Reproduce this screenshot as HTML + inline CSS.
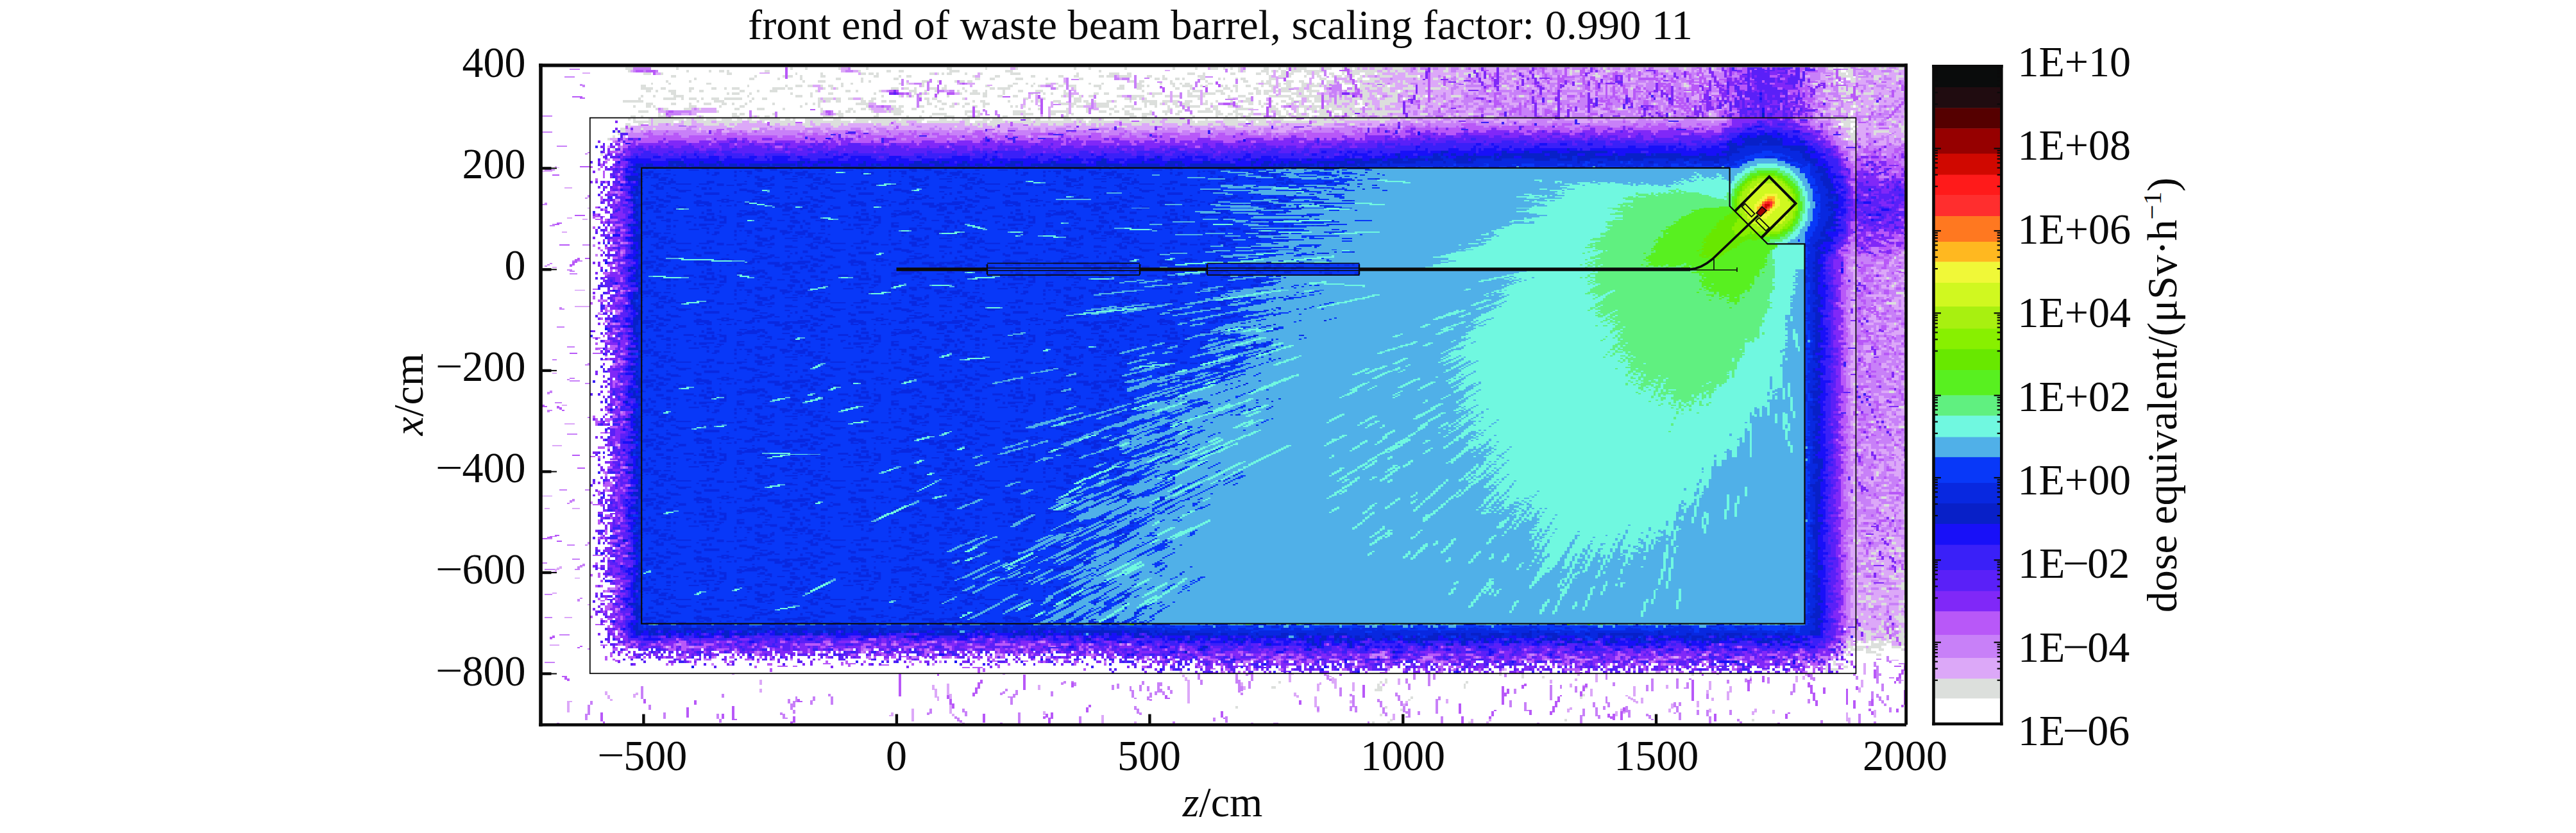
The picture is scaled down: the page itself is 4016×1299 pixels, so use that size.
<!DOCTYPE html><html><head><meta charset="utf-8"><style>html,body{margin:0;padding:0;background:#fff;width:4016px;height:1299px;overflow:hidden}svg{display:block}text{font-family:"Liberation Serif",serif;fill:#0a0a0a}</style></head><body>
<svg width="4016" height="1299" viewBox="0 0 4016 1299">
<rect width="4016" height="1299" fill="#fff"/>
<g transform="translate(840.86,104.93) scale(3.947,1.96925)" shape-rendering="crispEdges"><defs><pattern id="bgtex" patternUnits="userSpaceOnUse" width="61" height="47"><rect width="61" height="47" fill="#0838f8"/><path fill="#0828e0" d="M1 0h1v1h-1zM25 0h3v1h-3zM36 0h3v1h-3zM45 0h2v1h-2zM48 0h1v1h-1zM3 1h2v1h-2zM6 1h1v1h-1zM29 1h2v1h-2zM36 1h5v1h-5zM46 1h3v1h-3zM52 1h2v1h-2zM3 2h2v1h-2zM6 2h1v1h-1zM18 2h3v1h-3zM46 2h3v1h-3zM54 2h1v1h-1zM18 3h6v1h-6zM54 3h6v1h-6zM16 4h1v1h-1zM21 4h5v1h-5zM36 4h2v1h-2zM43 4h2v1h-2zM55 4h3v1h-3zM4 5h6v1h-6zM16 5h1v1h-1zM23 5h2v1h-2zM40 5h1v1h-1zM43 5h2v1h-2zM50 5h1v1h-1zM0 6h1v1h-1zM4 6h6v1h-6zM26 6h3v1h-3zM38 6h1v1h-1zM40 6h1v1h-1zM0 7h3v1h-3zM13 7h1v1h-1zM30 7h2v1h-2zM50 7h2v1h-2zM1 8h2v1h-2zM24 8h3v1h-3zM29 8h3v1h-3zM37 8h1v1h-1zM44 8h3v1h-3zM50 8h5v1h-5zM26 9h5v1h-5zM32 9h2v1h-2zM37 9h1v1h-1zM42 9h1v1h-1zM46 9h1v1h-1zM52 9h4v1h-4zM11 10h3v1h-3zM23 10h6v1h-6zM42 10h1v1h-1zM46 10h3v1h-3zM1 11h2v1h-2zM9 11h3v1h-3zM13 11h3v1h-3zM23 11h1v1h-1zM47 11h5v1h-5zM0 12h6v1h-6zM11 12h3v1h-3zM17 12h2v1h-2zM22 12h2v1h-2zM25 12h1v1h-1zM41 12h5v1h-5zM49 12h3v1h-3zM0 13h7v1h-7zM20 13h4v1h-4zM25 13h1v1h-1zM29 13h5v1h-5zM36 13h10v1h-10zM1 14h1v1h-1zM4 14h3v1h-3zM16 14h1v1h-1zM20 14h3v1h-3zM29 14h5v1h-5zM35 14h3v1h-3zM39 14h5v1h-5zM47 14h2v1h-2zM1 15h3v1h-3zM5 15h2v1h-2zM10 15h1v1h-1zM13 15h2v1h-2zM16 15h1v1h-1zM32 15h5v1h-5zM44 15h1v1h-1zM46 15h3v1h-3zM50 15h1v1h-1zM54 15h1v1h-1zM32 16h3v1h-3zM36 16h3v1h-3zM42 16h3v1h-3zM47 16h3v1h-3zM55 16h3v1h-3zM23 17h1v1h-1zM36 17h3v1h-3zM42 17h3v1h-3zM46 17h1v1h-1zM53 17h1v1h-1zM55 17h3v1h-3zM5 18h2v1h-2zM35 18h4v1h-4zM42 18h1v1h-1zM46 18h1v1h-1zM53 18h2v1h-2zM5 19h2v1h-2zM10 19h1v1h-1zM18 19h3v1h-3zM23 19h1v1h-1zM25 19h3v1h-3zM35 19h3v1h-3zM45 19h3v1h-3zM3 20h1v1h-1zM10 20h1v1h-1zM21 20h7v1h-7zM39 20h2v1h-2zM45 20h3v1h-3zM50 20h3v1h-3zM3 21h1v1h-1zM5 21h3v1h-3zM17 21h2v1h-2zM20 21h6v1h-6zM27 21h2v1h-2zM39 21h3v1h-3zM50 21h3v1h-3zM5 22h3v1h-3zM17 22h8v1h-8zM28 22h1v1h-1zM35 22h3v1h-3zM9 23h2v1h-2zM18 23h2v1h-2zM57 23h4v1h-4zM2 24h3v1h-3zM7 24h1v1h-1zM10 24h3v1h-3zM17 24h2v1h-2zM26 24h2v1h-2zM38 24h2v1h-2zM46 24h3v1h-3zM57 24h4v1h-4zM0 25h1v1h-1zM2 25h3v1h-3zM7 25h1v1h-1zM10 25h3v1h-3zM25 25h3v1h-3zM29 25h2v1h-2zM38 25h2v1h-2zM46 25h3v1h-3zM4 26h5v1h-5zM12 26h1v1h-1zM28 26h3v1h-3zM50 26h2v1h-2zM4 27h5v1h-5zM12 27h1v1h-1zM25 27h1v1h-1zM30 27h1v1h-1zM33 27h3v1h-3zM38 27h3v1h-3zM43 27h1v1h-1zM48 27h4v1h-4zM53 27h2v1h-2zM10 28h3v1h-3zM38 28h4v1h-4zM43 28h1v1h-1zM50 28h2v1h-2zM58 28h2v1h-2zM10 29h3v1h-3zM17 29h3v1h-3zM28 29h2v1h-2zM39 29h3v1h-3zM44 29h2v1h-2zM58 29h1v1h-1zM0 30h1v1h-1zM2 30h6v1h-6zM17 30h1v1h-1zM44 30h2v1h-2zM0 31h1v1h-1zM2 31h3v1h-3zM9 31h3v1h-3zM17 31h3v1h-3zM27 31h2v1h-2zM37 31h3v1h-3zM42 31h1v1h-1zM50 31h2v1h-2zM53 31h1v1h-1zM10 32h1v1h-1zM17 32h3v1h-3zM37 32h3v1h-3zM42 32h1v1h-1zM50 32h2v1h-2zM53 32h1v1h-1zM3 33h3v1h-3zM8 33h2v1h-2zM24 33h3v1h-3zM28 33h5v1h-5zM38 33h1v1h-1zM42 33h1v1h-1zM45 33h1v1h-1zM0 34h2v1h-2zM5 34h1v1h-1zM24 34h3v1h-3zM30 34h3v1h-3zM38 34h1v1h-1zM50 34h2v1h-2zM59 34h2v1h-2zM16 35h1v1h-1zM18 35h1v1h-1zM20 35h3v1h-3zM25 35h2v1h-2zM34 35h3v1h-3zM43 35h2v1h-2zM5 36h1v1h-1zM8 36h2v1h-2zM16 36h1v1h-1zM21 36h2v1h-2zM34 36h5v1h-5zM40 36h5v1h-5zM5 37h1v1h-1zM8 37h2v1h-2zM21 37h2v1h-2zM35 37h3v1h-3zM40 37h4v1h-4zM45 37h3v1h-3zM49 37h3v1h-3zM7 38h2v1h-2zM16 38h1v1h-1zM35 38h1v1h-1zM41 38h3v1h-3zM45 38h2v1h-2zM53 38h1v1h-1zM16 39h1v1h-1zM21 39h1v1h-1zM24 39h2v1h-2zM31 39h1v1h-1zM39 39h2v1h-2zM45 39h2v1h-2zM24 40h2v1h-2zM30 40h2v1h-2zM42 40h1v1h-1zM44 40h3v1h-3zM48 40h3v1h-3zM25 41h4v1h-4zM30 41h2v1h-2zM36 41h5v1h-5zM47 41h3v1h-3zM52 41h1v1h-1zM16 42h1v1h-1zM25 42h4v1h-4zM30 42h1v1h-1zM47 42h3v1h-3zM52 42h1v1h-1zM5 43h3v1h-3zM20 43h1v1h-1zM27 43h3v1h-3zM39 43h2v1h-2zM51 43h3v1h-3zM5 44h3v1h-3zM24 44h3v1h-3zM47 44h3v1h-3zM51 44h3v1h-3zM2 45h4v1h-4zM9 45h3v1h-3zM17 45h4v1h-4zM24 45h3v1h-3zM30 45h2v1h-2zM46 45h1v1h-1zM49 45h3v1h-3zM54 45h6v1h-6zM9 46h3v1h-3zM13 46h3v1h-3zM17 46h2v1h-2zM25 46h2v1h-2zM28 46h4v1h-4zM44 46h3v1h-3z"/></pattern></defs><path fill="#dcdfdc" d="M276 0h1v4h-1zm17 2h2v4h-2zm114 0h1v4h-1zm-45 2h1v4h-1zm-259 2h1v4h-1zm24 2h1v4h-1zm391 0h2v4h-2zm18 0h1v3h-1zm-225 2h3v3h-3zm200 0h1v4h-1zm-392 2h1v4h-1zm32 0h1v4h-1zm141 0h1v4h-1zm9 1h2v3h-2zm20 1h1v4h-1zm-46 2h1v4h-1zm58 0h3v4h-3zm184 0h2v3h-2zm-334 2h1v4h-1zm100 0h2v4h-2zm-176 2h1v4h-1zm68 0h2v4h-2zm150 1h3v3h-3zm-15 1h2v4h-2zm5 0h1v4h-1zm2 0h1v4h-1zm-200 2h2v4h-2zm94 0h3v4h-3zm95 0h3v4h-3zm7 0h1v4h-1zm-116 1h1v3h-1zm87 1h1v4h-1zm-34 1h2v3h-2zm50 0h1v3h-1zm219 0h1v3h-1zm-409 1h1v4h-1zm110 0h5v4h-5zm19 0h1v4h-1zm27 2h2v4h-2zm-155 2h1v4h-1zm105 0h1v4h-1zm83 0h1v4h-1zm3 0h1v4h-1zm219 0h1v3h-1zm-230 2h2v4h-2zm4 0h1v4h-1zm222 2h1v4h-1zm-460 6h3v4h-3zm111 0h2v4h-2zm371 0h1v4h-1zm-319 2h1v4h-1zm-188 4h2v4h-2zm496 272h1v4h-1zm-9 20h1v4h-1zm20 10h1v4h-1zm0 44h1v3h-1zm-15 24h2v4h-2zm15 0h1v4h-1zm-9 20h1v4h-1zm3 6h1v5h-1zm-9 6h2v4h-2zm13 2h3v3h-3zm-26 18h1v4h-1zm-3 4h1v6h-1zm-120 6h1v4h-1zm-54 4h1v4h-1zm31 4h1v4h-1z"/><path fill="none" stroke="#dcdfdc" stroke-width="1" d="M319 0.5h2m191 0h1m2 0h3m3 0h1m7 0h1m1 0h1m-212 1h1m196 0h2m10 0h3m2 0h1m-233 1h7m125 0h1m-133 1h3m1 0h4m7 0h2m1 1h4m41 0h4m-48 1h3m41 0h2m1 0h2m46 1h3m94 0h6m2 0h2m-106 1h2m38 0h1m50 0h2m4 0h5m-244 1h1m80 0h1m155 1h1m-362 1h3m161 0h1m-165 1h2m148 1h3m12 0h1m13 0h4m-21 1h1m16 0h1m2 0h1m-158 1h1m111 0h3m65 0h1m162 0h1m-344 1h2m110 0h2m21 0h2m43 0h2m103 0h1m51 0h3m-223 1h5m25 0h3m-33 1h3m28 0h2m206 0h1m-20 1h3m-63 1h2m58 0h6m19 0h1m-215 1h4m7 0h5m176 0h3m-362 1h1m36 0h1m1 0h1m138 0h4m177 0h2m-230 1h3m1 0h5m-9 1h9m-106 1h2m79 0h2m68 0h2m-152 1h1m149 0h1m171 0h5m-269 1h3m25 0h3m16 0h4m214 0h2m1 0h1m-241 1h4m15 0h1m217 0h1m-311 1h4m-3 1h3m-38 1h2m82 0h6m-89 1h1m82 0h1m1 0h4m-13 1h2m25 0h7m26 0h1m1 0h2m-94 1h1m29 0h1m5 0h1m20 0h5m28 0h4m7 3h3m-65 1h1m61 0h4m-16 1h5m1 0h1m196 0h1m-204 1h7m196 0h2m-321 1h3m54 0h5m2 0h3m275 0h1m-342 1h2m54 0h8m1 0h1m41 0h2m231 0h2m-403 1h9m45 0h10m35 0h4m3 0h5m-111 1h8m46 0h1m1 0h8m35 0h12m-203 1h2m136 0h5m9 0h3m111 0h5m-271 1h1m99 0h1m37 0h4m12 0h1m86 0h1m23 0h6m223 7h1m3 108h2m-1 1h1m0 8h1m-1 38h1m-19 236h1m0 3h4m-3 1h3m11 1h3m-8 1h1m3 0h4m-4 1h3m-5 1h1m2 0h2m-1 4h2m-62 27h1m-66 9h1"/><path fill="none" stroke="#dcdfdc" stroke-width="2" d="M34 1h3m17 0h1m44 0h1m5 0h1m12 0h1m10 0h1m31 0h2m13 0h1m11 0h1m22 0h1m5 0h1m13 0h1m18 0h1m8 0h1m5 0h3m2 0h1m2 0h1m12 0h2m4 0h1m2 0h1m1 0h1m1 0h4m5 0h1m1 0h3m4 0h1m4 0h1m1 0h1m2 0h1m2 0h3m4 0h4m6 0h1m10 0h1m5 0h1m55 0h1m31 0h1m10 0h1m45 0h2m26 0h2m-504 2h1m22 0h1m8 0h1m3 0h2m1 0h1m14 0h2m35 0h1m10 0h2m3 0h2m18 0h4m18 0h3m34 0h1m56 0h1m6 0h3m1 0h1m1 0h1m5 0h4m20 0h10m2 0h2m1 0h2m1 0h3m5 0h3m2 0h1m4 0h2m11 0h1m38 0h2m10 0h2m4 0h1m17 0h1m65 0h1m1 0h1m2 0h3m6 0h1m9 0h2m-496 2h3m4 0h1m25 0h2m25 0h1m9 0h1m15 0h2m1 0h2m1 0h1m20 0h2m1 0h1m1 0h1m1 0h2m5 0h1m5 0h1m11 0h4m22 0h1m12 0h4m3 0h2m22 0h3m3 0h1m10 0h2m8 0h2m2 0h1m8 0h2m5 0h2m1 0h2m4 0h2m3 0h1m8 0h4m1 0h2m5 0h1m3 0h1m41 0h1m32 0h1m95 0h3m1 0h2m12 0h2m-481 2h2m31 0h1m10 0h1m1 0h2m11 0h2m19 0h2m8 0h1m2 0h2m24 0h1m8 0h2m12 0h2m9 0h2m4 0h2m8 0h2m1 0h3m2 0h5m6 0h2m4 0h1m13 0h3m25 0h1m3 0h3m1 0h1m5 0h1m4 0h2m4 0h1m1 0h2m1 0h1m2 0h1m2 0h1m1 0h1m5 0h5m5 0h5m11 0h2m8 0h1m5 0h1m18 0h2m116 0h1m15 0h3m6 0h3m-478 2h1m21 0h2m9 0h1m22 0h2m21 0h2m30 0h2m4 0h2m8 0h3m9 0h1m12 0h2m28 0h2m1 0h2m3 0h2m1 0h1m6 0h2m5 0h1m1 0h1m6 0h2m9 0h3m17 0h3m8 0h1m3 0h2m3 0h4m15 0h1m5 0h2m8 0h2m19 0h2m45 0h1m89 0h1m5 0h2m-479 2h1m8 0h1m44 0h1m5 0h3m17 0h1m26 0h1m6 0h1m1 0h2m1 0h2m62 0h2m2 0h2m10 0h1m13 0h1m14 0h2m5 0h1m1 0h2m6 0h3m2 0h2m15 0h1m5 0h1m1 0h5m2 0h1m6 0h1m1 0h1m20 0h1m166 0h1m-486 2h1m6 0h1m14 0h2m55 0h1m18 0h1m2 0h1m41 0h2m3 0h1m2 0h1m4 0h2m2 0h1m2 0h1m9 0h1m4 0h1m13 0h2m7 0h1m3 0h2m2 0h1m1 0h2m7 0h2m17 0h1m2 0h3m5 0h3m8 0h1m1 0h2m9 0h3m3 0h1m12 0h1m3 0h2m12 0h1m4 0h1m4 0h1m43 0h3m40 0h1m50 0h2m4 0h1m3 0h1m20 0h1m-224 1h1m-272 1h2m40 0h1m14 0h1m3 0h3m2 0h2m3 0h1m2 0h2m44 0h1m24 0h2m7 0h1m2 0h1m7 0h2m2 0h3m7 0h3m7 0h2m5 0h3m1 0h1m9 0h1m3 0h4m3 0h1m1 0h1m5 0h1m1 0h1m2 0h2m3 0h2m4 0h1m9 0h2m7 0h4m1 0h1m14 0h5m2 0h2m1 0h1m1 0h2m5 0h2m35 0h2m8 0h1m61 0h2m71 0h2m10 0h1m-498 2h5m3 0h2m9 0h2m7 0h2m3 0h1m2 0h3m13 0h5m1 0h2m12 0h1m2 0h1m1 0h1m21 0h3m2 0h2m2 0h1m5 0h3m2 0h2m6 0h1m10 0h2m1 0h5m18 0h1m6 0h1m9 0h1m6 0h3m5 0h2m13 0h2m4 0h1m12 0h3m9 0h2m5 0h1m10 0h2m2 0h1m23 0h3m10 0h5m4 0h1m1 0h4m2 0h1m6 0h1m16 0h1m27 0h1m20 0h1m81 0h1m1 0h1m-474 2h2m2 0h1m4 0h3m5 0h1m3 0h2m14 0h2m5 0h1m4 0h3m15 0h1m11 0h2m2 0h1m8 0h1m11 0h3m3 0h1m3 0h1m8 0h1m2 0h1m2 0h2m3 0h1m12 0h2m5 0h3m8 0h1m30 0h1m17 0h1m1 0h3m6 0h3m3 0h1m12 0h4m1 0h1m1 0h4m2 0h3m1 0h5m2 0h1m8 0h3m3 0h2m11 0h1m1 0h1m33 0h2m131 0h3m10 0h1m5 0h1m-475 2h2m20 0h1m1 0h3m4 0h1m15 0h1m14 0h2m16 0h1m15 0h1m2 0h1m1 0h1m12 0h1m3 0h4m25 0h1m2 0h1m4 0h2m10 0h2m2 0h2m15 0h1m1 0h4m10 0h2m4 0h5m2 0h2m9 0h2m4 0h2m9 0h3m1 0h1m2 0h1m24 0h2m12 0h2m175 0h2m1 0h4m-487 2h1m4 0h1m7 0h4m25 0h1m18 0h3m31 0h1m6 0h1m2 0h1m1 0h1m2 0h1m10 0h1m19 0h2m4 0h2m17 0h1m1 0h1m1 0h1m2 0h1m3 0h2m9 0h2m4 0h5m3 0h1m4 0h2m1 0h3m3 0h5m1 0h1m9 0h1m3 0h3m20 0h10m10 0h2m9 0h1m1 0h1m4 0h2m7 0h2m1 0h1m2 0h1m7 0h4m23 0h2m125 0h2m15 0h2m-494 2h1m9 0h5m2 0h1m2 0h3m2 0h1m3 0h3m2 0h7m4 0h1m3 0h2m20 0h1m1 0h4m6 0h2m3 0h1m3 0h2m19 0h2m1 0h2m10 0h1m31 0h1m31 0h2m1 0h2m1 0h1m1 0h1m20 0h1m18 0h2m15 0h2m5 0h1m17 0h3m1 0h2m4 0h1m2 0h5m7 0h1m1 0h1m54 0h1m107 0h1m9 0h1m3 0h2m-494 2h8m21 0h1m6 0h4m10 0h1m26 0h2m1 0h2m12 0h2m1 0h2m3 0h2m1 0h3m12 0h1m3 0h2m12 0h1m2 0h2m9 0h1m8 0h1m8 0h3m9 0h2m2 0h1m4 0h2m1 0h1m5 0h1m4 0h6m2 0h3m6 0h3m5 0h1m3 0h1m5 0h1m2 0h1m12 0h1m3 0h2m8 0h2m10 0h5m1 0h1m3 0h4m3 0h7m14 0h1m3 0h1m40 0h2m107 0h1m-466 2h3m7 0h2m5 0h1m5 0h3m4 0h2m2 0h1m4 0h1m10 0h1m12 0h1m2 0h1m16 0h5m23 0h2m4 0h2m2 0h1m1 0h1m2 0h2m5 0h3m32 0h2m4 0h2m23 0h3m1 0h1m1 0h1m6 0h3m5 0h2m1 0h1m9 0h1m4 0h2m4 0h1m4 0h1m3 0h2m1 0h1m6 0h1m6 0h2m1 0h2m3 0h2m1 0h1m1 0h1m2 0h1m3 0h4m19 0h1m84 0h1m70 0h2m9 0h1m4 0h2m-492 2h1m4 0h2m1 0h1m13 0h3m9 0h1m7 0h2m22 0h1m25 0h1m9 0h2m1 0h2m6 0h2m4 0h1m5 0h2m3 0h1m7 0h1m10 0h1m1 0h1m2 0h1m18 0h1m1 0h3m12 0h1m3 0h4m8 0h1m4 0h1m2 0h2m19 0h2m3 0h1m7 0h1m3 0h2m9 0h4m1 0h4m1 0h5m2 0h1m1 0h3m5 0h3m2 0h2m2 0h2m10 0h2m168 0h1m1 0h1m3 0h1m-479 2h1m2 0h2m6 0h3m3 0h1m13 0h2m7 0h3m7 0h1m25 0h2m3 0h2m1 0h1m5 0h1m3 0h3m4 0h2m9 0h2m33 0h1m3 0h1m10 0h1m16 0h2m3 0h1m3 0h4m25 0h2m23 0h4m2 0h1m9 0h3m6 0h7m1 0h3m5 0h1m3 0h1m6 0h1m7 0h1m7 0h1m21 0h2m21 0h1m24 0h2m27 0h1m54 0h2m2 0h1m12 0h1m4 0h1m1 0h1m-496 2h4m27 0h1m47 0h1m2 0h2m1 0h1m6 0h1m5 0h1m1 0h5m7 0h1m16 0h3m1 0h2m13 0h5m10 0h7m12 0h3m3 0h2m2 0h2m8 0h1m4 0h3m3 0h2m6 0h6m1 0h2m5 0h2m5 0h1m6 0h1m16 0h1m1 0h4m2 0h1m3 0h4m1 0h3m1 0h15m166 0h1m6 0h2m3 0h1m-473 2h1m1 0h1m26 0h2m1 0h2m11 0h1m24 0h3m13 0h1m6 0h3m12 0h6m7 0h1m4 0h1m13 0h3m1 0h4m7 0h2m4 0h1m1 0h1m14 0h1m5 0h4m3 0h4m5 0h1m3 0h2m14 0h3m2 0h2m1 0h3m2 0h2m3 0h2m10 0h1m1 0h2m2 0h1m4 0h4m2 0h2m1 0h1m9 0h2m1 0h5m13 0h3m11 0h1m4 0h2m77 0h1m15 0h1m61 0h1m14 0h1m-504 2h2m2 0h1m6 0h3m2 0h1m9 0h1m1 0h1m11 0h3m5 0h1m1 0h1m2 0h2m21 0h4m2 0h2m12 0h2m11 0h1m4 0h1m3 0h1m5 0h4m5 0h2m1 0h2m9 0h2m6 0h1m15 0h2m24 0h3m2 0h2m18 0h1m8 0h1m3 0h1m3 0h1m1 0h1m1 0h2m11 0h3m1 0h1m2 0h5m1 0h1m14 0h1m1 0h1m9 0h1m4 0h2m20 0h1m14 0h3m-342 2h1m1 0h1m5 0h1m1 0h12m1 0h2m1 0h4m1 0h4m2 0h4m2 0h2m2 0h2m3 0h8m2 0h2m1 0h1m4 0h7m4 0h3m6 0h17m1 0h9m6 0h3m2 0h1m3 0h3m5 0h3m1 0h4m13 0h2m3 0h1m5 0h3m2 0h3m3 0h3m1 0h1m6 0h4m5 0h8m17 0h1m6 0h6m3 0h8m2 0h5m10 0h6m1 0h2m1 0h2m2 0h9m1 0h8m3 0h1m2 0h2m11 0h1m156 0h3m1 0h2m5 0h2m-488 2h7m1 0h8m2 0h1m6 0h6m2 0h10m3 0h3m2 0h1m2 0h10m4 0h2m1 0h15m1 0h6m11 0h4m4 0h2m2 0h13m6 0h5m1 0h6m12 0h15m1 0h1m1 0h2m1 0h10m16 0h2m2 0h9m1 0h2m1 0h7m3 0h9m1 0h1m1 0h1m1 0h3m2 0h1m3 0h11m3 0h7m1 0h3m14 0h2m12 0h1m167 0h6m7 0h1m6 0h2m-502 2h2m7 0h1m1 0h2m5 0h1m12 0h6m2 0h2m2 0h1m13 0h2m2 0h3m1 0h2m3 0h3m2 0h2m4 0h4m1 0h2m10 0h1m2 0h3m5 0h3m25 0h2m1 0h1m20 0h3m3 0h2m1 0h3m5 0h2m2 0h2m4 0h1m11 0h4m3 0h5m6 0h2m3 0h7m2 0h3m2 0h5m6 0h6m3 0h2m27 0h2m193 0h3m19 0h1m-503 2h1m38 0h3m28 0h3m8 0h2m46 0h1m8 0h2m4 0h1m48 0h1m1 0h2m33 0h1m9 0h3m233 0h2m1 0h4m1 0h2m6 0h1m5 0h1m3 0h3m-500 2h1m4 0h1m17 0h1m20 0h3m431 0h1m19 0h2m-510 2h1m485 0h2m1 0h1m7 0h6m5 0h1m-508 2h1m485 0h3m7 0h1m11 0h1m-511 2h1m488 0h2m15 0h1m-509 2h1m487 0h1m1 0h3m18 0h2m-21 2h1m-491 6h1m-6 4h1m514 78h1m-5 4h1m-17 8h1m12 8h1m2 4h1m-2 2h1m-16 4h1m16 2h3m-7 8h4m-17 2h1m9 2h1m5 12h1m-17 16h1m6 8h1m-8 14h1m16 0h1m-18 10h1m19 0h1m-7 6h2m-16 8h1m17 4h2m-19 4h1m5 8h1m-8 2h1m12 2h1m4 0h3m-13 2h1m11 12h1m-5 2h1m-17 2h1m1 0h1m-3 26h1m11 2h1m-2 10h2m-1 6h2m6 0h1m-10 4h1m3 6h1m4 0h1m-1 6h1m-16 8h2m6 2h3m-16 2h1m1 0h1m-2 2h1m13 0h2m0 4h2m-10 2h1m4 0h2m1 0h4m-14 2h2m6 2h1m2 0h1m-13 2h3m0 2h1m-7 2h2m2 0h1m3 0h1m-7 4h1m5 0h1m6 0h1m-13 2h1m10 0h3m-20 2h1m1 0h1m8 0h1m4 0h1m3 0h1m-7 2h2m-1 2h3m1 0h1m-14 4h1m12 0h2m-20 2h1m2 0h2m9 0h1m1 0h4m-10 2h2m6 0h2m-15 2h1m6 0h1m-12 4h1m7 2h2m-10 2h3m2 0h2m9 0h2m-14 2h1m4 0h2m-7 2h2m10 0h2m-2 2h1m1 0h1m-6 2h1m-13 2h1m6 0h1m7 0h1m-18 2h1m4 0h1m9 0h4m-3 2h4m-17 2h1m13 0h3m-8 2h1m-4 2h1m7 0h1m-17 2h2m6 0h2m4 0h1m1 0h2m-11 2h1m1 0h2m6 0h1m-15 2h4m3 2h2m-5 2h2m2 0h1m1 0h2m-20 2h2m2 0h1m1 0h1m1 0h1m1 0h1m2 0h2m1 0h2m-17 2h1m8 0h6m6 0h1m-22 2h2m1 0h4m1 0h5m4 0h4m-23 2h2m1 0h5m1 0h2m3 0h2m7 0h1m-15 2h4m-12 2h2m10 0h2m-13 6h1m-3 4h2m-7 2h3m-134 4h1m75 0h1m-60 2h1m-105 4h1m39 0h1m33 0h1m-36 2h1m-43 2h2m40 0h2m-3 2h3m79 4h1m-69 2h1m66 0h1m-69 2h1m-69 6h1m58 0h1m5 2h1m-9 4h1m3 4h1m68 0h1m73 0h1m-151 2h1m5 0h1m31 0h1"/><path fill="#dca8f8" d="M277 0h1v4h-1zm82 0h1v4h-1zm-69 2h1v4h-1zm103 0h1v4h-1zm11 0h1v4h-1zm2 0h1v4h-1zm27 0h1v4h-1zm-128 1h1v5h-1zm67 1h1v5h-1zm4 0h1v3h-1zm19 0h1v4h-1zm125 0h1v6h-1zm-67 2h1v4h-1zm77 0h1v4h-1zm-323 2h1v4h-1zm221 0h2v3h-2zm-137 1h1v6h-1zm13 0h1v4h-1zm85 0h1v3h-1zm-2 1h1v4h-1zm60 2h1v3h-1zm4 0h1v4h-1zm-141 2h1v4h-1zm37 2h3v4h-3zm53 0h1v4h-1zm20 0h1v4h-1zm2 0h1v4h-1zm5 0h1v4h-1zm-137 1h1v4h-1zm2 0h1v4h-1zm-31 1h1v12h-1zm100 0h3v4h-3zm69 0h2v6h-2zm-181 1h1v9h-1zm66 0h1v3h-1zm127 0h1v3h-1zm-84 1h2v4h-2zm57 0h2v3h-2zm120 0h4v4h-4zm-342 1h1v4h-1zm3 1h1v8h-1zm208 0h2v4h-2zm55 0h1v3h-1zm-4 1h3v3h-3zm-168 1h1v3h-1zm14 0h2v4h-2zm39 0h1v3h-1zm14 0h3v4h-3zm-163 1h1v4h-1zm131 1h1v4h-1zm7 0h3v4h-3zm59 0h1v4h-1zm132 0h2v4h-2zm-318 1h1v4h-1zm7 1h1v9h-1zm10 0h1v4h-1zm140 0h1v4h-1zm73 0h1v4h-1zm-242 2h1v3h-1zm253 0h1v5h-1zm-242 2h1v8h-1zm327 0h1v3h-1zm5 0h1v5h-1zm-284 1h1v4h-1zm158 2h1v5h-1zm40 0h1v3h-1zm-70 1h2v3h-2zm-333 4h1v6h-1zm237 2h1v4h-1zm257 0h1v4h-1zm-6 1h2v3h-2zm-350 1h4v3h-4zm-145 4h3v4h-3zm161 0h2v4h-2zm-164 1h2v3h-2zm499 5h2v6h-2zm-15 12h2v4h-2zm1 96h1v4h-1zm0 10h1v4h-1zm-1 13h2v3h-2zm1 5h1v5h-1zm-1 5h2v5h-2zm0 6h2v3h-2zm10 3h1v4h-1zm-10 2h2v6h-2zm1 6h1v6h-1zm7 1h1v3h-1zm-3 7h3v4h-3zm12 2h1v3h-1zm-7 2h2v4h-2zm-10 4h2v4h-2zm0 16h2v6h-2zm1 10h1v6h-1zm20 4h1v4h-1zm0 9h1v3h-1zm-21 1h2v4h-2zm0 4h1v4h-1zm14 0h2v4h-2zm4 0h4v4h-4zm-17 4h1v4h-1zm6 28h1v4h-1zm4 10h2v4h-2zm-10 4h1v4h-1zm8 2h1v6h-1zm-9 4h2v4h-2zm1 6h1v4h-1zm-2 7h3v3h-3zm1 3h1v4h-1zm20 0h2v4h-2zm-19 18h1v4h-1zm20 0h1v4h-1zm-4 2h1v4h-1zm2 6h3v4h-3zm-2 14h1v4h-1zm-10 4h1v4h-1zm-1 40h1v6h-1zm9 2h4v4h-4zm-14 12h1v5h-1zm20 6h1v4h-1zm-21 2h4v4h-4zm5 2h1v3h-1zm0 4h1v4h-1zm11 3h3v3h-3zm-20 3h1v4h-1zm9 14h1v9h-1zm-106 8h1v7h-1zm-121 1h1v6h-1zm200 1h1v5h-1zm3 0h1v3h-1zm-186 2h2v4h-2zm26 0h1v5h-1zm-252 1h1v4h-1zm312 0h1v3h-1zm123 0h1v6h-1zm-266 1h1v18h-1zm206 0h1v7h-1zm-185 1h1v3h-1zm44 0h1v7h-1zm-160 1h1v8h-1zm153 0h1v4h-1zm93 0h1v3h-1zm-252 1h1v3h-1zm42 0h1v4h-1zm110 0h1v5h-1zm138 0h1v3h-1zm-167 1h1v3h-1zm154 0h1v8h-1zm38 0h1v4h-1zm51 1h1v4h-1zm-434 1h1v3h-1zm328 0h1v6h-1zm-259 1h1v5h-1zm305 0h1v3h-1zm-435 1h1v3h-1zm443 1h1v6h-1zm-442 2h1v3h-1zm135 0h1v3h-1zm144 1h1v8h-1zm-149 1h1v3h-1zm278 0h1v5h-1zm28 0h1v3h-1zm-105 1h1v4h-1zm-38 1h1v3h-1zm137 1h1v5h-1zm-446 1h1v8h-1zm436 1h1v4h-1zm-285 1h1v7h-1zm-15 3h1v10h-1zm299 0h1v3h-1zm16 0h1v3h-1zm25 1h1v3h-1zm40 0h1v6h-1zm-328 1h1v3h-1zm226 0h1v4h-1zm91 1h1v4h-1zm-179 1h1v5h-1zm-115 1h1v7h-1zm294 2h2v3h-2zm-148 1h1v4h-1z"/><path fill="none" stroke="#dca8f8" stroke-width="1" d="M407 0.5h1m6 0h1m87 0h1m17 0h1m1 0h5m3 0h1m1 0h1m3 0h1m-131 1h2m5 0h2m42 0h1m65 0h4m5 0h2m1 0h2m-290 1h2m122 0h1m3 0h3m45 0h4m24 0h4m8 0h4m57 0h1m-154 1h2m1 0h4m45 0h2m1 0h1m24 0h1m2 0h1m11 0h1m-450 1h3m67 0h4m324 0h2m12 0h2m29 0h2m44 0h1m-95 1h1m1 0h3m12 0h1m30 0h3m43 0h4m-221 1h2m23 0h1m41 0h2m2 0h2m17 0h3m4 0h1m19 0h2m6 0h2m26 0h2m79 0h1m-235 1h3m64 0h1m3 0h1m19 0h2m4 0h2m23 0h1m2 0h1m26 0h3m-153 1h3m10 0h2m42 0h2m8 0h2m14 0h1m2 0h1m10 0h2m27 0h3m-72 1h1m1 0h1m8 0h1m12 0h3m21 0h1m1 0h1m18 0h2m-59 1h1m2 0h2m7 0h4m18 0h2m12 0h2m5 0h1m6 0h2m7 0h2m7 0h1m2 0h1m12 0h2m46 0h2m10 0h2m12 0h6m3 0h1m-177 1h4m6 0h3m19 0h1m13 0h1m5 0h2m5 0h1m5 0h5m7 0h2m1 0h4m58 0h1m26 0h4m-172 1h1m38 0h1m52 0h2m-155 1h2m151 0h3m-282 1h2m183 0h4m19 0h2m2 0h1m15 0h3m1 0h1m93 0h2m6 0h1m-149 1h3m19 0h1m2 0h2m15 0h5m54 0h1m41 0h1m14 0h2m-160 1h2m39 0h2m23 0h2m1 0h1m75 0h3m23 0h2m-174 1h3m38 0h3m24 0h1m34 0h1m41 0h4m22 0h3m-326 1h2m153 0h2m46 0h1m21 0h2m73 0h1m16 0h7m-323 1h1m153 0h6m42 0h2m21 0h1m15 0h1m3 0h1m2 0h1m50 0h2m15 0h6m-107 1h1m-136 1h2m20 0h1m111 0h2m30 0h1m64 0h1m-232 1h1m106 0h4m54 0h2m4 0h1m57 0h1m-123 1h3m14 0h3m45 0h1m-266 1h1m75 0h2m152 0h1m9 0h1m9 0h1m78 0h1m-253 1h1m161 0h2m10 0h1m-50 1h1m43 0h1m61 0h1m1 0h1m28 0h2m-331 1h1m191 0h2m42 0h2m62 0h6m23 0h1m-196 1h2m74 0h3m114 0h3m-348 1h2m122 0h1m27 0h3m47 0h1m22 0h1m4 0h1m27 0h2m85 0h2m2 0h1m-343 1h1m209 0h1m21 0h2m3 0h1m75 0h4m22 0h1m-336 1h2m71 0h1m235 0h3m21 0h1m-193 1h5m15 0h4m39 0h2m96 0h1m-224 1h4m58 0h6m13 0h5m39 0h1m22 0h2m35 0h2m-155 1h1m97 0h3m28 0h1m9 0h1m68 0h1m1 0h5m3 0h1m-122 1h4m38 0h2m69 0h4m2 0h3m-207 1h3m91 0h2m24 0h1m-122 1h4m71 0h1m19 0h1m15 0h1m-116 1h1m117 0h1m93 0h2m-215 1h2m57 0h1m19 0h1m38 0h2m6 0h1m67 0h3m-115 1h1m4 0h9m31 0h7m76 0h3m-131 1h2m3 0h4m1 0h4m32 0h6m-225 1h3m104 0h7m36 0h5m140 0h2m7 0h3m-307 1h2m105 0h5m1 0h1m23 0h2m11 0h3m1 0h1m64 0h2m80 0h1m-275 1h2m20 0h3m256 0h2m-283 1h3m19 0h4m-244 1h19m3 0h1m128 0h21m13 0h7m16 0h8m28 0h9m5 0h9m2 0h2m-271 1h23m123 0h26m13 0h6m19 0h6m26 0h11m5 0h4m4 0h5m-272 1h1m28 0h10m68 0h12m16 0h15m27 0h6m307 0h4m4 0h5m-474 1h6m3 0h1m67 0h13m16 0h6m4 0h5m27 0h5m308 0h13m-5 1h5m-5 1h2m1 0h2m-25 1h1m21 0h4m-5 1h5m-8 1h1m2 6h4m-3 1h3m-19 1h1m-494 6h1m-1 5h1m-21 5h1m-1 1h2m-8 3h5m5 13h3m-2 24h2m4 1h2m-10 10h2m524 26h3m-3 1h1m-531 1h2m529 2h1m-2 2h2m-2 1h4m-10 7h1m0 4h5m-2 1h2m-4 7h2m-2 1h1m0 2h1m-6 3h3m-516 1h6m506 0h1m1 0h2m-7 3h1m2 0h1m1 0h3m-8 1h2m4 0h2m-4 1h1m-2 1h1m2 1h1m4 14h5m-7 1h7m-14 1h2m7 0h2m-1 1h1m-3 7h3m-2 1h2m-18 2h2m13 1h1m-1 1h2m-12 3h5m-5 1h4m7 1h1m-12 2h3m-2 1h2m-2 3h1m-2 1h2m-520 5h2m510 0h3m-3 1h1m11 19h4m-4 1h3m-523 4h2m523 2h3m-527 13h4m505 8h1m8 4h2m-2 1h1m-524 4h4m525 9h2m-1 1h1m-508 2h1m494 15h3m1 0h3m-7 1h7m-7 8h1m-7 1h1m1 0h1m-518 13h2m9 0h3m502 7h2m7 6h1m3 0h1m-2 1h2m-5 3h1m-1 1h2m-3 1h6m-5 1h5m-4 3h3m-3 1h2m1 1h2m-3 1h1m1 0h1m-4 3h3m1 0h5m-9 1h9m-9 3h4m-3 1h3m-6 3h2m1 0h1m2 0h1m-7 1h1m0 1h2m5 2h1m-5 2h4m3 0h2m-9 1h5m1 0h1m1 0h1m-9 1h2m2 0h3m-530 1h1m518 0h6m3 0h2m-531 1h2m-3 1h2m-2 1h1m-2 1h2m521 10h3m-526 7h2m12 9h1m515 5h3m-3 1h4m-529 4h3m507 1h8m-7 1h7m3 1h1m0 4h1m-14 8h3m4 0h5m-12 1h5m2 0h1m7 3h2m-532 3h4m288 23h2m14 2h1m0 1h1m164 0h1m-224 2h2m281 0h1m-231 2h1m-2 1h2m103 1h1m-258 3h2m312 2h2m-433 1h1m-2 1h2m122 0h2m135 1h2m129 0h1m-274 1h2m141 0h1m130 0h1m-1 1h2m-1 1h2m-1 1h1m-422 1h2m419 0h2m-1 1h1m-128 3h2m99 1h1m-2 1h2m-101 2h1m171 0h2m-53 1h1m-291 2h2"/><path fill="none" stroke="#dca8f8" stroke-width="2" d="M119 1h3m64 0h2m76 0h1m33 0h1m24 0h1m1 0h2m1 0h2m3 0h1m1 0h2m4 0h3m2 0h1m5 0h1m2 0h3m5 0h1m1 0h1m2 0h3m3 0h4m1 0h3m1 0h3m5 0h1m6 0h2m2 0h3m13 0h1m2 0h1m1 0h1m3 0h2m4 0h3m1 0h1m2 0h6m4 0h2m1 0h2m4 0h2m3 0h1m39 0h1m3 0h1m19 0h1m-493 2h1m82 0h2m3 0h2m194 0h1m10 0h2m2 0h1m2 0h1m3 0h2m1 0h2m6 0h4m5 0h7m10 0h2m2 0h1m3 0h3m7 0h3m8 0h1m4 0h1m5 0h1m8 0h1m2 0h1m3 0h1m6 0h3m1 0h1m9 0h1m2 0h1m1 0h1m46 0h3m9 0h3m3 0h4m4 0h1m2 0h2m-493 2h2m78 0h1m29 0h1m16 0h1m159 0h5m1 0h3m1 0h7m2 0h10m1 0h2m16 0h3m1 0h1m3 0h2m8 0h1m8 0h3m7 0h4m14 0h3m7 0h2m63 0h1m14 0h5m2 0h4m1 0h1m-81 1h1m-287 1h2m54 0h1m90 0h1m5 0h1m1 0h3m1 0h1m5 0h5m7 0h1m2 0h3m8 0h4m2 0h1m21 0h1m8 0h2m1 0h1m15 0h1m3 0h1m4 0h1m6 0h2m1 0h2m11 0h1m4 0h1m43 0h2m4 0h2m2 0h1m14 0h1m6 0h4m-307 2h1m85 0h4m13 0h4m1 0h8m1 0h1m5 0h1m2 0h1m6 0h1m2 0h1m15 0h1m4 0h1m7 0h1m14 0h2m2 0h2m17 0h2m11 0h1m2 0h1m12 0h2m2 0h1m40 0h3m2 0h1m2 0h1m7 0h5m7 0h2m1 0h2m-394 2h1m86 0h1m85 0h3m1 0h1m1 0h1m5 0h2m1 0h6m1 0h1m1 0h9m1 0h5m23 0h1m1 0h3m14 0h3m16 0h1m1 0h1m16 0h1m12 0h1m8 0h1m48 0h3m9 0h4m3 0h2m-383 2h2m17 0h1m3 0h3m30 0h2m80 0h2m28 0h1m10 0h2m1 0h2m4 0h1m1 0h1m1 0h3m2 0h1m3 0h2m1 0h1m1 0h3m1 0h1m1 0h2m6 0h2m1 0h3m2 0h2m3 0h1m3 0h3m10 0h2m8 0h1m8 0h1m18 0h3m16 0h1m9 0h1m4 0h1m33 0h1m5 0h1m7 0h4m1 0h4m3 0h6m1 0h1m-428 2h3m39 0h1m19 0h1m27 0h2m2 0h1m100 0h1m4 0h1m20 0h2m2 0h1m4 0h5m2 0h1m1 0h4m1 0h4m2 0h3m21 0h1m8 0h2m4 0h2m2 0h1m13 0h2m2 0h2m1 0h2m2 0h1m4 0h2m3 0h1m17 0h1m5 0h1m48 0h1m7 0h2m5 0h1m2 0h1m4 0h5m-247 1h2m211 0h1m-394 1h2m4 0h1m26 0h1m66 0h1m87 0h2m2 0h2m22 0h2m3 0h2m3 0h5m15 0h2m1 0h1m6 0h6m3 0h2m2 0h3m1 0h3m3 0h1m2 0h2m4 0h1m8 0h3m1 0h1m3 0h1m9 0h1m9 0h1m4 0h1m2 0h1m4 0h1m4 0h1m4 0h1m55 0h1m5 0h3m1 0h2m1 0h3m1 0h1m5 0h1m-428 2h1m24 0h2m23 0h2m149 0h2m4 0h1m6 0h1m2 0h6m3 0h2m3 0h1m1 0h3m7 0h7m17 0h1m6 0h1m9 0h1m1 0h2m18 0h1m27 0h1m76 0h1m1 0h3m10 0h2m-392 2h1m5 0h1m11 0h2m44 0h3m28 0h1m58 0h1m6 0h2m1 0h2m16 0h1m2 0h4m5 0h3m2 0h1m1 0h4m1 0h5m10 0h2m1 0h1m9 0h3m10 0h1m9 0h1m2 0h4m2 0h1m5 0h3m1 0h2m11 0h1m3 0h1m8 0h1m14 0h3m38 0h2m2 0h1m4 0h3m11 0h2m1 0h4m-391 2h1m63 0h1m6 0h1m15 0h2m86 0h1m4 0h1m4 0h2m5 0h2m4 0h2m5 0h1m4 0h1m1 0h1m8 0h1m6 0h4m3 0h1m3 0h1m1 0h1m1 0h1m2 0h2m19 0h1m16 0h2m5 0h1m1 0h1m7 0h1m1 0h1m61 0h3m5 0h2m4 0h4m3 0h1m-419 2h1m4 0h1m7 0h3m41 0h1m64 0h1m4 0h1m73 0h1m3 0h1m1 0h3m3 0h1m2 0h4m1 0h2m13 0h1m1 0h2m7 0h3m2 0h2m9 0h3m5 0h2m6 0h1m18 0h2m30 0h2m23 0h1m38 0h3m1 0h2m1 0h1m9 0h3m5 0h7m-425 2h1m113 0h1m50 0h1m32 0h3m7 0h1m27 0h3m1 0h1m5 0h1m3 0h2m5 0h3m8 0h4m10 0h2m11 0h3m6 0h1m10 0h1m4 0h2m70 0h1m18 0h5m1 0h2m1 0h3m-87 1h1m-319 1h3m31 0h1m81 0h1m40 0h1m9 0h1m3 0h1m9 0h1m5 0h3m7 0h1m8 0h5m7 0h2m1 0h4m1 0h1m4 0h4m2 0h2m2 0h2m2 0h2m6 0h4m11 0h2m39 0h1m1 0h1m3 0h1m12 0h1m51 0h1m2 0h1m1 0h4m4 0h4m2 0h5m-402 2h1m82 0h3m47 0h1m10 0h1m16 0h1m3 0h3m4 0h1m10 0h2m1 0h1m11 0h2m2 0h2m2 0h3m3 0h3m3 0h1m2 0h3m9 0h1m3 0h2m10 0h1m3 0h1m4 0h2m2 0h4m3 0h1m1 0h1m1 0h1m13 0h2m3 0h1m2 0h1m40 0h1m46 0h3m3 0h1m1 0h1m1 0h1m1 0h2m9 0h2m-111 1h1m-382 1h1m11 0h1m1 0h1m1 0h6m61 0h5m2 0h2m79 0h2m76 0h2m4 0h1m16 0h1m3 0h1m1 0h3m1 0h1m1 0h1m1 0h6m9 0h1m1 0h4m2 0h2m8 0h3m4 0h2m1 0h1m4 0h1m8 0h1m3 0h1m4 0h1m7 0h1m1 0h1m2 0h1m2 0h3m5 0h2m22 0h2m55 0h2m2 0h1m5 0h6m1 0h3m1 0h1m3 0h2m5 0h2m-492 2h3m10 0h10m42 0h1m19 0h5m1 0h1m150 0h2m7 0h1m7 0h1m14 0h1m20 0h1m1 0h1m2 0h2m2 0h2m3 0h2m8 0h3m4 0h5m16 0h2m22 0h4m8 0h1m2 0h1m1 0h1m2 0h1m23 0h2m42 0h1m1 0h5m3 0h2m20 0h2m-484 2h3m1 0h2m49 0h2m3 0h1m57 0h1m15 0h1m91 0h3m11 0h1m4 0h2m26 0h1m5 0h1m1 0h4m2 0h2m2 0h1m4 0h1m5 0h2m1 0h1m1 0h4m2 0h3m10 0h1m1 0h1m10 0h1m7 0h3m7 0h1m18 0h1m30 0h2m39 0h1m2 0h1m2 0h3m1 0h2m3 0h1m1 0h3m1 0h1m1 0h1m7 0h4m-341 1h1m-149 1h1m12 0h1m21 0h1m192 0h1m10 0h1m7 0h2m7 0h1m9 0h1m6 0h2m1 0h2m3 0h1m1 0h4m2 0h3m1 0h7m3 0h1m3 0h2m1 0h1m1 0h1m1 0h3m6 0h1m29 0h2m11 0h2m5 0h1m3 0h2m17 0h1m11 0h1m3 0h3m39 0h2m12 0h2m14 0h1m2 0h1m1 0h1m-480 2h1m160 0h1m24 0h2m62 0h1m2 0h1m2 0h2m9 0h1m8 0h3m1 0h2m2 0h3m2 0h6m1 0h1m3 0h6m2 0h1m4 0h4m2 0h3m1 0h9m24 0h5m2 0h5m1 0h5m3 0h1m1 0h5m13 0h12m36 0h4m1 0h2m3 0h1m6 0h1m3 0h1m7 0h6m-12 1h2m-474 1h1m3 0h2m6 0h2m10 0h3m3 0h2m19 0h1m32 0h1m4 0h4m17 0h2m16 0h1m10 0h1m15 0h1m1 0h1m28 0h1m2 0h2m20 0h3m17 0h2m1 0h3m12 0h2m7 0h1m3 0h14m12 0h2m1 0h2m3 0h2m3 0h3m1 0h1m8 0h1m16 0h3m8 0h2m10 0h5m1 0h2m2 0h2m9 0h2m7 0h1m22 0h1m40 0h1m5 0h4m6 0h1m4 0h2m9 0h1m-490 2h3m1 0h1m1 0h4m3 0h5m6 0h2m2 0h2m1 0h12m3 0h2m3 0h1m2 0h3m3 0h2m2 0h4m4 0h1m2 0h10m1 0h2m3 0h1m1 0h3m3 0h1m1 0h20m2 0h1m2 0h1m1 0h2m10 0h4m3 0h1m3 0h3m2 0h1m3 0h5m2 0h2m2 0h2m1 0h1m1 0h6m1 0h4m4 0h3m5 0h6m12 0h2m3 0h2m17 0h3m2 0h2m1 0h8m6 0h4m5 0h1m2 0h2m2 0h1m2 0h3m2 0h1m1 0h1m12 0h1m33 0h1m127 0h2m7 0h5m1 0h2m-466 2h12m3 0h14m1 0h13m3 0h8m2 0h14m1 0h8m1 0h7m2 0h5m1 0h7m1 0h8m2 0h4m1 0h1m29 0h2m1 0h7m9 0h1m2 0h11m10 0h4m1 0h7m1 0h4m2 0h3m15 0h3m16 0h9m5 0h8m9 0h1m168 0h2m10 0h6m1 0h5m1 0h1m-494 2h4m1 0h12m2 0h3m13 0h8m6 0h3m2 0h1m1 0h8m6 0h2m2 0h8m4 0h2m2 0h2m4 0h3m16 0h2m1 0h3m1 0h5m21 0h4m1 0h1m6 0h3m4 0h3m14 0h1m5 0h4m1 0h7m1 0h2m1 0h1m4 0h7m2 0h3m3 0h4m4 0h9m1 0h1m6 0h5m3 0h5m204 0h1m4 0h4m2 0h4m-483 2h1m20 0h2m2 0h1m5 0h3m7 0h2m4 0h1m14 0h1m2 0h2m4 0h2m14 0h2m2 0h2m28 0h1m6 0h2m8 0h2m1 0h3m35 0h2m1 0h2m9 0h2m5 0h2m9 0h2m3 0h2m6 0h1m14 0h1m3 0h2m3 0h6m3 0h1m214 0h3m4 0h7m12 0h1m-256 2h1m230 0h2m4 0h3m2 0h1m1 0h5m-500 2h1m159 0h1m319 0h5m2 0h4m2 0h4m6 0h4m-512 2h3m483 0h1m5 0h1m1 0h3m6 0h1m-15 2h2m2 0h3m5 0h3m4 0h1m1 0h2m-23 2h3m2 0h3m2 0h5m-505 2h1m487 0h1m7 0h1m-4 2h1m10 0h1m-10 4h2m6 0h2m-13 2h1m-2 2h2m-1 72h1m18 2h1m-2 2h2m-21 2h2m14 2h1m2 0h2m-11 2h3m2 0h2m-16 2h1m13 0h1m5 0h1m-23 2h2m7 0h2m-10 2h2m7 0h2m1 0h3m6 0h1m-16 2h1m2 0h1m1 0h3m-1 2h1m5 0h1m1 0h1m-21 2h3m5 0h5m1 0h1m4 0h2m-21 2h1m1 0h1m8 0h1m6 0h2m-16 2h1m3 0h1m6 0h1m1 0h1m-7 2h2m1 0h1m1 0h1m2 0h1m-13 2h1m-9 2h1m10 2h1m9 0h1m-22 2h2m4 0h8m1 0h1m4 0h1m-20 2h1m7 0h1m7 0h4m-5 2h3m1 0h1m-12 2h1m3 0h1m4 0h1m1 0h2m-22 2h1m15 0h3m1 0h1m-11 2h1m1 0h1m4 0h5m-23 2h1m21 0h1m-17 2h1m12 0h2m-12 2h2m4 0h2m5 0h1m-15 2h3m-6 2h2m3 0h3m1 0h1m5 0h1m-14 2h3m5 0h3m1 0h1m-20 2h3m13 0h3m1 0h1m-16 2h1m3 0h1m5 0h2m3 0h2m-14 2h2m4 0h2m2 0h5m-12 2h3m-9 4h2m5 0h3m2 2h1m3 0h1m-21 2h1m12 0h1m2 0h4m-20 2h2m9 0h1m0 2h2m5 0h3m-21 2h1m18 0h2m-21 2h2m1 0h1m1 0h2m7 2h1m3 0h2m-15 2h2m12 0h2m-21 2h1m12 0h2m2 0h1m-19 2h2m2 0h1m7 0h2m6 0h1m-22 2h3m10 0h3m1 0h1m2 0h1m1 0h1m-18 2h2m10 0h2m2 0h2m-22 2h1m13 0h1m2 0h1m1 2h2m-15 2h1m5 0h1m4 0h2m-6 2h1m2 0h3m-13 2h2m5 0h2m5 0h2m-22 2h1m1 0h1m1 0h1m5 0h1m3 0h4m2 0h1m-21 2h2m15 0h2m2 0h1m-17 2h3m-4 2h2m6 0h3m2 0h1m2 0h2m-15 2h1m1 0h2m-12 2h3m9 0h2m-12 2h1m5 0h2m7 0h3m-19 2h1m10 0h2m7 0h1m-15 2h1m7 0h3m-6 2h3m2 2h2m2 0h2m-19 2h1m7 0h1m-4 2h1m6 2h3m-8 2h2m1 0h2m4 0h1m-20 2h3m4 0h1m1 0h1m4 0h2m4 0h2m-22 2h1m10 0h1m1 0h2m1 0h1m2 0h2m-20 2h3m1 0h1m2 0h1m6 0h4m-18 2h1m5 0h2m8 0h1m-18 2h2m6 0h1m7 0h2m-14 2h2m1 0h1m4 0h1m3 0h1m4 0h1m-5 2h3m-20 2h2m4 0h1m10 0h2m-18 2h1m14 0h1m1 0h2m1 0h1m-509 2h1m486 0h2m2 0h4m3 0h2m1 0h3m3 0h1m-16 2h1m1 0h1m10 0h1m-19 2h1m1 0h1m1 0h1m2 0h3m1 0h3m3 0h3m-20 2h2m1 0h1m5 0h1m2 0h3m1 0h5m-7 2h1m3 0h2m-20 2h2m4 0h2m2 0h3m6 0h2m-21 2h1m16 0h2m1 0h1m-12 2h2m1 0h1m1 0h3m1 0h3m-20 2h1m3 0h1m9 0h2m1 0h2m-20 2h5m11 0h5m-18 2h1m4 0h5m5 0h2m1 0h1m-19 2h2m6 0h1m2 0h6m-19 2h3m10 0h1m2 0h3m1 0h1m-16 2h1m12 0h1m-17 2h1m9 0h2m5 0h2m-22 2h1m6 0h2m6 0h1m3 0h3m-17 2h1m2 0h1m3 0h1m1 0h1m6 0h1m-12 2h2m5 0h2m-18 2h3m6 0h1m1 0h3m1 0h2m1 0h1m-6 4h5m2 0h1m-16 2h2m3 0h1m2 0h1m2 0h1m-10 2h3m3 0h2m-14 2h2m4 0h4m5 0h3m1 0h1m-22 2h2m1 0h2m4 0h2m1 0h1m2 0h2m2 0h2m-20 2h3m2 0h4m1 0h4m3 0h4m-21 2h1m9 0h1m1 0h3m1 0h2m1 0h1m-21 2h2m10 0h1m1 0h3m2 0h2m-20 2h1m2 0h2m4 0h1m2 0h4m1 0h4m-19 2h2m6 0h2m2 0h1m2 0h3m-18 2h7m-7 2h1m8 0h3m-13 2h1m4 0h1m12 0h1m-20 2h8m2 0h1m4 0h1m-16 2h1m12 0h2m-15 2h2m1 0h2m9 0h3m-19 2h4m2 0h1m2 0h3m4 0h1m-15 2h3m4 0h1m8 0h3m-18 2h1m1 0h2m3 0h2m5 0h5m-20 2h1m1 0h1m14 0h3m-22 2h3m4 0h1m-7 2h5m3 0h1m1 0h3m1 0h2m4 0h1m-21 2h6m1 0h3m-10 2h3m2 0h1m4 0h1m2 0h1m1 0h2m2 0h1m-20 2h5m12 0h2m-18 2h1m1 0h4m6 0h2m2 0h5m-22 2h2m3 0h2m1 0h2m1 0h5m-15 2h3m5 0h3m-11 2h1m1 0h1m-4 2h2m7 0h3m1 0h1m4 0h1m-18 2h1m2 0h3m1 0h3m1 0h5m4 0h1m-22 2h1m1 0h1m1 0h1m3 0h1m2 0h1m1 0h4m1 0h3m-22 2h6m7 0h3m2 0h1m1 0h3m-21 2h1m1 0h8m4 0h1m3 0h1m1 0h1m-22 2h8m3 0h3m1 0h7m-21 2h2m2 0h2m1 0h1m9 0h2m-20 2h2m1 0h2m2 0h9m1 0h1m-17 2h4m1 0h2m3 0h1m7 0h1m-19 2h2m3 0h1m1 0h6m1 0h7m-21 2h5m3 0h13m-22 2h3m1 0h2m2 0h4m3 0h2m2 0h2m-21 2h6m2 0h3m2 0h2m1 0h5m-21 2h3m3 0h2m2 0h9m-18 2h1m2 0h1m3 0h4m2 0h1m4 0h3m-21 2h4m7 0h2m-14 2h4m7 0h3m6 0h1m-21 2h8m1 0h5m1 0h1m-16 2h4m1 0h6m1 0h1m2 0h4m1 0h2m-22 2h2m1 0h4m3 0h5m1 0h1m4 0h1m-10 2h2m2 0h2m-19 2h1m3 0h2m1 0h6m3 0h4m-15 2h2m1 0h5m3 0h1m2 0h4m-18 2h7m1 0h1m7 0h2m-22 2h2m3 0h3m2 0h1m-3 2h2m1 0h1m4 0h1m2 0h1m-10 2h4m-15 2h1m17 0h1m3 0h1m-24 2h3m1 0h2m4 0h2m2 0h2m-14 2h1m-287 2h1m280 0h1m1 0h2m1 0h2m19 0h1m-490 2h1m139 0h1m325 0h1m7 0h1m14 2h1m-25 2h1m1 0h1m-336 2h1m277 0h1m35 0h1m16 0h2m-276 2h1m94 0h1m113 0h2m61 0h1m-72 2h1m72 0h1m-6 4h1m3 0h3m-134 4h1m-129 2h1m156 2h1m89 0h1m-247 1h1m0 2h1m153 1h1m68 2h1m-146 2h1m-36 7h1m-262 2h1m-10 3h1m313 2h1m-2 2h1m85 4h1m52 0h1m-75 1h1m-268 2h1m339 0h1m-317 1h1m211 4h1m-141 2h1m138 0h1m142 0h1"/><path fill="#c880f8" d="M344 0h1v4h-1zm92 0h1v3h-1zm69 0h3v4h-3zm34 0h1v10h-1zm-268 1h1v3h-1zm123 0h2v3h-2zm-8 1h1v4h-1zm133 0h1v5h-1zm-209 1h1v4h-1zm61 1h1v4h-1zm78 0h2v3h-2zm49 0h1v4h-1zm-102 1h1v3h-1zm-161 1h1v11h-1zm267 0h4v4h-4zm-188 1h1v4h-1zm-106 1h1v10h-1zm255 0h1v4h-1zm37 0h1v3h-1zm15 0h1v3h-1zm-372 1h1v6h-1zm132 0h1v4h-1zm34 1h1v4h-1zm98 0h1v4h-1zm6 0h1v3h-1zm-37 1h1v5h-1zm136 0h1v3h-1zm24 0h1v3h-1zm2 0h2v3h-2zm-385 1h1v7h-1zm106 0h1v4h-1zm114 0h1v3h-1zm64 0h4v4h-4zm11 0h3v4h-3zm68 2h1v5h-1zm-203 1h4v4h-4zm198 0h2v4h-2zm12 0h1v3h-1zm-133 1h2v4h-2zm9 0h1v4h-1zm2 0h1v4h-1zm18 0h1v3h-1zm4 0h1v4h-1zm81 1h3v3h-3zm-295 1h1v10h-1zm151 0h1v4h-1zm-44 1h1v5h-1zm-63 1h1v5h-1zm122 0h2v4h-2zm38 0h1v4h-1zm40 0h2v4h-2zm-304 2h1v10h-1zm70 0h1v3h-1zm214 0h1v4h-1zm-152 1h1v4h-1zm110 0h1v5h-1zm-77 1h1v5h-1zm25 0h1v3h-1zm72 0h3v4h-3zm41 0h1v4h-1zm-234 1h1v7h-1zm179 1h1v4h-1zm-162 1h1v3h-1zm279 0h1v4h-1zm-188 1h1v3h-1zm138 0h1v4h-1zm44 0h2v4h-2zm-116 2h1v4h-1zm12 0h1v4h-1zm38 0h1v4h-1zm17 0h1v4h-1zm10 0h1v4h-1zm-144 1h1v5h-1zm142 0h1v3h-1zm62 1h1v3h-1zm-312 1h1v4h-1zm179 0h1v7h-1zm-313 1h1v6h-1zm32 0h1v4h-1zm65 0h1v3h-1zm165 0h2v4h-2zm92 0h1v4h-1zm2 0h2v3h-2zm10 0h2v3h-2zm56 0h1v4h-1zm8 0h1v4h-1zm-420 1h1v5h-1zm149 0h1v3h-1zm261 0h1v5h-1zm-213 1h1v4h-1zm175 0h1v4h-1zm-259 1h1v3h-1zm232 1h1v4h-1zm69 8h2v4h-2zm-182 2h2v4h-2zm3 0h1v4h-1zm-26 4h1v4h-1zm230 4h1v6h-1zm-20 2h5v4h-5zm-480 4h1v4h-1zm485 4h1v4h-1zm11 1h1v3h-1zm4 1h2v4h-2zm-9 4h1v4h-1zm-4 8h1v4h-1zm-1 58h2v4h-2zm17 14h2v4h-2zm-11 6h2v4h-2zm-2 8h1v6h-1zm2 4h3v4h-3zm5 2h1v3h-1zm-6 6h1v4h-1zm16 4h1v4h-1zm-23 2h2v4h-2zm21 0h1v6h-1zm-15 8h1v4h-1zm-6 6h2v6h-2zm14 0h1v4h-1zm8 0h2v4h-2zm-18 4h2v8h-2zm9 2h1v3h-1zm-2 6h1v4h-1zm-11 4h3v4h-3zm4 6h3v4h-3zm12 0h1v3h-1zm-15 4h2v4h-2zm22 2h1v4h-1zm-23 2h2v4h-2zm4 2h1v3h-1zm0 10h4v4h-4zm19 2h1v6h-1zm-23 2h2v10h-2zm21 0h1v4h-1zm-1 4h2v4h-2zm0 7h1v3h-1zm-12 1h1v4h-1zm-8 12h2v8h-2zm11 4h2v4h-2zm-10 4h2v4h-2zm13 6h1v4h-1zm-6 2h1v4h-1zm-4 4h2v4h-2zm-3 2h2v4h-2zm21 2h2v4h-2zm-9 3h5v3h-5zm-5 5h1v4h-1zm8 0h3v4h-3zm1 4h1v4h-1zm2 8h1v4h-1zm-4 4h1v4h-1zm-11 2h1v4h-1zm-4 6h1v3h-1zm4 4h1v4h-1zm-4 2h3v4h-3zm-490 2h1v4h-1zm512 2h2v3h-2zm-23 2h2v4h-2zm22 2h1v5h-1zm-17 18h1v6h-1zm14 4h1v4h-1zm2 4h1v6h-1zm-20 2h3v4h-3zm23 8h1v4h-1zm-22 10h1v4h-1zm21 0h2v4h-2zm-2 6h1v4h-1zm-20 2h3v4h-3zm0 26h2v6h-2zm0 6h3v4h-3zm7 0h1v4h-1zm9 2h1v4h-1zm0 10h1v3h-1zm-16 4h3v3h-3zm15 0h1v6h-1zm-11 2h1v4h-1zm-443 18h1v4h-1zm433 6h1v4h-1zm22 0h1v4h-1zm-24 2h1v4h-1zm-152 2h1v4h-1zm171 1h1v3h-1zm-21 1h1v3h-1zm22 3h1v5h-1zm-268 5h1v5h-1zm15 0h1v5h-1zm70 0h1v5h-1zm6 0h1v10h-1zm2 0h1v5h-1zm28 0h1v3h-1zm40 0h1v5h-1zm81 0h1v3h-1zm-221 1h1v5h-1zm239 1h1v3h-1zm8 0h1v6h-1zm-43 1h1v5h-1zm-143 1h1v4h-1zm97 0h1v10h-1zm10 0h1v8h-1zm27 0h1v3h-1zm61 0h1v4h-1zm-276 1h1v4h-1zm14 0h2v3h-2zm194 0h1v3h-1zm-231 1h1v3h-1zm42 0h1v6h-1zm-69 1h1v3h-1zm33 0h2v3h-2zm180 0h1v3h-1zm29 0h1v4h-1zm-225 1h1v4h-1zm115 0h1v5h-1zm152 0h1v6h-1zm35 0h1v6h-1zm-304 1h1v4h-1zm11 0h1v5h-1zm162 0h1v12h-1zm4 0h1v3h-1zm34 0h1v5h-1zm-397 1h1v10h-1zm193 0h1v3h-1zm7 0h1v4h-1zm8 0h1v3h-1zm28 0h2v4h-2zm133 0h1v5h-1zm-93 1h1v7h-1zm69 1h1v4h-1zm-197 1h1v3h-1zm61 0h1v3h-1zm-47 1h1v4h-1zm32 0h1v5h-1zm292 0h1v6h-1zm-285 1h1v3h-1zm-241 1h1v5h-1zm72 0h1v3h-1zm389 0h1v4h-1zm71 1h1v4h-1zm-431 1h1v4h-1zm7 0h1v3h-1zm7 0h1v7h-1zm206 0h1v8h-1zm18 0h1v4h-1zm82 0h1v5h-1zm-235 1h1v6h-1zm-88 1h1v4h-1zm403 0h1v4h-1zm-147 1h1v11h-1zm29 0h1v6h-1zm-363 1h1v3h-1zm87 0h1v3h-1zm233 0h1v4h-1zm185 0h1v4h-1zm-193 1h1v4h-1zm57 0h1v6h-1zm27 0h1v4h-1zm32 0h1v3h-1zm2 0h1v3h-1zm-351 1h2v3h-2zm323 0h1v3h-1zm-403 1h1v7h-1zm24 0h1v4h-1zm298 1h1v4h-1zm79 0h1v3h-1zm9 0h1v3h-1zm-122 1h1v3h-1zm13 0h1v3h-1zm2 0h1v4h-1zm11 0h1v4h-1zm84 0h1v6h-1zm32 0h1v4h-1zm84 0h1v4h-1zm-379 1h1v3h-1zm258 0h1v5h-1zm-312 1h1v3h-1zm357 0h1v4h-1zm4 0h1v5h-1zm9 0h1v4h-1zm-123 1h1v3h-1zm-298 1h1v5h-1zm119 0h1v3h-1zm21 0h1v9h-1zm241 0h1v4h-1zm20 0h1v6h-1zm-380 1h1v4h-1zm451 0h1v8h-1zm-503 1h1v4h-1zm195 1h1v6h-1zm58 0h1v5h-1zm85 0h1v6h-1zm55 0h1v6h-1zm51 0h1v6h-1zm-196 1h1v3h-1zm-195 1h1v3h-1zm435 1h1v3h-1z"/><path fill="none" stroke="#c880f8" stroke-width="1" d="M348 0.5h3m43 0h1m123 0h2m13 0h3m-524 1h4m332 0h2m89 0h1m74 0h3m2 0h4m-214 1h2m188 0h1m23 0h1m-88 1h4m24 0h2m1 0h1m32 0h1m22 0h2m-151 1h2m21 0h2m55 0h3m50 0h4m-137 1h1m16 0h1m6 0h1m56 0h2m53 0h1m-103 1h3m20 0h3m90 0h1m-515 1h4m249 0h3m45 0h1m49 0h1m47 0h2m2 0h1m17 0h4m15 0h1m62 0h1m7 0h4m-286 1h2m150 0h1m58 0h3m2 0h3m8 0h3m-259 1h3m178 0h2m2 0h1m53 0h4m1 0h1m1 0h2m1 0h1m-102 1h2m1 0h1m6 0h1m16 0h2m64 0h2m49 0h2m34 0h1m-386 1h2m89 0h2m13 0h2m53 0h2m42 0h1m8 0h2m16 0h1m38 0h1m26 0h3m45 0h2m13 0h4m-203 1h1m45 0h3m31 0h1m3 0h3m18 0h1m24 0h1m9 0h1m49 0h1m-490 1h1m295 0h1m2 0h2m44 0h2m31 0h2m2 0h4m17 0h2m39 0h1m45 0h1m-491 1h2m294 0h5m44 0h1m4 0h6m6 0h2m44 0h2m7 0h3m8 0h1m56 0h2m18 0h3m15 0h1m-523 1h1m343 0h2m3 0h7m6 0h1m45 0h1m8 0h2m66 0h1m-143 1h3m142 0h2m25 0h2m-238 1h2m62 0h2m12 0h1m58 0h1m-55 1h5m33 0h1m15 0h2m3 0h2m-127 1h2m63 0h6m34 0h2m92 0h1m20 0h1m-384 1h1m42 0h5m114 0h3m112 0h1m30 0h2m62 0h1m-374 1h2m161 0h1m1 0h1m24 0h1m6 0h1m45 0h1m34 0h2m30 0h1m-69 1h3m28 0h2m1 0h2m21 0h4m-59 1h1m32 0h1m21 0h1m1 0h2m14 0h1m-123 1h1m70 0h2m3 0h1m3 0h1m1 0h2m85 0h6m9 0h1m-258 1h4m141 0h1m3 0h2m1 0h2m2 0h1m85 0h1m13 0h2m-188 1h2m95 0h1m1 0h4m13 0h2m40 0h2m12 0h2m-263 1h2m44 0h2m39 0h2m1 0h1m75 0h1m2 0h1m16 0h6m6 0h1m6 0h1m42 0h1m15 0h3m-174 1h3m56 0h10m46 0h1m6 0h1m1 0h1m31 0h2m-300 1h3m139 0h2m57 0h2m1 0h7m37 0h1m16 0h2m28 0h1m3 0h1m3 0h1m-254 1h2m153 0h5m5 0h1m113 0h4m-128 1h1m1 0h3m4 0h2m28 0h1m4 0h1m60 0h2m17 0h2m-317 1h2m140 0h1m36 0h4m32 0h2m12 0h2m2 0h1m53 0h1m-330 1h1m79 0h2m102 0h2m38 0h1m30 0h4m12 0h1m3 0h2m1 0h1m-279 1h2m78 0h3m120 0h5m72 0h1m3 0h2m10 0h2m61 0h1m-157 1h3m1 0h1m77 0h2m8 0h3m47 0h2m-150 1h5m75 0h1m-277 1h2m2 0h2m159 0h1m31 0h4m62 0h3m6 0h3m1 0h3m-454 1h4m374 0h2m1 0h7m60 0h4m3 0h1m50 0h3m5 0h2m9 0h5m-152 1h10m35 0h3m23 0h3m53 0h4m5 0h1m10 0h6m-129 1h2m39 0h1m55 0h2m29 0h1m-130 1h3m96 0h1m28 0h2m-170 1h1m8 0h6m5 0h5m63 0h13m58 0h1m8 0h1m-169 1h2m7 0h1m3 0h2m5 0h3m1 0h1m61 0h15m66 0h3m-200 1h2m36 0h10m1 0h2m1 0h1m1 0h6m16 0h1m2 0h3m120 0h1m-165 1h13m1 0h8m16 0h6m120 0h3m-294 1h1m-26 2h7m61 0h3m1 0h2m48 0h1m169 0h3m-292 1h4m61 0h6m47 0h2m169 0h4m-392 1h3m50 0h1m1 0h2m9 0h10m311 0h4m-512 1h4m170 0h4m6 0h13m11 0h1m325 0h1m-481 1h12m1 0h1m45 0h2m2 0h3m83 0h1m56 0h3m270 0h1m-480 1h14m45 0h1m4 0h4m138 0h4m244 0h2m22 0h1m-4 1h1m1 0h1m-3 1h3m-501 3h1m-2 1h2m505 1h1m-5 1h1m-528 1h4m505 0h3m13 0h6m-6 1h5m1 0h1m-11 1h1m9 1h2m-521 2h1m-2 1h1m505 0h2m-2 1h1m-10 1h4m-4 1h1m1 0h2m16 5h1m-534 5h4m523 1h1m-512 21h1m-17 4h1m-2 1h2m16 3h1m-15 13h1m-2 1h2m533 8h1m-8 3h5m-7 1h1m2 0h4m-520 3h3m506 4h5m-5 1h3m1 0h1m-4 1h2m6 0h2m-10 1h3m6 0h1m-4 1h2m-2 1h4m-17 1h6m-6 1h7m-514 2h1m1 0h2m500 1h2m1 0h2m-518 1h1m512 0h5m-519 1h1m-2 1h1m517 1h1m11 0h5m1 0h2m-20 1h2m10 0h8m-529 1h2m-1 1h2m-2 2h3m524 5h1m-12 2h1m1 0h4m-6 1h6m-14 2h2m7 2h4m-519 1h4m502 12h6m-6 1h2m2 0h2m-518 1h1m507 0h3m5 0h1m-517 1h2m506 0h2m5 0h1m-517 14h3m513 1h3m13 0h1m-16 1h2m1 1h2m-2 1h3m-10 1h3m8 0h3m-14 1h4m7 0h1m1 3h1m-1 1h2m-9 1h2m-3 1h1m1 0h1m-5 1h3m-3 1h4m-1 1h1m1 0h1m-518 1h3m513 1h1m-505 1h1m493 0h1m14 0h2m-14 5h3m5 0h5m-13 1h2m7 0h4m-7 1h8m1 0h3m-533 1h2m519 0h12m-18 2h2m-503 1h1m-2 1h2m513 5h2m-2 1h1m-522 5h2m-3 1h1m0 1h4m2 2h2m506 4h7m3 0h4m-14 1h9m3 0h2m-536 1h1m512 0h2m-516 1h2m513 0h1m-516 1h1m525 0h8m-8 1h9m-14 2h1m14 1h1m-534 3h3m523 3h1m-1 1h2m-531 2h2m-2 1h1m15 5h1m7 4h1m-17 9h4m512 0h3m-2 1h2m0 3h4m-14 2h1m-1 8h1m6 2h2m-1 1h1m2 1h3m-14 1h1m10 0h2m-11 1h5m1 0h1m-500 1h2m491 0h7m-9 3h1m-1 1h2m-6 12h2m4 3h1m-515 4h3m7 0h2m503 2h10m-10 1h4m1 0h5m6 0h1m-539 2h4m8 3h1m520 0h2m-524 1h2m520 0h4m-526 1h1m-2 1h1m516 3h1m-9 4h8m-8 1h9m-13 3h2m-2 1h1m8 3h4m-4 1h2m1 0h1m-3 1h1m2 0h2m-2 1h1m-6 5h2m-523 5h2m527 3h2m-1 1h1m-523 1h3m4 0h1m509 9h2m-517 2h3m517 0h1m-534 3h3m14 1h1m-2 1h2m502 0h1m-506 1h2m-2 1h1m-14 1h4m8 0h2m-2 7h2m511 5h1m-526 8h3m11 3h1m521 10h2m-1 1h1m-538 4h3m526 4h2m-17 4h1m17 5h3m-529 1h4m522 0h2m-2 1h1m-8 1h4m-442 7h1m112 0h2m-115 1h2m-72 1h1m21 2h1m486 6h2m4 1h3m-5 1h2m-532 1h4m527 0h1m3 1h3m-1 1h1m-37 1h2m22 0h2m-26 1h1m-255 2h1m233 0h2m-75 1h1m-335 2h1m106 0h1m95 0h3m28 0h1m-32 1h1m30 0h2m207 0h1m13 2h2m-224 1h2m-1 1h1m190 0h1m-297 1h1m2 0h1m-5 1h2m-2 1h1m245 3h2m-221 2h2m-52 1h1m59 0h4m29 0h1m217 0h2m-314 1h2m-2 1h1m4 0h2m131 0h1m-134 1h1m132 0h2m16 0h2m-155 1h3m52 0h2m286 0h2m-295 1h1m4 0h1m-1 1h2m112 0h2m-249 1h2m132 0h1m287 0h2m-431 1h2m229 0h2m-233 1h1m320 0h2m-103 3h3m125 0h2m-215 2h2m152 1h2m38 0h2m-264 1h2m172 0h3m84 0h3m-336 1h1m57 0h2m81 0h2m95 0h2m7 0h2m104 0h1m-431 1h2m75 0h2m56 0h1m83 0h1m199 0h1m-27 1h2m4 0h2m18 0h2m-275 1h1m177 0h2m-248 1h2m66 0h2m-1 1h1m273 0h1m-275 1h2m-1 1h1m-160 1h1m159 0h1m113 0h1m8 0h2m102 0h1"/><path fill="none" stroke="#c880f8" stroke-width="2" d="M37 1h7m78 0h1m155 0h1m30 0h1m24 0h1m18 0h2m5 0h3m3 0h1m4 0h1m1 0h1m8 0h1m3 0h5m6 0h1m2 0h2m6 0h4m5 0h1m1 0h1m2 0h1m1 0h3m2 0h1m1 0h2m13 0h4m5 0h2m4 0h1m3 0h2m1 0h1m4 0h2m20 0h1m31 0h1m-491 2h1m3 0h1m4 0h1m74 0h3m236 0h2m19 0h2m1 0h1m5 0h1m9 0h1m1 0h2m10 0h1m1 0h1m1 0h1m1 0h1m8 0h2m1 0h1m14 0h4m4 0h1m1 0h1m2 0h1m69 0h4m-142 1h1m-14 1h2m7 0h1m5 0h1m5 0h4m18 0h2m2 0h3m2 0h2m2 0h1m3 0h1m2 0h1m1 0h2m18 0h4m1 0h1m2 0h1m28 0h5m15 0h5m11 0h1m-311 2h1m102 0h1m17 0h1m6 0h1m26 0h4m3 0h2m7 0h2m22 0h1m6 0h1m7 0h1m7 0h3m7 0h1m4 0h3m2 0h3m3 0h3m52 0h1m4 0h1m-305 2h2m1 0h3m103 0h1m8 0h1m14 0h2m4 0h2m1 0h2m4 0h1m3 0h2m1 0h2m3 0h1m12 0h2m3 0h4m2 0h1m8 0h3m19 0h1m1 0h1m1 0h1m62 0h2m18 0h1m1 0h3m-380 1h1m105 0h1m-96 1h1m204 0h1m8 0h1m1 0h1m8 0h3m3 0h2m12 0h2m9 0h1m11 0h4m1 0h2m9 0h1m11 0h1m4 0h2m38 0h2m16 0h3m-379 2h3m15 0h1m1 0h1m158 0h1m7 0h1m8 0h3m2 0h1m18 0h1m11 0h3m6 0h3m12 0h1m11 0h1m8 0h1m2 0h6m30 0h1m2 0h1m32 0h2m13 0h1m9 0h2m-327 2h2m181 0h2m2 0h1m8 0h1m2 0h2m9 0h3m16 0h2m32 0h1m35 0h1m8 0h1m19 0h4m-330 2h2m54 0h1m52 0h1m7 0h2m51 0h1m4 0h1m9 0h2m5 0h1m2 0h1m8 0h1m5 0h1m3 0h1m9 0h1m10 0h3m5 0h1m3 0h1m1 0h2m1 0h1m8 0h2m61 0h1m3 0h1m5 0h1m-400 2h1m20 0h2m2 0h2m154 0h1m3 0h1m19 0h1m7 0h1m1 0h1m11 0h1m6 0h2m3 0h1m8 0h3m5 0h1m10 0h9m2 0h1m9 0h2m21 0h4m6 0h1m4 0h3m33 0h1m1 0h1m33 0h1m-392 2h1m164 0h1m10 0h1m36 0h1m6 0h3m2 0h1m1 0h3m9 0h8m3 0h1m1 0h4m4 0h2m4 0h1m22 0h2m1 0h2m2 0h2m7 0h1m1 0h1m4 0h1m5 0h1m8 0h2m20 0h1m12 0h2m1 0h4m16 0h1m-384 2h1m85 0h2m78 0h3m18 0h2m4 0h2m2 0h2m9 0h1m1 0h2m7 0h1m1 0h4m8 0h3m1 0h1m1 0h1m10 0h2m5 0h1m5 0h1m8 0h3m14 0h1m2 0h1m2 0h2m32 0h1m25 0h1m1 0h5m3 0h3m7 0h1m4 0h3m1 0h1m2 0h1m-112 1h1m-71 1h2m3 0h1m3 0h2m2 0h4m9 0h3m3 0h1m1 0h4m3 0h3m1 0h4m5 0h3m9 0h1m12 0h1m3 0h2m6 0h2m9 0h1m8 0h2m3 0h1m1 0h1m33 0h1m32 0h2m-194 2h1m13 0h1m1 0h1m2 0h5m3 0h2m2 0h1m2 0h1m4 0h4m1 0h1m13 0h4m16 0h3m8 0h2m18 0h2m47 0h1m1 0h1m16 0h1m8 0h1m3 0h2m2 1h1m-287 1h1m14 0h2m3 0h1m76 0h1m6 0h2m1 0h1m4 0h2m2 0h2m2 0h2m5 0h3m7 0h2m2 0h2m4 0h2m22 0h4m2 0h1m2 0h3m2 0h1m3 0h3m8 0h1m1 0h3m13 0h1m32 0h1m29 0h1m-405 2h2m1 0h2m1 0h3m136 0h1m18 0h2m46 0h2m7 0h2m5 0h1m1 0h3m1 0h1m1 0h3m2 0h6m1 0h2m2 0h3m1 0h1m1 0h1m9 0h3m21 0h2m1 0h2m6 0h1m10 0h2m8 0h1m45 0h1m1 0h3m17 0h1m3 0h1m2 0h2m-277 1h1m1 0h1m278 0h1m-489 1h1m13 0h1m75 0h1m193 0h1m18 0h1m15 0h1m3 0h1m2 0h1m2 0h1m3 0h2m1 0h1m4 0h3m3 0h1m16 0h2m2 0h1m3 0h1m3 0h1m16 0h1m3 0h1m12 0h1m49 0h2m3 0h2m11 0h1m13 0h1m-490 2h1m2 0h7m283 0h1m5 0h2m2 0h2m3 0h4m1 0h3m3 0h3m14 0h1m1 0h4m8 0h2m1 0h3m2 0h1m4 0h1m1 0h3m4 0h1m2 0h5m1 0h2m11 0h3m17 0h2m61 0h1m3 0h2m3 0h2m-362 1h1m80 0h1m196 0h1m-404 1h5m3 0h1m53 0h1m222 0h1m14 0h1m1 0h5m2 0h1m24 0h2m1 0h5m1 0h1m4 0h1m8 0h5m1 0h1m5 0h6m1 0h5m1 0h1m1 0h1m22 0h1m2 0h1m46 0h2m6 0h1m3 0h1m7 0h1m1 0h3m-482 2h1m129 0h1m61 0h1m42 0h1m1 0h1m25 0h2m9 0h1m2 0h3m19 0h3m8 0h1m1 0h1m3 0h2m2 0h1m18 0h3m5 0h2m8 0h6m1 0h1m2 0h1m1 0h3m6 0h6m5 0h2m5 0h1m72 0h5m10 0h2m1 0h1m-192 2h2m8 0h3m6 0h2m1 0h4m4 0h2m3 0h1m9 0h8m14 0h2m5 0h2m5 0h1m5 0h3m15 0h5m12 0h1m26 0h1m6 0h2m4 0h1m10 0h2m5 0h1m-187 2h3m5 0h3m2 0h3m3 0h1m5 0h4m20 0h8m2 0h9m6 0h1m2 0h2m2 0h6m1 0h2m2 0h7m1 0h5m18 0h5m33 0h2m1 0h5m14 0h1m12 0h1m-488 2h1m96 0h1m147 0h1m18 0h5m5 0h2m1 0h2m6 0h1m1 0h2m1 0h4m1 0h4m1 0h1m1 0h12m30 0h6m2 0h2m11 0h17m2 0h3m2 0h3m3 0h4m2 0h6m2 0h7m36 0h4m1 0h1m2 0h1m14 0h1m2 0h1m2 0h1m-473 2h3m29 0h1m40 0h1m16 0h2m5 0h1m51 0h2m42 0h1m4 0h1m12 0h2m21 0h1m13 0h2m9 0h3m1 0h1m8 0h8m2 0h1m4 0h4m2 0h2m1 0h7m1 0h2m8 0h2m4 0h1m17 0h1m3 0h1m3 0h6m12 0h4m6 0h3m2 0h1m7 0h1m4 0h3m1 0h4m3 0h1m41 0h1m30 0h2m-479 2h2m14 0h2m11 0h3m3 0h2m1 0h1m8 0h6m2 0h2m8 0h4m2 0h2m2 0h4m3 0h1m13 0h2m2 0h1m3 0h1m5 0h2m15 0h4m4 0h1m1 0h3m2 0h1m3 0h4m3 0h1m14 0h1m1 0h3m4 0h1m10 0h1m1 0h4m7 0h2m3 0h3m4 0h4m9 0h1m12 0h3m5 0h3m1 0h4m1 0h9m12 0h2m56 0h2m12 0h2m2 0h1m49 0h1m42 0h2m18 0h1m-489 2h1m3 0h1m1 0h1m1 0h6m1 0h11m2 0h2m2 0h2m5 0h4m1 0h2m2 0h1m1 0h2m1 0h14m1 0h2m2 0h4m2 0h7m6 0h1m2 0h2m2 0h3m1 0h8m1 0h1m1 0h13m1 0h6m2 0h1m9 0h1m18 0h8m4 0h3m1 0h4m2 0h1m2 0h6m1 0h2m2 0h5m2 0h9m2 0h3m2 0h5m2 0h12m1 0h1m1 0h1m1 0h1m2 0h3m6 0h3m1 0h3m3 0h9m2 0h5m2 0h1m15 0h1m169 1h3m-477 1h6m4 0h4m1 0h3m19 0h2m4 0h2m2 0h20m3 0h3m2 0h3m12 0h1m5 0h7m1 0h3m2 0h3m2 0h2m3 0h1m3 0h3m1 0h9m5 0h3m2 0h4m2 0h7m14 0h10m4 0h7m2 0h2m1 0h4m6 0h2m7 0h4m9 0h2m3 0h4m5 0h4m1 0h2m2 0h2m1 0h4m22 0h4m192 0h1m5 0h1m4 0h1m-491 2h8m13 0h3m35 0h2m5 0h3m11 0h1m3 0h2m1 0h3m3 0h1m8 0h3m8 0h1m4 0h4m8 0h1m5 0h2m5 0h2m12 0h1m1 0h1m2 0h8m5 0h1m11 0h3m5 0h3m3 0h4m9 0h3m9 0h3m1 0h2m22 0h1m1 0h1m219 0h2m11 0h2m-493 2h1m32 0h2m57 0h1m6 0h2m9 0h2m16 0h2m3 0h2m13 0h1m60 0h1m268 0h3m11 0h6m4 0h3m-509 2h1m490 0h1m3 0h3m1 0h1m6 0h1m1 0h1m-17 2h1m4 0h1m-13 2h1m5 0h1m1 0h1m2 0h5m-16 2h6m1 0h2m2 0h2m3 0h1m1 0h3m-504 2h1m488 0h3m7 0h5m2 0h1m-17 2h1m13 0h2m-1 2h1m-510 2h1m489 0h1m7 0h1m4 0h2m3 0h2m1 0h1m-21 2h2m8 0h1m8 0h3m-21 2h1m18 0h2m-16 2h1m10 0h1m-513 2h1m502 2h1m7 0h3m-506 2h1m498 0h1m-2 2h4m-15 6h2m-490 6h1m-12 3h1m10 3h2m-7 8h1m513 12h1m-511 2h1m-3 4h2m490 2h1m5 0h1m11 0h1m-21 2h2m-487 4h1m497 0h2m-511 2h1m7 0h1m486 0h1m18 0h1m-19 2h3m6 0h3m5 0h3m-19 2h1m18 0h3m-508 2h1m485 0h2m-498 2h1m492 0h5m2 0h2m1 0h1m3 0h2m8 0h1m-23 2h1m13 0h2m1 0h1m1 0h4m-24 2h10m2 0h3m2 0h1m5 0h1m-508 2h1m490 0h5m10 0h2m-24 2h3m2 0h2m4 0h4m1 0h1m1 0h1m3 0h1m-23 2h1m11 0h2m-500 2h1m485 0h2m2 0h1m8 0h1m3 0h3m-20 2h3m1 0h2m1 0h1m1 0h2m1 0h1m3 0h2m-17 2h2m1 0h4m2 0h1m3 0h1m1 0h5m1 0h1m-24 2h4m6 0h1m8 0h1m1 0h2m-22 2h1m1 0h1m8 0h2m2 0h1m1 0h4m-21 2h5m16 0h3m-22 2h1m17 0h2m1 0h1m-510 2h1m486 0h2m2 0h2m2 0h1m1 0h1m7 0h1m2 0h1m-507 2h1m483 0h2m4 0h1m3 0h5m2 0h7m-24 2h6m5 0h2m1 0h1m2 0h3m-20 2h2m14 0h1m1 0h4m-21 2h2m1 0h1m1 0h5m2 0h2m2 0h2m-511 2h1m495 0h2m2 0h2m2 0h2m-10 2h3m1 0h3m1 0h3m-505 2h1m487 0h4m12 0h3m6 0h1m-9 2h4m-508 2h1m3 0h1m484 0h1m14 0h1m1 0h2m1 0h1m1 0h1m-516 2h1m6 0h1m486 0h1m2 0h1m3 0h2m3 0h1m2 0h4m2 0h2m-25 2h3m2 0h2m1 0h1m1 0h1m4 0h2m2 0h5m-17 2h1m1 0h1m3 0h1m4 0h3m-509 2h1m492 0h1m4 0h2m5 0h5m-508 2h1m493 0h1m3 0h5m5 0h1m-22 2h1m6 0h5m4 0h1m3 0h1m1 0h2m-23 2h1m9 0h1m6 0h1m-505 2h1m485 0h2m15 0h2m-18 2h1m21 0h1m-23 2h2m3 0h2m5 0h2m1 0h2m2 0h2m-507 2h1m489 0h1m2 0h1m2 0h2m7 0h4m-11 2h4m2 0h3m-21 2h1m2 0h1m7 0h3m1 0h2m5 0h1m-25 2h3m12 0h1m5 0h3m-512 2h1m501 0h1m6 0h1m-17 2h1m1 0h2m2 0h1m3 0h3m3 0h2m-506 2h1m488 0h1m1 0h1m6 0h1m2 0h2m1 0h1m-3 2h3m-14 2h1m-493 2h1m485 0h2m7 0h1m1 0h4m2 0h2m1 0h3m-511 2h1m486 0h2m6 0h1m1 0h3m3 0h6m1 0h1m-24 2h1m4 0h2m3 0h4m3 0h1m1 0h1m2 0h1m-24 2h5m1 0h1m2 0h1m1 0h5m1 0h2m2 0h2m-22 2h2m7 0h1m2 0h4m5 0h1m-23 2h2m9 0h8m1 0h2m-17 2h1m2 0h1m4 0h2m1 0h3m-14 2h11m-11 2h4m2 0h2m2 0h1m2 0h2m-503 2h1m488 0h1m1 0h5m1 0h3m-7 2h3m2 0h5m2 0h2m-21 2h1m1 0h2m-1 2h1m4 0h4m-13 2h2m2 0h2m3 0h1m-11 2h1m5 0h1m3 0h3m2 0h3m2 0h2m-21 2h2m2 0h3m3 0h2m4 0h1m3 0h1m-21 2h1m2 0h2m1 0h1m1 0h2m4 0h1m2 0h4m-22 2h4m1 0h3m2 0h2m2 0h2m3 0h4m-17 2h6m-8 2h1m1 0h4m3 0h5m2 0h2m-506 2h1m490 0h3m4 0h2m2 0h2m-507 2h1m491 0h1m3 0h1m5 0h1m2 0h1m-15 2h3m1 0h3m1 0h1m1 0h3m3 0h3m-19 2h1m3 0h4m2 0h1m2 0h4m1 0h1m-22 2h1m3 0h4m4 0h1m1 0h1m2 0h4m-22 2h2m2 0h1m1 0h2m3 0h2m4 0h1m1 0h2m2 0h1m-22 2h1m3 0h1m4 0h1m-12 2h3m1 0h1m7 0h1m1 0h2m2 0h1m1 0h2m1 0h1m-25 2h3m7 0h1m1 0h5m1 0h1m4 0h2m-16 2h1m6 0h2m2 0h4m-19 2h4m1 0h10m-19 2h2m2 0h2m1 0h1m1 0h3m-12 2h3m3 0h6m7 0h1m2 0h1m-509 2h1m486 0h1m3 0h1m4 0h3m2 0h1m5 0h1m-511 2h1m490 0h5m3 0h5m6 0h2m-22 2h1m10 0h1m9 0h1m-23 2h2m4 0h3m3 0h2m9 0h1m-26 2h1m1 0h4m1 0h1m1 0h2m5 0h2m3 0h1m2 0h2m-23 2h1m5 0h1m2 0h1m9 0h1m2 0h1m-25 2h3m1 0h2m10 0h4m2 0h1m-21 2h4m2 0h4m2 0h1m1 0h1m7 0h1m-24 2h3m5 0h2m1 0h2m2 0h2m5 0h2m-507 2h1m482 0h2m5 0h2m1 0h1m1 0h1m4 0h1m5 0h1m-24 2h3m3 0h4m9 0h1m2 0h1m-514 2h1m491 0h2m4 0h4m3 0h2m6 0h2m-514 2h1m488 0h4m3 0h5m2 0h3m1 0h2m3 0h1m-18 2h3m1 0h1m2 0h3m1 0h5m1 0h2m-18 2h1m7 0h1m2 0h4m-509 2h1m486 0h3m4 0h3m2 0h6m1 0h3m-13 2h2m1 0h1m1 0h1m3 0h3m1 0h2m-19 2h2m2 0h4m2 0h5m2 0h3m-25 2h3m7 0h3m1 0h1m3 0h1m2 0h1m-17 2h2m-2 2h5m1 0h1m1 0h4m-16 2h2m2 0h4m2 0h2m5 0h2m-20 2h3m2 0h6m3 0h3m-512 2h1m496 0h3m2 0h4m4 0h5m3 0h1m-22 2h1m2 0h1m2 0h4m2 0h1m5 0h2m-20 2h2m3 0h2m9 0h3m-20 2h3m1 0h3m1 0h4m9 0h1m-22 2h2m13 0h1m3 0h2m-21 2h3m1 0h2m2 0h2m1 0h1m1 0h2m-8 2h6m2 0h1m3 0h1m-18 2h1m9 0h1m3 0h2m1 0h2m1 0h1m-22 2h2m3 0h1m13 0h3m-21 2h2m1 0h4m7 0h1m3 0h2m-21 2h2m8 0h1m2 0h4m4 0h2m-509 2h1m488 0h2m2 0h3m2 0h1m1 0h1m2 0h1m-14 2h1m-498 2h1m490 0h2m4 0h2m6 0h3m2 0h6m-24 2h3m3 0h2m1 0h1m1 0h1m3 0h1m6 0h2m-25 2h3m6 0h3m2 0h1m-511 2h1m497 0h2m3 0h3m2 0h4m-503 2h1m486 0h2m3 0h3m3 0h3m9 0h2m-24 2h2m5 0h3m1 0h1m3 0h1m7 0h1m-25 2h3m3 2h2m7 0h1m1 0h1m3 0h1m-14 2h2m1 0h1m4 0h2m-16 2h2m1 0h1m-5 2h2m2 0h3m2 0h1m12 0h2m-16 2h2m-4 2h5m6 0h1m-18 2h2m3 0h3m1 0h2m5 0h1m-16 2h2m2 0h1m7 0h1m-14 2h2m5 0h3m2 0h1m-13 2h1m6 0h1m2 0h1m1 0h2m6 0h1m-20 2h2m1 0h1m8 0h4m-17 2h2m8 0h3m3 0h1m-17 2h3m2 0h2m8 0h5m-505 2h1m484 0h2m-490 2h2m2 0h1m485 0h1m4 0h1m2 0h3m3 0h1m1 0h3m-511 2h1m490 0h2m2 0h3m-8 2h3m5 0h3m3 2h3m2 0h2m-4 2h1m-519 1h1m504 3h2m11 0h4m-505 2h1m494 0h3m9 0h1m-510 2h1m485 0h2m4 0h2m1 0h4m-14 2h3m8 0h1m-11 2h2m13 0h2m-16 2h1m8 0h1m-10 2h3m8 0h2m-14 2h1m1 0h1m5 2h1m10 0h1m-3 2h1m1 0h2m-21 2h2m8 0h2m7 2h2m-21 2h2m-4 2h3m-2 2h1m6 0h1m-368 2h1m42 0h2m-168 2h1m21 0h2m58 0h1m25 0h1m29 0h1m46 0h1m11 0h1m3 0h1m278 0h1m-462 2h1m7 0h2m450 0h1m-391 2h2m5 0h2m23 0h1m16 0h1m31 0h1m14 0h1m35 0h1m258 0h1m-427 2h1m16 0h1m7 0h1m15 0h1m72 0h1m132 0h1m106 0h1m72 0h1m-334 2h2m36 0h1m48 0h1m11 0h2m12 0h1m35 0h5m26 0h1m30 0h2m66 0h1m37 0h1m-444 2h1m14 0h1m60 0h1m16 0h2m13 0h1m37 0h2m38 0h1m21 0h1m44 0h1m20 0h2m3 0h1m15 0h4m17 0h1m36 0h2m33 0h1m4 0h1m5 0h1m20 0h1m16 0h1m14 0h3m-444 2h1m17 0h1m15 0h1m107 0h1m64 0h1m8 0h2m9 0h1m3 0h1m15 0h3m34 0h1m38 0h2m7 0h2m3 0h1m7 0h2m1 0h2m22 0h1m6 0h1m24 0h1m2 0h1m20 0h2m6 0h1m3 0h1m-360 2h1m11 0h1m45 0h1m18 0h1m12 0h1m41 0h3m39 0h2m31 0h1m37 0h1m47 0h1m19 0h1m1 0h1m37 0h1m-432 2h1m86 0h1m247 0h1m7 0h1m18 0h1m3 0h1m9 0h1m21 0h1m33 0h1m-206 2h1m25 0h1m12 0h1m129 0h1m-173 2h1m42 0h1m44 0h1m-111 2h1m85 0h1m22 0h1m57 0h1m3 0h2m57 0h1m27 2h2m-219 2h1m190 1h2m-228 5h1m-33 2h1m-61 2h1m59 0h2m-3 3h1m2 0h1m30 0h1m60 0h1m155 0h1m-381 1h1m413 0h1m-174 2h1m173 1h1m-199 1h1m198 2h1m-189 2h1m188 0h1m-297 2h1m-137 1h1m67 1h1m175 0h1m-108 1h1m97 3h1m8 0h1m-248 1h1m321 1h1m19 0h1m34 2h1m-224 2h1m76 0h1m146 0h1m52 0h1"/><path fill="#b858f8" d="M97 0h1v9h-1zm199 0h1v3h-1zm173 0h1v4h-1zm6 0h2v4h-2zm-79 1h1v4h-1zm9 0h1v5h-1zm53 0h1v3h-1zm-47 1h2v3h-2zm30 0h1v3h-1zm71 0h1v6h-1zm-217 1h1v5h-1zm139 0h1v4h-1zm-83 1h1v24h-1zm26 0h1v3h-1zm20 1h1v3h-1zm33 0h1v6h-1zm-110 1h1v3h-1zm134 0h1v3h-1zm-42 1h1v6h-1zm3 0h2v3h-2zm11 0h1v3h-1zm-132 1h1v3h-1zm108 0h3v4h-3zm69 0h1v3h-1zm-11 1h1v3h-1zm-302 1h1v4h-1zm163 0h1v3h-1zm36 0h1v5h-1zm41 0h1v3h-1zm99 0h1v3h-1zm40 0h1v4h-1zm-151 1h1v3h-1zm31 0h1v6h-1zm-15 1h1v6h-1zm76 0h1v3h-1zm32 0h1v4h-1zm10 0h1v3h-1zm-24 1h2v3h-2zm-339 1h1v7h-1zm165 0h1v3h-1zm99 0h1v11h-1zm34 0h3v4h-3zm-42 1h2v3h-2zm11 0h1v5h-1zm46 0h2v5h-2zm4 0h3v3h-3zm64 0h2v4h-2zm-275 1h1v4h-1zm179 0h1v3h-1zm77 0h1v5h-1zm-273 1h1v3h-1zm127 0h1v3h-1zm55 0h2v4h-2zm17 1h2v3h-2zm15 0h1v3h-1zm38 0h1v6h-1zm36 0h1v6h-1zm-117 1h1v4h-1zm38 0h1v4h-1zm84 0h1v8h-1zm-107 1h1v6h-1zm20 0h1v4h-1zm-296 1h1v3h-1zm302 0h1v4h-1zm-261 1h1v3h-1zm112 0h1v11h-1zm68 0h1v4h-1zm60 0h1v3h-1zm-287 2h1v3h-1zm138 0h1v7h-1zm151 0h1v3h-1zm6 0h1v3h-1zm-247 1h1v12h-1zm230 0h1v4h-1zm8 1h2v4h-2zm61 0h1v4h-1zm-223 1h1v4h-1zm113 1h1v4h-1zm2 0h1v4h-1zm74 0h1v3h-1zm27 0h1v6h-1zm-143 1h1v4h-1zm113 1h1v4h-1zm-289 1h1v9h-1zm116 1h1v8h-1zm68 0h1v4h-1zm52 0h1v3h-1zm-20 2h1v4h-1zm47 0h1v3h-1zm32 0h2v3h-2zm3 0h1v3h-1zm-14 1h1v3h-1zm71 0h1v3h-1zm-214 1h1v3h-1zm213 2h1v4h-1zm-269 3h1v4h-1zm48 1h1v3h-1zm165 0h2v4h-2zm-379 1h1v3h-1zm96 0h1v4h-1zm43 0h1v3h-1zm-195 3h1v3h-1zm107 0h1v3h-1zm372 0h1v3h-1zm-184 2h2v4h-2zm-111 4h4v4h-4zm-102 2h2v4h-2zm79 0h2v3h-2zm315 4h2v4h-2zm3 4h1v4h-1zm16 5h1v3h-1zm5 1h1v4h-1zm3 0h1v6h-1zm-513 8h1v4h-1zm494 4h1v4h-1zm-493 2h1v6h-1zm511 2h2v3h-2zm-3 2h1v4h-1zm-14 8h1v4h-1zm0 6h1v4h-1zm-495 2h1v4h-1zm494 22h2v4h-2zm13 28h2v4h-2zm-501 2h1v4h-1zm485 2h1v8h-1zm-483 10h1v4h-1zm482 10h2v6h-2zm17 0h2v4h-2zm-510 5h1v3h-1zm5 9h1v4h-1zm489 8h1v4h-1zm15 6h2v4h-2zm-501 2h1v4h-1zm506 19h1v3h-1zm-13 4h1v4h-1zm1 5h1v3h-1zm2 0h1v6h-1zm-5 2h1v4h-1zm-6 8h2v8h-2zm24 0h1v4h-1zm-509 6h1v4h-1zm508 5h1v3h-1zm1 4h1v4h-1zm1 5h1v3h-1zm-25 4h2v4h-2zm5 4h1v4h-1zm20 4h1v4h-1zm-20 15h1v3h-1zm-4 13h1v4h-1zm-486 2h1v4h-1zm493 0h1v4h-1zm-8 8h2v4h-2zm6 10h1v4h-1zm-6 6h2v4h-2zm0 4h1v6h-1zm-491 1h1v4h-1zm504 2h1v3h-1zm9 3h1v3h-1zm-22 4h3v4h-3zm14 5h1v3h-1zm-496 7h1v4h-1zm501 4h1v4h-1zm-507 6h1v4h-1zm488 0h2v4h-2zm18 2h1v4h-1zm-8 14h1v4h-1zm13 8h1v3h-1zm-23 2h2v6h-2zm24 1h1v4h-1zm-18 2h1v5h-1zm-497 5h1v4h-1zm491 0h2v4h-2zm1 6h1v4h-1zm-485 4h1v4h-1zm-3 2h1v4h-1zm488 6h1v8h-1zm-1 8h2v4h-2zm-482 8h1v4h-1zm502 8h1v4h-1zm-2 1h1v6h-1zm1 6h1v4h-1zm3 2h1v4h-1zm1 4h1v3h-1zm-484 1h1v4h-1zm148 0h1v3h-1zm-167 2h1v4h-1zm72 2h1v4h-1zm-78 3h1v4h-1zm245 1h1v4h-1zm-247 2h1v4h-1zm147 0h1v4h-1zm236 0h1v4h-1zm16 0h2v4h-2zm53 0h2v4h-2zm-228 2h1v4h-1zm137 0h1v4h-1zm5 0h1v4h-1zm40 0h1v4h-1zm64 2h1v4h-1zm22 0h1v4h-1zm-399 1h1v3h-1zm150 1h1v4h-1zm202 0h1v4h-1zm-290 1h1v3h-1zm99 1h1v4h-1zm141 0h1v4h-1zm15 0h1v4h-1zm103 0h1v3h-1zm-448 2h1v3h-1zm82 0h1v4h-1zm2 0h1v3h-1zm196 0h1v4h-1zm132 0h1v4h-1zm-56 1h1v3h-1zm80 0h1v7h-1zm-385 3h1v18h-1zm359 0h1v3h-1zm-310 1h1v12h-1zm292 1h1v5h-1zm-28 3h1v17h-1zm22 1h1v8h-1zm-267 1h1v4h-1zm-37 1h1v3h-1zm152 1h1v10h-1zm55 1h1v5h-1zm140 0h1v3h-1zm-108 1h1v3h-1zm90 0h1v4h-1zm5 0h1v5h-1zm-335 1h1v3h-1zm210 0h1v3h-1zm134 0h1v13h-1zm23 1h1v12h-1zm-128 1h1v4h-1zm92 2h1v5h-1zm-342 1h1v3h-1zm219 1h1v7h-1zm22 0h1v4h-1zm-361 2h1v4h-1zm121 0h1v4h-1zm364 0h1v6h-1zm-465 1h1v4h-1zm239 0h1v4h-1zm219 0h1v7h-1zm-15 1h1v4h-1zm-103 1h1v3h-1zm-38 1h1v8h-1zm-200 1h1v3h-1zm-87 1h1v10h-1zm-18 1h1v8h-1zm158 0h1v4h-1zm184 0h1v3h-1zm28 0h1v3h-1zm108 1h1v3h-1zm-145 1h1v4h-1zm-122 1h1v5h-1zm107 0h1v4h-1zm51 0h1v7h-1zm99 0h1v3h-1zm-502 1h1v7h-1zm178 0h1v4h-1zm-130 1h1v4h-1zm103 0h1v7h-1zm289 0h1v6h-1zm28 0h1v4h-1zm-392 2h1v4h-1zm264 0h1v6h-1zm-163 2h1v4h-1z"/><path fill="none" stroke="#b858f8" stroke-width="1" d="M318 0.5h1m76 0h2m8 0h2m5 0h2m24 0h2m17 0h2m24 0h2m18 0h1m-186 1h2m92 0h1m25 0h1m41 0h1m3 0h1m9 0h1m16 0h3m-198 1h4m53 0h2m16 0h1m112 0h1m-80 1h1m45 0h2m28 0h4m-48 1h3m13 0h4m16 0h3m-177 1h2m90 0h1m41 0h2m18 0h2m14 0h1m3 0h1m1 0h1m-92 1h2m5 0h2m51 0h1m4 0h1m38 0h2m-135 1h3m1 0h1m24 0h5m31 0h1m17 0h2m9 0h2m-13 1h3m17 0h1m19 0h1m2 0h1m10 0h2m-194 1h2m75 0h1m57 0h1m10 0h3m9 0h2m-66 1h1m1 0h2m6 0h1m16 0h2m3 0h3m4 0h3m9 0h1m-43 1h1m18 0h1m4 0h2m5 0h5m17 0h1m25 0h3m25 0h2m-113 1h1m22 0h3m1 0h1m7 0h1m3 0h4m-195 1h2m52 0h2m89 0h2m7 0h4m17 0h5m7 0h2m-61 1h1m17 0h1m14 0h1m13 0h2m1 0h2m26 0h4m35 0h4m22 0h1m-294 1h1m16 0h1m164 0h2m4 0h1m8 0h5m19 0h1m52 0h2m-276 1h2m127 0h1m53 0h1m4 0h2m30 0h1m1 0h2m-147 1h2m93 0h2m15 0h1m33 0h1m-55 1h1m3 0h1m18 0h1m14 0h6m18 0h1m-45 1h4m1 0h3m22 0h1m4 0h1m-147 1h3m100 0h2m74 0h3m-182 1h4m104 0h1m16 0h1m19 0h1m33 0h2m-39 1h4m2 0h2m1 0h1m-460 1h4m166 0h3m215 0h1m21 0h3m23 0h1m14 0h2m4 0h1m1 0h2m44 0h3m-505 1h2m351 0h1m53 0h1m1 0h1m23 0h3m-83 1h3m50 0h1m2 0h2m21 0h1m1 0h2m6 0h2m-42 1h5m25 0h4m8 0h1m1 0h3m5 0h2m21 0h3m13 0h4m6 0h1m-101 1h2m1 0h1m26 0h1m1 0h1m11 0h3m1 0h1m3 0h1m21 0h1m12 0h1m-58 1h4m6 0h1m45 0h2m-89 1h2m9 0h1m16 0h1m3 0h1m1 0h1m6 0h2m44 0h1m31 0h2m-93 1h8m41 0h1m41 0h1m-251 1h2m117 0h2m26 0h1m1 0h1m1 0h1m7 0h1m1 0h4m1 0h1m82 0h2m-108 1h2m19 0h4m46 0h2m33 0h1m-430 1h2m288 0h2m53 0h1m1 0h1m80 0h2m-226 1h1m130 0h1m9 0h3m18 0h1m22 0h1m38 0h1m-225 1h2m129 0h2m51 0h2m3 0h3m31 0h2m-139 1h2m44 0h1m90 0h1m-92 1h2m21 0h3m64 0h2m-218 1h2m75 0h2m48 0h1m3 0h1m5 0h2m39 0h2m14 0h4m18 0h1m-217 1h1m60 0h1m14 0h1m1 0h1m46 0h1m5 0h2m46 0h1m35 0h2m-281 1h2m44 0h3m195 0h3m32 0h1m-89 1h2m51 0h1m-264 1h3m-136 1h3m417 0h3m-484 2h3m148 0h2m85 1h2m131 0h2m2 0h8m-179 1h2m165 0h12m-57 1h10m75 0h5m73 0h4m-463 1h3m104 0h3m187 0h9m77 0h3m-111 1h5m-142 1h1m1 0h2m133 0h2m1 0h2m-234 1h2m8 0h2m2 0h1m72 0h1m1 0h3m30 0h6m95 0h5m-227 1h1m5 0h2m1 0h5m76 0h1m30 0h3m1 0h2m94 0h6m-240 1h11m34 0h1m23 0h5m7 0h7m48 0h1m-137 1h1m1 0h9m34 0h4m20 0h3m1 0h1m7 0h2m2 0h3m48 0h2m-150 1h13m1 0h1m2 0h4m130 0h6m16 0h14m-187 1h15m2 0h5m81 0h4m45 0h5m16 0h13m-34 1h1m-2 1h2m-212 1h1m505 0h1m-507 1h3m501 2h1m1 0h1m-13 1h1m7 0h5m-13 1h2m6 0h3m-10 1h2m-4 2h2m-3 1h3m4 7h3m1 0h2m-6 1h1m4 0h1m-522 1h5m-1 1h1m513 1h4m-5 1h5m-8 1h1m-526 3h3m521 0h1m6 2h4m-14 9h1m-501 16h1m-13 5h4m3 1h3m1 0h1m-5 1h1m0 1h3m-1 1h1m-18 2h2m-3 1h2m512 6h2m-3 1h3m7 3h1m-3 2h2m-1 1h2m-1 1h1m2 1h1m-525 1h4m519 0h4m-3 1h3m-4 3h2m-2 1h1m-6 1h1m7 0h1m-13 1h3m5 0h2m2 0h2m-1 1h2m-11 2h5m-516 1h1m2 0h2m507 0h4m-517 1h2m-2 1h1m-2 1h2m504 0h1m-507 1h1m-2 1h2m-2 1h1m523 0h2m-1 1h1m-2 3h2m-1 1h3m-1 1h1m-514 1h1m495 9h1m-502 2h2m509 8h1m-3 1h4m-4 1h2m1 0h1m-8 3h1m0 1h1m-3 1h3m-6 1h1m1 0h4m-4 1h2m1 0h1m-3 1h4m-3 1h1m1 0h1m-505 1h1m502 0h2m-1 1h1m-1 1h2m-7 10h1m-1 3h4m-3 1h3m-3 1h1m-1 1h2m8 0h1m-514 1h1m1 0h1m510 0h2m-1 1h1m-16 1h6m-6 1h5m1 0h1m-1 1h2m-1 3h2m4 0h1m-512 1h3m508 0h2m-513 1h1m-11 3h3m6 0h4m1 2h1m-2 3h1m488 1h3m-3 1h1m1 0h1m5 0h2m-10 3h1m-1 1h2m17 17h2m-20 2h2m20 2h2m-1 5h2m-8 2h1m-533 2h2m-1 1h2m4 0h1m-1 1h2m-1 1h1m0 1h1m503 1h3m-3 1h1m-488 7h2m-4 9h2m1 0h1m498 1h1m-1 1h2m-7 5h1m-2 1h2m-509 10h3m4 1h2m511 1h2m-13 3h1m-1 3h1m-508 2h3m503 14h1m11 5h5m-5 1h6m-518 9h4m-1 1h1m503 5h2m-1 1h1m-13 4h3m-497 3h2m-2 1h1m-18 9h2m-4 1h3m-4 1h2m-4 1h2m4 2h2m20 9h1m-9 2h4m503 3h2m-507 7h1m514 1h2m-513 5h2m-1 2h4m-2 1h2m-8 17h2m-4 19h2m1 0h1m494 0h1m-516 9h1m-2 1h2m-2 1h1m514 2h1m-496 3h3m-11 1h1m-2 1h1m14 0h1m84 0h1m-46 1h5m109 0h1m1 0h2m-118 1h3m114 0h1m-54 1h1m-67 1h1m65 0h2m59 0h1m-90 2h1m36 1h3m5 0h1m1 0h1m194 0h1m-204 1h1m43 0h1m-161 1h1m100 0h1m14 0h2m90 0h2m264 0h1m-475 1h3m206 0h1m-209 1h1m146 0h1m1 0h2m10 0h2m145 0h1m-227 2h3m6 0h4m281 0h1m52 0h2m-386 1h1m59 0h3m111 0h1m156 0h2m52 0h1m-367 1h4m2 0h2m433 0h3m-371 1h3m1 0h4m329 0h3m-258 1h1m15 0h2m94 0h1m83 0h4m57 0h2m5 0h2m-155 1h2m83 0h1m60 0h1m31 0h2m-214 1h1m7 0h1m74 0h1m83 0h1m-228 1h1m65 0h3m74 0h2m54 1h1m53 0h1m17 0h2m-530 2h2m-1 1h1m525 0h2m-528 1h2m442 0h1m23 0h1m-468 1h1m465 0h2m-306 2h2m214 1h1m-2 1h2m22 1h2m-242 1h2m-3 4h2m207 0h3m119 0h2m-101 2h1m-157 2h2m254 2h2m-403 1h2m297 0h2m-241 2h2m236 2h2m-25 3h1m21 1h2m92 1h1m-295 3h2m221 0h3m-226 1h1m1 0h2m67 0h1m152 0h2m-349 1h2m346 0h1m-326 2h2m-2 1h1m82 0h1m306 0h1"/><path fill="none" stroke="#b858f8" stroke-width="2" d="M345 1h1m21 0h1m25 0h1m22 0h1m13 0h1m41 0h1m13 0h1m11 0h2m-150 1h1m-313 1h3m1 0h4m339 0h1m15 0h1m76 0h1m14 0h1m4 0h1m-180 1h1m133 0h1m-409 1h1m378 0h2m17 0h1m7 0h1m19 0h1m28 0h1m-126 1h1m64 0h2m15 0h1m1 0h1m-58 1h1m17 0h2m2 0h1m61 0h3m-132 1h1m10 1h1m30 0h1m23 0h2m9 0h8m1 0h1m3 0h1m25 0h1m1 0h1m14 0h2m-116 1h1m81 0h1m54 0h1m-145 1h1m36 0h1m61 0h1m5 0h1m8 0h1m-217 1h1m-101 1h1m224 0h1m73 0h1m5 0h1m13 0h2m11 0h1m27 0h1m-69 1h1m1 0h1m-194 1h1m105 0h2m17 0h1m74 0h1m31 0h1m-189 2h1m123 0h1m7 0h1m1 0h1m3 0h1m9 0h2m17 0h1m9 0h2m6 0h5m-70 1h1m-295 1h2m1 0h1m181 0h1m64 0h2m8 0h1m4 0h1m89 0h4m3 0h1m21 0h1m-66 1h1m-316 1h2m1 0h1m15 0h3m210 0h1m2 0h3m11 0h1m8 0h2m9 0h1m38 0h1m19 0h1m23 0h1m1 0h1m-73 1h1m93 0h2m-198 1h1m1 0h1m41 0h1m27 0h2m10 0h3m2 0h2m27 0h1m49 0h2m8 0h1m-128 2h1m7 0h1m3 0h1m33 0h1m14 0h1m36 0h1m1 0h1m2 0h2m17 0h1m3 0h5m4 0h1m10 0h2m-178 2h1m2 0h2m12 0h1m13 0h1m2 0h2m11 0h1m2 0h1m16 0h1m15 0h1m4 0h1m24 0h1m44 0h2m35 1h1m-269 1h3m104 0h3m16 0h1m6 0h1m17 0h3m30 0h1m10 0h1m34 0h1m2 0h1m-98 1h1m-272 1h1m160 0h1m59 0h2m5 0h1m13 0h1m2 0h1m32 0h1m1 0h1m5 0h1m18 0h2m13 0h1m1 0h1m19 0h1m3 0h1m23 0h3m23 0h1m-161 2h2m11 0h4m15 0h1m16 0h3m11 0h2m2 0h2m1 0h1m3 0h1m18 0h1m3 0h1m2 0h2m12 0h1m8 0h1m1 0h2m-51 1h1m-397 1h2m60 0h2m247 0h1m9 0h1m10 0h3m6 0h1m4 0h3m23 0h2m79 0h1m-52 1h1m-404 1h1m63 0h1m203 0h1m60 0h2m2 0h1m16 0h2m13 0h3m8 0h1m24 0h1m8 0h1m11 0h2m25 0h1m1 0h2m26 0h1m-133 1h1m-44 1h3m12 0h2m18 0h1m10 0h1m4 0h1m8 0h1m45 0h2m4 0h1m1 0h1m2 0h3m24 0h2m1 0h1m-32 2h1m19 0h1m4 0h1m6 0h1m-75 2h1m67 0h2m3 0h1m-363 1h1m204 1h1m6 0h1m12 0h6m22 0h1m7 0h2m2 0h4m6 0h1m17 0h2m3 0h2m3 0h3m4 0h2m6 0h2m7 0h1m31 0h4m6 0h2m19 0h2m-210 2h1m20 0h4m4 0h2m2 0h1m7 0h1m2 0h8m2 0h4m1 0h7m2 0h8m1 0h2m2 0h3m22 0h1m1 0h4m3 0h2m1 0h7m1 0h4m3 0h1m4 0h3m1 0h7m32 0h2m1 0h1m-198 2h1m4 0h1m9 0h2m7 0h3m2 0h2m2 0h3m2 0h8m1 0h3m1 0h5m14 0h9m1 0h5m2 0h12m2 0h2m1 0h3m2 0h5m2 0h4m1 0h1m2 0h14m2 0h1m9 0h1m1 0h1m1 0h5m34 0h1m1 0h1m2 0h1m-464 2h1m6 0h1m19 0h2m7 0h1m5 0h1m35 0h1m3 0h2m10 0h1m8 0h1m1 0h1m23 0h3m40 0h1m15 0h1m46 0h1m3 0h1m19 0h3m9 0h2m5 0h2m1 0h1m7 0h2m2 0h2m2 0h2m10 0h13m2 0h2m2 0h3m9 0h2m2 0h3m2 0h2m4 0h2m3 0h4m1 0h4m5 0h3m2 0h3m5 0h2m7 0h3m14 0h5m3 0h3m40 0h2m-468 2h4m4 0h1m3 0h2m14 0h3m2 0h4m2 0h2m20 0h3m3 0h2m3 0h1m24 0h1m3 0h2m3 0h2m2 0h3m1 0h3m3 0h1m9 0h5m3 0h2m4 0h2m7 0h7m28 0h2m2 0h1m12 0h7m4 0h4m4 0h1m2 0h3m4 0h2m1 0h2m7 0h2m2 0h1m4 0h6m1 0h15m4 0h4m1 0h10m9 0h1m8 0h1m2 0h4m27 0h3m15 0h2m9 0h1m21 0h1m10 0h3m52 0h3m15 0h1m-482 2h13m3 0h35m2 0h5m20 0h1m3 0h1m1 0h1m1 0h8m3 0h8m9 0h8m1 0h1m1 0h3m9 0h4m21 0h1m1 0h3m1 0h6m8 0h5m3 0h3m8 0h1m1 0h3m3 0h9m3 0h1m2 0h7m1 0h14m1 0h1m1 0h5m2 0h3m1 0h14m2 0h7m11 0h1m2 0h2m88 0h1m76 0h1m1 0h2m-477 2h1m5 0h9m1 0h16m2 0h1m1 0h4m4 0h2m2 0h6m32 0h1m3 0h1m1 0h6m2 0h1m6 0h2m2 0h16m2 0h3m2 0h7m4 0h2m1 0h3m3 0h6m9 0h2m1 0h2m2 0h2m1 0h10m2 0h1m3 0h13m9 0h9m26 0h4m2 0h2m9 0h3m2 0h2m1 0h2m2 0h3m4 0h2m1 0h1m179 0h1m2 0h3m10 0h1m-492 2h1m3 0h3m1 0h9m2 0h2m7 0h5m5 0h2m13 0h1m2 0h7m8 0h2m2 0h4m1 0h2m2 0h1m2 0h2m4 0h8m1 0h3m3 0h9m1 0h3m5 0h5m1 0h3m6 0h3m6 0h1m3 0h3m6 0h5m9 0h1m1 0h1m5 0h1m6 0h5m6 0h2m2 0h2m8 0h2m2 0h2m5 0h1m11 0h5m6 0h2m17 0h2m-264 2h1m28 0h1m9 0h1m40 0h1m17 0h2m11 0h1m56 0h2m6 0h2m12 0h1m5 0h2m19 0h1m264 0h1m4 0h1m7 0h1m4 1h2m-509 1h1m1 0h2m58 0h3m65 0h1m97 0h2m263 0h1m5 0h1m-8 2h2m-497 2h3m1 0h1m480 0h4m6 0h4m8 0h2m1 0h2m-507 2h1m481 0h2m3 0h1m18 0h1m-26 2h1m5 0h2m3 0h1m3 0h2m-502 2h3m490 0h1m1 0h1m1 0h4m2 0h3m4 0h1m-514 2h1m488 0h3m2 0h3m4 0h1m4 0h5m-21 2h3m1 0h2m3 0h1m2 0h2m-501 2h1m2 0h1m483 0h8m1 0h2m3 0h5m1 0h4m-20 2h2m1 0h3m3 0h2m8 0h1m-508 2h1m492 0h1m2 0h1m3 0h2m3 0h2m-21 2h2m13 0h2m-17 2h3m2 0h1m4 0h1m-507 2h1m8 0h1m497 0h2m8 0h1m-514 2h1m5 0h2m483 0h3m18 0h1m-10 2h2m-500 2h1m-4 4h2m1 0h2m-2 2h1m491 0h2m-495 6h1m-9 4h1m514 2h2m-517 4h1m502 2h1m11 0h1m-512 2h1m1 0h3m507 0h1m-514 2h1m492 0h3m8 0h1m-500 2h3m-12 2h1m6 0h1m492 0h2m-491 2h2m485 0h1m9 0h2m7 0h1m-510 2h1m494 0h2m2 0h5m2 0h1m3 0h1m-508 2h1m485 0h1m5 0h1m1 0h1m4 0h2m1 0h3m1 0h1m-20 2h1m2 0h1m12 0h4m-511 2h1m2 0h1m485 0h3m1 0h2m14 0h3m-507 2h2m488 0h1m1 0h1m9 0h1m3 0h1m-512 2h1m1 0h1m484 0h1m1 0h1m6 0h1m13 0h2m-517 2h1m2 0h1m487 0h3m3 0h2m3 0h1m3 0h5m3 0h2m-515 2h1m4 0h2m1 0h2m479 0h1m3 0h1m3 0h2m1 0h2m8 0h3m-504 2h1m479 0h5m2 0h1m16 0h1m-506 2h1m481 0h1m5 0h2m2 0h1m1 0h1m1 0h1m2 0h2m-504 2h2m484 0h2m16 0h1m-19 2h1m10 0h2m-495 2h1m481 0h2m5 0h1m14 0h1m-511 2h2m494 0h4m4 0h1m-10 2h2m6 0h2m-504 2h1m484 0h1m7 0h3m2 0h1m-502 2h3m3 0h1m490 0h1m11 0h1m-21 2h3m7 0h2m1 0h1m1 0h1m-16 2h1m8 0h2m1 0h1m8 0h1m-22 2h2m4 0h1m2 0h4m2 0h1m2 0h1m-18 2h1m-487 2h3m482 0h4m9 0h2m3 0h1m-504 2h1m483 0h4m7 0h1m3 0h1m7 0h2m-505 2h1m1 0h1m487 0h3m-494 2h1m489 0h1m1 0h1m1 0h1m-7 2h3m-493 2h3m481 0h3m4 0h1m6 0h1m-506 2h1m1 0h2m3 0h1m483 0h2m6 0h2m2 0h2m-508 2h1m13 0h1m477 0h2m1 0h1m7 0h1m-11 2h1m19 0h1m-12 1h2m-10 1h2m4 0h1m-493 2h1m1 0h1m1 0h1m482 0h1m4 0h2m10 0h1m2 0h1m1 0h1m-507 2h1m483 0h2m4 0h1m8 0h2m-18 2h1m7 0h1m1 0h1m-501 2h1m495 0h2m7 0h1m1 0h2m3 0h2m-512 2h1m-2 2h1m2 0h1m1 0h2m482 0h2m22 0h2m-27 2h1m1 0h1m6 0h1m-491 2h1m480 0h4m18 0h2m-506 2h1m483 0h1m6 0h2m-497 2h1m487 0h2m-492 2h1m2 0h1m485 0h3m3 0h2m6 0h1m2 0h1m6 0h2m-25 2h1m4 0h1m4 0h1m6 0h1m-507 2h2m485 0h3m12 0h1m4 0h1m5 0h1m-518 2h1m11 0h1m481 0h1m4 0h2m15 0h1m-12 1h1m-500 1h3m483 0h1m16 0h1m7 0h1m-512 2h2m2 0h1m482 0h2m11 0h1m5 1h1m-21 1h3m4 0h1m2 0h2m-493 2h1m481 0h2m14 0h2m4 0h2m-25 2h2m-489 2h1m3 0h1m483 0h1m-484 2h2m493 0h1m-498 2h1m1 0h1m487 0h2m7 0h1m-501 2h1m506 0h1m-23 2h1m16 0h1m-500 2h1m481 0h2m10 0h2m10 0h2m-26 2h1m9 0h2m-5 2h2m3 0h2m4 2h2m-505 2h2m497 0h2m5 0h1m-505 2h1m483 2h1m5 0h4m3 0h1m-14 2h3m4 0h1m-496 2h1m497 0h1m-494 2h1m481 0h3m3 0h1m-8 2h3m7 0h1m10 0h2m-22 2h3m3 0h1m-491 2h2m483 0h2m7 0h1m2 0h2m-499 2h1m482 0h3m4 0h1m7 0h2m-503 2h1m3 0h1m488 0h2m6 0h1m-503 2h1m494 0h1m5 0h2m-502 2h1m5 0h1m-2 2h2m481 0h1m6 0h3m4 0h2m4 0h1m-515 2h1m7 0h2m484 0h2m6 0h1m5 0h1m-508 2h1m3 0h3m485 0h3m4 0h3m-502 2h2m9 0h1m479 0h4m-495 2h1m9 0h1m481 0h2m5 0h1m2 0h3m-499 2h3m484 0h3m7 0h1m2 0h1m-15 2h2m5 0h3m5 0h1m2 0h2m4 0h1m-26 2h2m7 0h1m1 0h1m11 0h2m-24 2h3m-488 2h1m485 0h2m-5 2h1m2 0h1m6 0h1m11 0h1m2 0h1m-508 2h1m482 0h3m12 0h1m-15 2h3m3 0h1m14 0h2m-514 2h3m5 0h1m484 0h2m13 0h1m7 0h1m-26 2h3m6 0h1m-11 4h1m15 0h1m4 0h1m-512 2h1m7 0h1m482 0h3m-3 2h1m14 0h2m-499 2h1m482 0h2m4 1h2m3 1h1m-500 2h2m3 0h1m1 0h1m490 0h1m1 0h1m4 0h1m-18 2h1m16 0h3m-509 2h1m5 0h1m482 0h2m-487 2h2m482 0h1m-2 2h3m15 0h1m-502 2h1m483 0h2m21 0h1m-512 2h2m486 0h1m-490 2h4m5 0h2m492 0h1m7 0h1m-505 2h1m-6 2h1m2 0h1m2 0h1m488 2h1m2 2h1m12 0h1m-510 2h2m483 0h2m12 0h1m-499 2h1m483 0h1m-483 6h1m480 0h4m-2 2h1m7 0h1m10 0h1m-21 2h2m-490 2h2m3 0h1m481 0h3m10 0h1m8 0h1m-508 2h1m486 0h1m-493 2h1m490 0h4m11 0h3m5 0h1m-507 2h1m482 0h3m6 0h2m4 0h1m-16 2h4m-5 2h4m18 0h1m1 0h1m-508 2h1m491 0h2m6 0h1m-502 2h1m-7 4h1m1 0h1m5 0h2m481 0h2m8 0h1m-497 2h3m483 0h1m3 0h1m14 0h1m-500 2h1m479 0h3m9 0h1m-495 2h2m479 0h2m8 0h1m1 0h1m-496 2h2m482 0h2m18 0h1m-21 2h1m-484 2h1m482 0h3m18 0h1m-510 2h1m6 0h2m478 0h1m2 0h1m-490 2h1m486 0h3m-2 2h1m-494 2h1m9 0h1m500 4h2m-20 2h2m-497 3h1m503 1h2m-12 2h3m-493 2h1m7 2h1m-11 2h1m1 0h1m489 0h2m-1 2h3m15 0h1m-509 2h1m488 0h3m-488 2h2m483 0h2m-493 4h1m2 0h1m3 0h1m-4 4h2m-3 2h3m-3 2h2m3 0h1m-7 2h1m4 0h1m482 0h2m17 0h1m-18 2h1m-496 2h1m9 0h1m483 0h1m1 0h1m10 0h1m-504 2h1m2 0h2m485 0h3m-491 2h1m487 0h2m-488 2h1m484 0h3m-489 2h1m1 0h1m485 0h1m-485 2h1m481 0h1m-485 2h1m1 0h2m483 0h2m-485 2h1m481 0h1m-486 2h2m480 0h2m-460 2h1m75 0h3m38 0h1m6 0h1m335 0h1m-479 2h2m9 0h1m7 0h3m12 0h1m3 0h2m19 0h2m15 0h3m8 0h3m14 0h1m12 0h2m1 0h1m7 0h1m18 0h1m13 0h1m316 0h2m-485 2h1m2 0h2m2 0h1m5 0h2m2 0h1m7 0h2m7 0h4m16 0h1m14 0h2m3 0h6m2 0h1m1 0h1m12 0h3m4 0h2m2 0h1m1 0h1m6 0h2m1 0h2m6 0h2m8 0h1m10 0h6m1 0h1m5 0h3m10 0h3m5 0h1m3 0h1m11 0h1m80 0h1m154 0h1m43 0h1m-474 2h1m11 0h1m6 0h3m2 0h5m18 0h1m3 0h1m6 0h1m6 0h1m8 0h2m14 0h2m3 0h1m11 0h4m6 0h1m5 0h3m9 0h4m13 0h1m1 0h1m1 0h1m19 0h1m2 0h1m8 0h1m12 0h2m13 0h1m102 0h1m116 0h2m34 0h2m-482 2h2m20 0h3m2 0h2m34 0h1m23 0h2m2 0h1m2 0h1m3 0h1m2 0h1m6 0h1m6 0h1m5 0h1m1 0h1m9 0h1m6 0h1m10 0h2m10 0h1m10 0h2m8 0h2m3 0h1m5 0h1m11 0h1m4 0h1m5 0h1m6 0h1m111 0h2m21 0h1m8 0h1m53 0h2m26 0h1m17 0h1m-467 2h1m32 0h1m12 0h1m6 0h1m1 0h1m14 0h1m10 0h1m4 0h1m9 0h1m23 0h4m10 0h1m5 0h1m8 0h1m6 0h1m2 0h2m6 0h1m2 0h1m8 0h1m4 0h1m8 0h2m29 0h1m2 0h1m16 0h2m54 0h1m1 0h1m44 0h2m21 0h1m8 0h1m14 0h1m12 0h1m21 0h2m26 0h1m8 0h2m7 0h1m4 0h1m-456 2h1m27 0h2m6 0h1m29 0h2m10 0h2m3 0h1m11 0h1m17 0h2m11 0h1m4 0h2m4 0h1m14 0h1m6 0h2m1 0h1m32 0h1m15 0h3m6 0h1m3 0h1m3 0h2m5 0h1m1 0h1m1 0h2m2 0h1m12 0h2m5 0h1m2 0h1m4 0h1m14 0h1m7 0h5m3 0h1m6 0h3m21 0h1m2 0h1m1 0h1m9 0h1m14 0h1m5 0h3m5 0h1m5 0h1m4 0h1m15 0h1m2 0h2m16 0h1m2 0h4m6 0h1m5 0h1m2 0h2m5 0h1m-477 2h3m3 0h1m7 0h1m5 0h3m10 0h1m6 0h2m10 0h1m3 0h1m21 0h1m15 0h1m2 0h1m6 0h2m8 0h1m6 0h1m2 0h3m2 0h1m4 0h1m7 0h2m1 0h1m1 0h2m34 0h1m7 0h2m17 0h1m3 0h1m10 0h2m1 0h2m19 0h1m5 0h3m6 0h3m6 0h1m13 0h1m7 0h1m1 0h1m2 0h1m33 0h1m1 0h1m3 0h2m8 0h1m4 0h2m4 0h2m7 0h2m9 0h2m11 0h2m10 0h1m1 0h1m2 0h1m3 0h1m3 0h1m3 0h1m13 0h2m1 0h1m13 0h1m2 0h1m4 0h3m5 0h1m3 0h1m2 0h1m-452 2h1m4 0h2m13 0h2m9 0h1m17 0h1m25 0h2m41 0h1m15 0h1m7 0h2m3 0h1m26 0h1m4 0h1m4 0h2m17 0h4m3 0h1m11 0h1m4 0h2m1 0h1m1 0h1m1 0h1m1 0h3m3 0h2m10 0h1m7 0h2m15 0h2m5 0h2m1 0h4m6 0h2m4 0h2m8 0h1m7 0h2m10 0h1m2 0h1m1 0h1m1 0h1m2 0h1m5 0h1m2 0h1m13 0h1m4 0h3m4 0h3m1 0h1m6 0h1m3 0h1m13 0h2m1 0h2m22 0h2m8 0h1m7 0h1m-457 2h1m13 0h1m1 0h1m10 0h1m26 0h1m7 0h1m6 0h1m21 0h1m20 0h1m25 0h1m1 0h1m11 0h2m30 0h1m22 0h1m8 0h2m14 0h2m7 0h1m2 0h3m11 0h1m12 0h1m3 0h2m12 0h2m4 0h2m1 0h2m3 0h1m27 0h1m14 0h2m4 0h2m14 0h1m10 0h1m1 0h1m34 0h2m7 0h2m5 0h2m5 0h1m1 0h1m1 0h1m1 0h1m-455 2h1m1 0h1m8 0h1m28 0h2m55 0h1m37 0h1m25 0h1m11 0h1m23 0h1m11 0h1m15 0h1m2 0h1m13 0h1m6 0h2m22 0h3m51 0h1m19 0h1m4 0h1m1 0h1m5 0h1m6 0h1m3 0h2m1 0h1m8 0h1m1 0h1m7 0h1m1 0h4m18 0h1m13 0h1m8 0h1m8 0h1m2 0h3m-383 1h1m-38 1h1m152 0h2m20 0h2m60 0h1m12 0h1m19 0h2m2 0h2m1 0h2m36 0h1m29 0h1m20 0h1m4 0h1m4 0h1m11 0h2m9 0h1m4 0h1m10 0h2m11 0h1m-299 2h1m55 0h2m9 0h1m10 0h1m23 0h2m22 0h1m5 0h1m1 0h1m6 0h1m48 0h6m21 0h1m38 0h2m22 0h2m1 0h1m-230 2h1m3 0h1m2 0h1m1 0h1m76 0h1m9 0h1m20 0h1m63 0h2m6 0h1m4 0h2m34 0h1m38 0h1m-382 2h1m158 0h1m142 0h1m77 1h1m-2 3h1m-363 1h1m360 1h1m-35 1h1m-89 1h1m87 1h2m-115 1h1m-218 6h1m208 0h2m-135 1h1m-146 3h1m114 5h1m320 0h1m-14 3h1m-127 3h1m-200 1h1m221 0h1m1 0h1m-50 2h1m-351 4h1"/><path fill="#8028f8" d="M351 0h1v3h-1zm21 0h1v3h-1zm6 0h1v9h-1zm14 0h1v3h-1zm23 0h1v4h-1zm47 0h1v3h-1zm8 0h1v7h-1zm-97 3h1v6h-1zm79 0h1v5h-1zm16 0h1v5h-1zm-118 1h1v5h-1zm98 0h1v3h-1zm30 0h1v4h-1zm-111 1h1v3h-1zm3 0h1v3h-1zm22 0h1v3h-1zm33 2h1v3h-1zm2 0h1v3h-1zm-56 1h1v3h-1zm93 0h1v3h-1zm5 0h2v3h-2zm19 0h1v4h-1zm-111 1h2v5h-2zm11 0h1v6h-1zm31 0h1v3h-1zm82 0h1v3h-1zm-96 1h1v4h-1zm57 0h1v8h-1zm-54 1h1v4h-1zm6 0h1v4h-1zm-42 1h1v3h-1zm46 0h1v5h-1zm23 0h1v6h-1zm29 0h2v3h-2zm-124 2h1v7h-1zm40 1h1v3h-1zm61 0h1v11h-1zm-69 1h1v3h-1zm81 0h1v3h-1zm43 1h2v3h-2zm-110 1h1v3h-1zm3 0h1v4h-1zm7 0h1v6h-1zm73 1h1v3h-1zm-61 1h1v5h-1zm85 0h1v4h-1zm-39 1h2v5h-2zm24 0h1v5h-1zm-139 1h1v3h-1zm47 1h1v5h-1zm9 1h2v3h-2zm29 0h1v4h-1zm23 0h1v4h-1zm16 0h1v4h-1zm-55 1h2v3h-2zm-70 1h1v3h-1zm102 0h2v3h-2zm28 0h1v6h-1zm13 0h2v3h-2zm4 0h1v4h-1zm-150 1h1v9h-1zm61 0h1v11h-1zm29 1h1v3h-1zm30 0h2v3h-2zm15 0h1v4h-1zm-83 1h1v10h-1zm21 0h1v7h-1zm2 0h1v3h-1zm85 0h1v3h-1zm-45 1h1v4h-1zm2 0h1v4h-1zm7 0h1v3h-1zm-56 1h1v4h-1zm28 0h1v3h-1zm24 0h3v3h-3zm-55 2h1v7h-1zm30 1h1v4h-1zm12 0h1v3h-1zm20 0h1v3h-1zm-9 2h1v4h-1zm22 0h1v4h-1zm3 0h1v4h-1zm9 0h1v4h-1zm7 0h1v4h-1zm6 0h1v3h-1zm-164 1h1v3h-1zm30 0h1v3h-1zm47 0h1v3h-1zm50 0h1v3h-1zm6 0h1v3h-1zm-74 1h2v3h-2zm-62 5h1v3h-1zm167 1h1v4h-1zm-325 1h1v3h-1zm247 1h1v4h-1zm-185 1h1v3h-1zm88 1h1v4h-1zm136 0h1v4h-1zm-400 2h1v3h-1zm259 4h8v4h-8zm-77 2h2v4h-2zm-140 2h1v4h-1zm-73 2h2v4h-2zm39 0h2v4h-2zm21 0h1v4h-1zm73 2h2v4h-2zm-142 2h1v4h-1zm7 2h2v4h-2zm-9 8h1v4h-1zm1 4h1v4h-1zm501 0h2v4h-2zm0 4h1v3h-1zm-6 2h2v4h-2zm14 0h1v4h-1zm3 0h2v3h-2zm-7 8h1v4h-1zm2 0h2v4h-2zm-15 2h1v4h-1zm-489 10h1v4h-1zm490 0h1v6h-1zm-488 2h1v4h-1zm495 5h1v3h-1zm-8 5h2v4h-2zm-1 8h1v4h-1zm16 0h2v3h-2zm-507 2h1v4h-1zm491 2h2v4h-2zm-490 14h2v4h-2zm485 2h1v4h-1zm-481 2h1v4h-1zm-8 8h1v4h-1zm488 0h3v4h-3zm-481 12h2v4h-2zm-5 1h1v3h-1zm498 6h1v3h-1zm-496 3h1v4h-1zm485 0h2v6h-2zm1 6h1v4h-1zm5 9h1v4h-1zm-7 1h4v4h-4zm1 12h1v4h-1zm-1 4h4v4h-4zm-479 10h2v4h-2zm-6 4h1v4h-1zm501 2h1v4h-1zm-6 6h1v3h-1zm-493 6h1v4h-1zm484 2h2v6h-2zm-490 2h1v4h-1zm512 1h1v5h-1zm-506 1h3v4h-3zm0 4h1v8h-1zm484 0h2v6h-2zm14 24h1v4h-1zm-492 4h1v4h-1zm-4 16h2v4h-2zm483 2h2v4h-2zm-484 4h1v4h-1zm497 8h1v3h-1zm-6 1h1v3h-1zm7 3h1v3h-1zm-6 1h1v4h-1zm-9 9h3v4h-3zm-479 2h1v4h-1zm493 4h1v3h-1zm-495 4h1v6h-1zm481 0h2v4h-2zm9 0h1v3h-1zm-488 2h1v4h-1zm-5 2h2v4h-2zm490 2h1v3h-1zm-7 4h3v4h-3zm-480 2h1v6h-1zm481 2h2v4h-2zm-486 20h1v4h-1zm2 0h1v4h-1zm500 2h1v3h-1zm-502 8h1v4h-1zm487 2h1v4h-1zm-1 6h2v6h-2zm17 3h1v4h-1zm1 4h1v3h-1zm-505 1h1v4h-1zm488 4h1v4h-1zm-484 4h3v4h-3zm506 0h1v4h-1zm-8 4h1v4h-1zm-15 2h2v4h-2zm-488 26h1v4h-1zm-2 2h1v4h-1zm4 0h1v4h-1zm7 4h1v4h-1zm500 0h1v4h-1zm-13 3h1v3h-1zm-493 7h2v4h-2zm495 3h1v4h-1zm-387 5h2v4h-2zm-66 2h1v4h-1zm30 2h1v6h-1zm32 0h1v6h-1zm-28 2h3v4h-3zm4 0h1v4h-1zm56 0h1v4h-1zm188 0h1v4h-1zm-225 2h1v4h-1zm19 0h1v4h-1zm112 0h2v4h-2zm78 0h1v4h-1zm-304 2h1v4h-1zm23 0h1v4h-1zm76 0h1v4h-1zm37 0h1v4h-1zm20 0h1v4h-1zm238 0h1v4h-1zm58 0h2v4h-2zm17 0h1v4h-1zm-307 2h1v4h-1zm37 0h1v4h-1zm151 0h2v4h-2zm100 0h1v4h-1zm13 0h1v4h-1zm-421 2h1v4h-1zm82 0h1v4h-1zm88 0h1v4h-1zm247 0h1v6h-1zm-396 2h1v4h-1zm166 0h1v6h-1zm51 0h1v4h-1zm14 0h1v4h-1zm14 0h1v3h-1zm47 0h1v4h-1zm47 0h1v4h-1zm-326 2h1v4h-1zm137 0h1v4h-1zm2 0h1v4h-1zm19 0h1v4h-1zm44 0h1v4h-1zm70 0h1v4h-1zm70 0h1v4h-1zm4 0h1v4h-1zm41 0h1v3h-1zm-155 2h1v4h-1zm5 0h1v4h-1zm76 0h1v4h-1zm71 0h1v4h-1zm18 0h1v6h-1zm-182 2h2v4h-2zm110 0h1v4h-1zm-158 1h1v3h-1zm220 0h1v3h-1z"/><path fill="none" stroke="#8028f8" stroke-width="1" d="M490 0.5h1m10 0h1m-10 1h2m-57 1h4m26 0h2m19 0h4m-142 1h2m132 0h1m1 0h6m-123 1h2m42 0h2m75 1h3m-106 1h2m36 0h3m67 0h1m-108 1h1m59 0h2m13 0h2m-89 1h1m15 0h2m1 0h4m50 0h1m-101 1h1m6 0h3m6 1h3m57 0h3m16 0h2m26 0h2m4 0h2m-121 1h3m9 0h2m91 0h2m4 0h4m4 0h3m-60 1h4m81 0h2m-177 1h2m30 0h2m28 0h1m9 0h1m101 0h1m1 0h1m-131 1h1m16 0h1m32 0h1m30 0h1m5 0h4m37 0h3m-131 1h2m15 0h2m62 0h2m5 0h1m1 0h1m33 0h1m2 0h2m-103 1h1m62 0h1m24 0h4m1 0h1m5 0h1m1 0h1m-39 1h2m1 0h1m22 0h5m-130 1h4m90 0h2m3 0h3m5 0h2m3 0h3m-16 1h1m1 0h1m10 0h1m1 0h1m-39 1h2m21 0h3m34 0h1m-61 1h3m56 0h2m-23 1h1m-15 1h3m-100 1h3m102 0h1m-133 1h3m26 0h1m86 1h1m1 0h1m3 0h3m-10 1h5m3 0h1m-75 1h2m20 0h3m76 0h3m-49 1h1m33 0h1m4 0h4m3 0h4m2 0h1m-64 1h4m-1 1h1m-80 1h2m111 0h2m24 0h2m-28 1h1m25 0h6m-49 1h3m2 0h1m30 0h3m4 0h1m-59 1h1m14 0h4m32 0h2m4 0h2m-178 1h2m17 0h2m98 0h2m27 0h2m-30 1h1m28 0h1m-48 1h3m8 0h2m5 0h2m9 0h1m3 0h1m29 0h4m-97 1h1m40 0h1m7 0h1m9 0h5m29 0h3m26 0h1m-327 2h2m171 1h3m-87 2h2m51 1h2m-279 1h3m245 0h2m82 0h2m-91 1h4m86 0h1m-25 1h2m83 0h2m-266 2h3m-73 6h1m61 0h2m21 0h3m-89 1h2m62 0h1m6 0h2m12 0h4m-29 1h2m2 0h2m97 0h1m1 0h2m-107 1h6m97 0h4m-255 10h1m-1 3h1m506 5h4m-20 3h1m-3 4h2m-2 1h3m9 0h2m-8 5h3m1 0h5m2 0h2m-11 1h1m1 0h4m2 0h3m5 5h1m-13 2h2m-3 1h3m10 0h1m-14 1h1m-1 1h3m4 3h1m-2 1h2m3 3h1m1 0h1m-3 1h3m-14 1h2m-502 3h1m4 1h2m489 0h1m-493 1h3m502 0h2m1 3h1m-1 1h2m-17 1h1m6 4h1m-4 1h1m2 1h1m8 0h1m-10 1h5m2 0h1m-2 3h3m-3 1h2m-15 3h1m2 0h3m1 0h5m-12 1h2m1 0h9m-12 1h1m2 0h1m2 0h3m-9 1h5m3 0h2m-7 1h3m3 0h3m-9 1h4m3 0h2m-10 1h6m-6 1h7m1 3h1m-5 1h1m2 0h2m-13 1h3m5 0h5m-13 1h1m10 0h2m-23 11h4m6 0h1m-11 1h3m-2 3h2m-2 1h3m-488 1h7m-8 1h8m-9 1h2m493 6h4m-493 6h1m-2 1h2m486 5h2m-2 16h2m9 7h1m-1 1h2m-1 1h1m-5 14h2m-1 6h2m-11 14h2m4 17h2m-1 1h1m6 2h1m-1 1h2m-1 1h1m-1 3h4m-506 12h2m-4 1h4m493 26h2m-8 1h2m-494 2h3m491 21h1m-1 3h3m-3 1h1m1 0h1m-495 17h3m-5 1h5m494 8h1m0 1h1m-3 1h3m-5 6h3m-500 7h4m-4 1h2m502 0h2m-1 1h1m0 9h1m-1 1h2m-1 3h2m-1 1h1m-9 2h4m3 0h1m-1 1h2m-9 13h4m-11 32h2m-409 18h1m3 0h4m83 0h1m-114 1h2m20 0h2m1 0h5m47 1h1m13 0h2m1 0h1m-113 1h2m107 0h5m-92 1h5m39 0h5m-49 1h6m38 0h1m1 0h3m-46 1h1m114 4h1m193 0h1m-72 2h2m12 0h1m-15 1h1m166 0h1m-68 2h1m57 0h2m-222 1h3m1 0h2m5 0h1m190 0h1m21 0h2m-226 1h2m200 0h2m-185 3h1m1 0h1m4 0h1m25 1h1m84 0h1"/><path fill="none" stroke="#8028f8" stroke-width="2" d="M467 1h1m20 0h1m-120 2h1m47 0h1m55 0h2m19 0h2m-105 1h1m48 0h1m21 0h2m-77 1h1m98 0h3m-76 1h1m49 0h1m-20 1h1m29 0h3m3 0h1m8 0h1m1 0h3m-104 2h1m81 0h1m1 0h1m17 0h1m-100 1h1m81 1h1m15 0h2m-100 1h2m31 1h2m37 0h1m7 0h1m1 0h2m2 0h1m4 0h1m3 0h4m-89 2h2m74 0h2m6 0h8m-122 1h1m133 0h1m-113 1h2m83 0h1m-341 2h1m299 0h2m1 0h1m28 0h1m10 0h1m13 0h1m-37 1h1m-324 1h2m1 0h1m175 0h3m118 0h1m51 0h1m4 0h1m-29 1h2m-148 1h1m107 0h1m13 0h1m1 0h1m25 0h1m15 0h1m5 0h4m5 0h1m-38 2h1m1 0h1m25 0h2m34 0h1m-32 1h1m-124 1h1m100 0h4m5 0h1m12 1h2m-22 1h1m-12 1h1m3 1h1m6 0h2m4 0h2m6 0h3m1 0h4m-16 2h1m1 0h1m1 0h1m-12 2h2m1 0h2m2 0h3m2 0h2m-53 2h1m17 0h2m19 0h1m10 0h3m4 0h2m1 0h1m-60 2h1m38 0h2m17 0h1m4 0h1m-32 2h14m4 0h1m1 0h1m2 0h1m-465 2h1m440 0h10m4 0h2m6 0h3m2 0h3m-116 1h1m81 1h2m2 0h4m3 0h1m7 0h1m10 0h1m-286 2h1m257 0h5m18 0h2m4 0h3m-472 2h1m5 0h1m307 0h2m8 0h1m3 0h1m17 0h2m37 0h2m5 0h2m6 0h2m14 0h2m8 0h2m1 0h1m36 0h5m1 0h1m-168 2h1m6 0h3m5 0h2m13 0h2m2 0h2m3 0h9m2 0h2m3 0h2m2 0h2m1 0h1m2 0h3m4 0h1m4 0h5m3 0h2m3 0h2m1 0h2m2 0h7m3 0h14m5 0h3m35 0h5m2 0h1m5 1h1m-312 1h2m74 0h1m48 0h1m10 0h1m6 0h2m2 0h5m1 0h1m1 0h2m4 0h3m2 0h14m2 0h6m3 0h8m3 0h4m2 0h2m2 0h5m1 0h15m1 0h5m1 0h10m3 0h1m1 0h11m36 0h3m-380 2h1m40 0h1m38 0h1m10 0h1m24 0h2m1 0h1m28 0h1m22 0h2m18 0h2m17 0h1m1 0h2m2 0h7m3 0h6m3 0h3m11 0h2m3 0h7m5 0h2m1 0h3m2 0h4m3 0h5m1 0h2m2 0h1m2 0h2m4 0h4m1 0h2m3 0h3m2 0h7m11 0h4m42 0h2m1 0h1m-477 2h1m4 0h2m10 0h1m19 0h1m4 0h3m3 0h2m6 0h4m15 0h2m9 0h2m1 0h3m12 0h5m34 0h1m18 0h1m10 0h1m2 0h2m2 0h1m10 0h2m1 0h3m31 0h5m14 0h7m4 0h2m2 0h9m3 0h1m3 0h1m2 0h2m3 0h4m2 0h1m10 0h4m2 0h1m1 0h1m4 0h2m4 0h1m10 0h1m27 0h2m3 0h1m5 0h1m7 0h2m9 0h2m1 0h1m9 0h4m8 0h2m16 0h1m37 0h1m1 0h2m-485 2h1m13 0h1m9 0h2m2 0h7m5 0h5m2 0h5m3 0h2m1 0h2m1 0h2m7 0h8m2 0h2m7 0h2m1 0h2m2 0h4m8 0h1m4 0h2m9 0h1m3 0h5m5 0h1m3 0h6m10 0h3m4 0h5m5 0h9m1 0h1m1 0h5m1 0h6m5 0h6m2 0h2m2 0h4m2 0h2m6 0h5m1 0h11m5 0h1m7 0h14m1 0h2m2 0h4m2 0h9m2 0h8m3 0h1m2 0h1m174 0h2m17 0h1m-498 2h2m7 0h11m1 0h8m1 0h7m1 0h3m7 0h5m2 0h4m2 0h2m6 0h8m6 0h5m1 0h3m5 0h9m2 0h1m2 0h8m1 0h12m2 0h11m2 0h5m1 0h13m1 0h5m1 0h3m2 0h6m2 0h12m1 0h5m2 0h19m1 0h6m2 0h3m3 0h12m5 0h16m3 0h1m1 0h1m4 0h2m6 0h1m185 0h3m-486 2h2m2 0h2m11 0h2m2 0h1m2 0h3m2 0h3m5 0h3m1 0h7m6 0h2m8 0h2m2 0h1m5 0h4m4 0h2m4 0h1m1 0h3m15 0h1m4 0h1m5 0h1m2 0h7m1 0h4m2 0h1m1 0h1m9 0h9m10 0h3m5 0h2m1 0h4m5 0h4m6 0h2m1 0h1m2 0h1m11 0h6m3 0h1m7 0h3m2 0h1m3 0h2m5 0h1m1 0h2m4 0h1m1 0h1m8 0h1m2 0h1m4 0h3m3 0h8m7 0h3m185 0h3m1 0h1m8 0h1m9 0h1m-499 2h2m7 0h1m20 0h3m5 0h1m21 0h3m6 0h2m10 0h1m5 0h1m24 0h1m17 0h1m10 0h1m4 0h2m3 0h1m3 0h1m14 0h1m26 0h2m2 0h1m4 0h2m5 0h1m6 0h2m23 0h1m232 0h2m16 0h1m-505 2h1m71 0h2m9 0h1m23 0h1m66 0h1m18 0h1m49 0h1m243 0h1m14 0h1m-500 2h1m1 0h2m479 0h4m23 0h1m-514 2h1m6 0h1m480 0h1m8 0h3m1 0h3m2 0h1m3 0h1m2 0h2m-26 2h2m4 0h2m-499 2h1m8 0h3m479 0h1m9 0h1m4 0h3m-503 2h1m2 0h2m480 0h2m6 0h2m2 0h1m3 0h2m-502 2h2m1 0h1m481 0h1m-488 2h1m493 0h1m8 0h1m6 0h1m-518 2h1m492 0h3m3 0h5m-495 2h1m494 0h1m5 0h2m-505 2h1m2 0h2m484 0h1m6 0h4m-496 2h1m483 0h13m2 0h1m2 0h5m-519 2h1m1 0h1m1 0h1m491 0h1m18 0h1m3 0h1m-511 2h1m487 0h1m2 0h1m2 0h6m8 0h2m-516 2h1m1 0h2m2 0h2m1 0h1m495 0h2m8 0h2m-512 2h1m2 0h1m489 0h1m8 0h4m-510 2h1m2 0h1m5 0h1m484 0h5m7 0h3m-507 2h3m3 0h2m484 0h1m3 0h1m11 0h1m-501 2h2m481 0h2m5 0h1m3 0h1m6 0h2m-511 2h2m494 0h2m2 0h1m3 0h1m4 0h1m-511 2h1m1 0h1m5 0h2m494 0h3m6 0h2m-513 2h3m493 0h2m5 0h5m-512 2h1m5 0h2m1 0h2m483 0h3m13 0h1m3 0h2m-515 2h1m4 0h1m2 0h1m486 0h3m6 0h1m7 0h1m2 0h1m-514 2h2m7 0h1m482 0h1m-498 2h1m1 0h1m5 0h5m489 0h1m8 0h1m1 0h1m-511 2h1m6 0h3m487 0h2m1 0h1m1 0h3m3 0h2m2 0h1m-510 2h1m3 0h1m487 0h2m10 0h3m5 0h1m-516 2h1m1 0h1m1 0h2m2 0h2m482 0h2m3 0h1m6 0h1m1 0h2m3 0h5m-511 2h1m490 0h1m1 0h3m11 0h3m-509 2h1m1 0h1m491 0h3m1 0h1m-507 2h1m5 0h2m4 0h1m485 0h1m2 0h3m6 0h2m1 0h3m1 0h1m-509 2h3m488 0h2m2 0h2m5 0h2m-511 2h1m1 0h1m6 0h3m481 0h1m2 0h4m3 0h3m3 0h1m-513 2h1m7 0h4m483 0h1m3 0h2m17 0h1m-515 2h1m1 0h1m1 0h2m1 0h1m482 0h2m-494 2h1m11 0h1m480 0h2m2 0h3m1 0h1m11 0h3m-513 2h1m4 0h1m489 0h3m12 0h2m-506 2h2m489 0h2m14 0h1m-26 2h3m3 0h1m2 0h1m-497 2h1m-4 2h1m8 0h1m478 0h2m13 0h1m-501 2h1m3 0h2m480 0h2m-490 2h1m485 0h4m-494 2h1m6 0h2m1 0h1m488 2h1m-497 2h1m3 0h5m-2 2h1m480 0h1m-491 2h1m5 0h3m480 2h3m14 0h1m-17 2h2m-481 2h1m477 0h3m-3 2h4m-482 2h2m478 0h1m-483 2h2m479 0h1m26 0h1m-506 2h1m485 0h1m-500 2h1m11 0h1m491 0h1m-498 2h1m2 0h1m-8 2h1m4 0h1m3 0h1m-3 2h3m-10 2h1m4 0h3m1 0h1m477 0h1m2 0h1m-488 2h3m481 0h2m-485 2h3m1 0h1m480 0h1m7 0h1m-498 2h1m2 4h1m483 0h3m-491 2h1m8 0h1m479 0h3m8 0h1m-13 2h4m6 0h1m-499 2h1m10 0h1m476 0h3m8 0h1m-496 2h1m486 0h1m-485 2h1m2 0h1m-13 2h1m10 0h2m1 0h1m488 0h1m-499 2h1m1 0h3m-4 2h1m5 0h2m477 0h2m-492 2h1m7 0h1m2 0h1m478 0h3m-490 2h1m2 0h1m3 0h3m476 0h2m-487 2h5m480 0h5m-5 2h3m12 1h1m-497 1h1m2 0h1m479 0h2m-491 2h1m6 0h1m1 0h2m478 0h1m-484 2h2m2 0h1m476 0h4m-485 2h1m482 0h1m-488 2h1m1 0h3m1 0h1m479 0h3m-485 2h1m3 0h1m478 0h1m-489 2h1m5 0h1m1 0h1m479 0h2m-485 2h2m479 0h3m-482 2h1m-6 2h5m1 0h1m490 0h1m-500 4h1m6 0h1m480 0h1m11 0h1m-496 2h1m-6 2h2m4 0h1m2 0h1m-5 2h1m2 0h2m-9 2h1m3 0h2m480 0h3m14 0h1m-498 2h1m478 0h4m20 0h1m-512 2h1m3 0h1m483 0h3m5 0h1m-490 2h1m481 0h1m-489 2h1m2 0h1m3 0h2m478 0h1m7 0h1m-493 2h3m481 0h2m-486 2h2m2 0h1m480 0h2m-486 2h1m1 0h2m479 0h1m-487 2h1m1 0h1m483 0h2m-490 2h1m5 0h2m481 0h1m-485 2h3m2 0h3m474 0h2m9 0h1m-497 2h1m3 0h1m483 0h1m5 0h1m-496 2h1m6 0h1m478 0h4m12 0h1m-507 2h1m490 0h2m-490 2h1m9 0h1m493 0h1m-504 2h2m483 0h1m2 0h1m-483 2h2m1 0h1m478 0h2m14 0h1m1 0h1m-502 2h2m480 0h2m-488 2h1m3 0h4m477 0h2m10 0h1m-11 2h1m19 0h1m-512 2h1m1 0h1m3 0h1m495 0h1m-500 2h1m1 0h5m479 0h1m-485 2h1m3 0h1m479 0h2m-487 2h2m484 0h2m-2 2h4m-489 2h1m485 0h1m25 0h1m-519 2h2m9 0h2m478 0h3m-4 2h2m-488 2h1m4 0h1m2 0h2m476 0h3m-2 2h2m-488 2h3m4 0h1m478 0h3m-492 2h1m4 0h2m2 0h1m479 0h2m-490 2h1m488 0h1m-490 2h2m3 0h3m480 4h2m-490 2h1m1 0h1m1 0h1m2 0h1m3 0h1m475 0h2m-486 2h1m1 0h1m3 0h2m478 0h1m-493 2h1m1 0h1m1 0h1m3 2h1m481 2h3m8 0h2m-502 2h1m2 0h1m5 0h2m1 0h1m478 0h1m-484 2h4m478 0h2m-493 2h1m5 0h2m1 0h2m-4 2h1m5 0h1m-11 2h1m1 0h2m-5 2h1m1 2h1m3 0h1m1 0h2m478 0h3m-483 2h1m1 0h1m478 0h1m-488 2h2m3 0h1m481 0h3m-492 2h2m488 0h1m-486 2h1m1 0h1m1 0h2m476 0h3m-489 2h2m3 0h2m482 0h2m17 0h1m-503 2h2m1 0h1m478 0h2m20 0h1m-510 2h1m1 0h2m1 0h1m480 0h3m-482 2h3m477 0h2m-3 2h2m-491 2h1m6 0h1m2 0h2m477 0h3m21 0h1m-506 2h2m481 0h1m-489 2h1m6 0h1m479 0h3m-491 2h1m487 0h2m16 1h1m-508 1h1m507 1h1m-497 1h1m489 0h1m-497 2h1m482 0h1m-491 2h1m3 0h2m6 0h2m-13 2h1m1 0h4m2 0h2m-5 2h1m1 0h1m1 2h1m479 0h1m1 0h2m-485 2h2m480 0h1m20 1h1m-505 1h3m480 0h2m-488 2h1m3 0h1m1 0h1m-13 2h1m2 0h2m1 0h3m5 0h1m476 2h2m-488 2h2m484 0h3m-490 2h1m3 0h1m483 0h1m-488 2h1m3 0h4m-5 4h7m477 0h2m-487 2h1m1 0h2m1 0h1m478 0h3m-492 2h1m487 0h3m-483 2h1m1 0h1m478 0h3m-485 2h2m479 0h3m-492 2h1m8 0h3m479 0h1m-489 2h2m5 0h1m479 0h3m-486 2h1m1 0h1m482 0h1m-485 2h3m479 0h3m-491 2h2m487 0h2m-492 2h1m5 0h2m2 0h1m479 0h1m-493 2h1m6 0h2m482 0h2m-485 2h1m1 0h1m479 0h2m-485 2h2m1 0h2m1 0h2m475 0h4m-488 2h3m1 0h1m478 0h4m1 0h1m-486 2h2m480 0h2m-489 2h1m5 0h2m480 0h1m-490 2h1m5 0h1m480 0h2m21 0h1m-14 1h1m-492 1h2m1 0h1m479 0h2m-485 2h1m481 0h1m1 0h1m-3 2h2m1 0h1m-493 2h1m4 0h2m1 0h1m116 0h1m363 0h3m-486 2h1m2 0h3m13 0h2m20 0h1m6 0h1m26 0h1m6 0h1m27 0h2m33 0h1m336 0h1m-482 2h2m1 0h2m20 0h1m23 0h4m12 0h1m6 0h1m10 0h2m9 0h1m13 0h1m4 0h2m14 0h1m10 0h1m1 0h1m4 0h1m1 0h1m6 0h1m12 0h1m12 0h1m7 0h1m15 0h1m275 0h2m-487 2h1m6 0h1m3 0h2m11 0h3m6 0h3m1 0h2m5 0h3m2 0h2m10 0h2m7 0h1m2 0h1m17 0h5m3 0h1m5 0h1m6 0h1m1 0h2m1 0h2m1 0h1m3 0h2m7 0h1m2 0h1m1 0h3m9 0h2m3 0h1m1 0h1m5 0h4m2 0h1m3 0h1m22 0h3m191 0h2m91 0h3m-483 2h1m2 0h1m2 0h1m6 0h1m2 0h2m1 0h4m5 0h1m13 0h1m3 0h1m2 0h2m3 0h1m2 0h2m14 0h2m6 0h2m14 0h1m6 0h1m11 0h2m2 0h1m10 0h4m3 0h1m2 0h3m2 0h2m8 0h1m1 0h1m1 0h3m5 0h3m1 0h2m5 0h1m2 0h2m1 0h2m8 0h1m1 0h2m2 0h1m12 0h1m8 0h2m29 0h1m25 0h1m152 0h1m3 0h1m16 0h1m23 0h2m1 0h1m-487 2h1m3 0h1m5 0h1m2 0h1m2 0h3m4 0h1m3 0h1m1 0h1m11 0h1m1 0h3m1 0h3m1 0h2m4 0h2m3 0h1m13 0h1m8 0h1m11 0h5m6 0h4m3 0h1m1 0h2m4 0h1m6 0h1m10 0h6m10 0h1m4 0h2m3 0h1m1 0h5m8 0h1m6 0h2m3 0h2m2 0h1m5 0h6m5 0h2m7 0h2m3 0h1m1 0h2m7 0h1m10 0h2m17 0h1m19 0h1m7 0h1m20 0h1m12 0h1m1 0h2m4 0h1m25 0h2m3 0h2m5 0h2m15 0h2m23 0h1m16 0h1m9 0h1m35 0h1m3 0h2m1 0h1m-483 2h1m6 0h1m9 0h1m4 0h1m2 0h2m1 0h3m1 0h1m3 0h1m6 0h1m1 0h1m7 0h1m4 0h1m1 0h3m14 0h2m7 0h1m16 0h1m1 0h1m10 0h1m1 0h1m2 0h1m16 0h1m4 0h3m9 0h1m2 0h1m1 0h1m2 0h2m1 0h1m5 0h1m10 0h1m4 0h1m3 0h1m2 0h1m6 0h1m1 0h1m8 0h1m5 0h1m2 0h1m10 0h3m6 0h1m8 0h1m1 0h2m2 0h1m9 0h1m5 0h1m9 0h1m12 0h2m12 0h2m23 0h1m10 0h1m3 0h1m4 0h1m1 0h2m5 0h1m1 0h1m2 0h5m15 0h2m5 0h3m5 0h2m3 0h2m5 0h1m7 0h1m9 0h1m11 0h1m1 0h1m15 0h1m1 0h1m5 0h4m4 0h1m-479 2h1m1 0h1m5 0h1m2 0h1m10 0h1m1 0h2m5 0h1m4 0h2m2 0h1m5 0h1m1 0h2m3 0h4m12 0h2m1 0h2m5 0h1m18 0h1m25 0h1m10 0h1m2 0h1m6 0h1m1 0h2m1 0h1m7 0h2m3 0h1m7 0h1m5 0h1m9 0h3m4 0h1m2 0h2m3 0h8m15 0h1m3 0h3m4 0h5m2 0h2m5 0h2m1 0h2m5 0h3m10 0h1m3 0h1m6 0h2m25 0h1m1 0h5m1 0h4m12 0h2m9 0h3m5 0h1m6 0h2m5 0h1m6 0h1m4 0h1m11 0h1m2 0h2m3 0h2m1 0h1m12 0h2m1 0h2m1 0h2m1 0h1m6 0h2m6 0h2m3 0h1m5 0h1m3 0h3m3 0h2m7 0h2m1 0h3m-477 2h1m3 0h1m3 0h2m1 0h2m4 0h1m4 0h1m2 0h1m1 0h1m6 0h2m6 0h1m1 0h1m1 0h1m6 0h2m1 0h2m3 0h2m3 0h1m6 0h1m2 0h1m11 0h1m2 0h1m6 0h3m2 0h3m2 0h1m8 0h1m3 0h3m3 0h2m13 0h1m18 0h3m10 0h1m1 0h3m1 0h2m4 0h1m3 0h3m9 0h2m12 0h1m2 0h3m3 0h3m4 0h1m4 0h2m1 0h3m5 0h3m2 0h3m1 0h1m3 0h1m2 0h2m1 0h1m3 0h2m2 0h2m4 0h2m2 0h1m1 0h2m1 0h4m6 0h3m4 0h2m1 0h1m5 0h1m5 0h1m1 0h1m2 0h1m1 0h3m3 0h1m7 0h2m9 0h2m4 0h1m1 0h1m4 0h4m1 0h1m1 0h1m2 0h2m8 0h3m5 0h5m1 0h1m1 0h1m1 0h1m1 0h1m2 0h1m1 0h1m1 0h9m9 0h1m3 0h2m4 0h3m10 0h3m6 0h1m3 0h1m3 0h4m8 0h1m-476 2h1m4 0h1m1 0h3m5 0h2m3 0h1m1 0h1m13 0h1m2 0h1m6 0h1m6 0h2m1 0h1m14 0h1m8 0h1m1 0h2m9 0h2m8 0h1m5 0h1m12 0h1m5 0h2m1 0h1m23 0h1m3 0h1m1 0h1m1 0h2m1 0h1m9 0h1m2 0h1m2 0h1m7 0h1m4 0h1m14 0h1m2 0h2m7 0h2m8 0h2m6 0h1m1 0h1m3 0h1m3 0h2m3 0h1m3 0h1m3 0h1m2 0h4m1 0h1m2 0h2m2 0h1m1 0h1m2 0h2m16 0h2m7 0h1m7 0h2m5 0h1m3 0h1m1 0h1m2 0h1m6 0h1m1 0h2m6 0h2m2 0h1m4 0h2m5 0h1m2 0h1m4 0h1m2 0h4m3 0h1m5 0h7m3 0h2m5 0h2m2 0h1m1 0h1m1 0h3m5 0h1m3 0h1m4 0h2m5 0h1m12 0h1m4 0h1m2 0h1m-451 2h2m1 0h1m4 0h1m21 0h1m1 0h1m4 0h1m10 0h1m5 0h1m32 0h1m5 0h1m1 0h1m27 0h1m9 0h1m1 0h1m4 0h1m28 0h1m17 0h1m5 0h3m5 0h2m5 0h2m4 0h1m8 0h4m3 0h4m2 0h1m3 0h1m5 0h1m4 0h3m8 0h1m5 0h1m11 0h2m6 0h1m3 0h1m7 0h1m1 0h1m2 0h1m2 0h1m2 0h1m11 0h7m6 0h2m1 0h3m4 0h1m3 0h2m10 0h2m2 0h2m1 0h2m2 0h2m9 0h2m6 0h6m9 0h2m1 0h1m3 0h1m6 0h3m2 0h3m1 0h5m3 0h1m16 0h1m4 0h1m-484 2h1m19 0h3m4 0h1m2 0h1m14 0h1m67 0h1m7 0h2m2 0h1m10 0h2m15 0h1m3 0h1m9 0h1m1 0h1m6 0h2m11 0h2m4 0h1m11 0h2m2 0h1m8 0h1m15 0h1m14 0h1m2 0h1m2 0h2m3 0h1m5 0h1m1 0h2m11 0h2m7 0h1m4 0h2m1 0h1m1 0h1m13 0h1m4 0h1m6 0h3m2 0h1m3 0h2m5 0h2m4 0h1m17 0h1m4 0h1m3 0h3m2 0h1m2 0h4m1 0h3m17 0h1m1 0h2m13 0h1m3 0h1m14 0h1m2 0h4m3 0h1m-451 2h1m36 0h1m29 0h1m22 0h1m2 0h1m3 0h1m35 0h1m9 0h1m25 0h1m9 0h1m17 0h1m6 0h1m8 0h1m11 0h1m4 0h2m1 0h2m8 0h1m7 0h4m1 0h5m4 0h2m1 0h1m1 0h1m18 0h2m6 0h1m1 0h2m3 0h1m7 0h1m7 0h2m6 0h1m2 0h1m2 0h2m3 0h1m11 0h1m4 0h1m6 0h1m4 0h1m3 0h1m4 0h1m1 0h1m9 0h2m1 0h1m1 0h2m5 0h1m3 0h1m14 0h1m14 0h1m5 0h2m2 0h6m9 0h1m7 0h1m1 0h1m-49 1h1m-345 1h1m29 0h1m32 0h1m53 0h1m7 0h2m17 0h1m3 0h3m5 0h1m15 0h1m5 0h2m7 0h1m5 0h1m7 0h1m3 0h1m2 0h2m11 0h1m10 0h3m4 0h1m9 0h1m2 0h2m1 0h3m1 0h1m2 0h1m7 0h1m3 0h4m2 0h2m6 0h1m5 0h2m1 0h1m4 0h1m9 0h2m2 0h1m2 0h1m7 0h3m2 0h1m4 0h1m1 0h1m7 0h2m1 0h1m16 0h2m1 0h1m2 0h1m30 0h1m-277 2h1m19 0h2m4 0h1m13 0h1m1 0h1m8 0h1m2 0h1m4 0h2m2 0h2m5 0h1m5 0h1m5 0h1m16 0h2m1 0h1m4 0h1m4 0h1m1 0h1m1 0h1m7 0h1m1 0h2m1 0h1m6 0h1m6 0h1m2 0h2m1 0h1m1 0h1m1 0h1m7 0h1m6 0h1m2 0h1m1 0h1m5 0h1m5 0h1m6 0h1m3 0h1m2 0h1m1 0h1m10 0h2m4 0h1m11 0h1m19 0h1m3 0h1m7 0h1m-267 2h1m19 0h1m26 0h1m1 0h1m15 0h1m5 0h2m8 0h1m20 0h1m3 0h3m2 0h2m2 0h1m13 0h1m5 0h1m1 0h1m6 0h3m1 0h2m10 0h1m5 0h1m7 0h2m6 0h1m7 0h2m14 0h1m20 0h1m7 0h1m6 0h1m3 0h1m2 0h1m3 0h1m3 0h1m1 0h1m7 0h1m5 0h1"/><path fill="#5a20f8" d="M496 0h2v7h-2zm-19 2h1v3h-1zm22 1h1v6h-1zm-23 5h2v3h-2zm-7 3h1v6h-1zm8 0h1v4h-1zm21 0h1v5h-1zm-3 3h1v3h-1zm-23 1h2v3h-2zm5 0h2v4h-2zm-8 3h1v4h-1zm4 1h2v4h-2zm24 1h1v4h-1zm-14 1h1v5h-1zm-21 2h1v3h-1zm-66 1h1v4h-1zm21 0h1v7h-1zm12 0h1v5h-1zm39 2h1v3h-1zm4 0h2v6h-2zm3 0h1v6h-1zm14 0h1v3h-1zm3 0h1v4h-1zm-22 1h1v8h-1zm-4 1h1v5h-1zm-38 1h1v4h-1zm67 2h1v4h-1zm-13 3h1v6h-1zm-101 1h1v4h-1zm113 0h1v4h-1zm3 0h1v3h-1zm-52 1h1v4h-1zm46 0h2v3h-2zm-21 1h1v3h-1zm4 0h1v3h-1zm-185 9h1v3h-1zm50 0h1v3h-1zm-112 1h1v3h-1zm160 0h1v3h-1zm-60 1h1v4h-1zm171 2h1v4h-1zm-380 3h1v3h-1zm-87 3h1v3h-1zm273 8h4v4h-4zm203 0h1v4h-1zm9 7h1v3h-1zm-3 1h1v6h-1zm-479 4h1v4h-1zm483 5h1v4h-1zm-487 5h1v4h-1zm485 2h1v4h-1zm-488 2h1v4h-1zm490 6h1v4h-1zm-483 2h1v4h-1zm491 2h1v4h-1zm4 1h5v3h-5zm-497 5h1v4h-1zm505 9h3v3h-3zm-503 1h1v4h-1zm482 0h2v4h-2zm18 2h2v4h-2zm-507 4h1v4h-1zm489 2h1v8h-1zm-491 6h1v4h-1zm8 4h1v4h-1zm1 10h2v4h-2zm476 30h2v4h-2zm1 4h1v4h-1zm-477 4h1v4h-1zm-1 8h1v4h-1zm-1 10h2v4h-2zm478 0h1v4h-1zm0 4h2v4h-2zm-482 2h1v4h-1zm482 2h1v4h-1zm-478 4h1v4h-1zm478 0h2v4h-2zm-475 4h1v4h-1zm475 0h1v4h-1zm-479 4h1v4h-1zm-6 18h1v4h-1zm5 20h1v4h-1zm480 2h2v4h-2zm0 6h2v4h-2zm-479 8h1v4h-1zm2 8h1v4h-1zm478 0h2v4h-2zm-483 5h2v5h-2zm483 3h2v4h-2zm-483 6h1v4h-1zm4 2h3v4h-3zm479 0h1v4h-1zm-479 8h1v4h-1zm485 18h1v3h-1zm-488 12h1v4h-1zm3 6h1v4h-1zm477 0h3v4h-3zm0 6h3v4h-3zm-480 10h1v4h-1zm481 6h1v4h-1zm-477 6h2v4h-2zm477 8h2v8h-2zm-488 16h1v4h-1zm6 4h1v4h-1zm6 16h1v4h-1zm-10 2h1v4h-1zm3 32h1v4h-1zm51 2h1v4h-1zm34 0h1v4h-1zm-18 2h1v4h-1zm21 0h1v4h-1zm18 0h2v4h-2zm4 0h1v4h-1zm39 0h1v4h-1zm332 0h2v4h-2zm-229 2h1v4h-1zm-204 2h1v6h-1zm3 0h1v4h-1zm146 0h1v4h-1zm2 0h1v4h-1zm29 0h1v4h-1zm-159 2h3v4h-3zm45 0h1v4h-1zm59 0h1v4h-1zm12 0h1v4h-1zm140 0h1v4h-1zm92 0h1v4h-1zm-319 2h1v4h-1zm64 0h2v4h-2zm30 0h2v4h-2zm159 0h1v4h-1zm-296 2h1v4h-1zm208 0h1v4h-1zm134 0h1v4h-1zm39 0h1v4h-1zm-80 2h1v4h-1zm17 0h1v4h-1zm-258 2h1v4h-1zm360 0h1v4h-1zm-333 2h1v4h-1zm60 0h1v4h-1zm2 0h1v4h-1zm79 0h1v6h-1zm153 1h1v3h-1zm-165 1h1v4h-1zm8 0h1v4h-1zm26 0h1v6h-1zm50 0h1v4h-1zm25 0h1v3h-1zm43 0h3v4h-3zm-100 1h2v3h-2zm-115 1h1v4h-1zm37 0h2v4h-2zm101 0h1v4h-1zm-127 2h1v4h-1zm4 0h1v4h-1zm115 0h1v4h-1zm75 0h2v4h-2zm13 0h1v3h-1z"/><path fill="none" stroke="#5a20f8" stroke-width="1" d="M477 0.5h6m6 0h1m1 0h4m5 0h1m-24 1h3m1 0h3m5 0h3m-21 1h2m6 0h9m-9 1h5m1 0h1m3 1h4m-18 1h3m16 2h4m-19 1h9m5 0h5m-18 1h8m5 0h7m-20 1h3m15 0h2m-75 1h3m53 0h2m9 1h5m-5 1h4m-24 1h1m18 3h1m-19 1h1m2 1h3m1 0h1m2 1h7m-5 1h5m-14 1h5m-5 1h6m14 1h3m-25 1h2m20 0h2m-2 1h1m-3 1h3m-18 1h8m9 0h1m-18 1h2m1 0h4m-56 2h2m43 1h2m20 2h2m1 0h4m-31 1h4m-3 1h3m-1 1h1m13 2h3m1 0h2m-83 7h2m-198 3h4m-13 1h4m-91 2h4m3 0h2m386 11h4m12 17h2m-2 1h1m-2 1h1m-3 1h3m-4 1h2m-10 6h1m9 0h2m-12 1h3m6 0h2m-4 5h3m8 0h1m-13 1h4m8 0h2m-17 1h4m6 0h7m-17 1h3m7 0h6m-12 1h7m-3 4h2m-2 1h1m6 3h1m-11 2h1m-2 1h2m-499 1h1m488 2h3m7 0h11m-21 1h4m6 0h6m4 3h1m-19 2h2m1 0h2m-5 1h5m-1 3h5m1 0h2m-8 1h2m1 0h5m-2 1h2m4 0h2m-1 1h2m-2 4h1m0 1h1m-16 2h2m-1 1h1m-2 1h2m-2 10h2m-1 1h2m-10 75h3m-5 35h3m-491 28h1m-1 1h3m1 90h3m-2 1h2m-5 8h1m-3 36h2m488 22h3m-426 15h1m19 0h3m88 0h1m-113 1h2m69 1h4m-4 1h5m-128 2h1m159 0h1m-163 1h3m-3 1h2m305 1h2m-2 1h3m59 1h1m86 0h2m-90 1h2m87 0h1m-146 1h1m-68 4h1m181 0h4m-186 1h3m180 0h2m14 1h3"/><path fill="none" stroke="#5a20f8" stroke-width="2" d="M485 1h1m1 0h1m12 1h4m-12 1h1m-14 2h7m8 1h1m-18 1h1m1 0h1m1 0h5m4 0h1m-2 2h1m-6 2h4m1 0h2m2 0h4m-23 2h1m5 0h4m1 0h1m-5 2h6m-6 2h8m-7 2h1m1 0h9m-353 2h1m335 0h6m9 0h2m-8 2h2m1 0h2m2 0h1m-19 1h1m-35 1h1m31 0h1m5 0h4m3 0h8m-13 2h2m1 0h2m1 0h1m41 0h1m-52 2h1m29 0h1m-73 2h1m44 0h1m1 0h2m2 0h4m1 0h1m-56 2h1m42 0h4m4 0h1m3 0h3m4 0h1m-25 1h3m2 1h1m7 0h2m2 0h1m-14 2h3m4 0h1m1 0h1m-21 2h1m8 0h2m2 0h1m4 0h2m-2 2h4m3 0h2m-11 2h2m2 0h6m-18 2h3m1 0h3m2 0h2m1 0h2m3 0h5m-97 2h1m74 0h4m7 0h7m2 0h4m-31 2h5m1 0h2m5 0h3m7 0h5m-320 1h1m-146 1h1m364 0h1m30 0h1m40 0h7m29 0h2m-474 2h3m318 0h1m11 0h2m14 0h2m17 0h3m8 0h2m21 0h1m20 0h1m11 0h3m32 0h1m-471 2h1m151 0h1m149 0h2m13 0h3m6 0h3m3 0h11m2 0h3m7 0h5m2 0h1m3 0h2m4 0h3m5 0h1m2 0h2m1 0h2m2 0h4m7 0h3m3 0h2m7 0h11m4 0h3m2 0h1m30 0h6m-470 2h2m40 0h1m256 0h1m4 0h2m1 0h1m1 0h4m2 0h1m1 0h2m1 0h10m1 0h2m2 0h23m2 0h3m1 0h5m1 0h7m2 0h1m1 0h1m1 0h5m2 0h1m1 0h9m4 0h8m2 0h9m1 0h6m1 0h3m30 0h4m-261 1h1m-211 1h1m41 0h3m2 0h1m195 0h1m20 0h1m8 0h1m10 0h2m8 0h3m1 0h2m1 0h15m1 0h8m4 0h11m1 0h6m5 0h2m3 0h12m6 0h1m4 0h1m7 0h2m4 0h2m4 0h4m1 0h2m2 0h8m1 0h4m4 0h2m2 0h2m38 0h5m-483 2h1m2 0h1m21 0h1m8 0h1m11 0h4m8 0h2m4 0h2m2 0h3m1 0h2m8 0h2m1 0h3m9 0h5m12 0h2m21 0h2m11 0h2m5 0h1m13 0h1m5 0h1m59 0h2m3 0h3m12 0h5m16 0h3m1 0h1m1 0h4m2 0h6m1 0h9m2 0h1m4 0h1m1 0h4m1 0h3m5 0h1m19 0h2m14 0h1m2 0h1m15 0h2m11 0h3m13 0h1m15 0h4m45 0h1m2 0h2m-472 2h1m2 0h3m2 0h2m1 0h2m3 0h2m3 0h5m3 0h1m7 0h3m2 0h1m2 0h8m2 0h2m5 0h1m4 0h4m2 0h4m1 0h1m3 0h15m1 0h4m1 0h5m1 0h2m7 0h1m4 0h2m3 0h6m2 0h1m9 0h10m3 0h5m2 0h1m4 0h5m4 0h6m2 0h1m1 0h2m1 0h11m6 0h3m1 0h7m6 0h3m2 0h5m1 0h1m2 0h4m1 0h1m1 0h8m1 0h2m1 0h4m3 0h3m8 0h3m1 0h3m3 0h8m3 0h4m23 0h1m144 0h2m3 0h1m-487 2h1m4 0h2m3 0h4m2 0h1m1 0h20m3 0h5m1 0h4m2 0h12m1 0h2m3 0h1m1 0h4m2 0h2m2 0h6m1 0h5m1 0h14m1 0h9m1 0h17m1 0h5m2 0h3m1 0h4m2 0h3m1 0h3m1 0h1m1 0h12m1 0h24m1 0h1m2 0h2m1 0h4m2 0h5m1 0h2m3 0h1m2 0h10m1 0h12m1 0h6m2 0h2m4 0h9m13 0h3m8 0h1m183 0h1m-487 2h1m8 0h1m2 0h5m3 0h7m2 0h4m1 0h3m2 0h3m4 0h2m4 0h21m2 0h9m1 0h1m2 0h2m4 0h6m2 0h6m1 0h20m2 0h8m2 0h6m3 0h1m2 0h2m13 0h7m1 0h5m1 0h7m4 0h1m1 0h3m1 0h6m2 0h5m7 0h4m2 0h2m5 0h3m3 0h4m1 0h1m1 0h3m1 0h1m1 0h2m3 0h2m3 0h2m5 0h5m2 0h2m209 0h2m-485 2h1m4 0h1m3 0h1m2 0h1m7 0h2m2 0h2m2 0h1m10 0h1m2 0h4m7 0h1m4 0h4m9 0h1m2 0h5m10 0h1m1 0h1m19 0h10m4 0h1m12 0h2m3 0h2m9 0h2m9 0h2m10 0h2m6 0h1m7 0h2m12 0h2m3 0h2m6 0h3m9 0h1m6 0h3m33 0h2m10 0h2m193 0h2m-485 2h1m1 0h3m2 0h3m98 0h2m22 0h1m23 0h1m8 0h1m17 0h1m56 0h1m44 0h1m195 0h1m3 0h2m-490 2h1m8 0h1m-13 2h1m9 0h1m494 0h2m-504 2h1m6 0h2m495 0h1m-500 2h1m485 0h1m14 0h1m-503 2h1m1 0h1m1 0h2m481 0h2m-487 2h3m1 0h1m479 0h1m25 0h1m-512 2h2m2 0h2m480 0h1m5 0h1m2 0h2m1 0h1m-11 2h1m17 0h1m-502 2h1m498 0h1m-508 2h1m3 0h2m3 0h1m2 0h1m496 0h1m1 0h1m-507 2h2m484 0h1m4 0h2m9 0h1m2 0h2m2 0h1m-512 2h1m4 0h3m480 0h2m2 0h8m2 0h1m4 0h1m1 0h1m-513 2h1m3 0h2m483 0h1m5 0h1m1 0h3m9 0h1m1 0h1m-8 2h1m-507 2h1m5 0h2m485 0h2m3 0h1m13 0h2m2 0h1m-510 2h4m482 0h1m3 0h4m13 0h3m-515 2h1m2 0h1m3 0h2m484 0h1m2 0h1m2 0h2m1 0h3m4 0h1m1 0h4m-516 2h1m491 0h3m7 0h3m3 0h2m1 0h3m-508 2h1m4 0h2m481 0h1m1 0h3m2 0h5m5 0h2m-509 2h1m2 0h1m2 0h1m481 0h1m4 0h5m5 0h2m1 0h3m2 0h1m-507 2h3m481 0h2m3 0h4m1 0h1m1 0h1m4 0h2m-507 2h1m3 0h2m1 0h1m480 0h1m6 0h4m-500 2h1m491 0h3m7 0h2m1 0h1m1 0h1m-507 2h2m482 0h1m6 0h1m2 0h1m5 0h1m1 0h1m-500 2h1m1 0h3m478 0h4m11 0h1m6 0h1m-508 2h2m2 0h2m486 0h1m1 0h4m4 0h1m-508 2h1m7 0h1m487 0h1m13 0h1m-513 2h1m7 0h1m1 0h2m485 0h1m2 0h1m3 0h1m1 0h1m-506 2h2m9 0h1m485 0h2m3 0h3m2 0h1m2 0h1m-513 2h1m7 0h1m-4 2h1m8 0h1m476 0h4m13 0h1m-504 2h2m486 0h1m-2 2h1m5 0h1m-492 2h3m4 0h1m476 0h3m-484 2h2m477 0h4m5 0h1m-492 2h2m3 0h1m477 0h2m-483 2h1m-7 2h1m4 0h1m-5 2h5m479 0h2m-3 2h4m-484 2h7m473 0h2m-484 2h1m6 0h1m1 0h2m470 0h3m-480 2h5m474 0h1m-3 2h3m-479 2h2m476 0h2m-479 2h3m473 0h3m-478 2h1m475 0h1m-489 2h1m1 0h1m2 0h3m3 0h1m477 0h1m-486 2h2m1 0h1m480 0h1m6 0h1m-494 2h1m1 0h3m2 0h3m475 0h2m10 0h1m-499 2h1m1 0h4m3 0h1m478 0h2m-486 2h1m7 0h4m481 0h1m-493 2h1m2 0h1m4 0h1m484 0h1m-496 2h1m-3 2h1m4 0h2m-4 2h2m482 0h2m-485 2h2m479 0h4m-486 2h1m4 0h1m2 0h1m474 0h1m-481 2h3m-8 2h1m5 0h1m479 0h2m-478 2h1m474 0h1m-486 2h2m1 0h1m3 0h3m474 0h2m-489 2h1m8 0h4m475 0h1m-485 2h3m1 0h2m476 0h4m-484 2h1m495 0h1m-498 2h1m7 0h1m-10 2h1m1 0h4m-1 2h1m2 0h2m-16 2h1m13 0h1m1 0h1m-13 2h1m8 0h1m-4 2h1m4 0h1m-9 2h3m4 0h1m-11 2h1m4 0h3m-6 4h1m7 0h1m1 0h2m471 0h2m0 2h2m-486 2h1m1 0h1m2 0h1m2 0h1m474 0h3m-487 2h1m1 0h2m480 0h1m-480 2h5m475 0h2m-489 2h1m485 0h2m-1 2h2m-479 2h1m1 0h1m473 0h3m-481 2h2m475 0h2m-484 2h1m1 0h3m478 0h2m-478 2h1m476 0h1m-481 2h1m478 0h2m-479 2h4m473 0h3m-486 2h1m3 0h5m474 0h2m-479 2h1m477 0h1m-485 2h1m7 0h1m473 0h3m-488 2h1m7 0h2m476 0h2m8 0h1m-493 2h4m1 0h1m476 0h1m-481 2h2m479 0h1m-492 2h1m2 0h1m4 0h1m4 0h1m476 0h3m-486 2h1m6 0h1m-9 2h1m5 0h2m-10 2h1m11 0h1m473 0h3m9 0h1m-496 2h2m4 0h1m491 0h1m-492 2h2m-9 2h1m1 0h1m480 0h3m-485 2h1m481 0h1m-1 2h4m-486 2h1m4 0h1m1 0h1m474 0h1m-487 2h1m4 0h1m2 0h1m476 0h3m-487 2h1m9 0h1m474 0h3m17 0h1m-508 2h1m3 0h1m481 0h1m-475 2h1m-4 2h1m2 0h2m473 0h2m-478 2h1m475 0h1m21 0h1m-501 2h3m-3 2h2m0 2h3m473 0h1m-2 2h2m-481 4h1m5 0h1m-8 2h4m1 0h2m474 0h3m-490 2h1m4 0h3m480 0h1m-490 2h1m4 0h2m1 0h1m3 0h1m475 0h1m-2 2h2m-488 2h1m7 0h4m476 0h1m-483 2h3m478 0h2m-482 2h1m2 0h1m477 0h1m-483 2h3m3 0h2m472 0h4m-486 2h2m3 0h1m2 0h1m473 0h3m-485 2h1m2 0h1m480 0h1m-480 2h1m1 0h3m473 0h2m-483 2h2m1 0h3m474 0h2m-490 2h1m4 0h1m4 0h2m477 0h3m-483 2h1m1 0h3m475 0h2m-492 2h1m11 0h1m3 0h1m474 0h1m-482 2h1m3 0h1m475 0h1m-476 2h2m473 0h3m-489 2h2m484 0h2m-479 2h2m474 0h2m-486 2h1m6 0h2m1 0h1m474 0h1m-488 2h1m4 0h2m-6 2h1m1 0h1m2 0h2m-4 2h2m1 0h1m479 0h1m-486 2h1m1 0h3m4 0h1m-6 2h1m1 0h3m-1 2h1m477 0h2m-4 2h1m-484 2h2m3 0h1m1 0h1m476 0h3m-479 2h2m472 0h4m-480 2h2m475 0h2m-482 2h2m479 0h2m-480 2h4m-13 2h1m1 0h1m-3 2h2m7 0h4m473 0h4m-482 2h1m478 0h2m-491 2h1m5 0h1m481 0h3m-481 2h2m2 0h1m473 0h1m1 0h2m-490 2h1m1 0h1m483 0h4m-479 2h1m-7 2h1m3 0h2m2 0h1m-15 2h1m7 0h1m2 0h4m-10 2h1m4 0h2m-6 2h4m3 0h1m473 0h3m-482 2h1m481 0h1m-489 2h1m2 0h2m4 0h4m472 0h4m-485 2h3m3 0h3m474 0h2m-483 2h2m2 0h1m1 0h1m472 0h4m-489 2h2m1 0h2m482 0h1m-480 2h1m477 0h2m-486 2h1m3 0h1m1 0h3m474 0h4m-484 2h1m480 0h2m-487 2h1m6 0h1m476 0h3m-2 2h3m-484 2h1m4 0h1m474 0h3m-480 2h4m474 0h1m-1 2h2m-484 2h2m479 0h2m0 2h2m-491 2h1m4 0h2m4 0h2m474 0h3m-2 2h4m-493 2h1m6 0h1m482 0h1m-483 2h1m1 0h3m474 0h5m-482 2h1m477 0h4m-479 2h3m473 0h2m-489 2h1m8 0h4m474 0h1m-486 2h1m4 0h1m2 0h1m475 0h2m-485 2h1m9 0h1m472 0h1m-476 2h3m474 0h1m-488 2h1m5 0h1m2 0h1m478 0h1m-484 2h1m1 0h3m476 0h1m-479 2h1m477 0h3m-487 2h1m2 0h1m480 0h2m-479 2h2m472 0h1m1 0h3m2 0h1m-483 2h1m1 0h1m30 0h1m79 0h3m1 0h1m29 0h1m58 0h1m269 0h4m-472 2h1m6 0h1m5 0h1m15 0h1m1 0h1m4 0h1m8 0h3m11 0h2m2 0h1m1 0h3m2 0h1m12 0h4m7 0h2m2 0h1m34 0h1m8 0h1m9 0h1m8 0h1m2 0h3m4 0h2m4 0h1m13 0h2m7 0h1m15 0h1m60 0h2m191 0h1m-485 2h2m7 0h4m10 0h5m2 0h1m2 0h4m1 0h6m4 0h2m7 0h1m4 0h1m2 0h2m3 0h1m3 0h2m1 0h2m4 0h2m8 0h5m5 0h1m9 0h2m1 0h1m2 0h1m5 0h1m4 0h3m1 0h1m2 0h1m9 0h2m7 0h3m2 0h1m1 0h3m6 0h1m1 0h1m10 0h1m1 0h1m5 0h1m1 0h2m7 0h1m4 0h1m1 0h2m26 0h2m60 0h1m53 0h1m28 0h1m27 0h1m72 0h1m-488 2h1m6 0h3m1 0h1m4 0h5m1 0h1m1 0h3m3 0h1m3 0h1m4 0h1m2 0h3m11 0h2m5 0h1m2 0h3m5 0h2m1 0h1m1 0h6m2 0h1m5 0h1m9 0h5m11 0h1m2 0h1m1 0h1m1 0h1m6 0h3m1 0h2m5 0h1m2 0h1m7 0h1m1 0h1m3 0h1m2 0h2m4 0h2m5 0h2m5 0h3m1 0h2m8 0h1m3 0h2m5 0h3m7 0h3m5 0h1m7 0h2m30 0h1m6 0h1m1 0h1m24 0h3m11 0h2m59 0h1m2 0h2m42 0h2m28 0h2m23 0h1m3 0h1m-479 2h2m7 0h1m1 0h1m2 0h1m16 0h2m1 0h1m1 0h1m5 0h2m1 0h1m7 0h2m3 0h1m2 0h3m1 0h6m3 0h1m13 0h5m3 0h3m5 0h1m4 0h2m3 0h2m9 0h6m6 0h3m6 0h2m2 0h2m9 0h1m6 0h2m6 0h2m5 0h1m7 0h2m13 0h1m4 0h3m1 0h1m1 0h1m1 0h2m11 0h1m2 0h2m6 0h1m3 0h1m5 0h3m28 0h1m4 0h2m14 0h2m6 0h1m12 0h3m4 0h2m10 0h2m2 0h3m3 0h3m2 0h1m9 0h1m7 0h4m8 0h2m26 0h1m2 0h2m14 0h1m17 0h1m10 0h2m1 0h1m7 0h3m6 0h1m-479 2h1m2 0h2m3 0h4m7 0h1m11 0h1m3 0h1m8 0h2m3 0h2m13 0h1m5 0h1m1 0h2m11 0h1m7 0h2m6 0h3m9 0h3m1 0h1m5 0h1m4 0h2m10 0h6m1 0h4m21 0h1m8 0h2m2 0h2m5 0h1m6 0h3m4 0h1m1 0h1m7 0h1m5 0h2m6 0h4m2 0h2m4 0h1m3 0h2m6 0h5m1 0h5m12 0h2m1 0h1m5 0h1m1 0h1m18 0h1m1 0h1m1 0h1m7 0h1m2 0h1m2 0h4m1 0h1m1 0h2m5 0h10m2 0h4m2 0h1m1 0h1m2 0h2m2 0h1m2 0h4m3 0h1m2 0h2m2 0h1m2 0h1m4 0h3m3 0h2m3 0h2m6 0h7m2 0h2m4 0h1m1 0h1m7 0h1m3 0h6m11 0h1m11 0h1m-464 2h1m6 0h2m4 0h1m5 0h1m5 0h3m10 0h1m1 0h3m1 0h1m1 0h1m12 0h3m9 0h2m4 0h1m15 0h2m7 0h1m11 0h7m10 0h2m1 0h1m3 0h1m15 0h1m2 0h1m7 0h2m2 0h1m4 0h1m6 0h2m2 0h2m1 0h2m1 0h2m4 0h3m1 0h4m2 0h3m5 0h1m2 0h1m5 0h1m8 0h1m1 0h2m3 0h3m1 0h1m2 0h2m1 0h3m2 0h2m1 0h1m1 0h1m3 0h1m1 0h2m4 0h3m1 0h1m1 0h3m1 0h1m4 0h1m2 0h2m1 0h1m1 0h1m1 0h1m6 0h2m3 0h1m4 0h2m3 0h2m1 0h3m3 0h1m10 0h3m1 0h2m6 0h5m3 0h2m5 0h2m12 0h1m6 0h1m6 0h2m2 0h3m6 0h1m1 0h2m2 0h1m7 0h3m1 0h1m1 0h1m8 0h2m3 0h1m2 0h3m2 0h2m1 0h2m7 0h3m4 0h1m-481 2h1m15 0h1m1 0h1m1 0h1m1 0h2m3 0h1m1 0h1m2 0h1m2 0h1m2 0h1m6 0h1m4 0h2m12 0h2m21 0h1m4 0h2m13 0h1m7 0h1m1 0h1m3 0h2m6 0h1m2 0h1m2 0h1m4 0h1m7 0h1m6 0h1m1 0h1m9 0h2m7 0h1m1 0h3m3 0h3m1 0h1m9 0h2m1 0h2m2 0h1m10 0h4m3 0h2m7 0h1m1 0h1m3 0h2m1 0h1m9 0h5m2 0h1m6 0h1m3 0h1m1 0h6m1 0h1m1 0h1m1 0h1m1 0h4m4 0h2m4 0h2m1 0h2m10 0h1m2 0h1m1 0h1m5 0h1m4 0h4m2 0h2m6 0h3m9 0h1m1 0h3m1 0h3m2 0h1m2 0h1m2 0h1m2 0h1m1 0h2m1 0h1m2 0h3m1 0h1m1 0h5m5 0h2m2 0h1m4 0h1m3 0h1m1 0h2m1 0h5m2 0h1m2 0h1m2 0h1m5 0h2m2 0h6m2 0h1m1 0h1m1 0h2m2 0h1m1 0h2m4 0h3m5 0h4m6 0h1m2 0h1m-478 2h1m10 0h1m6 0h1m4 0h1m1 0h1m2 0h3m2 0h1m18 0h1m9 0h1m2 0h4m2 0h1m2 0h3m3 0h1m1 0h3m7 0h1m15 0h1m4 0h1m2 0h1m6 0h1m4 0h1m2 0h1m4 0h1m4 0h1m12 0h1m21 0h1m7 0h2m6 0h1m1 0h1m3 0h1m2 0h3m2 0h3m1 0h1m1 0h1m1 0h1m4 0h1m1 0h1m5 0h2m12 0h1m23 0h1m1 0h1m2 0h2m2 0h2m4 0h2m18 0h1m1 0h2m6 0h3m7 0h1m4 0h1m7 0h4m5 0h2m4 0h3m9 0h1m9 0h1m1 0h2m2 0h5m1 0h1m16 0h1m1 0h1m8 0h1m19 0h1m1 0h1m4 0h2m3 0h2m11 0h2m5 0h1m12 0h1m-475 2h2m6 0h2m35 0h2m7 0h1m13 0h1m4 0h1m3 0h1m2 0h2m1 0h1m2 0h1m29 0h1m11 0h2m13 0h1m6 0h1m5 0h1m8 0h1m1 0h1m2 0h1m15 0h1m7 0h1m1 0h1m1 0h2m4 0h1m3 0h1m3 0h1m1 0h1m1 0h2m11 0h3m2 0h1m1 0h1m2 0h6m3 0h1m1 0h1m6 0h1m1 0h1m5 0h1m9 0h1m1 0h2m2 0h1m4 0h2m5 0h1m4 0h1m3 0h4m10 0h3m1 0h1m1 0h1m2 0h5m5 0h1m4 0h1m9 0h2m2 0h2m17 0h1m2 0h2m4 0h1m6 0h1m3 0h1m1 0h1m22 0h1m8 0h2m13 0h1m1 0h1m1 0h2m2 0h1m4 0h1m1 0h1m4 0h1m13 0h1m-482 2h1m2 0h1m3 0h1m6 0h1m5 0h1m9 0h1m8 0h1m4 0h1m10 0h2m7 0h1m20 0h3m10 0h1m16 0h1m51 0h2m9 0h2m23 0h1m16 0h2m4 0h1m10 0h1m4 0h2m24 0h2m14 0h1m1 0h3m10 0h2m2 0h3m4 0h1m1 0h1m9 0h1m1 0h1m6 0h1m3 0h3m2 0h3m42 0h2m2 0h1m7 0h2m21 0h1m1 0h1m1 0h1m2 0h1m4 0h3m15 0h1m5 0h1m9 0h1m4 0h1m1 0h1m5 0h1m-472 2h1m15 0h1m44 0h2m33 0h1m2 0h1m19 0h1m17 0h1m2 0h3m17 0h1m7 0h1m4 0h1m30 0h1m1 0h1m5 0h1m1 0h1m5 0h4m4 0h1m4 0h1m2 0h1m5 0h2m9 0h2m16 0h2m10 0h1m2 0h1m12 0h1m5 0h1m16 0h1m1 0h3m5 0h2m13 0h1m4 0h1m2 0h2m2 0h1m1 0h1m11 0h2m10 0h1m1 0h3m3 0h1m7 0h1m2 0h1m2 0h1m5 0h1m1 0h2m7 0h1m12 0h2m8 0h2m11 0h1m3 0h3m8 0h1m-481 2h1m28 0h1m10 0h1m19 0h1m34 0h1m21 0h1m12 0h1m10 0h1m13 0h1m3 0h1m7 0h1m6 0h1m44 0h2m7 0h1m16 0h1m5 0h1m25 0h1m1 0h1m2 0h4m6 0h2m5 0h1m2 0h1m6 0h1m2 0h1m4 0h2m5 0h1m1 0h2m2 0h1m13 0h1m4 0h3m1 0h1m22 0h2m1 0h1m3 0h1m8 0h1m26 0h1m6 0h1m7 0h1m9 0h1m8 0h1m2 0h1m5 0h1m-430 2h1m182 0h1m1 0h1m27 0h1m5 0h1m10 0h2m4 0h1m1 0h1m3 0h1m1 0h2m3 0h2m5 0h2m2 0h2m12 0h1m1 0h2m3 0h1m1 0h1m16 0h1m8 0h3m2 0h1m9 0h1m4 0h1m3 0h1m2 0h1m1 0h1m3 0h1m1 0h2m1 0h1m1 0h1m5 0h3m5 0h1m12 0h1m3 0h1m28 0h1m2 0h1m12 0h4m-273 2h1m1 0h1m10 0h1m14 0h1m7 0h1m11 0h2m12 0h1m10 0h3m3 0h2m8 0h1m5 0h1m1 0h2m5 0h6m17 0h2m8 0h1m12 0h1m9 0h1m2 0h1m2 0h1m5 0h3m17 0h1m1 0h1m4 0h2m4 0h1m3 0h1m8 0h1m5 0h2m6 0h1m1 0h2m2 0h1m1 0h5m4 0h1m2 0h1m9 0h1m3 0h1m-266 2h1m17 0h2m16 0h2m1 0h1m1 0h1m4 0h1m1 0h1m5 0h2m12 0h1m1 0h1m4 0h1m6 0h2m11 0h1m20 0h1m16 0h1m3 0h1m3 0h1m5 0h1m21 0h1m8 0h1m15 0h1m2 0h1m1 0h2m5 0h1m1 0h2m18 0h2m14 0h1m2 0h1m3 0h2m1 0h1m1 0h1m6 0h1m19 0h2"/><path fill="#3a20f8" d="M409 41h1v3h-1zm-145 9h1v3h-1zm74 0h1v3h-1zm-162 5h1v4h-1zm-41 1h1v4h-1zm172 0h1v4h-1zm-120 1h1v3h-1zm258 5h1v4h-1zm-75 2h1v4h-1zm138 0h2v4h-2zm-286 2h1v4h-1zm287 8h4v4h-4zm7 38h1v4h-1zm-480 32h1v4h-1zm472 6h1v4h-1zm6 4h1v4h-1zm-480 12h1v4h-1zm-4 10h1v3h-1zm478 12h3v4h-3zm-479 10h1v4h-1zm478 2h3v4h-3zm-480 6h1v4h-1zm481 18h2v4h-2zm-473 8h1v4h-1zm480 1h1v4h-1zm-481 19h1v4h-1zm474 0h2v4h-2zm-479 4h1v4h-1zm2 4h1v4h-1zm477 0h2v4h-2zm-1 8h3v4h-3zm1 4h2v6h-2zm0 18h3v4h-3zm-477 14h1v4h-1zm4 2h1v4h-1zm473 10h1v4h-1zm-473 10h1v4h-1zm473 0h2v4h-2zm0 6h2v4h-2zm-474 18h1v4h-1zm-6 20h3v4h-3zm479 2h2v4h-2zm-471 2h1v4h-1zm472 4h2v4h-2zm-471 12h1v4h-1zm471 20h2v4h-2zm-473 4h1v6h-1zm473 14h2v4h-2zm-471 6h1v4h-1zm-3 6h1v4h-1zm473 0h3v4h-3zm-453 8h1v4h-1zm117 0h1v4h-1zm52 0h2v4h-2zm16 0h1v4h-1zm-64 2h1v4h-1zm72 0h1v4h-1zm-154 2h1v4h-1zm121 0h1v4h-1zm66 0h1v6h-1zm-38 2h1v4h-1zm4 0h1v4h-1zm39 0h1v4h-1zm68 2h1v4h-1zm-142 2h1v4h-1zm40 0h1v6h-1zm86 0h1v4h-1zm-293 2h1v4h-1zm130 0h1v4h-1zm27 0h1v3h-1zm244 0h1v4h-1zm23 4h1v4h-1zm35 0h1v4h-1zm-246 4h1v4h-1zm220 4h1v3h-1z"/><path fill="none" stroke="#3a20f8" stroke-width="1" d="M498 41.5h3m-55 1h4m-78 1h3m34 1h2m-47 5h3m82 0h4m-331 2h3m-10 2h2m86 0h4m304 0h3m-364 1h3m34 1h2m-4 1h3m9 0h3m-169 56h1m-2 1h2m-2 1h1m488 16h1m-6 143h2m-487 7h2m-2 97h3m58 81h4m112 0h1m-6 1h6m256 9h1m-127 3h3m96 1h1"/><path fill="none" stroke="#3a20f8" stroke-width="2" d="M471 1h1m-33 22h1m42 0h1m-37 2h1m35 2h1m7 0h1m-14 6h2m10 0h1m-4 4h1m-6 6h2m-103 1h1m12 1h1m88 0h2m5 0h3m-13 2h1m3 0h3m-13 2h1m2 0h1m2 0h2m3 0h7m-462 2h1m304 0h1m140 0h6m3 0h3m2 0h6m-25 2h4m7 0h1m9 0h1m1 0h5m1 0h3m-261 1h1m224 1h2m1 0h4m20 0h2m2 0h2m-394 1h1m-67 1h1m311 0h1m16 0h2m45 0h1m1 0h1m41 0h1m10 0h1m27 0h2m-151 2h1m8 0h4m11 0h1m6 0h5m2 0h3m12 0h6m1 0h4m1 0h7m2 0h4m2 0h4m4 0h1m2 0h2m8 0h1m4 0h4m2 0h2m2 0h4m26 0h1m5 0h2m-172 2h2m1 0h4m1 0h1m4 0h1m3 0h5m1 0h16m2 0h1m2 0h1m1 0h12m1 0h2m1 0h2m3 0h5m3 0h2m2 0h4m2 0h5m3 0h13m1 0h12m1 0h2m4 0h9m34 0h2m1 0h2m-483 2h1m293 0h1m14 0h3m4 0h8m2 0h13m1 0h7m1 0h7m2 0h4m1 0h9m2 0h25m1 0h9m3 0h5m11 0h3m1 0h6m2 0h2m3 0h3m34 0h3m-467 2h2m35 0h2m12 0h1m6 0h1m8 0h2m27 0h1m54 0h1m37 0h1m20 0h3m13 0h1m19 0h2m2 0h4m9 0h2m4 0h7m3 0h8m1 0h19m1 0h3m1 0h8m4 0h5m4 0h1m5 0h2m3 0h2m3 0h1m21 0h1m1 0h3m33 0h1m4 0h1m1 0h2m47 0h3m-466 2h3m7 0h2m4 0h1m3 0h2m3 0h4m2 0h4m34 0h2m2 0h4m6 0h2m27 0h2m8 0h2m6 0h3m1 0h2m2 0h1m1 0h11m13 0h1m7 0h4m12 0h2m5 0h7m4 0h2m2 0h5m3 0h3m4 0h1m5 0h1m1 0h1m2 0h3m2 0h3m2 0h5m5 0h2m2 0h3m4 0h1m2 0h5m1 0h2m2 0h1m1 0h4m2 0h3m1 0h7m11 0h1m72 0h1m10 0h3m67 0h2m-470 2h2m1 0h7m2 0h2m2 0h2m1 0h5m1 0h4m1 0h2m4 0h7m1 0h4m4 0h9m1 0h2m5 0h7m1 0h2m1 0h1m1 0h1m2 0h16m10 0h4m1 0h12m2 0h3m2 0h4m1 0h4m2 0h9m2 0h4m1 0h5m2 0h6m1 0h5m1 0h1m4 0h10m2 0h3m2 0h6m3 0h4m1 0h4m1 0h6m3 0h10m2 0h16m1 0h4m2 0h1m2 0h7m2 0h2m1 0h2m6 0h6m2 0h1m9 0h2m161 0h1m-478 2h1m4 0h2m1 0h6m3 0h8m2 0h4m1 0h4m4 0h3m2 0h7m3 0h3m1 0h2m7 0h3m2 0h12m4 0h3m8 0h3m2 0h2m5 0h6m2 0h7m1 0h4m7 0h5m2 0h2m2 0h1m1 0h8m1 0h1m1 0h2m1 0h6m3 0h3m1 0h1m2 0h7m3 0h13m3 0h4m3 0h6m1 0h2m3 0h1m5 0h2m1 0h4m1 0h6m3 0h4m4 0h1m2 0h17m1 0h1m1 0h2m6 0h1m1 0h3m4 0h1m176 0h1m1 0h3m-478 2h1m10 0h6m6 0h1m14 0h2m12 0h5m1 0h1m6 0h5m4 0h3m8 0h4m3 0h1m7 0h4m4 0h1m4 0h5m5 0h1m13 0h1m5 0h2m7 0h1m11 0h4m2 0h2m10 0h1m9 0h2m4 0h1m7 0h1m6 0h3m9 0h4m2 0h1m2 0h2m1 0h4m5 0h2m9 0h1m9 0h1m207 0h5m-478 2h1m128 0h1m13 0h1m19 0h1m15 0h3m1 0h1m10 0h2m42 0h2m-240 2h2m487 0h1m-14 2h3m-484 2h1m2 0h1m1 0h2m473 0h4m2 0h1m9 0h1m-17 2h3m-479 2h2m476 0h2m-485 2h1m3 0h1m481 0h1m-5 2h4m-484 2h1m4 0h1m474 0h1m1 0h2m9 0h1m12 0h1m-514 2h1m8 0h1m480 0h2m-4 2h1m2 0h1m16 0h1m3 0h1m-504 2h3m477 0h1m1 0h2m18 0h1m1 0h1m-26 2h2m2 0h1m-482 2h1m478 0h2m4 0h1m16 0h2m-512 2h2m7 0h1m478 0h1m10 0h2m6 0h1m-19 2h2m-483 2h2m478 0h1m4 0h3m11 0h1m-502 2h2m480 0h3m-492 2h1m8 0h1m478 0h2m4 0h1m8 0h2m-495 2h1m496 0h1m-513 2h1m491 0h1m9 0h1m4 0h1m-494 2h1m479 0h1m8 0h1m1 0h2m8 0h1m-509 2h1m483 0h1m1 0h2m14 0h1m-498 2h1m480 0h1m12 0h3m6 0h1m-501 2h2m474 0h4m7 0h1m9 0h2m-501 2h1m479 0h2m-481 2h1m476 0h4m19 0h2m-507 2h2m483 0h1m-482 2h1m478 0h3m-490 4h1m484 0h4m-481 2h1m476 0h3m-489 2h1m1 0h1m484 0h1m-479 2h2m474 0h1m-480 2h1m3 0h1m474 0h2m10 0h1m-12 2h1m-3 2h3m-478 2h1m472 0h3m-477 2h1m-8 2h1m9 0h1m-2 2h1m471 0h1m-472 2h1m471 0h2m-477 2h2m472 0h1m-484 2h1m1 0h1m7 0h1m2 0h1m470 0h2m-478 2h1m3 0h1m470 0h2m-474 2h1m472 0h2m-2 2h3m-483 2h1m478 0h3m-481 2h1m4 0h4m470 0h1m-485 2h1m10 0h1m473 0h2m-488 2h1m9 0h2m474 0h1m-473 2h2m469 0h2m-485 2h1m8 0h1m473 0h3m-479 2h3m474 0h2m-3 2h3m-476 2h1m472 0h1m-1 2h2m-486 2h2m7 0h1m-10 2h1m10 0h1m-2 2h1m1 0h1m469 0h4m-475 2h1m2 0h1m468 0h2m-480 2h2m4 0h2m472 0h1m-477 2h1m2 0h1m470 0h1m-477 2h1m0 4h1m475 0h2m-474 2h1m472 0h1m-2 2h2m-479 2h2m1 0h1m474 0h1m-490 2h1m10 0h1m4 0h1m471 0h2m-473 2h1m471 0h1m-474 2h1m471 0h2m-479 2h1m477 0h1m-475 2h1m470 0h3m-484 2h1m8 0h1m473 0h3m-481 2h1m5 0h3m-14 2h1m10 2h3m471 0h1m-478 2h1m474 0h2m-481 2h1m476 0h5m-474 2h1m469 0h3m-486 2h1m9 0h1m473 0h1m-476 2h1m474 0h2m-484 2h1m8 0h3m470 0h3m-479 2h2m474 0h2m-479 2h1m474 0h4m-474 2h1m470 0h3m-489 2h1m10 0h1m2 0h1m474 0h1m-475 2h1m471 0h1m-472 2h2m-7 4h3m473 0h3m-2 2h1m13 0h1m-3 2h1m-488 2h4m486 0h1m-499 2h1m8 0h1m1 0h1m469 0h3m-474 2h1m471 0h2m-480 2h1m1 0h2m-2 2h5m-2 4h1m-6 4h2m1 0h1m473 0h2m-1 2h2m-486 2h1m4 0h3m2 0h2m472 0h1m-2 2h4m-485 2h1m7 0h1m473 0h2m-475 2h1m471 0h3m-475 2h3m-11 2h1m6 0h1m-9 2h1m5 0h2m474 0h2m-478 2h1m475 0h1m-474 2h3m469 0h4m-482 2h1m5 0h1m1 0h1m470 0h3m-2 2h1m-485 2h1m8 0h1m473 0h3m-478 2h1m475 0h1m-2 2h1m-474 2h2m471 0h3m-477 2h3m472 0h1m-479 2h1m476 0h3m-478 4h2m1 0h1m-14 2h1m4 0h2m1 0h1m475 0h4m-2 2h1m-474 2h1m470 0h2m-484 2h1m4 4h1m6 0h1m471 0h2m-474 4h2m-5 2h1m472 0h3m-478 2h1m2 0h1m472 0h1m-485 2h1m11 0h3m470 0h1m-477 2h1m1 0h1m471 0h2m-481 2h1m4 0h2m1 0h2m470 0h1m-476 2h1m1 0h1m472 0h2m-480 2h1m476 0h2m-482 2h2m479 0h1m-473 2h2m470 0h3m-488 2h2m483 0h1m-475 2h1m473 0h2m-486 2h1m11 0h1m470 0h1m-474 2h1m473 0h1m-478 2h1m3 0h1m473 0h1m-481 2h3m475 0h3m-486 2h1m3 0h1m5 0h1m474 0h1m-474 2h1m471 0h1m-474 2h2m470 0h3m-475 2h1m474 2h1m-3 2h1m-479 2h1m4 0h2m-8 4h1m477 0h3m-488 2h1m2 0h1m8 0h1m474 0h1m-474 2h2m469 0h2m-476 2h3m472 0h4m-483 2h1m477 0h2m-2 2h4m-478 2h1m474 0h1m-477 2h3m473 0h3m-478 2h1m2 0h1m471 0h2m-483 2h1m3 0h1m6 0h1m469 0h1m-475 2h3m471 0h2m-477 2h4m470 0h2m-483 2h3m7 0h1m472 0h1m-475 2h1m471 0h2m-477 6h2m4 0h1m469 0h1m-1 2h3m-481 2h2m476 0h1m-477 2h1m3 0h1m471 0h2m-477 2h1m1 0h2m471 0h3m-481 2h1m3 0h1m0 2h1m-4 2h2m2 2h1m471 2h1m-475 2h2m471 0h2m-1 2h3m-483 2h1m5 0h2m473 0h3m-480 6h1m1 0h2m472 0h2m-475 2h1m11 0h1m23 0h1m4 0h2m13 0h1m26 0h1m54 0h1m13 0h1m13 0h1m306 0h1m-474 2h2m23 0h1m3 0h1m1 0h1m19 0h1m2 0h2m6 0h1m8 0h2m4 0h2m24 0h1m2 0h4m24 0h1m8 0h1m1 0h1m50 0h1m5 0h1m269 0h1m-473 2h1m3 0h1m1 0h2m1 0h3m5 0h1m4 0h4m11 0h1m8 0h4m3 0h11m2 0h2m5 0h2m3 0h4m5 0h1m4 0h1m8 0h2m3 0h3m8 0h3m3 0h8m13 0h3m1 0h2m3 0h2m1 0h1m1 0h2m1 0h2m2 0h1m1 0h1m4 0h2m1 0h1m2 0h2m5 0h2m8 0h1m2 0h1m21 0h1m18 0h1m4 0h1m24 0h1m7 0h2m81 0h2m24 0h2m15 0h1m5 0h2m16 0h2m12 0h1m8 0h2m12 0h1m1 0h2m4 0h3m8 0h1m-490 2h1m9 0h2m7 0h1m8 0h2m4 0h1m6 0h4m2 0h2m6 0h4m1 0h2m8 0h1m5 0h1m2 0h1m2 0h1m4 0h3m6 0h1m2 0h1m12 0h1m4 0h2m2 0h1m1 0h1m2 0h1m5 0h2m1 0h1m4 0h1m10 0h2m3 0h1m2 0h1m3 0h3m2 0h1m3 0h2m2 0h4m9 0h1m9 0h2m1 0h4m4 0h7m9 0h2m4 0h1m5 0h2m16 0h2m2 0h2m4 0h1m32 0h1m49 0h1m1 0h1m1 0h1m3 0h3m4 0h2m7 0h1m6 0h1m1 0h1m6 0h2m7 0h2m8 0h1m1 0h1m30 0h2m23 0h1m6 0h6m2 0h1m-466 2h1m13 0h1m18 0h2m2 0h1m2 0h2m15 0h1m6 0h2m5 0h1m21 0h1m10 0h1m19 0h2m1 0h4m4 0h1m5 0h2m15 0h5m3 0h1m4 0h2m2 0h2m10 0h1m5 0h2m8 0h3m3 0h1m8 0h2m7 0h2m16 0h1m1 0h2m3 0h1m1 0h1m1 0h2m7 0h3m4 0h1m6 0h1m3 0h2m2 0h2m4 0h1m10 0h1m1 0h9m1 0h2m4 0h2m2 0h1m5 0h2m9 0h2m1 0h2m3 0h3m2 0h2m11 0h3m2 0h1m9 0h1m15 0h2m2 0h2m3 0h1m2 0h1m3 0h1m12 0h3m2 0h1m7 0h2m2 0h3m5 0h3m1 0h3m1 0h1m5 0h1m-474 2h2m19 0h1m1 0h1m10 0h1m2 0h1m5 0h1m8 0h1m28 0h3m9 0h1m10 0h2m64 0h1m10 0h3m11 0h2m12 0h4m3 0h4m1 0h2m2 0h6m1 0h1m1 0h1m3 0h1m14 0h1m2 0h3m2 0h1m14 0h1m5 0h1m3 0h2m1 0h4m2 0h4m1 0h1m1 0h5m10 0h1m5 0h1m3 0h6m2 0h2m9 0h2m1 0h3m3 0h3m1 0h2m9 0h3m4 0h1m6 0h1m12 0h2m2 0h2m2 0h1m1 0h2m2 0h2m11 0h1m3 0h13m4 0h1m2 0h2m6 0h1m1 0h1m3 0h3m-426 2h1m72 0h1m3 0h3m40 0h1m27 0h1m15 0h1m4 0h1m11 0h1m3 0h1m5 0h2m2 0h2m3 0h3m2 0h6m11 0h2m1 0h3m3 0h3m4 0h2m6 0h1m2 0h2m2 0h1m1 0h2m5 0h2m3 0h1m1 0h1m1 0h1m16 0h1m2 0h1m3 0h1m10 0h2m7 0h1m5 0h2m8 0h2m1 0h2m2 0h2m4 0h4m5 0h1m2 0h1m4 0h1m13 0h1m2 0h1m2 0h1m3 0h4m2 0h1m10 0h4m1 0h6m1 0h1m3 0h5m3 0h3m-476 2h1m6 0h1m2 0h1m3 0h2m32 0h1m3 0h1m3 0h2m18 0h2m4 0h2m23 0h2m5 0h1m1 0h1m45 0h1m13 0h2m21 0h1m2 0h1m28 0h2m4 0h5m4 0h3m14 0h1m2 0h1m10 0h4m5 0h1m3 0h1m1 0h2m1 0h1m5 0h1m5 0h4m4 0h3m3 0h2m2 0h1m4 0h1m7 0h5m1 0h2m8 0h2m24 0h9m3 0h1m2 0h1m4 0h3m21 0h1m1 0h1m2 0h1m3 0h1m3 0h1m1 0h1m1 0h2m8 0h2m3 0h1m3 0h1m2 0h2m3 0h2m8 0h2m-450 2h2m9 0h1m46 0h1m2 0h2m6 0h2m4 0h2m8 0h3m12 0h2m12 0h1m27 0h1m30 0h2m17 0h1m7 0h1m6 0h1m29 0h1m6 0h1m3 0h1m6 0h2m4 0h4m2 0h1m6 0h1m4 0h1m1 0h2m17 0h2m2 0h4m7 0h1m7 0h1m7 0h2m4 0h2m4 0h1m2 0h1m8 0h1m5 0h1m9 0h2m7 0h1m21 0h1m13 0h1m-416 2h1m52 0h1m1 0h1m30 0h1m13 0h2m20 0h1m13 0h1m2 0h1m25 0h1m4 0h1m7 0h2m3 0h1m1 0h1m8 0h1m4 0h2m39 0h1m34 0h1m6 0h2m27 0h1m1 0h1m7 0h1m13 0h1m19 0h1m23 0h2m13 0h2m3 0h1m9 0h2m-414 2h1m6 0h1m27 0h1m99 0h1m16 0h1m2 0h1m15 0h1m19 0h1m6 0h2m10 0h2m15 0h1m8 0h1m7 0h2m14 0h1m18 0h1m17 0h1m1 0h1m19 0h2m18 0h1m1 0h2m9 0h1m6 0h1m12 0h1m29 0h3m5 0h1m15 0h1m-355 2h1m51 0h1m34 0h1m5 0h2m42 0h1m3 0h1m34 0h2m16 0h5m13 0h1m13 0h1m4 0h1m7 0h2m81 0h1m3 0h2m31 0h1m8 0h1m2 1h1m-449 1h2m68 0h1m9 0h1m5 0h1m48 0h1m11 0h1m27 0h1m1 0h3m13 0h1m3 0h1m17 0h4m13 0h1m19 0h1m18 0h1m15 0h3m32 0h2m4 0h1m1 0h1m8 0h2m5 0h1m1 0h1m16 0h1m3 0h2m9 0h3m8 0h2m7 0h1m14 0h1m2 0h1m-391 2h1m91 0h1m76 0h2m9 0h1m18 0h2m1 0h1m30 0h1m13 0h2m29 0h1m5 0h1m2 0h1m3 0h1m6 0h1m1 0h2m6 0h1m64 0h1m6 0h2m3 0h1m4 0h3m12 0h1m4 0h1m-276 2h1m30 0h1m27 0h1m5 0h1m7 0h1m12 0h1m37 0h1m23 0h1m48 0h1m59 0h1m-225 2h2m3 0h1m51 0h1m6 0h1m48 0h1m58 0h1m34 0h1m16 0h2m15 0h1m-229 2h1m25 0h1m31 0h1m38 0h1m30 0h1m9 0h1m4 0h1"/><path fill="#1810f8" d="M483 32h1v4h-1zm-136 19h1v3h-1zm-72 23h6v4h-6zm235 14h1v4h-1zm-472 52h1v4h-1zm476 19h1v4h-1zm-9 17h3v4h-3zm-470 2h2v6h-2zm471 6h2v4h-2zm0 14h1v6h-1zm0 70h1v4h-1zm-469 42h1v6h-1zm470 4h1v4h-1zm-471 12h3v4h-3zm470 6h2v4h-2zm-1 18h3v4h-3zm-469 12h1v4h-1zm469 8h2v6h-2zm0 6h3v4h-3zm-468 4h1v4h-1zm1 10h1v4h-1zm469 4h1v4h-1zm-470 4h1v10h-1zm468 0h3v6h-3zm-469 10h1v4h-1zm470 4h2v4h-2zm-470 4h1v4h-1zm470 2h2v4h-2zm-469 2h1v4h-1zm135 26h1v6h-1zm36 0h1v4h-1zm22 0h1v4h-1zm276 0h1v4h-1zm-456 2h1v4h-1zm5 0h2v4h-2zm179 0h1v4h-1zm12 2h1v4h-1zm223 0h1v4h-1zm-254 2h1v4h-1zm91 0h2v4h-2zm66 0h1v4h-1zm118 0h1v6h-1zm4 0h1v4h-1zm-185 2h1v6h-1zm57 0h1v4h-1zm39 0h1v4h-1zm15 0h1v4h-1zm19 0h2v4h-2zm14 0h1v6h-1zm9 0h1v4h-1zm-143 2h1v4h-1zm2 0h1v4h-1zm-3 12h1v4h-1zm177 1h1v4h-1z"/><path fill="none" stroke="#1810f8" stroke-width="1" d="M113 56.5h2m-81 4h2"/><path fill="none" stroke="#1810f8" stroke-width="2" d="M482 21h1m-1 4h1m-3 22h3m-6 2h2m2 2h3m3 0h2m6 0h3m-24 2h7m1 0h2m1 0h4m1 0h1m1 0h1m-20 2h1m1 0h2m1 0h3m6 0h6m2 0h2m-26 2h4m16 0h7m-321 1h1m100 0h1m190 1h1m1 0h5m15 0h4m1 0h2m2 0h1m-131 2h2m4 0h1m18 0h3m5 0h3m8 0h2m34 0h1m15 0h3m4 0h2m16 0h9m-154 2h2m21 0h1m7 0h2m4 0h1m9 0h2m25 0h1m9 0h3m5 0h7m1 0h3m3 0h1m6 0h2m2 0h3m3 0h1m31 0h2m-157 2h1m3 0h1m8 0h4m5 0h2m1 0h1m1 0h5m2 0h3m2 0h3m1 0h17m1 0h3m1 0h1m3 0h30m1 0h2m1 0h4m1 0h1m2 0h13m31 0h3m-324 2h1m128 0h2m5 0h1m2 0h2m1 0h1m4 0h2m3 0h1m7 0h11m1 0h4m3 0h11m1 0h9m2 0h7m2 0h5m6 0h5m15 0h2m1 0h10m3 0h29m33 0h2m2 0h1m-444 2h1m51 0h1m6 0h2m54 0h1m21 0h1m19 0h1m4 0h1m30 0h1m24 0h2m16 0h1m7 0h2m11 0h1m2 0h6m6 0h2m1 0h2m2 0h5m2 0h6m4 0h3m2 0h3m2 0h2m1 0h7m2 0h1m17 0h2m11 0h3m4 0h7m2 0h3m8 0h2m12 0h7m3 0h4m1 0h3m33 0h6m-470 2h1m6 0h3m8 0h2m4 0h1m4 0h4m3 0h2m7 0h3m3 0h1m2 0h7m3 0h2m12 0h4m3 0h8m7 0h5m6 0h2m12 0h7m5 0h2m2 0h2m12 0h1m2 0h1m6 0h3m5 0h2m7 0h3m13 0h3m4 0h1m1 0h1m6 0h1m2 0h3m1 0h5m7 0h1m6 0h3m4 0h4m1 0h2m17 0h1m4 0h6m1 0h1m3 0h4m1 0h3m1 0h5m1 0h2m1 0h4m12 0h3m16 0h1m6 0h3m114 0h4m-472 2h10m6 0h6m1 0h14m2 0h12m5 0h1m1 0h6m5 0h4m3 0h8m4 0h3m1 0h7m4 0h4m1 0h4m5 0h5m1 0h13m1 0h5m2 0h1m1 0h5m1 0h11m4 0h2m2 0h3m2 0h5m1 0h6m2 0h1m2 0h4m1 0h7m1 0h1m2 0h3m3 0h9m4 0h2m1 0h2m2 0h1m4 0h2m1 0h2m2 0h2m1 0h6m1 0h9m1 0h2m2 0h13m7 0h3m5 0h2m15 0h1m16 0h1m137 0h3m-477 2h1m4 0h15m6 0h6m2 0h5m2 0h30m3 0h1m1 0h3m3 0h1m2 0h12m1 0h19m3 0h3m4 0h1m3 0h2m1 0h2m2 0h9m1 0h3m1 0h3m5 0h7m1 0h3m2 0h10m3 0h1m1 0h1m4 0h5m2 0h7m1 0h9m6 0h8m3 0h8m10 0h3m3 0h4m1 0h2m5 0h6m12 0h3m183 0h4m-472 2h1m3 0h1m3 0h6m7 0h1m2 0h2m7 0h1m2 0h2m3 0h1m2 0h2m18 0h1m2 0h4m2 0h9m4 0h3m3 0h2m4 0h3m1 0h3m2 0h2m8 0h2m4 0h5m5 0h2m3 0h2m1 0h6m4 0h2m1 0h3m22 0h4m10 0h2m13 0h2m4 0h1m3 0h2m25 0h3m3 0h2m8 0h1m9 0h2m2 0h2m190 0h3m1 0h1m-474 2h1m19 0h1m2 0h2m33 0h2m11 0h1m65 0h1m23 0h1m310 0h4m-477 2h1m2 0h1m471 0h1m-476 2h3m471 0h2m-474 2h3m470 0h3m-3 2h2m1 0h3m-481 2h1m0 2h1m2 0h1m473 0h1m-481 2h1m1 0h5m472 0h3m-478 2h1m474 0h1m1 0h2m-483 2h1m3 0h2m474 0h1m-478 2h1m474 0h2m2 0h2m-480 2h1m476 0h1m-1 2h2m-481 2h2m477 0h3m4 0h1m-10 2h4m8 0h3m-489 2h1m475 0h2m-479 2h1m476 0h1m-3 2h5m14 0h3m-496 2h1m474 0h1m1 0h2m-480 2h1m475 0h3m10 0h1m2 0h2m-495 2h2m474 0h1m-475 2h1m475 0h1m12 0h1m-489 2h1m472 0h1m1 2h1m-478 2h3m471 0h2m-476 2h1m1 0h1m473 0h3m-480 2h2m471 0h5m-484 2h3m5 0h1m471 0h4m-479 2h2m474 0h1m-476 2h2m0 2h2m468 0h5m-476 2h1m469 0h4m-5 2h2m1 0h2m-473 2h1m468 0h3m1 0h1m-474 2h2m469 0h1m-474 2h3m468 0h1m-473 2h3m469 0h2m-471 2h2m466 0h3m-482 2h1m11 0h1m466 0h2m-470 2h2m468 0h1m-473 2h1m2 0h1m467 0h1m-471 2h1m469 0h2m-471 2h1m467 0h2m-471 2h1m469 0h2m-473 2h3m467 0h3m-473 2h1m469 0h2m-477 2h1m7 0h1m467 0h2m-472 2h2m467 0h2m1 0h1m-4 2h4m-480 2h1m476 4h3m-2 2h1m-474 6h3m470 0h1m-474 2h1m1 0h1m468 0h3m-471 2h1m467 0h1m-470 2h2m468 0h1m-470 2h1m469 0h2m-475 2h2m-6 2h1m3 0h3m-1 2h1m-4 2h2m470 0h3m-482 2h1m480 0h2m-4 2h3m-473 2h2m469 0h3m-472 2h1m468 0h2m-473 2h1m2 0h1m467 0h3m-2 2h1m-472 2h3m466 0h4m-4 2h1m1 2h1m-2 2h2m-473 2h1m468 0h4m-1 2h3m-476 2h4m468 0h2m-472 2h1m468 0h1m-468 2h1m467 0h1m-472 2h1m470 0h2m-474 2h2m468 0h4m-2 2h2m-474 2h3m470 0h1m-471 2h1m467 0h1m0 2h1m-471 2h2m468 0h4m-473 2h1m468 0h2m-473 2h2m468 0h3m-473 2h1m470 0h2m-470 2h1m468 0h1m-474 2h3m469 0h3m-474 2h1m469 0h3m-2 2h2m-475 2h1m471 0h2m-473 2h2m1 0h2m467 0h2m-472 2h3m-11 2h1m8 2h1m468 0h2m-1 2h1m-472 2h1m468 0h3m-472 2h2m468 0h1m-471 2h1m469 0h2m-472 2h2m467 0h3m-472 2h1m469 0h1m-474 2h1m472 0h2m-472 2h3m466 0h2m-1 2h2m-473 2h1m2 0h1m465 0h4m-471 2h1m468 0h2m-475 2h3m469 0h3m-470 2h1m467 0h1m-1 2h2m-475 2h1m2 0h1m469 0h3m-474 2h1m469 0h3m-4 2h5m-473 2h3m466 0h3m-1 2h1m-1 2h2m-475 2h1m2 2h2m467 2h2m-474 2h1m471 0h1m-470 2h1m468 0h3m-4 2h2m0 2h1m-2 2h2m-2 2h3m-474 2h1m-1 4h2m469 0h1m-482 2h1m480 0h2m-1 2h2m-475 2h1m1 0h2m468 0h1m-472 2h1m470 0h2m-474 2h1m1 0h1m468 0h3m-473 2h1m470 0h1m-472 2h3m-3 2h1m2 0h1m-5 2h1m472 0h1m-473 2h4m466 0h3m-3 2h2m-472 2h3m469 0h1m-2 2h3m-3 2h1m-472 2h1m469 0h4m-3 2h2m-471 2h2m-3 2h1m-3 2h1m2 0h2m-2 2h1m-7 2h1m474 2h2m-3 2h2m-483 2h1m480 0h4m-471 2h1m466 0h2m-471 2h1m468 0h3m-2 2h1m-2 2h2m-475 2h1m2 2h4m-5 2h2m-1 2h1m470 4h1m-1 2h3m-3 2h1m-2 2h3m-474 2h3m-1 2h2m467 2h3m-470 2h1m-6 2h3m-2 2h1m472 0h1m-3 2h3m-474 2h1m1 0h1m469 0h3m-472 2h1m468 0h2m-1 2h1m-472 2h1m469 0h2m-2 2h1m-2 2h3m-479 2h1m6 0h3m468 0h2m-474 2h1m1 0h1m468 0h1m-472 2h2m468 0h2m-474 2h1m2 0h1m469 0h2m-472 2h2m3 0h2m3 0h1m1 0h1m2 0h3m4 0h2m1 0h3m6 0h1m1 0h1m2 0h1m2 0h2m10 0h1m1 0h1m11 0h2m11 0h1m1 0h1m4 0h2m20 0h1m6 0h3m7 0h2m9 0h1m3 0h2m8 0h1m3 0h2m1 0h1m3 0h2m1 0h1m-166 2h1m2 0h3m9 0h2m7 0h1m1 0h1m3 0h1m1 0h3m3 0h2m5 0h1m4 0h2m2 0h2m3 0h1m1 0h1m1 0h2m3 0h1m5 0h1m3 0h1m1 0h2m2 0h6m3 0h1m3 0h1m2 0h1m1 0h2m9 0h3m12 0h1m2 0h1m1 0h1m3 0h2m5 0h6m6 0h1m2 0h1m3 0h1m2 0h3m7 0h1m5 0h2m5 0h2m4 0h1m12 0h1m-210 2h3m4 0h1m17 0h2m2 0h4m6 0h1m3 0h2m36 0h5m6 0h6m11 0h2m2 0h3m3 0h3m8 0h2m1 0h2m5 0h3m6 0h1m4 0h1m4 0h1m2 0h1m4 0h1m5 0h1m5 0h2m1 0h2m2 0h1m2 0h5m11 0h1m1 0h2m3 0h7m4 0h5m2 0h1m1 0h4m1 0h1m1 0h4m1 0h1m5 0h1m3 0h1m11 0h2m2 0h3m2 0h1m4 0h1m2 0h1m19 0h2m4 0h1m9 0h2m6 0h1m12 0h1m6 0h3m11 0h1m5 0h6m11 0h1m2 0h1m13 0h1m1 0h1m2 0h2m2 0h1m2 0h1m14 0h1m10 0h1m1 0h2m5 0h1m2 0h3m3 0h3m2 0h1m1 0h1m2 0h4m-466 2h7m49 0h2m7 0h2m18 0h2m20 0h2m3 0h2m10 0h4m26 0h2m6 0h2m4 0h2m12 0h1m1 0h3m20 0h1m2 0h1m2 0h1m5 0h1m1 0h1m6 0h3m2 0h1m4 0h1m1 0h1m1 0h2m2 0h2m2 0h4m1 0h1m2 0h2m1 0h1m8 0h3m6 0h2m4 0h1m6 0h2m5 0h1m14 0h4m2 0h2m11 0h2m1 0h1m1 0h1m5 0h1m3 0h4m2 0h1m7 0h1m2 0h1m1 0h1m11 0h3m2 0h2m2 0h2m2 0h1m6 0h2m3 0h1m1 0h5m20 0h3m4 0h4m13 0h3m2 0h1m-419 2h2m133 0h2m8 0h1m1 0h2m4 0h2m2 0h2m5 0h1m4 0h2m1 0h1m1 0h2m2 0h2m2 0h5m1 0h1m2 0h3m1 0h1m2 0h4m1 0h4m4 0h3m16 0h1m4 0h1m2 0h3m6 0h2m2 0h4m3 0h2m1 0h2m4 0h1m9 0h1m2 0h1m6 0h1m4 0h2m2 0h2m3 0h1m2 0h1m2 0h1m2 0h1m5 0h1m12 0h2m8 0h1m3 0h3m1 0h4m8 0h3m6 0h1m3 0h2m1 0h1m1 0h1m5 0h5m2 0h1m6 0h1m5 0h1m11 0h1m-262 2h2m34 0h1m2 0h2m8 0h1m2 0h4m1 0h2m3 0h2m1 0h3m2 0h1m5 0h3m7 0h1m4 0h1m10 0h1m7 0h1m2 0h2m28 0h1m1 0h1m9 0h3m6 0h1m11 0h1m2 0h1m6 0h1m1 0h8m1 0h3m6 0h2m10 0h6m20 0h2m4 0h1m5 0h1m5 0h1m1 0h1m-293 2h2m34 0h3m13 0h1m41 0h1m22 0h2m2 0h2m1 0h1m2 0h1m1 0h3m8 0h1m4 0h1m17 0h2m35 0h1m20 0h1m6 0h1m3 0h1m1 0h1m14 0h2m8 0h2m15 0h1m8 0h3m5 0h2m-244 2h1m1 0h1m31 0h1m7 0h1m23 0h1m31 0h2m15 0h1m33 0h3m13 0h2m19 0h2m7 0h1m3 0h2m9 0h1m1 0h1m2 0h2m12 0h1m-241 2h2m40 0h3m44 0h3m34 0h2m-294 2h1m74 0h2m72 0h1m1 0h1m140 0h1m23 0h1m-153 2h1m89 0h2m130 0h1m17 0h1m-290 2h1m75 0h1m56 0h1m-168 2h1m219 0h1m81 0h4m1 0h1m-247 2h1m60 0h1m-227 2h1m249 0h1m-66 2h1m63 0h1m13 2h1m38 0h1"/><path fill="#0820c8" d="M483 36h1v4h-1zm16 32h3v4h-3zm-192 8h1v4h-1zm3 0h2v4h-2zm-271 14h1v4h-1zm473 12h1v4h-1zm-475 26h1v4h-1zm2 10h1v6h-1zm465 10h2v4h-2zm-465 8h1v4h-1zm-1 4h1v4h-1zm465 6h2v4h-2zm1 6h1v4h-1zm-465 2h1v6h-1zm464 2h2v4h-2zm-466 4h2v4h-2zm466 10h2v4h-2zm-466 10h2v4h-2zm0 6h1v4h-1zm467 12h1v4h-1zm1 16h1v4h-1zm-467 14h2v4h-2zm-1 8h1v4h-1zm466 14h3v4h-3zm1 14h2v4h-2zm-465 2h1v4h-1zm-3 18h1v4h-1zm2 6h1v6h-1zm465 0h4v4h-4zm2 4h2v4h-2zm-468 4h1v4h-1zm467 0h2v4h-2zm-465 8h1v4h-1zm464 6h3v4h-3zm-465 10h1v4h-1zm466 0h2v4h-2zm-1 28h2v4h-2zm1 4h1v6h-1zm0 20h3v4h-3zm-466 10h2v4h-2zm466 8h2v4h-2zm-467 4h1v4h-1zm1 10h2v4h-2zm-1 16h2v4h-2zm86 2h1v4h-1zm60 0h2v4h-2zm-126 2h1v4h-1zm28 0h1v4h-1zm417 0h4v4h-4zm-451 2h1v4h-1zm148 0h1v4h-1zm165 0h2v4h-2zm-100 2h1v4h-1zm172 0h1v4h-1zm-120 2h1v4h-1zm67 0h1v4h-1zm51 0h1v4h-1zm18 0h1v4h-1zm-144 2h1v4h-1zm56 0h2v4h-2zm-44 2h1v4h-1z"/><path fill="none" stroke="#0820c8" stroke-width="2" d="M484 53h1m4 0h1m-16 2h1m2 0h1m3 0h6m-12 2h14m1 0h1m-21 2h1m5 0h7m2 0h6m7 0h2m-31 2h4m2 0h7m1 0h8m-21 2h6m15 0h10m-95 2h1m63 0h3m21 0h7m-145 2h3m21 0h2m7 0h2m5 0h6m5 0h15m45 0h7m24 0h2m2 0h2m-166 2h2m13 0h2m1 0h1m3 0h2m3 0h2m2 0h1m7 0h2m1 0h17m2 0h4m1 0h6m3 0h4m7 0h2m3 0h8m2 0h1m1 0h10m7 0h3m4 0h1m3 0h2m-227 2h1m88 0h1m5 0h1m2 0h1m4 0h1m5 0h3m2 0h1m3 0h14m1 0h1m1 0h6m3 0h15m3 0h2m2 0h15m1 0h32m1 0h11m-291 2h1m28 0h2m12 0h2m17 0h2m33 0h1m6 0h1m19 0h2m13 0h7m3 0h5m2 0h6m2 0h7m1 0h6m4 0h6m1 0h2m7 0h3m13 0h6m3 0h6m2 0h5m7 0h3m1 0h5m1 0h4m10 0h3m3 0h2m4 0h8m3 0h1m30 0h5m-454 2h6m6 0h2m5 0h2m30 0h3m1 0h1m3 0h3m1 0h2m12 0h1m19 0h3m3 0h4m1 0h3m5 0h2m13 0h1m3 0h5m11 0h2m16 0h4m14 0h1m9 0h6m8 0h3m16 0h2m3 0h3m4 0h1m2 0h5m6 0h12m3 0h9m2 0h3m1 0h9m6 0h1m4 0h1m4 0h7m41 0h1m7 0h2m18 0h2m5 0h1m10 0h1m7 0h2m36 0h3m-467 2h3m1 0h3m6 0h2m1 0h4m1 0h2m2 0h7m1 0h2m2 0h3m1 0h2m2 0h8m1 0h9m1 0h2m4 0h2m9 0h4m3 0h3m2 0h1m1 0h2m3 0h1m3 0h2m2 0h8m2 0h4m5 0h3m1 0h1m2 0h3m2 0h1m6 0h4m2 0h1m3 0h8m1 0h13m4 0h10m2 0h13m2 0h4m1 0h3m2 0h18m6 0h1m3 0h3m2 0h1m1 0h3m1 0h2m1 0h7m8 0h1m1 0h7m1 0h2m6 0h1m2 0h1m167 0h1m3 0h1m-472 2h13m1 0h5m1 0h2m2 0h28m2 0h3m2 0h4m3 0h4m1 0h11m2 0h13m2 0h37m1 0h4m1 0h6m1 0h11m1 0h25m1 0h2m2 0h27m2 0h38m2 0h8m12 0h2m5 0h1m181 0h2m-469 2h1m466 0h4m-472 2h1m466 0h4m-469 2h1m467 0h2m-475 2h5m467 0h3m2 0h1m-477 2h5m466 0h4m-3 2h3m-3 2h4m-474 2h2m469 0h3m-473 2h1m470 0h3m-476 2h1m1 0h2m469 0h1m-473 2h2m469 0h5m-4 2h2m-475 2h2m-1 2h1m471 0h2m-473 2h2m468 0h5m-476 2h2m471 0h3m-476 2h1m471 0h2m-473 2h1m472 0h1m-475 2h2m471 0h2m-475 2h1m471 0h2m-473 2h1m470 0h4m-474 2h1m468 0h3m-476 2h1m1 0h3m468 0h5m-474 2h1m467 0h3m-3 2h1m3 0h1m-6 2h2m-470 2h2m466 0h3m-473 2h4m468 0h2m-473 2h3m465 0h6m-7 2h3m-470 2h1m465 0h3m-470 2h2m466 0h1m2 0h1m-470 2h1m466 0h1m3 0h1m-6 2h4m-470 2h2m-3 2h2m465 2h1m-2 2h2m-1 2h3m-471 2h2m465 0h3m-471 2h1m468 0h2m-3 2h2m-468 2h3m464 0h2m-468 2h1m-3 2h2m1 2h1m464 0h2m-468 2h1m468 0h1m-471 6h1m466 2h2m-1 2h2m-471 2h1m467 0h2m-470 2h2m465 0h3m-469 2h1m1 0h1m465 0h2m-470 2h2m-1 2h2m-1 2h1m464 0h2m-468 2h2m464 0h3m-470 2h3m464 0h2m-3 2h3m-2 2h2m-471 2h3m465 0h2m-1 2h3m-4 2h2m-468 2h3m464 0h2m-468 2h1m464 0h3m-470 2h1m467 0h2m-469 2h2m465 0h3m-469 4h1m-4 2h4m465 0h3m-468 2h1m463 0h3m-470 2h1m466 0h1m-465 2h1m465 0h2m-469 2h1m464 0h3m-469 2h1m466 0h1m-469 4h2m-2 2h1m466 0h1m-466 2h1m464 0h3m-469 2h1m466 0h3m-469 2h1m465 0h1m-468 2h1m1 0h1m463 0h3m-1 2h1m-2 2h2m-467 2h1m463 0h2m-469 2h1m468 0h1m-471 2h1m3 0h1m462 0h5m-4 2h3m-470 2h4m463 0h2m-467 2h1m466 0h1m-472 2h1m468 0h2m-466 2h1m464 0h2m-4 2h4m-469 2h1m-2 4h1m466 0h4m-470 2h1m1 0h1m464 0h1m-471 2h2m2 0h1m464 0h3m-469 2h3m465 0h1m-468 2h1m465 0h1m-468 2h3m-3 2h1m465 2h2m-467 2h1m465 0h2m-470 2h2m1 0h1m463 0h1m-466 2h2m465 0h1m-470 2h1m466 0h2m-2 2h3m-468 2h1m465 0h2m-3 2h3m-468 2h2m464 0h1m-2 2h1m-465 2h1m464 0h1m-470 6h2m2 2h1m-5 4h1m2 2h2m463 0h3m-469 2h1m465 0h2m0 2h2m-3 2h2m-468 2h1m463 0h4m-468 2h2m-1 2h1m-3 2h3m464 0h2m-470 2h1m1 0h2m463 0h3m-467 2h1m464 0h3m-3 6h1m-469 2h3m465 0h2m-468 2h1m465 0h1m-466 2h1m463 0h2m-470 2h1m468 0h3m-468 2h1m463 0h2m-468 2h1m466 0h1m-467 2h2m464 0h3m-470 2h1m464 0h4m-3 2h3m-467 2h1m463 0h2m-468 2h3m463 0h3m-469 4h2m-6 2h1m5 0h1m-2 2h1m-2 2h3m-2 2h1m465 0h2m-467 2h1m464 0h1m-470 2h1m1 0h1m465 0h2m-1 2h1m-468 2h1m465 0h2m-1 2h2m-467 2h1m463 0h2m-468 2h3m-1 2h1m-2 2h1m465 0h1m-469 2h1m2 0h1m-2 2h1m464 0h2m-1 2h2m-3 2h3m-469 2h1m466 0h2m-469 2h2m464 0h2m-468 2h1m1 2h1m464 2h1m-2 2h3m-468 2h1m465 0h2m-1 2h2m-472 2h4m465 0h1m-1 2h2m-3 2h3m-469 2h3m464 0h3m-470 2h2m464 0h3m-468 2h2m462 0h4m-468 2h1m465 0h1m-1 2h3m-471 2h1m1 0h1m464 0h3m-2 2h1m-463 2h1m1 0h3m2 0h3m5 0h7m2 0h3m1 0h3m9 0h6m3 0h2m1 0h2m3 0h7m7 0h8m8 0h3m2 0h3m9 0h2m7 0h9m8 0h2m1 0h2m2 0h1m11 0h2m4 0h3m2 0h2m18 0h1m13 0h2m266 0h2m-468 2h3m2 0h3m3 0h2m3 0h2m4 0h1m3 0h2m7 0h2m5 0h2m7 0h1m3 0h1m3 0h1m2 0h4m5 0h3m2 0h3m3 0h1m5 0h5m3 0h2m2 0h5m2 0h1m1 0h1m2 0h3m7 0h3m2 0h1m5 0h1m8 0h1m5 0h1m2 0h3m2 0h1m1 0h3m4 0h1m5 0h1m1 0h19m1 0h2m3 0h5m2 0h1m3 0h1m4 0h1m1 0h3m134 0h1m2 0h1m47 0h1m-405 2h2m3 0h1m1 0h2m2 0h1m9 0h1m2 0h1m5 0h1m3 0h3m2 0h5m1 0h1m9 0h3m3 0h1m2 0h3m3 0h3m3 0h1m1 0h1m2 0h2m6 0h3m1 0h1m1 0h1m1 0h2m16 0h3m1 0h8m1 0h2m5 0h1m2 0h2m9 0h6m1 0h2m1 0h1m3 0h2m3 0h2m1 0h2m1 0h1m1 0h1m3 0h1m2 0h2m2 0h1m2 0h2m3 0h1m1 0h2m3 0h2m2 0h1m1 0h11m2 0h7m3 0h3m4 0h4m3 0h1m9 0h3m3 0h4m4 0h2m5 0h5m7 0h1m6 0h1m3 0h3m13 0h3m2 0h5m5 0h4m3 0h6m3 0h2m2 0h4m5 0h5m3 0h1m7 0h2m3 0h3m2 0h13m6 0h2m9 0h2m6 0h2m1 0h2m2 0h7m3 0h3m2 0h2m3 0h3m1 0h3m-432 2h2m8 0h2m69 0h1m2 0h2m19 0h1m18 0h1m47 0h4m3 0h1m2 0h1m11 0h2m8 0h1m4 0h1m8 0h1m2 0h2m1 0h3m1 0h4m5 0h2m3 0h1m3 0h2m3 0h2m4 0h1m1 0h2m2 0h3m5 0h2m2 0h1m5 0h1m1 0h2m3 0h4m2 0h1m4 0h1m8 0h5m1 0h3m8 0h1m1 0h2m2 0h1m5 0h3m6 0h1m8 0h2m4 0h1m3 0h1m3 0h2m6 0h2m5 0h2m1 0h4m1 0h5m5 0h1m1 0h2m1 0h2m2 0h1m15 0h3m3 0h2m-282 2h2m6 0h1m24 0h2m1 0h2m3 0h1m14 0h2m1 0h1m2 0h1m3 0h1m14 0h2m2 0h1m1 0h3m2 0h3m3 0h1m4 0h1m2 0h4m3 0h1m2 0h1m2 0h1m3 0h1m1 0h6m1 0h7m4 0h2m4 0h4m2 0h1m1 0h1m2 0h1m19 0h1m1 0h4m2 0h2m1 0h1m4 0h1m4 0h1m5 0h2m6 0h2m9 0h3m1 0h1m8 0h2m2 0h4m1 0h3m1 0h1m6 0h1m1 0h2m4 0h1m1 0h2m1 0h2m1 0h1m1 0h1m5 0h2m-272 2h1m26 0h1m13 0h1m6 0h1m25 0h1m1 0h1m13 0h2m22 0h1m2 0h1m1 0h1m20 0h1m3 0h2m6 0h1m3 0h2m7 0h2m10 0h2m2 0h2m9 0h1m1 0h3m12 0h1m2 0h1m17 0h1m3 0h3m5 0h2m8 0h5m3 0h1m5 0h3m-211 2h2m16 0h2m17 0h2m23 0h1m2 0h1m5 0h1m1 0h1m41 0h1m1 0h1m9 0h2m5 0h2m10 0h1m20 0h1m6 0h1m24 0h1m4 0h1m8 0h1m-239 2h2m43 0h1m63 0h1m59 0h1m4 0h1m5 0h1m-182 2h1m42 0h1m-50 2h1m81 0h1m134 8h1"/><path fill="#0828e0" d="M408 70h2v4h-2zm17 0h1v4h-1zm77 8h3v4h-3zm2 12h3v4h-3zm-465 4h1v4h-1zm466 2h4v4h-4zm-466 4h1v4h-1zm-1 4h2v4h-2zm1 10h1v8h-1zm466 8h3v4h-3zm-1 4h3v4h-3zm-1 4h3v4h-3zm-464 14h1v4h-1zm462 4h3v4h-3zm-462 2h1v6h-1zm0 10h1v4h-1zm462 6h2v4h-2zm1 4h2v6h-2zm-1 6h2v4h-2zm-462 4h1v6h-1zm463 10h1v4h-1zm-1 6h3v4h-3zm-462 4h1v6h-1zm-1 6h2v4h-2zm1 6h1v12h-1zm463 6h2v4h-2zm-1 16h4v4h-4zm1 24h1v4h-1zm-463 10h1v4h-1zm462 2h2v6h-2zm0 14h3v4h-3zm-462 12h1v6h-1zm0 14h1v6h-1zm463 0h1v4h-1zm-464 8h2v4h-2zm1 24h1v4h-1zm0 6h1v4h-1zm462 0h3v4h-3zm-462 22h1v4h-1zm462 4h3v4h-3zm1 4h2v4h-2zm-463 30h1v4h-1zm463 4h2v4h-2zm-463 6h1v4h-1zm0 18h1v6h-1zm124 5h1v3h-1zm-42 3h2v4h-2zm132 0h1v4h-1zm-169 2h1v4h-1zm72 0h1v4h-1zm230 2h2v4h-2zm29 0h3v4h-3zm20 2h1v4h-1zm-88 2h1v4h-1z"/><path fill="none" stroke="#0828e0" stroke-width="1" d="M47 441.5h2m6 0h2m1 0h2m13 0h1m1 0h1m3 0h1m11 0h2m6 0h2m14 0h2m9 0h1m8 0h1m13 0h1m1 0h1m24 0h1m7 0h1m5 0h2m52 0h2m120 0h3"/><path fill="none" stroke="#0828e0" stroke-width="2" d="M489 57h1m-7 2h2m-3 2h1m-7 2h15m-18 2h21m-20 2h9m4 0h11m-143 2h1m47 0h1m36 0h1m30 0h7m14 0h7m-151 2h5m3 0h2m18 0h1m26 0h3m52 0h1m11 0h6m18 0h5m-158 2h2m14 0h4m9 0h7m3 0h13m6 0h3m13 0h7m9 0h1m4 0h10m3 0h3m2 0h4m8 0h3m1 0h4m22 0h4m-169 2h2m3 0h1m9 0h6m1 0h4m1 0h4m7 0h41m1 0h2m2 0h1m1 0h1m2 0h7m1 0h2m1 0h7m2 0h5m1 0h6m2 0h2m1 0h7m2 0h6m25 0h5m-449 2h1m37 0h1m40 0h1m35 0h1m33 0h1m88 0h1m3 0h1m10 0h1m8 0h1m7 0h1m2 0h6m1 0h2m1 0h25m1 0h11m2 0h9m2 0h2m5 0h9m3 0h1m2 0h4m2 0h4m3 0h8m3 0h3m1 0h4m2 0h5m3 0h3m6 0h5m2 0h2m2 0h1m28 0h2m1 0h1m-454 2h1m38 0h2m9 0h3m16 0h2m13 0h2m42 0h1m6 0h1m37 0h1m2 0h2m27 0h2m38 0h2m8 0h3m1 0h2m2 0h4m2 0h5m1 0h15m3 0h4m7 0h2m6 0h2m2 0h2m2 0h2m4 0h4m3 0h2m5 0h1m12 0h2m7 0h2m17 0h1m2 0h1m19 0h1m-415 2h1m-2 2h2m462 0h2m-2 2h5m-468 2h1m463 0h3m-2 2h2m-1 6h3m17 2h1m-489 2h1m468 2h2m-471 2h1m468 0h3m2 0h1m-6 2h6m-6 2h3m-3 2h2m-469 2h1m466 0h4m-472 2h2m466 0h3m-3 2h5m-5 2h4m-4 2h3m-4 2h4m-473 4h1m2 4h1m468 0h3m-473 2h2m462 4h6m-7 2h4m-3 2h2m-4 2h3m-2 2h3m-3 2h4m-3 2h2m-2 6h2m-3 2h2m-2 2h3m-4 2h3m-2 2h3m-3 2h2m-1 2h2m-465 2h1m-2 2h2m-1 4h1m-2 6h1m463 2h2m-3 2h4m-468 2h1m463 0h3m-466 2h2m461 0h2m-465 2h1m463 0h3m-466 2h1m460 4h4m-2 6h1m-1 2h2m-3 2h2m-2 2h3m-2 2h1m-1 2h2m-2 2h1m-1 2h2m-1 2h1m-4 6h4m-2 2h1m-466 2h1m1 0h1m461 0h2m0 2h2m-466 2h1m461 0h2m-465 2h2m462 0h2m-465 2h1m-2 2h2m-3 2h3m461 0h2m-464 2h1m462 0h1m-465 2h2m461 0h3m-465 2h1m460 0h4m-466 2h1m462 0h2m-1 2h3m-4 2h3m-3 2h2m-466 2h3m461 0h4m-469 2h1m464 0h1m-464 2h2m-1 4h1m463 0h2m-467 2h2m461 0h2m-2 2h3m-3 2h1m-464 4h2m-3 2h3m-2 2h1m462 0h3m-465 2h1m461 0h2m-1 2h3m-466 2h1m462 0h2m-466 4h1m463 2h1m-464 2h1m462 0h2m-3 2h2m-3 2h5m-468 2h1m464 0h1m-2 2h2m0 2h1m-467 2h3m460 0h3m-466 2h1m464 0h2m-465 2h1m461 0h2m-1 2h2m-3 6h4m-5 2h5m-4 2h3m-468 2h1m465 0h2m-3 2h2m-465 2h2m462 0h1m-1 2h3m-3 2h2m-465 2h1m461 0h1m-466 2h2m463 0h2m-1 2h1m-2 2h3m-467 2h1m464 0h1m-1 2h2m-4 2h4m-3 2h3m-467 2h3m462 0h2m-2 6h1m-467 2h1m2 0h1m462 0h2m-2 2h1m-465 2h2m463 0h1m-2 2h2m-466 2h2m461 0h1m-465 2h1m1 0h1m462 0h1m-467 2h1m1 0h1m462 0h2m-1 2h1m-2 4h2m-464 4h1m-1 4h1m-2 2h1m464 0h1m-468 2h1m1 0h2m461 0h2m-464 2h1m462 0h2m-466 2h2m462 0h1m-464 2h1m462 0h2m-3 2h2m-1 2h2m-3 2h3m-465 2h1m463 0h1m-3 2h4m-466 2h1m461 0h2m-2 2h3m-2 2h1m-2 2h3m-3 2h2m-465 2h2m-2 4h2m460 0h4m-4 2h3m-2 2h3m-466 2h2m461 0h4m-466 2h1m462 0h2m-467 2h1m463 0h3m-3 2h2m-1 2h2m-465 2h1m461 0h2m-3 2h2m-2 2h4m-2 2h2m-3 2h2m-464 2h2m1 0h13m1 0h4m2 0h4m2 0h15m4 0h4m2 0h8m1 0h16m1 0h16m2 0h6m2 0h4m2 0h11m4 0h9m1 0h10m1 0h6m1 0h7m4 0h4m5 0h1m4 0h3m2 0h1m18 0h1m2 0h1m7 0h1m196 0h1m2 0h1m44 0h5m-465 2h3m1 0h1m3 0h2m3 0h5m7 0h2m3 0h1m3 0h9m6 0h3m2 0h1m2 0h3m7 0h7m11 0h5m3 0h2m3 0h9m2 0h7m9 0h8m2 0h1m2 0h2m1 0h3m2 0h6m2 0h4m3 0h2m2 0h18m1 0h13m2 0h8m1 0h3m13 0h4m2 0h2m5 0h3m3 0h2m9 0h3m2 0h3m5 0h4m1 0h3m2 0h4m1 0h3m1 0h3m3 0h2m18 0h3m8 0h4m1 0h4m4 0h1m4 0h9m9 0h1m15 0h3m12 0h3m14 0h1m3 0h4m4 0h5m4 0h1m5 0h4m5 0h1m11 0h2m2 0h6m-448 2h1m9 0h4m12 0h1m3 0h3m5 0h3m1 0h2m6 0h3m4 0h1m17 0h1m4 0h2m6 0h1m3 0h2m8 0h2m10 0h1m4 0h1m1 0h1m3 0h2m2 0h1m18 0h2m1 0h1m2 0h1m22 0h3m5 0h2m1 0h3m1 0h4m5 0h11m1 0h12m3 0h30m2 0h10m3 0h26m1 0h8m1 0h14m5 0h7m1 0h2m1 0h6m2 0h6m2 0h2m2 0h23m2 0h2m1 0h6m1 0h6m2 0h27m1 0h1m2 0h7m2 0h4m-458 2h1m2 0h2m83 0h1m65 0h1m12 0h1m5 0h1m24 0h2m13 0h2m7 0h3m3 0h4m4 0h3m1 0h9m3 0h3m4 0h4m2 0h5m5 0h7m1 0h6m1 0h3m3 0h7m1 0h5m3 0h2m5 0h1m2 0h2m4 0h3m6 0h3m8 0h5m5 0h3m1 0h7m8 0h2m13 0h6m2 0h9m2 0h6m2 0h1m2 0h2m7 0h3m3 0h2m2 0h3m3 0h1m3 0h7m-316 2h1m78 0h1m16 0h2m15 0h1m21 0h1m2 0h2m3 0h5m2 0h2m3 0h1m1 0h1m6 0h1m7 0h2m6 0h5m9 0h3m6 0h1m2 0h2m4 0h2m10 0h3m12 0h3m1 0h3m22 0h1m5 0h2m4 0h1m5 0h2m5 0h5m-226 2h2m3 0h1m12 0h2m37 0h1m1 0h2m11 0h2m4 0h1m26 0h2m5 0h1m13 0h1m12 0h1m15 0h1m2 0h1m36 0h2m2 0h2m4 0h1m3 0h1m8 0h1m7 0h1m2 0h1m4 0h1m-189 2h1m9 0h1m67 0h1m25 0h2m25 0h3m-90 2h1m10 0h1m21 0h1m21 0h1m88 0h1m-185 2h1m-6 2h1"/><path fill="url(#bgtex)" d="M384 76h2v4h-2zm114 4h4v4h-4zm3 8h3v4h-3zm2 8h2v4h-2zm0 4h3v6h-3zm1 6h2v6h-2zm-1 6h3v8h-3zm-1 10h3v4h-3zm-1 4h3v4h-3zm-1 4h3v4h-3zm0 12h1v4h-1zm0 6h1v4h-1zm0 6h1v4h-1zm0 6h1v4h-1zm0 6h1v4h-1zm0 4h2v6h-2zm0 6h1v4h-1zm0 6h1v6h-1zm0 6h2v6h-2zm0 8h1v4h-1zm0 4h2v4h-2zm0 4h1v4h-1zm0 4h2v8h-2zm0 10h2v4h-2zm0 16h1v6h-1zm0 16h1v8h-1zm0 8h2v4h-2zm0 6h1v16h-1zm0 16h2v4h-2zm0 4h1v4h-1zm0 4h2v4h-2zm-250 36h1v3h-1zm250 0h2v6h-2zm0 6h1v4h-1zm0 8h2v4h-2zm-255 2h2v3h-2zm255 8h1v4h-1zm0 4h2v6h-2zm0 20h1v6h-1zm0 6h2v4h-2zm0 8h2v6h-2zm0 14h1v6h-1zm0 8h1v4h-1zm0 4h2v4h-2zm0 8h1v4h-1zm0 6h1v4h-1zm-399 15h1v3h-1zm242 0h1v3h-1zm-29 3h2v4h-2zm182 0h2v4h-2z"/><path fill="none" stroke="url(#bgtex)" stroke-width="1" d="M40 80.5h254m3 0h2m4 0h13m3 0h9m-288 1h247m3 0h1m4 0h1m6 0h1m7 0h4m3 0h2m7 0h3m-289 1h229m4 0h11m3 0h4m14 0h3m-268 1h77m4 0h151m8 0h8m5 0h4m5 0h11m4 0h4m5 0h1m-287 1h88m3 0h148m3 0h12m4 0h15m4 0h6m8 0h1m-292 1h202m3 0h31m4 0h15m4 0h1m7 0h9m8 0h2m7 0h1m-294 1h239m6 0h8m7 0h7m6 0h2m3 0h2m-280 1h216m7 0h20m7 0h6m14 0h2m4 0h1m5 0h1m-283 1h224m7 0h30m6 0h2m5 0h7m6 0h5m-292 1h282m1 0h2m-285 1h152m3 0h119m2 0h3m-279 1h155m5 0h118m-278 1h96m5 0h179m3 0h2m-285 1h93m4 0h132m5 0h4m5 0h13m3 0h3m9 0h4m4 0h1m9 0h2m-291 1h229m13 0h2m7 0h16m16 0h1m-284 1h232m7 0h2m15 0h4m6 0h8m3 0h1m11 0h3m-292 1h109m2 0h110m8 0h20m12 0h2m10 0h6m6 0h1m-286 1h48m3 0h56m3 0h120m12 0h2m7 0h13m6 0h1m7 0h4m11 0h2m-295 1h50m1 0h190m21 0h7m3 0h1m-273 1h184m6 0h36m6 0h8m19 0h2m6 0h2m-269 1h231m3 0h11m19 0h2m5 0h7m-278 1h255m3 0h1m15 0h3m-277 1h168m3 0h96m7 0h4m-278 1h268m8 0h2m-278 1h164m14 0h68m6 0h6m7 0h7m-272 1h241m8 0h8m5 0h2m13 0h5m-282 1h41m2 0h185m5 0h15m4 0h18m-270 1h43m3 0h187m8 0h9m16 0h16m-282 1h46m3 0h158m7 0h11m4 0h26m3 0h3m3 0h1m1 0h1m-267 1h49m3 0h175m14 0h14m1 0h1m11 0h6m-274 1h52m1 0h8m3 0h28m3 0h138m11 0h9m8 0h1m8 0h7m-277 1h194m7 0h41m5 0h24m5 0h5m-281 1h14m5 0h207m20 0h15m-261 1h233m10 0h2m9 0h2m16 0h4m6 0h1m-283 1h219m8 0h30m-257 1h221m8 0h5m10 0h11m-255 1h240m6 0h5m12 0h7m-270 1h268m-268 1h242m19 0h1m2 0h1m-265 1h71m4 0h166m-241 1h74m4 0h144m6 0h2m5 0h29m2 0h2m-268 1h42m3 0h189m6 0h14m5 0h1m13 0h1m8 0h7m-289 1h210m9 0h16m4 0h2m7 0h2m11 0h15m-276 1h166m3 0h101m-270 1h128m2 0h71m5 0h20m8 0h4m6 0h14m13 0h8m-279 1h129m3 0h108m8 0h24m-272 1h131m3 0h129m-263 1h133m3 0h51m7 0h47m-241 1h135m2 0h56m9 0h60m11 0h3m-276 1h102m5 0h95m2 0h40m7 0h13m13 0h2m-279 1h124m4 0h17m6 0h101m18 0h8m-278 1h118m7 0h98m8 0h1m2 0h5m5 0h12m1 0h4m11 0h1m-273 1h150m1 0h60m11 0h31m31 0h1m-285 1h148m2 0h7m7 0h67m6 0h6m18 0h15m-276 1h163m5 0h72m1 0h3m6 0h6m5 0h2m1 0h2m-266 1h249m15 0h6m7 0h4m-281 1h234m5 0h23m-262 1h256m21 0h4m-281 1h250m-250 1h243m6 0h3m-252 1h229m1 0h15m15 0h9m-269 1h225m5 0h11m13 0h2m3 0h6m1 0h2m-268 1h235m6 0h15m2 0h1m7 0h1m-267 1h249m9 0h3m-261 1h241m8 0h10m14 0h2m-275 1h226m7 0h2m7 0h10m6 0h2m-260 1h223m4 0h24m14 0h1m8 0h1m2 0h5m-282 1h94m2 0h113m7 0h27m12 0h3m3 0h2m4 0h5m-272 1h93m2 0h110m4 0h25m12 0h8m5 0h7m-266 1h229m11 0h11m7 0h3m-261 1h230m4 0h5m5 0h4m-248 1h10m7 0h192m2 0h25m4 0h5m24 0h1m-270 1h16m13 0h166m2 0h10m3 0h32m15 0h1m5 0h2m6 0h1m-272 1h28m13 0h152m3 0h41m15 0h2m5 0h1m11 0h2m-273 1h41m1 0h180m8 0h2m15 0h2m11 0h2m-262 1h215m8 0h61m-284 1h211m5 0h68m-284 1h284m-284 1h205m3 0h76m-284 1h203m3 0h78m-284 1h284m-284 1h220m-220 1h128m4 0h83m-215 1h211m6 0h1m3 0h63m-284 1h38m2 0h168m3 0h1m3 0h69m-284 1h3m7 0h29m4 0h96m3 0h91m3 0h6m5 0h3m1 0h2m-253 1h9m10 0h23m3 0h33m6 0h48m8 0h46m1 0h51m5 0h5m6 0h1m-255 1h129m4 0h44m10 0h47m5 0h14m-253 1h196m3 0h4m3 0h26m3 0h15m-250 1h191m5 0h3m5 0h43m5 0h1m-253 1h189m2 0h6m3 0h14m4 0h27m3 0h4m-252 1h104m1 0h103m2 0h2m4 0h35m11 0h1m-263 1h102m3 0h9m9 0h79m7 0h41m8 0h2m4 0h1m1 0h2m-268 1h72m2 0h26m3 0h19m2 0h75m4 0h24m3 0h16m11 0h1m3 0h1m-262 1h70m3 0h26m2 0h123m4 0h14m11 0h1m4 0h1m-259 1h67m3 0h152m3 0h13m12 0h1m-251 1h66m2 0h127m4 0h25m4 0h6m11 0h3m20 0h2m-270 1h190m6 0h25m4 0h7m3 0h2m6 0h2m21 0h2m-268 1h95m4 0h87m5 0h28m2 0h13m25 0h1m4 0h2m-266 1h90m6 0h85m6 0h44m30 0h1m6 0h1m-269 1h179m3 0h47m2 0h1m15 0h1m10 0h1m5 0h2m-266 1h229m3 0h1m11 0h1m10 0h1m5 0h2m-263 1h226m3 0h1m8 0h5m7 0h1m1 0h2m2 0h5m-36 1h1m8 0h7m6 0h4m3 0h4m-28 1h6m1 0h4m1 0h6m6 0h1m-255 1h22m4 0h194m4 0h10m2 0h3m1 0h7m2 0h1m-250 1h18m5 0h194m5 0h14m5 0h6m25 0h2m-274 1h16m3 0h179m3 0h6m3 0h5m4 0h14m6 0h6m25 0h2m-272 1h194m5 0h5m4 0h24m4 0h6m26 0h1m-269 1h185m3 0h3m4 0h5m6 0h10m2 0h22m25 0h1m-266 1h136m7 0h39m4 0h1m5 0h3m8 0h10m4 0h10m2 0h8m14 0h2m11 0h1m-265 1h178m5 0h1m4 0h2m10 0h10m4 0h11m4 0h7m13 0h1m2 0h1m6 0h1m2 0h1m6 0h1m-270 1h176m3 0h3m9 0h1m6 0h10m2 0h11m4 0h11m3 0h1m6 0h2m2 0h1m-251 1h180m7 0h4m4 0h23m4 0h11m4 0h10m9 0h1m-257 1h175m9 0h6m2 0h14m3 0h6m4 0h12m3 0h10m5 0h1m2 0h4m-256 1h171m5 0h2m3 0h24m2 0h5m4 0h12m3 0h11m5 0h6m7 0h1m-261 1h168m3 0h39m2 0h13m4 0h10m5 0h4m2 0h1m-251 1h223m3 0h12m2 0h6m-246 1h220m4 0h20m30 0h1m-275 1h218m4 0h19m4 0h2m25 0h1m-273 1h217m2 0h20m4 0h2m15 0h1m9 0h1m-271 1h236m4 0h1m17 0h1m-259 1h213m3 0h5m2 0h11m3 0h2m-239 1h212m2 0h4m4 0h9m13 0h1m5 0h1m-251 1h217m2 0h11m12 0h1m4 0h2m-249 1h228m7 0h1m1 0h4m4 0h2m5 0h2m-254 1h227m6 0h1m4 0h1m5 0h1m5 0h4m-254 1h226m5 0h1m4 0h1m13 0h2m-252 1h225m3 0h1m4 0h2m12 0h3m-250 1h228m2 0h2m2 0h1m11 0h2m-248 1h150m2 0h73m3 0h2m-230 1h147m4 0h70m5 0h3m1 0h1m2 0h4m-237 1h145m2 0h72m4 0h16m3 0h2m16 0h2m-262 1h218m2 0h17m3 0h3m-243 1h62m3 0h151m2 0h9m1 0h8m2 0h3m21 0h1m-263 1h61m2 0h152m2 0h8m3 0h4m3 0h4m12 0h1m8 0h1m-261 1h224m2 0h4m3 0h5m-238 1h228m3 0h4m12 0h2m-249 1h205m2 0h19m3 0h4m12 0h5m-250 1h203m3 0h18m4 0h3m10 0h8m-249 1h202m2 0h7m1 0h11m4 0h2m10 0h9m5 0h1m-254 1h177m3 0h18m2 0h9m3 0h10m3 0h2m3 0h1m4 0h5m2 0h5m4 0h1m-252 1h196m3 0h9m2 0h11m2 0h2m3 0h1m6 0h4m2 0h3m-244 1h160m2 0h32m3 0h27m2 0h1m6 0h9m7 0h2m-251 1h159m2 0h31m3 0h30m6 0h9m4 0h1m2 0h2m-249 1h190m3 0h9m1 0h4m3 0h14m5 0h9m4 0h2m2 0h2m-248 1h122m1 0h66m2 0h9m3 0h3m2 0h14m5 0h9m4 0h2m3 0h1m-246 1h121m2 0h75m3 0h19m3 0h5m2 0h3m1 0h1m3 0h2m3 0h1m4 0h1m-249 1h119m3 0h75m2 0h19m3 0h6m2 0h2m5 0h1m1 0h1m2 0h2m-243 1h118m2 0h15m3 0h79m2 0h10m7 0h5m4 0h1m-246 1h129m7 0h92m7 0h5m3 0h1m8 0h1m-253 1h126m4 0h67m3 0h28m6 0h5m11 0h1m-251 1h195m3 0h28m7 0h5m11 0h1m-250 1h193m3 0h5m3 0h20m3 0h1m3 0h7m9 0h1m-248 1h71m2 0h119m2 0h6m2 0h5m4 0h11m3 0h1m3 0h7m3 0h2m4 0h1m-246 1h70m2 0h130m7 0h12m2 0h1m3 0h8m2 0h2m5 0h1m-245 1h69m2 0h126m6 0h2m2 0h15m4 0h4m3 0h5m4 0h1m-243 1h68m2 0h125m3 0h3m4 0h15m5 0h4m2 0h6m3 0h2m-242 1h67m2 0h94m2 0h29m3 0h2m4 0h15m5 0h12m4 0h1m-240 1h160m3 0h30m2 0h3m4 0h12m2 0h1m4 0h13m3 0h2m-239 1h158m3 0h36m3 0h12m8 0h12m3 0h4m-239 1h155m4 0h36m3 0h13m7 0h5m2 0h2m2 0h3m2 0h4m-238 1h154m2 0h15m1 0h21m3 0h15m5 0h5m3 0h2m2 0h2m2 0h4m8 0h1m-245 1h169m3 0h19m3 0h15m6 0h5m3 0h1m2 0h4m1 0h4m2 0h2m4 0h1m-244 1h168m2 0h20m2 0h9m1 0h5m4 0h8m2 0h1m3 0h3m2 0h3m3 0h1m5 0h1m-243 1h150m1 0h49m2 0h3m3 0h2m3 0h8m2 0h4m2 0h3m2 0h2m-236 1h147m4 0h47m2 0h4m3 0h2m2 0h8m3 0h3m2 0h4m2 0h1m-234 1h108m1 0h36m3 0h46m1 0h1m3 0h3m2 0h1m4 0h3m1 0h5m2 0h3m2 0h2m2 0h4m-233 1h106m3 0h34m3 0h46m5 0h3m8 0h2m3 0h2m4 0h3m2 0h2m2 0h3m5 0h1m7 0h1m-245 1h104m3 0h33m3 0h48m4 0h3m8 0h3m2 0h3m2 0h4m2 0h2m3 0h2m-229 1h84m3 0h16m2 0h34m2 0h56m5 0h5m1 0h10m3 0h2m2 0h3m5 0h1m5 0h1m-240 1h197m4 0h4m3 0h4m2 0h2m3 0h3m2 0h1m6 0h1m6 0h1m-239 1h195m5 0h4m2 0h5m2 0h2m2 0h7m12 0h1m-237 1h18m3 0h55m3 0h114m6 0h10m2 0h2m3 0h6m13 0h1m-236 1h15m4 0h56m2 0h92m28 0h10m3 0h1m3 0h6m13 0h1m-234 1h74m2 0h91m28 0h11m2 0h2m2 0h6m13 0h1m10 0h1m4 0h1m-248 1h166m2 0h24m2 0h10m2 0h2m3 0h6m13 0h1m10 0h1m-242 1h202m3 0h1m3 0h2m2 0h3m12 0h1m11 0h1m-241 1h67m2 0h132m2 0h2m3 0h2m2 0h3m12 0h1m10 0h1m-239 1h66m2 0h131m3 0h1m3 0h2m2 0h3m12 0h1m11 0h1m-238 1h198m2 0h1m4 0h2m2 0h3m3 0h1m19 0h2m-237 1h30m3 0h24m2 0h11m2 0h124m2 0h2m3 0h8m24 0h1m-236 1h28m2 0h24m3 0h12m3 0h123m2 0h1m3 0h9m2 0h1m1 0h1m5 0h2m25 0h1m4 0h1m-253 1h52m3 0h12m3 0h127m3 0h8m9 0h4m11 0h1m10 0h1m-244 1h51m2 0h12m3 0h128m2 0h5m1 0h1m3 0h1m2 0h1m4 0h3m3 0h2m7 0h1m17 0h1m-250 1h64m2 0h129m2 0h4m6 0h1m8 0h2m2 0h5m18 0h1m-244 1h192m2 0h6m8 0h1m5 0h2m2 0h6m4 0h1m-229 1h190m2 0h6m19 0h5m16 0h1m-239 1h85m3 0h83m1 0h16m3 0h6m2 0h1m16 0h5m4 0h1m11 0h2m4 0h2m4 0h1m-250 1h83m3 0h83m2 0h16m2 0h6m2 0h1m17 0h1m2 0h1m5 0h1m11 0h2m4 0h1m5 0h1m-249 1h81m3 0h84m2 0h15m3 0h3m1 0h2m2 0h1m5 0h1m10 0h1m2 0h2m17 0h1m4 0h2m5 0h1m-248 1h79m3 0h102m2 0h4m2 0h4m2 0h4m9 0h2m2 0h2m16 0h2m3 0h1m1 0h1m-241 1h10m2 0h66m2 0h102m2 0h4m2 0h10m6 0h2m2 0h1m3 0h3m7 0h2m6 0h2m3 0h1m-238 1h9m2 0h162m2 0h5m3 0h4m2 0h10m6 0h5m2 0h3m8 0h1m7 0h1m-232 1h171m3 0h5m2 0h4m2 0h10m10 0h2m2 0h3m8 0h1m7 0h1m5 0h1m-237 1h169m3 0h5m3 0h4m2 0h10m6 0h1m2 0h9m14 0h2m3 0h1m1 0h2m-237 1h167m3 0h5m3 0h4m3 0h9m10 0h4m1 0h3m7 0h1m7 0h1m-228 1h165m3 0h6m2 0h5m2 0h10m9 0h4m2 0h3m15 0h1m-227 1h164m3 0h5m3 0h5m2 0h10m6 0h1m2 0h4m2 0h3m39 0h1m-250 1h162m4 0h5m2 0h19m5 0h6m8 0h1m11 0h1m23 0h1m-248 1h87m3 0h70m4 0h4m3 0h20m4 0h7m1 0h2m5 0h1m2 0h1m8 0h1m23 0h1m-247 1h84m4 0h70m4 0h4m4 0h19m5 0h6m2 0h2m4 0h2m2 0h1m2 0h1m9 0h1m19 0h1m-246 1h82m2 0h72m5 0h4m3 0h19m5 0h7m3 0h1m4 0h2m4 0h1m-214 1h32m2 0h121m4 0h4m4 0h19m5 0h6m4 0h1m4 0h4m2 0h1m30 0h1m-244 1h25m1 0h3m4 0h120m4 0h5m2 0h20m6 0h6m3 0h1m4 0h5m2 0h1m9 0h1m-222 1h22m4 0h126m4 0h27m3 0h9m3 0h1m4 0h7m10 0h1m-221 1h20m2 0h160m3 0h8m3 0h1m4 0h2m2 0h4m6 0h2m-217 1h181m2 0h9m3 0h1m4 0h1m2 0h5m6 0h1m2 0h1m3 0h2m15 0h1m-239 1h122m1 0h56m3 0h10m6 0h2m2 0h5m4 0h3m2 0h1m3 0h2m-222 1h120m2 0h56m3 0h12m4 0h1m3 0h4m5 0h3m6 0h2m7 0h1m-229 1h119m2 0h55m2 0h1m2 0h11m4 0h1m3 0h2m7 0h3m5 0h2m7 0h1m-227 1h118m2 0h55m2 0h1m2 0h5m1 0h4m2 0h4m3 0h2m6 0h4m5 0h2m7 0h1m-226 1h113m3 0h58m4 0h5m2 0h4m2 0h4m11 0h4m5 0h2m7 0h1m-225 1h111m3 0h59m4 0h5m2 0h3m2 0h5m3 0h1m7 0h4m5 0h2m-216 1h109m3 0h59m4 0h11m2 0h3m2 0h1m2 0h1m6 0h4m3 0h1m3 0h1m-215 1h108m2 0h42m1 0h7m1 0h9m4 0h11m2 0h3m11 0h1m2 0h2m2 0h3m2 0h1m-214 1h151m2 0h5m3 0h7m5 0h16m4 0h1m6 0h1m2 0h2m2 0h2m3 0h1m2 0h1m7 0h1m-224 1h149m2 0h6m2 0h8m4 0h18m13 0h2m2 0h2m3 0h1m2 0h1m-215 1h148m2 0h5m2 0h9m4 0h18m5 0h1m3 0h1m3 0h6m3 0h4m2 0h1m3 0h1m-221 1h146m2 0h6m2 0h11m2 0h18m9 0h1m2 0h6m4 0h3m7 0h1m-220 1h127m1 0h16m3 0h4m2 0h32m2 0h2m6 0h1m2 0h6m2 0h5m7 0h1m10 0h1m-230 1h126m2 0h15m2 0h4m2 0h14m2 0h17m2 0h4m2 0h2m3 0h6m2 0h4m6 0h2m11 0h1m-229 1h125m2 0h20m3 0h13m2 0h17m3 0h4m2 0h2m2 0h6m3 0h3m4 0h1m2 0h2m3 0h1m7 0h1m-228 1h145m3 0h14m2 0h17m2 0h9m2 0h6m2 0h4m1 0h1m6 0h1m3 0h1m7 0h1m-227 1h144m2 0h15m2 0h17m2 0h9m2 0h6m2 0h4m1 0h1m6 0h1m3 0h1m7 0h1m-226 1h48m11 0h83m3 0h33m2 0h10m2 0h5m3 0h3m12 0h1m8 0h1m-225 1h58m13 0h70m2 0h34m2 0h17m2 0h4m12 0h1m8 0h1m-224 1h55m4 0h75m1 0h29m2 0h9m2 0h18m2 0h4m1 0h1m5 0h2m3 0h1m8 0h1m-223 1h52m4 0h76m2 0h40m2 0h18m2 0h4m1 0h1m5 0h2m2 0h2m8 0h1m-222 1h50m2 0h79m2 0h26m4 0h10m2 0h23m7 0h2m3 0h3m7 0h1m-221 1h158m3 0h36m7 0h2m3 0h2m7 0h2m-220 1h110m2 0h45m1 0h1m1 0h34m3 0h1m5 0h2m3 0h2m7 0h3m-220 1h109m2 0h25m2 0h18m1 0h32m2 0h2m3 0h1m5 0h2m2 0h3m7 0h2m5 0h1m-224 1h108m2 0h24m3 0h46m1 0h4m2 0h2m3 0h1m5 0h2m2 0h1m1 0h1m7 0h1m6 0h1m5 0h1m-229 1h133m2 0h46m2 0h4m2 0h2m1 0h1m6 0h5m17 0h1m5 0h1m-228 1h132m2 0h46m2 0h4m2 0h2m1 0h2m4 0h2m2 0h2m17 0h1m5 0h1m-227 1h101m2 0h76m2 0h5m4 0h2m4 0h2m2 0h2m2 0h1m10 0h2m8 0h1m-226 1h100m2 0h83m2 0h4m4 0h2m2 0h2m1 0h1m11 0h2m8 0h1m-225 1h98m2 0h84m2 0h10m3 0h3m11 0h2m-215 1h97m2 0h84m2 0h10m2 0h4m2 0h2m4 0h5m14 0h1m-229 1h95m2 0h84m3 0h8m4 0h4m2 0h2m4 0h5m14 0h1m9 0h1m-238 1h94m2 0h18m2 0h64m2 0h9m4 0h4m2 0h2m4 0h5m24 0h1m-237 1h113m2 0h64m2 0h3m1 0h5m4 0h4m2 0h2m3 0h2m2 0h2m19 0h1m4 0h1m-236 1h178m2 0h3m2 0h4m4 0h8m2 0h2m3 0h2m13 0h1m10 0h1m2 0h2m-239 1h177m2 0h3m2 0h4m2 0h10m3 0h1m3 0h2m13 0h1m13 0h2m-238 1h175m3 0h3m2 0h4m2 0h10m7 0h2m13 0h1m10 0h1m2 0h2m-237 1h118m1 0h55m2 0h8m4 0h10m3 0h1m5 0h1m12 0h1m10 0h1m2 0h1m-117 1h55m2 0h7m4 0h11m3 0h1m5 0h1m2 0h1m9 0h1m8 0h1m1 0h1m2 0h1m-117 1h31m2 0h22m2 0h7m4 0h12m2 0h1m5 0h1m1 0h2m1 0h1m7 0h1m13 0h1m-233 1h115m1 0h30m2 0h23m2 0h1m2 0h4m4 0h12m8 0h1m2 0h1m1 0h2m5 0h2m13 0h1m3 0h1m-236 1h54m3 0h57m1 0h30m2 0h27m1 0h4m4 0h6m1 0h5m8 0h1m1 0h2m1 0h2m6 0h1m4 0h1m5 0h1m2 0h1m3 0h1m-235 1h51m4 0h58m1 0h30m2 0h27m1 0h4m4 0h5m2 0h3m13 0h1m1 0h2m5 0h2m4 0h1m5 0h1m-227 1h49m3 0h60m1 0h59m2 0h2m3 0h7m2 0h3m12 0h2m1 0h2m5 0h2m4 0h2m4 0h1m-226 1h111m1 0h59m2 0h2m2 0h8m2 0h3m12 0h2m1 0h2m5 0h2m4 0h1m5 0h1m-225 1h110m1 0h42m2 0h15m2 0h2m2 0h8m2 0h3m3 0h1m7 0h3m1 0h2m5 0h2m3 0h3m4 0h1m-224 1h109m1 0h42m2 0h15m2 0h2m2 0h8m2 0h3m3 0h3m5 0h3m1 0h2m5 0h2m3 0h3m4 0h1m-223 1h151m2 0h16m1 0h2m2 0h7m2 0h4m3 0h3m5 0h6m6 0h1m5 0h1m4 0h1m-222 1h150m2 0h16m1 0h5m1 0h3m1 0h1m2 0h4m3 0h3m2 0h1m2 0h6m6 0h1m5 0h1m4 0h1m4 0h1m-226 1h120m1 0h46m2 0h3m2 0h3m4 0h5m2 0h3m1 0h2m2 0h5m13 0h1m4 0h1m-220 1h118m3 0h45m2 0h3m2 0h3m4 0h5m2 0h6m1 0h7m6 0h1m5 0h1m4 0h1m-219 1h116m3 0h46m2 0h3m2 0h3m4 0h4m3 0h2m1 0h3m1 0h4m1 0h1m13 0h1m4 0h1m-218 1h115m2 0h48m1 0h1m4 0h3m1 0h1m2 0h4m3 0h2m2 0h7m15 0h1m4 0h1m4 0h1m-222 1h133m2 0h29m1 0h1m4 0h4m2 0h5m3 0h1m3 0h2m19 0h2m4 0h2m3 0h1m-221 1h109m1 0h22m2 0h31m5 0h1m1 0h1m2 0h2m2 0h1m2 0h2m3 0h2m15 0h2m2 0h2m3 0h2m-215 1h70m2 0h36m2 0h21m2 0h31m5 0h1m4 0h2m5 0h2m3 0h2m4 0h1m10 0h2m2 0h2m3 0h1m7 0h1m-221 1h69m2 0h36m2 0h21m2 0h33m3 0h1m1 0h1m2 0h2m5 0h2m3 0h1m17 0h1m2 0h2m3 0h1m-212 1h106m2 0h20m2 0h34m2 0h1m4 0h3m5 0h2m3 0h1m6 0h1m10 0h1m2 0h2m3 0h1m13 0h1m-225 1h104m2 0h21m2 0h34m2 0h1m4 0h3m5 0h2m10 0h1m13 0h2m3 0h2m3 0h1m3 0h1m4 0h1m-224 1h103m2 0h21m2 0h34m2 0h1m4 0h3m4 0h3m10 0h1m6 0h1m3 0h1m2 0h2m3 0h2m3 0h1m7 0h2m-223 1h102m2 0h21m2 0h34m2 0h1m4 0h3m4 0h2m11 0h1m6 0h1m1 0h3m2 0h2m3 0h2m3 0h1m7 0h2m-222 1h101m2 0h60m4 0h3m1 0h1m2 0h3m10 0h1m5 0h3m2 0h1m8 0h1m3 0h1m7 0h1m-220 1h13m2 0h85m2 0h67m1 0h1m1 0h5m8 0h2m5 0h3m2 0h1m6 0h1m1 0h1m3 0h1m-211 1h10m3 0h86m2 0h69m1 0h5m8 0h2m5 0h3m9 0h1m1 0h2m2 0h1m6 0h1m-217 1h9m2 0h86m3 0h74m9 0h3m4 0h4m1 0h1m4 0h1m1 0h1m1 0h2m2 0h1m-209 1h96m2 0h56m2 0h17m9 0h3m3 0h4m7 0h1m1 0h2m-203 1h95m2 0h56m2 0h17m9 0h3m3 0h4m2 0h1m6 0h2m-202 1h94m2 0h56m2 0h18m8 0h4m3 0h3m7 0h1m1 0h2m11 0h1m-213 1h93m2 0h56m2 0h18m7 0h5m3 0h3m2 0h1m3 0h2m1 0h2m2 0h1m-203 1h92m2 0h56m2 0h18m2 0h1m2 0h8m1 0h4m2 0h1m3 0h2m1 0h3m1 0h1m4 0h1m3 0h2m1 0h1m-214 1h91m2 0h56m2 0h18m2 0h2m1 0h7m2 0h4m1 0h2m3 0h2m1 0h3m1 0h1m4 0h1m6 0h1m-213 1h148m2 0h18m2 0h10m2 0h4m2 0h1m4 0h5m1 0h1m-50 1h17m2 0h10m2 0h1m2 0h1m1 0h1m6 0h4m1 0h2m-51 1h17m1 0h11m2 0h1m2 0h1m1 0h1m6 0h7m-199 1h146m2 0h17m1 0h11m2 0h1m2 0h3m2 0h1m3 0h7m-198 1h164m1 0h8m2 0h1m2 0h1m2 0h3m2 0h1m3 0h7m7 0h1m-205 1h163m1 0h8m2 0h1m1 0h2m2 0h3m2 0h1m3 0h7m-196 1h162m1 0h8m1 0h1m2 0h2m2 0h3m6 0h7m24 0h1m-220 1h172m2 0h2m2 0h3m6 0h7m24 0h1m-219 1h168m2 0h1m2 0h2m2 0h3m6 0h7m8 0h2m-203 1h165m3 0h2m2 0h2m2 0h4m5 0h5m1 0h2m8 0h1m-202 1h136m1 0h24m2 0h1m4 0h1m2 0h2m2 0h4m1 0h1m3 0h5m1 0h2m3 0h1m4 0h4m13 0h1m-218 1h135m2 0h3m1 0h19m2 0h1m4 0h1m2 0h1m3 0h4m4 0h6m1 0h3m2 0h2m3 0h2m1 0h1m13 0h1m-217 1h134m2 0h3m2 0h18m2 0h1m6 0h2m2 0h5m2 0h1m1 0h6m1 0h4m1 0h2m-195 1h132m2 0h4m1 0h19m2 0h1m6 0h2m2 0h5m2 0h1m1 0h6m1 0h4m1 0h2m3 0h1m5 0h1m-204 1h131m2 0h3m2 0h19m2 0h1m3 0h1m2 0h2m2 0h5m2 0h6m1 0h1m2 0h3m1 0h2m9 0h1m4 0h1m-208 1h130m2 0h3m2 0h19m2 0h1m3 0h1m2 0h2m2 0h1m1 0h3m1 0h7m3 0h4m1 0h2m9 0h1m4 0h2m1 0h1m-210 1h129m2 0h3m2 0h22m3 0h1m2 0h2m1 0h2m1 0h3m1 0h7m3 0h7m7 0h1m1 0h1m5 0h1m1 0h2m-210 1h128m2 0h3m2 0h22m3 0h1m2 0h5m1 0h3m2 0h6m3 0h3m1 0h3m9 0h1m2 0h1m2 0h3m-208 1h126m2 0h4m2 0h22m3 0h1m2 0h5m1 0h3m2 0h6m3 0h3m11 0h1m1 0h1m5 0h4m5 0h1m-214 1h125m2 0h4m2 0h22m3 0h2m1 0h5m1 0h3m2 0h6m3 0h3m13 0h1m5 0h4m1 0h1m-209 1h124m2 0h5m2 0h21m3 0h2m1 0h9m3 0h5m2 0h4m3 0h2m7 0h2m5 0h6m-208 1h123m2 0h5m2 0h21m3 0h2m2 0h8m3 0h5m2 0h3m4 0h2m7 0h2m5 0h6m3 0h1m-211 1h122m2 0h5m2 0h21m3 0h2m1 0h9m3 0h5m2 0h3m5 0h1m7 0h2m5 0h2m1 0h3m-206 1h121m2 0h5m2 0h21m2 0h13m3 0h5m2 0h3m5 0h1m7 0h2m5 0h2m2 0h1m-204 1h135m2 0h12m3 0h2m1 0h10m3 0h5m2 0h5m3 0h2m6 0h1m6 0h2m2 0h1m7 0h1m-211 1h134m2 0h13m1 0h3m2 0h9m3 0h5m2 0h5m3 0h1m7 0h1m6 0h2m2 0h1m7 0h1m-210 1h133m2 0h17m2 0h9m3 0h2m2 0h1m2 0h2m1 0h2m3 0h1m7 0h1m6 0h2m2 0h1m7 0h1m-209 1h132m2 0h17m2 0h3m1 0h5m1 0h1m1 0h2m2 0h1m2 0h2m1 0h3m1 0h2m7 0h1m7 0h1m10 0h1m-208 1h130m2 0h18m2 0h3m1 0h5m3 0h2m2 0h1m2 0h2m1 0h2m2 0h2m7 0h2m6 0h1m10 0h1m-207 1h129m2 0h18m2 0h3m1 0h5m1 0h4m2 0h1m2 0h6m1 0h2m7 0h2m6 0h1m-195 1h125m1 0h2m2 0h11m1 0h6m2 0h3m1 0h5m2 0h3m2 0h2m1 0h6m1 0h2m1 0h1m5 0h1m1 0h1m5 0h1m11 0h1m-206 1h124m2 0h14m2 0h5m2 0h3m1 0h5m1 0h5m1 0h1m2 0h10m8 0h1m5 0h1m11 0h1m-205 1h123m2 0h14m2 0h3m1 0h1m2 0h2m2 0h5m1 0h5m1 0h2m1 0h7m1 0h3m5 0h1m1 0h1m17 0h4m-207 1h138m1 0h4m4 0h18m1 0h7m2 0h2m7 0h1m17 0h4m-206 1h136m2 0h4m3 0h1m3 0h23m3 0h1m5 0h1m1 0h1m19 0h2m-205 1h135m2 0h4m1 0h1m1 0h1m1 0h1m1 0h3m1 0h19m3 0h1m7 0h1m20 0h1m13 0h1m-218 1h134m2 0h4m1 0h3m3 0h3m1 0h20m2 0h1m4 0h2m1 0h1m24 0h1m-207 1h133m2 0h4m1 0h5m1 0h3m1 0h7m1 0h4m1 0h7m2 0h1m2 0h1m1 0h1m7 0h1m19 0h2m-207 1h3m1 0h128m2 0h4m1 0h5m1 0h3m1 0h7m1 0h4m2 0h5m3 0h1m2 0h1m1 0h2m6 0h1m20 0h1m-206 1h2m2 0h127m2 0h4m1 0h9m1 0h1m1 0h3m1 0h1m1 0h4m2 0h5m3 0h1m2 0h2m8 0h1m13 0h1m3 0h1m2 0h1m9 0h1m-215 1h1m1 0h128m2 0h3m2 0h9m1 0h1m2 0h2m3 0h4m2 0h5m6 0h2m4 0h1m3 0h1m13 0h1m6 0h1m-204 1h129m2 0h3m2 0h9m1 0h1m2 0h2m1 0h6m2 0h5m3 0h1m2 0h2m4 0h1m1 0h1m1 0h1m8 0h1m4 0h2m-197 1h128m2 0h3m2 0h11m2 0h2m1 0h6m2 0h5m2 0h2m1 0h3m4 0h1m1 0h1m1 0h1m13 0h2m9 0h1m-206 1h127m2 0h3m2 0h6m2 0h3m2 0h2m1 0h6m2 0h5m2 0h1m2 0h3m4 0h1m17 0h2m16 0h1m9 0h2m-223 1h126m2 0h3m2 0h6m2 0h2m3 0h9m2 0h1m2 0h2m2 0h2m1 0h4m3 0h1m1 0h1m10 0h1m5 0h1m16 0h1m9 0h2m-222 1h76m1 0h48m1 0h5m1 0h6m2 0h2m2 0h11m1 0h1m2 0h2m2 0h2m1 0h4m2 0h2m4 0h1m7 0h1m9 0h1m12 0h1m-210 1h75m2 0h47m1 0h12m2 0h2m1 0h11m2 0h2m1 0h2m2 0h8m1 0h2m4 0h1m5 0h1m1 0h1m9 0h1m22 0h1m-219 1h74m2 0h64m1 0h12m1 0h1m2 0h2m2 0h8m1 0h2m4 0h2m6 0h1m2 0h1m29 0h1m1 0h1m-220 1h73m2 0h64m1 0h12m1 0h2m1 0h2m2 0h11m4 0h2m5 0h3m1 0h1m31 0h1m-219 1h72m2 0h63m2 0h15m1 0h3m1 0h11m4 0h2m5 0h3m1 0h1m3 0h1m5 0h1m3 0h1m10 0h1m6 0h1m-218 1h71m2 0h58m1 0h4m2 0h31m4 0h2m4 0h6m9 0h1m14 0h1m5 0h1m-216 1h70m2 0h58m2 0h3m2 0h31m2 0h1m1 0h3m3 0h2m2 0h2m4 0h1m13 0h1m11 0h1m1 0h1m-217 1h39m1 0h29m2 0h58m2 0h3m2 0h31m2 0h1m1 0h3m1 0h1m1 0h2m2 0h2m4 0h1m5 0h1m3 0h1m3 0h1m13 0h1m-216 1h37m2 0h29m2 0h58m2 0h3m2 0h31m2 0h6m2 0h1m3 0h2m4 0h1m5 0h1m3 0h1m3 0h1m6 0h1m6 0h1m-215 1h36m2 0h29m2 0h58m2 0h3m2 0h31m2 0h6m2 0h1m3 0h2m4 0h1m5 0h1m3 0h1m10 0h1m9 0h1m-217 1h23m3 0h41m1 0h63m2 0h31m2 0h6m2 0h1m3 0h3m3 0h1m5 0h2m2 0h1m18 0h1m-214 1h22m2 0h41m2 0h64m1 0h31m2 0h6m2 0h1m3 0h3m9 0h2m1 0h2m18 0h1m-213 1h21m2 0h42m1 0h81m2 0h14m1 0h6m2 0h2m2 0h2m10 0h6m-194 1h64m1 0h81m2 0h13m2 0h7m1 0h2m1 0h3m5 0h1m5 0h2m6 0h1m-197 1h124m1 0h20m2 0h14m2 0h6m1 0h6m5 0h1m2 0h1m2 0h2m6 0h1m-196 1h123m1 0h20m2 0h14m3 0h5m2 0h5m5 0h2m1 0h1m2 0h2m2 0h2m-192 1h122m2 0h19m2 0h8m9 0h5m2 0h5m5 0h2m1 0h1m2 0h2m2 0h2m-191 1h99m2 0h20m1 0h21m1 0h8m10 0h4m2 0h5m5 0h4m2 0h3m1 0h3m-191 1h98m2 0h20m1 0h21m1 0h8m2 0h6m2 0h4m2 0h2m1 0h2m5 0h4m2 0h3m1 0h3m15 0h1m4 0h1m-211 1h119m1 0h21m1 0h8m2 0h1m2 0h4m1 0h4m3 0h1m10 0h2m3 0h6m2 0h1m10 0h1m1 0h1m-205 1h140m2 0h7m2 0h1m2 0h4m1 0h5m15 0h1m3 0h5m2 0h1m10 0h1m4 0h1m-207 1h60m3 0h76m2 0h7m2 0h1m2 0h10m1 0h1m3 0h2m5 0h1m8 0h3m12 0h2m4 0h1m2 0h1m-209 1h58m3 0h77m2 0h7m2 0h1m2 0h12m3 0h2m5 0h1m6 0h1m1 0h3m12 0h2m7 0h1m-208 1h55m3 0h79m2 0h7m2 0h1m2 0h13m2 0h2m5 0h1m4 0h1m1 0h1m1 0h4m11 0h3m1 0h1m4 0h1m-207 1h53m2 0h81m2 0h7m2 0h2m1 0h13m2 0h2m5 0h1m4 0h1m1 0h1m2 0h3m20 0h1m-206 1h135m2 0h7m2 0h2m1 0h10m1 0h2m2 0h2m5 0h1m5 0h2m2 0h3m6 0h1m13 0h2m-75 1h3m2 0h8m1 0h13m2 0h1m2 0h2m5 0h2m4 0h2m2 0h3m21 0h1m-75 1h3m2 0h8m1 0h13m2 0h2m1 0h2m5 0h2m4 0h2m2 0h1m18 0h1m4 0h1m-75 1h3m2 0h22m2 0h2m1 0h2m5 0h3m3 0h2m2 0h1m9 0h1m6 0h1m1 0h1m4 0h1m-75 1h3m2 0h23m1 0h6m4 0h4m2 0h3m1 0h1m9 0h1m7 0h2m4 0h2m-203 1h126m1 0h3m2 0h23m1 0h6m5 0h3m2 0h3m11 0h2m6 0h2m5 0h1m-202 1h130m1 0h23m1 0h6m5 0h3m16 0h3m5 0h3m-196 1h129m1 0h30m5 0h3m10 0h2m4 0h3m5 0h3m1 0h1m-197 1h159m3 0h1m1 0h4m2 0h4m3 0h2m4 0h4m4 0h3m1 0h1m3 0h1m1 0h1m-202 1h158m3 0h1m1 0h5m1 0h4m4 0h4m1 0h5m1 0h1m1 0h3m1 0h2m1 0h2m1 0h1m-201 1h157m3 0h7m1 0h4m4 0h4m1 0h5m1 0h1m1 0h3m2 0h1m1 0h4m-200 1h3m6 0h3m2 0h1m2 0h1m2 0h8m1 0h4m1 0h1m1 0h1m1 0h1m1 0h3m5 0h3m2 0h4m1 0h1m6 0h2m2 0h3m1 0h2m2 0h5m1 0h3m1 0h6m1 0h1m1 0h1m2 0h4m3 0h3m1 0h1m1 0h1m1 0h6m4 0h1m2 0h3m4 0h2m1 0h5m1 0h1m1 0h5m2 0h3m3 0h5m3 0h2m1 0h1m2 0h3m7 0h3m1 0h3m6 0h1m2 0h2m2 0h2m2 0h3m11 0h1m2 0h1m2 0h6m10 0h5m4 0h1m1 0h2m2 0h2m3 0h3m16 0h2m10 0h1m13 0h2m5 0h2m9 0h1m3 0h1m8 0h1m1 0h2m1 0h1m7 0h1m2 0h1m3 0h3m3 0h2m19 0h1m7 0h1m12 0h1m3 0h1m14 0h3m2 0h1m5 0h1m5 0h1m7 0h2"/><path fill="none" stroke="url(#bgtex)" stroke-width="2" d="M483 67h4m-9 2h14m-16 2h18m-20 2h6m9 0h7m-83 2h2m1 0h1m10 0h1m2 0h1m21 0h2m18 0h5m15 0h5m-136 2h1m11 0h2m13 0h5m9 0h3m1 0h2m4 0h2m4 0h3m8 0h3m3 0h1m4 0h2m5 0h3m3 0h6m5 0h2m2 0h2m1 0h4m19 0h5m2 0h1m-163 2h3m4 0h7m2 0h6m2 0h2m2 0h2m2 0h4m4 0h3m5 0h2m1 0h12m2 0h7m2 0h3m1 0h13m1 0h2m1 0h19m1 0h13m1 0h6m22 0h6m-187 4h1m184 2h2m-2 2h3m-1 6h2m-2 2h3m-467 8h1m260 7h1m-262 9h1m464 2h2m-5 14h2m-5 2h1m2 0h1m-1 2h2m-2 8h2m-2 6h2m-239 9h61m176 3h2m-2 16h2m-462 3h223m-225 1h1m-1 20h1m250 11h1m210 1h1m1 0h1m-221 1h1m217 7h2m-464 2h1m461 0h1m-1 2h3m-215 2h1m211 0h1m-1 2h2m-2 8h2m-2 2h1m-1 4h1m-1 2h2m-292 6h22m268 8h3m-465 8h1m217 14h2m242 8h1m-463 4h1m461 0h2m-2 2h1m0 2h2m-3 4h2m-465 2h2m461 0h1m-1 2h2m-1 2h1m-2 2h2m-2 2h1m-1 4h1m-1 2h2m-2 2h1m-461 5h116m344 7h2m-2 2h1m-269 6h2m266 2h1m-243 1h2m240 1h2m-260 4h1m-206 4h2m462 4h2m-3 2h2m-462 1h147m313 1h1m-463 2h1m461 0h2m-259 1h1m-207 1h1m462 0h1m-265 2h1m20 0h2m241 0h2m-2 2h3m-276 8h2m271 4h3m-3 2h1m-1 8h1m-254 2h1m252 0h2m-2 2h1m-281 1h1m279 1h3m-250 2h1m6 5h1m239 1h2m-464 2h1m209 3h1m-26 5h1m7 2h2m-39 3h6m9 3h2m289 0h2m-271 3h1m4 2h2m262 1h2m-462 1h129m66 0h2m-16 1h1m278 0h1m-461 1h127m49 2h1m-6 1h4m27 0h1m257 2h2m-2 2h1m-460 2h1m13 0h1m4 0h2m4 0h2m15 0h4m4 0h2m25 0h1m16 0h2m6 0h2m4 0h2m11 0h1m1 0h2m9 0h1m10 0h1m6 0h1m7 0h4m4 0h5m1 0h4m3 0h2m1 0h18m1 0h2m1 0h7m1 0h11m1 0h17m2 0h8m2 0h6m2 0h12m1 0h9m2 0h1m2 0h10m4 0h6m1 0h1m2 0h4m3 0h14m1 0h41m2 0h4m1 0h16m1 0h2m1 0h6m1 0h2m1 0h3m3 0h38m-253 2h1m3 0h3m1 0h9m4 0h2m2 0h5m3 0h3m2 0h9m3 0h2m3 0h5m4 0h1m9 0h1m3 0h1m3 0h3m2 0h18m3 0h8m4 0h1m4 0h4m1 0h4m9 0h9m1 0h15m3 0h12m3 0h14m1 0h3m4 0h4m5 0h4m1 0h5m4 0h5m1 0h11m-411 2h1m28 0h1m19 0h2m9 0h1m13 0h1m10 0h2m6 0h1m29 0h1m61 0h1m12 0h3m42 0h3m26 0h1m8 0h1m14 0h5m17 0h2m6 0h2m2 0h2m23 0h2m9 0h1m6 0h2m27 0h1m1 0h2m-431 2h1m156 0h1m131 0h1m-53 2h1m2 0h1m43 0h1m5 0h2m10 0h2m51 0h2m19 0h1m-98 2h2m30 0h1m44 0h2m-101 2h1"/><path fill="#50b0e8" d="M501 98h2v8h-2zm1 8h2v6h-2zm-1 6h2v10h-2zm-1 10h2v4h-2zm-4 44h4v4h-4zm0 11h4v3h-4zm-2 9h6v4h-6zm0 5h6v5h-6zm-2 6h2v3h-2zm3 0h5v4h-5zm-3 5h8v3h-8zm4 5h4v4h-4zm-3 1h2v4h-2zm4 3h3v10h-3zm-4 2h2v3h-2zm-1 5h4v3h-4zm6 3h2v4h-2zm-6 4h8v3h-8zm-1 7h9v3h-9zm0 5h9v13h-9zm-5 8h1v10h-1zm5 5h2v4h-2zm3 0h6v11h-6zm-2 4h1v7h-1zm-7 3h1v3h-1zm2 3h1v3h-1zm2 0h2v3h-2zm6 1h5v11h-5zm-9 4h8v7h-8zm-3 4h2v7h-2zm-3 1h2v5h-2zm16 2h4v6h-4zm-18 1h1v3h-1zm11 1h2v8h-2zm4 0h2v4h-2zm-15 3h10v5h-10zm15 1h7v4h-7zm-14 4h12v5h-12zm15 0h6v6h-6zm-2 1h1v3h-1zm-13 4h13v8h-13zm-3 1h2v9h-2zm17 0h7v7h-7zm-14 8h14v4h-14zm15 0h6v3h-6zm-20 1h4v3h-4zm-1 3h5v9h-5zm6 0h15v5h-15zm16 2h5v3h-5zm-26 3h2v4h-2zm10 0h21v4h-21zm-15 6h1v5h-1zm3 1h33v4h-33zm-4 4h37v10h-37zm-5 10h1v3h-1zm4 0h38v6h-38zm15 6h23v8h-23zm-20 1h1v3h-1zm3 0h16v3h-16zm10 6h3v6h-3zm4 1h26v6h-26zm-16 1h11v7h-11zm-2 1h1v3h-1zm14 3h2v6h-2zm3 1h27v10h-27zm-20 3h3v4h-3zm16 2h3v5h-3zm-12 1h3v4h-3zm5 1h6v5h-6zm-10 3h3v3h-3zm4 0h3v5h-3zm4 1h1v5h-1zm-15 2h1v4h-1zm16 3h39v7h-39zm-13 1h1v3h-1zm-10 1h1v3h-1zm-43 1h1v3h-1zm34 1h1v3h-1zm18 1h1v4h-1zm-53 1h1v3h-1zm55 1h51v6h-51zm-21 1h1v4h-1zm9 0h1v3h-1zm-28 1h1v3h-1zm-11 3h1v3h-1zm41 0h1v4h-1zm9 1h52v4h-52zm-22 1h2v3h-2zm-32 1h1v3h-1zm20 1h1v4h-1zm22 0h1v3h-1zm2 0h1v4h-1zm2 0h5v4h-5zm6 2h2v5h-2zm3 0h51v5h-51zm-26 1h1v3h-1zm2 0h2v3h-2zm3 1h2v3h-2zm-11 3h2v3h-2zm29 0h54v3h-54zm-32 1h1v3h-1zm8 0h1v3h-1zm-14 1h1v4h-1zm24 0h4v3h-4zm5 0h7v3h-7zm11 1h52v9h-52zm-3 1h2v7h-2zm-15 1h14v3h-14zm-28 1h3v3h-3zm5 0h1v4h-1zm7 4h5v3h-5zm31 1h1v3h-1zm-17 1h15v4h-15zm19 0h53v10h-53zm-3 2h2v7h-2zm-37 2h1v4h-1zm-1 4h1v3h-1zm-29 2h15v3h-15zm66 0h2v3h-2zm3 0h54v6h-54zm-70 3h15v3h-15zm30 3h9v4h-9zm45 0h49v10h-49zm-10 1h9v7h-9zm-25 1h3v3h-3zm4 0h20v3h-20zm-5 3h25v3h-25zm-11 1h10v3h-10zm34 2h1v3h-1zm2 1h9v3h-9zm-37 1h6v3h-6zm7 0h3v4h-3zm4 0h22v4h-22zm36 0h50v6h-50zm-13 2h12v4h-12zm-35 1h6v3h-6zm-5 1h4v3h-4zm16 0h23v3h-23zm23 4h64v4h-64zm-12 10h1v3h-1z"/><path fill="none" stroke="#50b0e8" stroke-width="1" d="M294 80.5h3m2 0h4m13 0h3m9 0h148m-189 1h3m1 0h4m1 0h6m1 0h7m4 0h3m2 0h7m3 0h147m-207 1h4m11 0h3m4 0h14m3 0h7m1 0h159m-355 1h1m151 0h8m8 0h5m4 0h5m11 0h2m1 0h1m4 0h5m1 0h129m1 0h18m-345 1h1m148 0h3m12 0h4m15 0h4m6 0h8m1 0h125m1 0h7m1 0h7m-231 1h3m31 0h4m15 0h4m1 0h7m9 0h8m2 0h7m1 0h123m2 0h6m2 0h6m-194 1h6m8 0h7m7 0h6m2 0h3m2 0h135m4 0h7m1 0h5m-216 1h7m20 0h7m6 0h14m2 0h4m1 0h5m1 0h133m4 0h1m1 0h1m1 0h1m3 0h4m-208 1h7m30 0h6m2 0h5m7 0h6m5 0h119m1 0h2m9 0h1m3 0h5m-150 1h1m2 0h6m4 0h58m3 0h56m1 0h2m1 0h1m2 0h1m9 0h3m-280 1h1m121 0h2m3 0h15m8 0h53m1 0h5m3 0h12m1 0h31m1 0h1m4 0h2m-258 1h2m118 0h23m3 0h57m1 0h1m1 0h6m5 0h3m4 0h1m2 0h5m1 0h4m1 0h13m1 0h1m-312 1h2m179 0h3m2 0h80m3 0h3m7 0h1m9 0h4m1 0h4m1 0h10m1 0h1m1 0h1m-319 1h1m135 0h5m4 0h5m13 0h3m3 0h9m4 0h4m1 0h9m2 0h76m5 0h1m18 0h1m1 0h1m5 0h1m2 0h2m1 0h1m-177 1h13m2 0h7m16 0h16m1 0h79m42 0h2m-175 1h7m2 0h9m10 0h6m8 0h3m1 0h11m3 0h74m-256 1h1m110 0h8m20 0h7m7 0h10m6 0h6m1 0h69m3 0h6m2 0h3m-262 1h1m122 0h12m2 0h7m13 0h6m1 0h7m4 0h11m2 0h64m5 0h1m-124 1h18m10 0h3m1 0h89m-178 1h6m36 0h6m8 0h19m2 0h6m2 0h92m3 0h1m-134 1h3m11 0h19m2 0h5m7 0h71m3 0h10m-107 1h3m1 0h15m3 0h74m5 0h1m1 0h1m1 0h5m-195 1h1m96 0h7m4 0h68m7 0h2m3 0h3m-93 1h8m2 0h72m5 0h9m-200 1h14m68 0h6m6 0h7m7 0h85m-116 1h8m8 0h5m2 0h13m5 0h67m2 0h2m1 0h4m1 0h2m-320 1h2m185 0h5m15 0h4m18 0h82m-119 1h8m9 0h16m23 0h66m-148 1h7m11 0h4m26 0h3m3 0h3m1 0h1m1 0h21m6 0h63m-307 1h2m175 0h14m14 0h1m1 0h2m15 0h79m1 0h4m-306 1h1m10 0h1m30 0h1m138 0h11m9 0h6m1 0h1m1 0h8m7 0h75m-158 1h7m41 0h5m34 0h65m-332 1h1m2 0h2m207 0h20m15 0h9m10 0h71m-118 1h10m2 0h9m2 0h16m4 0h6m1 0h67m-131 1h8m30 0h89m-125 1h8m5 0h10m11 0h96m-111 1h6m5 0h12m7 0h84m-86 1h90m-116 1h19m1 0h2m1 0h90m-284 1h1m169 0h108m1 0h2m-276 1h2m144 0h6m2 0h5m29 0h2m2 0h81m-305 1h1m189 0h6m14 0h5m15 0h8m7 0h55m-134 1h9m16 0h4m2 0h7m28 0h67m2 0h4m2 0h2m-186 1h2m101 0h83m-225 1h2m71 0h5m32 0h6m14 0h13m8 0h65m-104 1h8m24 0h71m-80 1h77m-205 1h1m51 0h4m50 0h100m-206 1h2m64 0h1m60 0h11m3 0h62m-236 1h1m3 0h1m95 0h2m40 0h1m4 0h2m13 0h13m2 0h57m-210 1h2m17 0h1m4 0h1m114 0h5m8 0h4m10 0h45m-219 1h1m104 0h8m1 0h2m5 0h5m12 0h1m4 0h11m1 0h1m9 0h51m1 0h2m-187 1h1m60 0h11m31 0h31m1 0h47m3 0h3m-189 1h1m7 0h2m72 0h6m6 0h18m15 0h61m1 0h1m-174 1h3m72 0h1m3 0h6m6 0h5m2 0h1m2 0h70m-87 1h15m6 0h7m4 0h52m-99 1h5m23 0h68m2 0h4m-80 1h21m4 0h53m-84 1h82m-89 1h6m3 0h75m4 0h3m-105 1h1m15 0h15m9 0h54m1 0h9m-108 1h5m11 0h13m2 0h3m6 0h1m2 0h63m-96 1h6m15 0h2m1 0h7m1 0h61m-79 1h9m3 0h65m-85 1h8m10 0h14m2 0h48m1 0h1m1 0h3m-103 1h7m2 0h7m10 0h6m2 0h17m3 0h46m-103 1h4m24 0h14m1 0h8m1 0h2m5 0h40m-227 1h1m113 0h7m27 0h3m5 0h4m3 0h3m2 0h4m5 0h48m-115 1h4m25 0h9m11 0h5m7 0h52m-89 1h11m11 0h7m3 0h12m1 0h42m-86 1h4m5 0h5m4 0h19m7 0h39m-303 1h5m195 0h1m25 0h4m5 0h17m8 0h49m-123 1h1m10 0h1m38 0h11m8 0h6m1 0h47m-283 1h5m152 0h1m49 0h9m8 0h11m2 0h43m3 0h3m-281 1h1m196 0h9m8 0h5m2 0h4m6 0h47m-35 1h32m-111 3h3m76 0h26m-107 1h3m78 0h24m-24 1h62m2 0h2m1 0h1m-68 1h66m-222 1h1m2 0h1m89 0h2m61 0h63m110 0h3m-249 1h1m3 0h2m1 0h3m63 0h61m-307 1h1m169 0h3m1 0h3m69 0h58m-339 1h2m134 0h3m91 0h3m6 0h5m3 0h1m2 0h87m3 0h2m110 0h1m1 0h3m-444 1h3m24 0h2m33 0h1m3 0h2m102 0h1m51 0h5m5 0h6m1 0h82m4 0h2m2 0h1m6 0h1m-224 1h2m46 0h1m7 0h2m47 0h5m14 0h82m3 0h3m2 0h1m3 0h1m-152 1h3m4 0h3m26 0h3m15 0h82m4 0h7m1 0h3m2 0h1m-159 1h5m3 0h5m43 0h5m1 0h16m2 0h60m2 0h12m2 0h1m-159 1h2m6 0h3m14 0h4m27 0h3m4 0h12m7 0h73m1 0h1m109 0h5m-252 1h2m2 0h4m35 0h11m1 0h1m3 0h3m8 0h64m1 0h2m112 0h3m-346 1h1m7 0h1m79 0h7m41 0h8m2 0h4m1 0h1m2 0h10m8 0h54m1 0h2m112 0h5m-388 1h2m48 0h2m75 0h4m24 0h3m16 0h11m1 0h3m1 0h23m1 0h56m-243 1h1m124 0h4m14 0h11m1 0h4m1 0h82m-119 1h3m13 0h12m1 0h75m2 0h12m-274 1h1m128 0h4m25 0h4m6 0h11m3 0h4m4 0h8m2 0h2m2 0h55m2 0h11m3 0h1m-152 1h6m25 0h4m7 0h3m2 0h6m2 0h4m4 0h9m3 0h1m2 0h69m2 0h1m-243 1h2m87 0h5m28 0h2m13 0h11m4 0h10m1 0h4m2 0h70m1 0h1m-248 1h1m90 0h6m44 0h11m4 0h15m1 0h6m1 0h65m1 0h6m-162 1h3m47 0h2m1 0h7m4 0h4m1 0h10m1 0h5m2 0h23m3 0h41m1 0h2m1 0h3m2 0h1m112 0h5m-231 1h3m1 0h3m4 0h4m1 0h10m1 0h5m2 0h24m3 0h44m1 0h4m1 0h2m-112 1h2m4 0h2m5 0h7m1 0h1m2 0h2m5 0h24m3 0h53m-118 1h2m8 0h1m7 0h6m4 0h3m4 0h24m4 0h54m115 0h5m-237 1h4m9 0h1m4 0h1m6 0h6m1 0h25m3 0h50m3 0h3m115 0h6m-437 1h3m194 0h4m10 0h2m3 0h1m7 0h2m1 0h28m3 0h51m2 0h4m3 0h1m113 0h5m-243 1h5m14 0h5m6 0h25m2 0h1m4 0h51m3 0h4m3 0h1m-325 1h1m181 0h3m6 0h3m5 0h4m14 0h6m6 0h25m2 0h1m3 0h53m2 0h5m3 0h1m-146 1h5m5 0h4m24 0h4m6 0h26m1 0h2m3 0h54m2 0h4m2 0h3m-154 1h3m3 0h4m5 0h6m10 0h2m22 0h25m1 0h2m3 0h62m2 0h3m1 0h1m-204 1h1m5 0h1m39 0h4m1 0h5m4 0h7m10 0h4m10 0h2m8 0h14m2 0h11m1 0h2m2 0h62m2 0h3m1 0h1m117 0h5m-282 1h5m1 0h4m8 0h4m10 0h4m11 0h4m7 0h13m1 0h2m1 0h6m1 0h2m1 0h6m1 0h60m2 0h5m-161 1h3m3 0h3m7 0h6m10 0h2m11 0h4m11 0h3m1 0h6m2 0h2m1 0h71m1 0h1m2 0h10m-150 1h1m4 0h4m23 0h4m11 0h4m10 0h9m1 0h64m4 0h10m-154 1h3m6 0h2m14 0h3m6 0h4m12 0h3m10 0h5m1 0h2m4 0h63m4 0h4m1 0h6m-163 1h2m5 0h3m24 0h2m5 0h4m12 0h3m11 0h5m6 0h7m1 0h57m4 0h4m2 0h4m-164 1h3m39 0h2m13 0h4m10 0h5m4 0h2m1 0h66m3 0h4m2 0h6m120 0h8m-237 1h3m12 0h2m6 0h69m3 0h5m2 0h6m-111 1h4m20 0h30m1 0h39m3 0h13m6 0h1m-119 1h4m19 0h4m2 0h25m1 0h40m2 0h14m5 0h2m-119 1h2m20 0h4m2 0h15m1 0h9m1 0h58m1 0h1m2 0h1m119 0h1m-218 1h4m1 0h17m1 0h65m2 0h2m1 0h1m2 0h1m120 0h7m-247 1h3m5 0h2m11 0h3m2 0h84m2 0h4m2 0h1m-120 1h2m4 0h4m9 0h13m1 0h5m1 0h59m2 0h9m2 0h8m2 0h1m-117 1h2m11 0h12m1 0h4m2 0h60m2 0h9m2 0h5m1 0h2m1 0h2m-105 1h7m1 0h1m4 0h4m2 0h5m2 0h54m2 0h8m2 0h6m1 0h2m124 0h7m-233 1h6m1 0h1m4 0h4m2 0h4m5 0h63m2 0h1m1 0h9m122 0h8m-234 1h5m6 0h3m5 0h2m5 0h64m5 0h8m123 0h3m-230 1h3m1 0h2m4 0h3m3 0h2m7 0h67m2 0h9m-100 1h2m2 0h2m1 0h2m2 0h4m2 0h1m2 0h68m2 0h9m-177 1h2m73 0h3m2 0h85m2 0h9m-179 1h4m70 0h5m3 0h1m1 0h2m4 0h63m1 0h13m2 0h11m-182 1h2m72 0h4m16 0h3m2 0h16m2 0h36m2 0h26m126 0h3m-237 1h2m17 0h3m3 0h54m2 0h25m-261 1h2m151 0h2m9 0h1m8 0h2m3 0h3m3 0h15m1 0h61m1 0h1m1 0h1m-113 1h2m8 0h3m4 0h3m4 0h3m3 0h4m1 0h1m1 0h8m1 0h66m-103 1h2m4 0h3m5 0h3m2 0h6m1 0h71m1 0h4m126 0h4m-228 1h3m4 0h4m2 0h1m1 0h4m2 0h56m2 0h13m1 0h3m5 0h1m123 0h3m-251 1h2m19 0h3m4 0h4m3 0h2m1 0h2m5 0h2m2 0h50m2 0h5m2 0h10m5 0h1m-126 1h3m18 0h4m3 0h4m3 0h3m8 0h1m3 0h49m3 0h5m2 0h11m-121 1h2m7 0h1m11 0h4m2 0h5m2 0h3m9 0h1m2 0h2m1 0h2m2 0h42m3 0h6m2 0h11m3 0h1m-147 1h1m18 0h2m9 0h3m10 0h3m2 0h3m1 0h4m5 0h2m5 0h4m1 0h2m3 0h42m2 0h20m3 0h1m128 0h3m-260 1h3m9 0h2m11 0h2m2 0h3m1 0h6m4 0h2m3 0h9m2 0h42m2 0h21m2 0h3m127 0h5m-296 1h1m32 0h3m27 0h2m1 0h6m9 0h7m4 0h42m3 0h21m1 0h4m127 0h6m-265 1h3m30 0h6m9 0h4m1 0h2m5 0h42m2 0h22m1 0h2m129 0h7m-267 1h3m9 0h1m4 0h3m14 0h5m9 0h4m2 0h2m4 0h42m2 0h23m1 0h2m130 0h1m-262 1h2m9 0h3m3 0h2m14 0h5m9 0h4m2 0h3m3 0h43m2 0h23m1 0h2m-121 1h3m19 0h3m5 0h2m3 0h1m1 0h3m2 0h3m4 0h1m1 0h70m-122 1h2m19 0h3m6 0h2m2 0h3m3 0h1m1 0h2m4 0h15m1 0h57m1 0h1m3 0h1m-206 1h1m16 0h3m79 0h2m10 0h3m3 0h1m5 0h4m1 0h12m2 0h57m1 0h1m3 0h1m2 0h1m-98 1h2m3 0h2m5 0h3m1 0h4m1 0h3m1 0h4m2 0h42m2 0h13m1 0h1m3 0h1m2 0h1m-199 1h2m69 0h3m31 0h3m5 0h9m1 0h1m1 0h4m3 0h42m2 0h15m2 0h2m2 0h2m-130 1h3m31 0h4m5 0h11m1 0h4m2 0h43m2 0h15m2 0h2m2 0h2m3 0h1m2 0h1m-138 1h3m5 0h3m24 0h3m7 0h9m1 0h4m3 0h43m2 0h15m1 0h3m2 0h2m3 0h2m1 0h1m-259 1h2m119 0h2m6 0h2m6 0h3m15 0h3m7 0h3m2 0h4m1 0h5m2 0h44m2 0h19m1 0h4m2 0h2m1 0h1m-258 1h1m136 0h1m15 0h3m8 0h2m2 0h5m1 0h5m2 0h51m1 0h13m1 0h4m2 0h2m1 0h1m-123 1h2m15 0h4m4 0h3m5 0h4m1 0h50m2 0h7m1 0h18m2 0h2m1 0h1m-132 1h2m4 0h4m15 0h5m4 0h2m6 0h3m2 0h50m2 0h5m23 0h2m1 0h1m-259 1h2m94 0h2m29 0h3m2 0h4m15 0h5m12 0h4m1 0h46m2 0h2m3 0h5m23 0h2m1 0h1m-165 1h3m30 0h2m3 0h4m15 0h4m13 0h3m2 0h46m2 0h2m2 0h6m2 0h2m1 0h16m2 0h4m-166 1h3m36 0h3m15 0h5m12 0h3m4 0h45m2 0h2m2 0h5m2 0h3m1 0h17m1 0h5m-169 1h4m36 0h3m15 0h5m5 0h2m2 0h2m3 0h2m4 0h45m2 0h2m2 0h5m2 0h3m1 0h17m1 0h5m-169 1h2m15 0h1m21 0h3m15 0h5m5 0h3m2 0h2m2 0h2m4 0h8m1 0h37m2 0h2m2 0h5m2 0h28m5 0h1m-160 1h3m19 0h3m15 0h6m5 0h3m1 0h2m4 0h1m4 0h2m2 0h4m1 0h15m1 0h21m2 0h9m2 0h28m2 0h1m2 0h1m-160 1h2m20 0h2m9 0h1m5 0h4m8 0h2m1 0h3m3 0h2m3 0h3m1 0h5m1 0h14m3 0h31m2 0h29m4 0h1m-177 1h1m49 0h2m3 0h3m2 0h3m8 0h2m4 0h2m3 0h2m2 0h20m2 0h32m2 0h22m1 0h6m2 0h1m1 0h1m-179 1h4m47 0h2m4 0h3m2 0h2m8 0h3m3 0h2m4 0h2m1 0h20m3 0h32m2 0h16m1 0h12m1 0h1m2 0h2m-218 1h1m36 0h3m46 0h1m1 0h3m3 0h2m1 0h4m3 0h1m5 0h2m3 0h2m2 0h2m4 0h20m3 0h49m3 0h11m4 0h2m-218 1h2m34 0h3m46 0h5m3 0h8m2 0h3m2 0h4m3 0h2m3 0h1m3 0h5m1 0h7m1 0h7m3 0h49m2 0h12m1 0h1m2 0h2m-184 1h3m48 0h4m3 0h8m3 0h2m3 0h2m4 0h2m7 0h21m3 0h34m1 0h15m2 0h7m2 0h5m2 0h3m-238 1h1m16 0h1m35 0h2m56 0h5m5 0h1m10 0h3m7 0h5m1 0h5m1 0h9m3 0h33m2 0h15m2 0h7m2 0h6m1 0h3m1 0h1m4 0h1m-133 1h4m4 0h3m4 0h2m2 0h3m3 0h2m3 0h4m1 0h6m1 0h9m3 0h33m2 0h15m2 0h7m2 0h10m1 0h1m4 0h1m1 0h1m-136 1h5m4 0h2m5 0h2m2 0h2m9 0h10m1 0h9m4 0h33m2 0h5m1 0h9m2 0h7m2 0h10m1 0h1m4 0h3m-311 1h2m56 0h2m114 0h6m10 0h2m2 0h3m9 0h10m1 0h9m3 0h34m2 0h5m1 0h9m2 0h7m2 0h10m1 0h2m-308 1h1m153 0h1m22 0h5m10 0h3m1 0h3m6 0h1m2 0h10m1 0h10m3 0h34m2 0h5m1 0h19m1 0h14m126 0h2m-377 1h1m92 0h3m22 0h3m11 0h2m2 0h2m6 0h1m3 0h9m1 0h10m4 0h1m1 0h32m3 0h4m1 0h19m1 0h14m3 0h3m3 0h1m116 0h3m-285 1h2m24 0h2m10 0h2m2 0h3m6 0h1m2 0h10m1 0h10m3 0h37m2 0h17m1 0h20m2 0h4m3 0h1m116 0h4m-249 1h3m1 0h3m2 0h2m5 0h10m1 0h11m3 0h37m2 0h17m1 0h21m1 0h4m121 0h1m1 0h2m-384 1h2m132 0h2m2 0h3m2 0h2m5 0h10m1 0h10m1 0h1m2 0h37m2 0h17m1 0h27m3 0h1m118 0h3m-252 1h3m1 0h3m2 0h2m5 0h10m1 0h11m1 0h40m2 0h17m1 0h1m1 0h19m1 0h5m3 0h1m118 0h4m-253 1h2m1 0h4m2 0h2m5 0h1m1 0h19m2 0h40m1 0h20m1 0h19m1 0h6m2 0h1m-297 1h2m24 0h2m137 0h2m2 0h3m8 0h24m1 0h40m1 0h20m1 0h19m1 0h7m1 0h1m-299 1h1m166 0h2m1 0h3m9 0h2m1 0h1m1 0h5m2 0h18m2 0h5m1 0h4m1 0h63m1 0h7m1 0h2m-130 1h3m8 0h9m4 0h11m1 0h6m2 0h2m1 0h66m1 0h12m1 0h2m3 0h1m-279 1h2m143 0h2m7 0h3m1 0h2m1 0h3m4 0h3m2 0h7m1 0h6m2 0h9m1 0h60m1 0h11m1 0h3m-262 1h2m129 0h2m7 0h3m1 0h5m2 0h1m2 0h2m5 0h11m2 0h5m1 0h65m1 0h12m1 0h2m-133 1h2m8 0h6m1 0h3m4 0h2m6 0h4m1 0h3m1 0h2m2 0h78m2 0h7m-134 1h2m9 0h9m2 0h5m5 0h9m4 0h3m1 0h7m2 0h66m2 0h7m7 0h1m-245 1h2m83 0h1m16 0h3m9 0h8m3 0h5m5 0h4m1 0h4m4 0h3m2 0h4m4 0h2m1 0h63m2 0h9m1 0h1m3 0h1m113 0h1m-275 1h2m16 0h2m9 0h9m2 0h6m1 0h2m1 0h5m1 0h3m5 0h3m2 0h4m4 0h2m1 0h63m2 0h9m1 0h1m3 0h1m111 0h1m-273 1h2m15 0h3m3 0h1m5 0h5m1 0h2m3 0h5m1 0h2m2 0h9m4 0h4m1 0h4m4 0h3m1 0h64m2 0h8m3 0h1m1 0h1m6 0h1m-151 1h2m4 0h2m4 0h2m4 0h2m2 0h5m2 0h2m2 0h9m4 0h3m2 0h3m1 0h1m3 0h68m2 0h8m2 0h2m1 0h2m-317 1h1m66 0h2m102 0h2m4 0h2m10 0h3m2 0h1m2 0h2m1 0h3m3 0h7m4 0h4m2 0h3m1 0h1m2 0h2m2 0h65m2 0h11m1 0h3m119 0h9m-282 1h2m5 0h3m4 0h2m10 0h6m5 0h2m3 0h8m4 0h4m1 0h6m2 0h2m2 0h65m2 0h5m2 0h4m1 0h4m119 0h5m1 0h3m-284 1h3m5 0h2m4 0h2m10 0h10m2 0h2m14 0h5m1 0h5m3 0h2m2 0h34m1 0h30m9 0h9m1 0h1m3 0h1m-163 1h3m5 0h3m4 0h2m10 0h6m1 0h2m19 0h4m2 0h3m1 0h1m2 0h3m2 0h34m2 0h29m9 0h9m-158 1h3m5 0h3m4 0h3m9 0h10m4 0h1m3 0h7m3 0h5m1 0h11m2 0h34m2 0h12m2 0h15m3 0h5m2 0h8m114 0h2m3 0h5m-283 1h3m6 0h2m5 0h2m10 0h9m4 0h2m3 0h8m2 0h5m1 0h47m2 0h12m2 0h16m2 0h5m2 0h9m1 0h1m3 0h1m2 0h1m-169 1h3m5 0h3m5 0h2m10 0h6m1 0h2m4 0h2m3 0h7m2 0h30m1 0h23m2 0h12m2 0h16m2 0h5m2 0h9m1 0h1m3 0h1m-167 1h4m5 0h2m19 0h5m6 0h8m1 0h4m2 0h5m1 0h17m1 0h2m2 0h1m1 0h24m2 0h12m2 0h23m2 0h9m5 0h1m10 0h1m-251 1h2m70 0h4m4 0h3m20 0h4m7 0h1m2 0h5m1 0h2m4 0h5m1 0h17m2 0h1m1 0h2m1 0h25m1 0h13m1 0h3m2 0h19m1 0h10m5 0h3m1 0h1m-174 1h4m6 0h2m19 0h5m6 0h2m2 0h4m2 0h2m4 0h9m1 0h12m5 0h2m1 0h25m1 0h12m2 0h4m1 0h19m1 0h7m1 0h2m1 0h1m3 0h3m8 0h1m98 0h1m-355 1h1m73 0h5m6 0h1m19 0h5m7 0h3m1 0h4m2 0h2m3 0h23m2 0h1m2 0h42m1 0h3m2 0h19m2 0h6m2 0h1m1 0h2m2 0h4m7 0h1m-305 1h2m121 0h4m6 0h2m19 0h5m6 0h4m1 0h4m7 0h23m2 0h1m2 0h2m1 0h39m1 0h3m2 0h4m18 0h5m2 0h1m1 0h2m1 0h1m1 0h3m1 0h1m-305 1h1m3 0h1m123 0h4m5 0h2m20 0h6m6 0h3m1 0h4m8 0h4m2 0h3m1 0h13m2 0h1m2 0h47m1 0h5m17 0h6m1 0h2m1 0h1m1 0h1m1 0h3m8 0h1m-312 1h2m126 0h4m27 0h3m9 0h3m1 0h4m7 0h6m2 0h2m1 0h13m2 0h50m1 0h5m1 0h14m3 0h5m1 0h6m1 0h4m-307 1h1m161 0h3m8 0h3m1 0h4m2 0h2m4 0h6m3 0h89m2 0h8m1 0h4m1 0h3m-145 1h2m9 0h3m1 0h4m1 0h2m5 0h6m4 0h3m2 0h15m1 0h5m1 0h52m1 0h9m1 0h11m1 0h1m1 0h3m6 0h1m1 0h1m-212 1h1m56 0h3m10 0h6m2 0h2m5 0h4m6 0h3m2 0h20m2 0h52m2 0h8m1 0h13m1 0h4m3 0h2m-152 1h3m12 0h4m1 0h3m4 0h5m5 0h4m2 0h7m1 0h12m2 0h52m2 0h8m1 0h9m1 0h3m1 0h4m3 0h4m1 0h1m-157 1h2m1 0h2m11 0h4m1 0h3m2 0h7m5 0h3m2 0h7m1 0h13m2 0h52m2 0h8m2 0h18m3 0h3m1 0h1m-214 1h2m55 0h2m8 0h1m4 0h2m4 0h3m2 0h6m4 0h5m2 0h7m1 0h12m3 0h36m2 0h15m11 0h13m1 0h4m3 0h2m1 0h1m2 0h1m4 0h1m-224 1h2m58 0h2m7 0h2m4 0h2m4 0h11m4 0h5m2 0h7m1 0h12m2 0h37m2 0h15m11 0h13m1 0h4m3 0h4m1 0h1m-158 1h2m7 0h2m3 0h2m5 0h3m1 0h7m4 0h5m2 0h11m2 0h7m2 0h38m1 0h16m2 0h7m1 0h19m1 0h1m1 0h5m104 0h1m-264 1h2m13 0h2m3 0h2m1 0h2m1 0h6m4 0h3m1 0h3m1 0h11m2 0h1m1 0h5m2 0h36m3 0h17m1 0h7m3 0h17m2 0h5m2 0h1m102 0h2m-327 1h1m43 0h1m7 0h1m9 0h3m12 0h2m3 0h11m1 0h2m2 0h2m3 0h2m2 0h10m2 0h1m2 0h3m2 0h38m2 0h11m1 0h5m1 0h7m4 0h6m2 0h9m2 0h4m1 0h1m110 0h21m-309 1h2m5 0h3m7 0h5m16 0h4m1 0h6m1 0h2m2 0h2m2 0h3m4 0h7m3 0h1m2 0h3m2 0h38m2 0h11m2 0h4m2 0h6m4 0h7m1 0h9m1 0h6m11 0h1m-190 1h2m6 0h2m8 0h4m18 0h2m2 0h9m2 0h2m2 0h3m4 0h11m2 0h3m2 0h2m38 0h11m2 0h5m1 0h6m4 0h7m1 0h9m2 0h5m-178 1h2m5 0h2m9 0h4m18 0h2m2 0h1m1 0h3m1 0h3m6 0h3m4 0h2m1 0h3m1 0h4m2 0h3m2 0h2m38 0h12m1 0h5m1 0h7m1 0h1m1 0h18m1 0h7m4 0h1m1 0h2m-189 1h2m6 0h2m11 0h2m18 0h2m2 0h5m1 0h2m6 0h4m3 0h7m1 0h4m1 0h3m3 0h2m1 0h21m2 0h13m1 0h12m1 0h13m4 0h17m1 0h8m10 0h1m117 0h5m-333 1h1m16 0h3m4 0h2m32 0h2m2 0h6m1 0h2m6 0h2m5 0h7m1 0h3m2 0h3m3 0h1m2 0h21m2 0h26m2 0h12m4 0h17m2 0h7m9 0h1m7 0h1m-201 1h2m4 0h2m14 0h2m17 0h2m4 0h2m2 0h3m6 0h2m4 0h6m2 0h4m2 0h3m3 0h1m2 0h21m2 0h26m2 0h12m4 0h13m1 0h4m1 0h7m6 0h2m2 0h2m-190 1h3m32 0h3m4 0h2m2 0h2m6 0h3m3 0h4m1 0h2m2 0h3m3 0h3m3 0h1m2 0h21m2 0h27m1 0h12m4 0h13m1 0h13m2 0h5m5 0h1m4 0h1m86 0h1m-285 1h3m33 0h2m9 0h2m6 0h2m4 0h1m1 0h6m1 0h3m3 0h2m2 0h1m1 0h1m2 0h21m2 0h27m1 0h13m1 0h1m1 0h13m2 0h12m3 0h2m1 0h2m97 0h2m-287 1h2m15 0h2m17 0h2m9 0h2m6 0h2m4 0h1m1 0h6m1 0h3m3 0h2m2 0h1m1 0h1m2 0h21m2 0h41m3 0h14m1 0h13m2 0h2m1 0h6m1 0h1m4 0h1m86 0h3m-383 1h3m91 0h3m33 0h2m10 0h2m5 0h3m3 0h5m1 0h6m1 0h1m2 0h2m2 0h1m3 0h22m2 0h41m2 0h15m1 0h13m2 0h6m1 0h2m-268 1h5m70 0h2m34 0h2m17 0h2m4 0h5m2 0h5m1 0h1m2 0h1m3 0h1m3 0h22m2 0h41m2 0h30m2 0h9m-277 1h2m75 0h1m29 0h2m9 0h2m18 0h2m4 0h1m1 0h3m4 0h3m1 0h4m2 0h2m3 0h22m2 0h24m1 0h17m1 0h30m2 0h11m3 0h2m-208 1h2m40 0h2m18 0h2m4 0h1m1 0h2m2 0h1m2 0h2m2 0h4m2 0h2m3 0h22m2 0h25m1 0h16m1 0h5m1 0h25m2 0h5m1 0h3m6 0h1m-290 1h1m80 0h2m26 0h4m10 0h2m23 0h5m4 0h3m3 0h3m2 0h2m3 0h22m2 0h25m1 0h16m2 0h4m2 0h24m2 0h11m6 0h1m88 0h31m-302 1h3m36 0h5m4 0h3m2 0h4m1 0h2m4 0h22m2 0h42m2 0h5m1 0h24m18 0h1m90 0h32m-350 1h1m45 0h1m1 0h1m34 0h3m1 0h3m4 0h3m2 0h3m2 0h2m3 0h3m1 0h19m2 0h42m2 0h1m1 0h13m1 0h15m22 0h1m84 0h34m-325 1h2m18 0h1m32 0h2m2 0h3m1 0h3m4 0h2m3 0h3m2 0h2m2 0h3m3 0h14m1 0h3m2 0h43m1 0h1m2 0h12m2 0h14m16 0h1m1 0h1m-230 1h1m25 0h3m46 0h1m4 0h2m2 0h3m1 0h5m2 0h2m1 0h1m1 0h3m2 0h2m1 0h4m3 0h5m1 0h7m2 0h3m2 0h43m1 0h2m1 0h13m1 0h14m1 0h1m21 0h1m-209 1h2m46 0h2m4 0h2m2 0h1m1 0h6m5 0h6m2 0h7m3 0h5m1 0h7m2 0h3m2 0h43m2 0h1m2 0h12m2 0h26m1 0h2m1 0h1m1 0h2m-206 1h2m46 0h2m4 0h2m2 0h1m2 0h4m2 0h2m2 0h15m3 0h5m1 0h7m2 0h4m1 0h43m2 0h1m2 0h8m2 0h2m2 0h27m-229 1h2m76 0h2m8 0h1m2 0h4m2 0h2m2 0h2m1 0h10m4 0h6m1 0h7m2 0h3m2 0h43m2 0h1m2 0h9m1 0h1m1 0h1m1 0h27m-228 1h1m89 0h4m2 0h2m2 0h1m1 0h11m4 0h6m1 0h7m2 0h4m1 0h37m2 0h5m1 0h2m1 0h9m4 0h29m8 0h1m1 0h1m-144 1h3m3 0h11m4 0h14m2 0h3m2 0h38m1 0h5m1 0h2m1 0h9m2 0h1m-103 1h2m4 0h2m2 0h4m7 0h12m1 0h1m2 0h4m1 0h38m2 0h4m2 0h12m1 0h1m32 0h1m6 0h1m-145 1h4m4 0h2m2 0h4m7 0h12m1 0h1m2 0h3m2 0h1m1 0h36m2 0h4m2 0h12m1 0h1m2 0h29m10 0h1m81 0h1m-326 1h2m19 0h1m75 0h4m4 0h2m2 0h4m7 0h14m2 0h4m1 0h1m1 0h36m2 0h4m2 0h15m36 0h2m1 0h1m1 0h2m-155 1h1m5 0h4m4 0h2m2 0h3m2 0h2m4 0h14m2 0h1m1 0h2m1 0h1m1 0h37m1 0h5m1 0h15m37 0h1m1 0h1m1 0h1m5 0h1m-160 1h2m4 0h4m8 0h2m2 0h3m4 0h11m1 0h2m2 0h4m1 0h1m1 0h2m2 0h33m1 0h5m1 0h15m2 0h29m4 0h1m1 0h1m2 0h3m-155 1h2m4 0h2m10 0h3m1 0h3m4 0h11m1 0h2m2 0h4m1 0h4m2 0h39m2 0h4m8 0h3m1 0h30m1 0h1m3 0h2m1 0h1m1 0h2m4 0h1m-161 1h2m4 0h2m10 0h5m5 0h1m1 0h10m1 0h2m2 0h4m1 0h1m1 0h2m2 0h39m2 0h4m8 0h3m2 0h29m9 0h3m-218 1h1m65 0h4m10 0h3m1 0h5m1 0h2m1 0h9m1 0h2m2 0h4m1 0h1m1 0h2m1 0h41m1 0h1m2 0h2m1 0h5m1 0h3m2 0h2m31 0h1m1 0h1m2 0h4m2 0h1m-223 1h2m65 0h3m11 0h3m1 0h5m1 0h2m1 0h9m1 0h2m1 0h4m2 0h1m1 0h2m1 0h41m1 0h2m1 0h2m2 0h9m1 0h2m29 0h3m18 0h1m-230 1h1m31 0h2m31 0h1m1 0h2m12 0h2m1 0h5m1 0h1m2 0h1m1 0h7m1 0h1m2 0h4m1 0h5m1 0h44m1 0h2m2 0h13m1 0h21m1 0h9m1 0h1m8 0h1m1 0h1m-194 1h2m26 0h2m4 0h1m1 0h2m12 0h8m1 0h2m1 0h1m2 0h5m2 0h1m2 0h4m1 0h5m1 0h3m1 0h44m1 0h36m1 0h10m2 0h4m-279 1h2m88 0h2m27 0h1m4 0h4m6 0h1m5 0h8m1 0h1m2 0h1m2 0h3m1 0h2m1 0h1m2 0h1m1 0h5m1 0h2m1 0h3m1 0h44m2 0h35m13 0h5m2 0h1m1 0h1m-195 1h2m27 0h1m4 0h4m5 0h2m3 0h13m1 0h1m2 0h3m4 0h1m2 0h1m1 0h5m1 0h51m2 0h35m20 0h3m-289 1h1m126 0h3m7 0h2m3 0h12m2 0h1m2 0h3m4 0h1m2 0h1m2 0h4m1 0h51m2 0h36m20 0h1m1 0h1m84 0h14m-261 1h2m8 0h2m3 0h12m2 0h1m2 0h3m4 0h1m2 0h1m1 0h5m1 0h52m1 0h36m13 0h11m-185 1h2m19 0h2m8 0h2m3 0h3m1 0h7m3 0h1m2 0h3m1 0h1m2 0h1m5 0h4m1 0h52m1 0h1m1 0h35m13 0h8m1 0h1m-228 1h1m42 0h2m19 0h2m8 0h2m3 0h3m3 0h5m3 0h1m2 0h3m1 0h1m2 0h1m5 0h4m1 0h52m4 0h34m13 0h11m17 0h1m-204 1h2m19 0h2m7 0h2m4 0h3m3 0h5m6 0h6m1 0h1m2 0h2m1 0h4m1 0h52m2 0h1m1 0h28m1 0h6m106 0h17m-286 1h2m22 0h1m3 0h1m1 0h2m4 0h3m3 0h2m1 0h2m6 0h6m1 0h1m2 0h2m1 0h4m1 0h4m1 0h48m1 0h1m1 0h29m1 0h5m108 0h16m-264 1h2m3 0h4m5 0h2m3 0h1m2 0h2m5 0h9m2 0h2m1 0h4m1 0h53m2 0h30m1 0h6m1 0h8m1 0h1m14 0h2m14 0h1m65 0h10m1 0h6m-265 1h2m3 0h4m5 0h2m6 0h1m7 0h6m1 0h1m2 0h2m1 0h4m1 0h53m2 0h30m2 0h5m2 0h7m17 0h1m13 0h1m66 0h11m5 0h2m-266 1h2m3 0h4m4 0h3m2 0h1m3 0h1m4 0h1m1 0h6m2 0h1m1 0h3m1 0h4m1 0h54m1 0h31m1 0h6m1 0h8m1 0h1m1 0h11m18 0h1m66 0h10m-314 1h1m51 0h4m3 0h1m1 0h2m4 0h3m2 0h2m7 0h8m4 0h3m1 0h4m1 0h4m1 0h2m1 0h46m1 0h27m1 0h10m2 0h7m2 0h13m12 0h1m2 0h2m-218 1h2m29 0h1m1 0h4m4 0h2m5 0h3m1 0h3m2 0h2m2 0h9m4 0h2m2 0h4m2 0h3m1 0h2m1 0h74m2 0h6m1 0h3m1 0h8m1 0h13m2 0h2m4 0h1m-233 1h1m22 0h2m31 0h5m3 0h2m2 0h2m1 0h2m2 0h3m2 0h3m2 0h8m1 0h1m2 0h2m2 0h3m2 0h7m1 0h75m1 0h6m30 0h1m4 0h1m7 0h1m2 0h1m-281 1h1m36 0h2m21 0h2m31 0h5m3 0h2m2 0h5m2 0h3m2 0h4m1 0h8m1 0h1m2 0h2m2 0h3m1 0h7m1 0h76m37 0h2m1 0h4m4 0h2m2 0h1m-243 1h2m21 0h2m33 0h3m3 0h2m2 0h5m2 0h3m1 0h17m1 0h2m2 0h3m1 0h6m2 0h70m1 0h5m9 0h3m1 0h8m1 0h15m1 0h1m2 0h1m1 0h2m4 0h3m2 0h1m60 0h2m-306 1h1m20 0h2m34 0h2m3 0h2m3 0h5m2 0h3m1 0h6m1 0h10m1 0h2m2 0h3m1 0h7m2 0h4m1 0h64m1 0h6m1 0h11m1 0h7m2 0h14m1 0h2m8 0h2m2 0h2m1 0h2m58 0h1m1 0h1m-286 1h2m34 0h2m3 0h2m3 0h5m2 0h10m1 0h13m2 0h3m2 0h3m1 0h3m1 0h4m1 0h64m2 0h5m1 0h11m1 0h8m1 0h15m1 0h1m9 0h4m4 0h1m58 0h2m-286 1h2m34 0h2m3 0h2m3 0h4m3 0h10m1 0h6m1 0h3m1 0h2m2 0h3m2 0h3m1 0h7m2 0h52m1 0h12m8 0h10m2 0h7m2 0h14m1 0h2m1 0h2m1 0h1m3 0h5m3 0h2m-227 1h2m34 0h2m3 0h2m3 0h4m2 0h11m1 0h6m1 0h1m3 0h2m2 0h3m2 0h3m1 0h7m2 0h52m2 0h11m8 0h11m1 0h8m1 0h19m1 0h3m4 0h2m2 0h1m4 0h1m2 0h1m1 0h1m-193 1h2m3 0h1m1 0h2m3 0h10m1 0h5m3 0h2m1 0h3m1 0h4m1 0h3m1 0h7m1 0h53m2 0h12m1 0h17m2 0h7m1 0h15m1 0h2m2 0h1m1 0h1m1 0h7m2 0h1m-336 1h2m154 0h1m1 0h1m5 0h8m2 0h5m3 0h2m1 0h4m1 0h1m1 0h1m1 0h3m1 0h6m2 0h54m1 0h12m1 0h18m1 0h7m2 0h19m1 0h5m1 0h3m1 0h2m1 0h2m-180 1h1m5 0h8m2 0h5m3 0h9m1 0h1m2 0h2m1 0h6m2 0h54m1 0h12m2 0h2m1 0h23m23 0h1m1 0h8m3 0h1m6 0h1m52 0h3m9 0h7m-419 1h1m164 0h9m3 0h4m4 0h1m1 0h4m1 0h1m1 0h1m2 0h2m1 0h7m1 0h68m1 0h2m2 0h22m22 0h5m1 0h3m1 0h1m3 0h2m3 0h2m-201 1h2m17 0h9m3 0h3m4 0h7m1 0h1m2 0h11m2 0h72m1 0h21m3 0h31m1 0h1m1 0h2m12 0h1m-209 1h2m17 0h9m10 0h2m1 0h6m2 0h12m1 0h72m1 0h22m2 0h34m2 0h1m6 0h1m53 0h2m1 0h4m-264 1h2m18 0h8m10 0h7m1 0h1m2 0h11m2 0h72m2 0h21m3 0h30m1 0h3m6 0h2m-261 1h1m57 0h2m18 0h7m5 0h3m3 0h2m1 0h3m2 0h1m2 0h2m1 0h83m1 0h22m2 0h31m7 0h1m10 0h1m-269 1h2m56 0h2m18 0h2m1 0h2m8 0h1m4 0h2m1 0h3m2 0h1m3 0h1m1 0h4m1 0h3m2 0h1m1 0h10m87 0h30m5 0h2m1 0h2m58 0h2m-320 1h2m56 0h2m18 0h2m2 0h1m7 0h2m4 0h1m2 0h3m2 0h1m3 0h1m1 0h3m2 0h6m1 0h10m87 0h30m5 0h2m1 0h1m1 0h4m-206 1h2m18 0h2m10 0h2m4 0h2m1 0h4m5 0h1m6 0h17m2 0h60m62 0h1m1 0h7m-208 1h3m17 0h2m10 0h2m1 0h2m1 0h1m1 0h6m4 0h1m6 0h17m2 0h60m58 0h3m1 0h1m1 0h7m-207 1h2m17 0h1m11 0h2m1 0h2m1 0h1m1 0h6m7 0h3m1 0h17m2 0h61m1 0h55m2 0h5m1 0h6m37 0h1m-245 1h2m17 0h1m11 0h2m1 0h2m3 0h2m1 0h3m7 0h21m2 0h61m59 0h2m1 0h2m1 0h7m-190 1h1m8 0h2m1 0h2m1 0h2m3 0h2m1 0h3m7 0h7m1 0h4m2 0h6m3 0h61m59 0h3m1 0h1m1 0h7m-190 1h1m8 0h2m1 0h1m2 0h2m3 0h2m1 0h3m7 0h7m1 0h4m2 0h6m3 0h62m1 0h10m2 0h48m1 0h2m1 0h6m9 0h1m49 0h9m-258 1h1m8 0h1m1 0h2m2 0h2m3 0h6m7 0h8m1 0h3m2 0h6m3 0h1m1 0h72m1 0h2m2 0h11m1 0h45m3 0h2m43 0h1m1 0h1m5 0h10m-248 1h2m2 0h2m3 0h6m7 0h12m2 0h5m4 0h1m1 0h72m1 0h3m1 0h11m50 0h1m12 0h1m31 0h3m-237 1h2m1 0h2m2 0h2m3 0h6m17 0h2m2 0h5m4 0h1m75 0h2m3 0h10m53 0h1m34 0h1m4 0h1m2 0h2m-240 1h3m2 0h2m2 0h2m4 0h5m5 0h1m11 0h2m2 0h5m4 0h2m74 0h3m3 0h9m1 0h46m3 0h2m28 0h1m17 0h1m-269 1h1m24 0h2m1 0h4m1 0h2m2 0h2m4 0h1m1 0h3m5 0h1m2 0h3m1 0h4m5 0h5m4 0h3m1 0h71m1 0h3m1 0h1m1 0h10m1 0h30m1 0h2m1 0h11m4 0h1m12 0h2m10 0h1m22 0h2m-271 1h2m3 0h1m19 0h2m1 0h4m1 0h2m1 0h3m4 0h4m6 0h1m3 0h2m2 0h3m2 0h1m2 0h5m4 0h3m1 0h71m2 0h2m4 0h9m33 0h14m1 0h3m3 0h1m43 0h5m-274 1h2m3 0h2m18 0h2m1 0h6m2 0h2m5 0h2m1 0h1m6 0h1m4 0h1m2 0h14m1 0h1m1 0h76m1 0h2m2 0h1m1 0h9m51 0h2m19 0h1m24 0h7m-276 1h2m4 0h1m19 0h2m1 0h6m2 0h2m5 0h2m1 0h1m6 0h1m4 0h1m2 0h3m1 0h5m1 0h4m1 0h1m1 0h80m2 0h11m1 0h16m34 0h1m38 0h1m6 0h4m1 0h2m-277 1h2m3 0h2m19 0h2m1 0h3m1 0h2m2 0h2m5 0h2m6 0h1m1 0h2m3 0h1m2 0h9m3 0h2m1 0h82m2 0h28m16 0h15m1 0h3m39 0h2m6 0h3m1 0h1m-277 1h2m3 0h2m19 0h2m1 0h3m1 0h2m2 0h2m1 0h1m3 0h1m7 0h3m4 0h1m2 0h9m3 0h2m2 0h1m1 0h80m31 0h14m20 0h1m19 0h1m19 0h1m5 0h1m1 0h4m-278 1h2m3 0h2m22 0h3m1 0h2m2 0h1m2 0h1m3 0h1m7 0h3m7 0h7m1 0h1m1 0h1m1 0h3m1 0h1m2 0h79m105 0h3m-269 1h2m3 0h2m22 0h3m1 0h2m5 0h1m3 0h2m6 0h3m3 0h1m3 0h9m1 0h1m2 0h2m3 0h80m2 0h20m5 0h4m16 0h18m22 0h1m3 0h2m14 0h2m-271 1h2m4 0h2m22 0h3m1 0h2m5 0h1m3 0h2m6 0h3m3 0h2m2 0h7m1 0h1m1 0h5m4 0h5m1 0h74m1 0h20m5 0h5m60 0h1m26 0h1m-282 1h2m4 0h2m22 0h3m2 0h1m5 0h1m3 0h2m6 0h3m3 0h3m2 0h8m1 0h5m4 0h1m1 0h100m2 0h7m38 0h2m34 0h2m12 0h3m1 0h50m-336 1h2m28 0h3m2 0h1m9 0h3m5 0h2m4 0h3m2 0h7m2 0h5m6 0h100m2 0h8m35 0h2m11 0h2m24 0h1m1 0h1m-272 1h2m28 0h3m2 0h2m8 0h3m5 0h2m3 0h4m2 0h7m2 0h5m6 0h3m1 0h97m2 0h7m36 0h1m18 0h1m5 0h2m13 0h4m-275 1h2m28 0h3m2 0h1m9 0h3m5 0h2m3 0h5m1 0h7m2 0h5m2 0h1m3 0h101m2 0h8m1 0h39m37 0h3m-276 1h2m28 0h2m13 0h3m5 0h2m3 0h5m1 0h7m2 0h5m2 0h2m1 0h85m1 0h13m1 0h3m2 0h7m2 0h13m1 0h25m37 0h2m-261 1h2m12 0h3m13 0h3m5 0h2m5 0h3m2 0h6m1 0h6m2 0h2m1 0h7m1 0h77m1 0h14m5 0h8m1 0h13m2 0h21m24 0h1m6 0h3m4 0h3m1 0h9m-270 1h2m13 0h1m14 0h3m5 0h2m5 0h3m1 0h7m1 0h6m2 0h2m1 0h7m1 0h77m2 0h13m5 0h23m13 0h11m11 0h1m5 0h1m12 0h4m3 0h13m-271 1h2m28 0h3m2 0h2m1 0h2m2 0h1m2 0h3m1 0h7m1 0h6m2 0h2m1 0h7m1 0h78m1 0h14m5 0h22m14 0h13m28 0h3m1 0h1m3 0h12m-272 1h2m22 0h1m5 0h1m1 0h1m2 0h2m1 0h2m2 0h1m3 0h1m2 0h7m1 0h7m1 0h10m1 0h93m5 0h23m1 0h6m7 0h10m1 0h2m1 0h2m-228 1h1m23 0h1m5 0h3m2 0h2m1 0h2m2 0h1m2 0h2m2 0h7m2 0h6m1 0h10m1 0h94m1 0h2m2 0h13m1 0h9m1 0h5m7 0h11m1 0h4m5 0h3m6 0h1m3 0h5m25 0h1m-253 1h1m5 0h1m4 0h2m1 0h2m6 0h1m2 0h7m2 0h6m1 0h109m1 0h14m10 0h6m1 0h5m1 0h13m15 0h3m3 0h4m3 0h3m1 0h2m-264 1h1m15 0h1m11 0h1m5 0h2m3 0h2m2 0h1m6 0h1m2 0h1m1 0h5m1 0h1m1 0h5m2 0h10m1 0h112m24 0h10m1 0h2m15 0h4m2 0h2m-254 1h2m14 0h2m10 0h1m5 0h1m5 0h1m1 0h2m10 0h8m1 0h5m2 0h3m1 0h6m1 0h113m1 0h8m14 0h11m1 0h4m13 0h2m3 0h3m-255 1h2m14 0h2m3 0h1m5 0h2m5 0h1m5 0h1m2 0h1m7 0h1m3 0h5m1 0h1m1 0h6m1 0h3m2 0h5m4 0h120m1 0h20m1 0h5m1 0h1m15 0h1m-234 1h1m4 0h2m20 0h1m7 0h2m2 0h7m1 0h6m2 0h2m2 0h1m1 0h3m4 0h141m1 0h8m33 0h1m1 0h13m-268 1h2m4 0h2m2 0h3m23 0h3m1 0h5m1 0h1m1 0h6m2 0h2m2 0h1m2 0h4m2 0h2m1 0h139m1 0h3m1 0h4m5 0h4m10 0h4m1 0h8m1 0h15m-269 1h2m4 0h1m3 0h1m1 0h1m3 0h1m19 0h3m1 0h7m1 0h6m2 0h2m5 0h5m1 0h3m1 0h9m1 0h129m1 0h8m5 0h3m2 0h2m12 0h1m1 0h13m1 0h8m-270 1h2m4 0h1m3 0h1m5 0h1m20 0h2m1 0h4m2 0h1m1 0h6m2 0h2m5 0h9m141 0h8m3 0h1m1 0h4m2 0h1m13 0h24m-271 1h2m4 0h1m9 0h1m7 0h1m4 0h1m7 0h2m1 0h2m1 0h1m4 0h4m1 0h1m2 0h2m5 0h9m142 0h3m1 0h4m5 0h7m1 0h5m7 0h7m-384 1h1m128 0h2m4 0h1m5 0h1m3 0h1m7 0h1m4 0h2m5 0h3m1 0h2m1 0h1m5 0h3m1 0h1m2 0h2m5 0h10m1 0h149m4 0h8m1 0h4m2 0h4m1 0h8m-256 1h2m4 0h1m9 0h1m1 0h1m3 0h1m1 0h1m4 0h2m5 0h3m1 0h2m2 0h8m1 0h1m2 0h3m1 0h1m2 0h3m1 0h3m1 0h2m1 0h9m1 0h139m5 0h4m1 0h3m1 0h2m1 0h1m1 0h5m-248 1h2m3 0h2m9 0h1m1 0h2m2 0h3m4 0h2m5 0h6m2 0h4m1 0h3m1 0h1m2 0h3m4 0h3m1 0h6m1 0h9m155 0h1m2 0h7m-249 1h2m3 0h2m9 0h1m1 0h2m2 0h1m6 0h2m5 0h3m1 0h2m2 0h4m1 0h1m1 0h1m1 0h2m1 0h3m4 0h3m2 0h16m157 0h8m-250 1h2m3 0h2m11 0h2m2 0h1m6 0h2m5 0h2m2 0h1m3 0h4m1 0h1m1 0h1m1 0h2m1 0h3m2 0h5m2 0h9m1 0h148m-227 1h2m3 0h2m6 0h2m3 0h2m2 0h1m6 0h2m5 0h2m1 0h2m3 0h4m1 0h10m9 0h16m1 0h9m2 0h130m25 0h25m-277 1h2m3 0h2m10 0h3m9 0h2m1 0h2m2 0h2m2 0h1m4 0h3m1 0h1m1 0h8m9 0h7m1 0h8m1 0h4m7 0h131m2 0h10m5 0h7m1 0h8m1 0h16m-327 1h1m48 0h1m5 0h1m10 0h2m11 0h1m1 0h2m2 0h2m2 0h1m4 0h2m2 0h4m1 0h5m3 0h9m1 0h3m1 0h8m1 0h4m123 0h16m2 0h9m4 0h18m1 0h15m-327 1h2m47 0h1m12 0h2m2 0h1m11 0h2m2 0h1m2 0h2m8 0h1m2 0h4m9 0h9m1 0h3m2 0h13m1 0h3m1 0h1m116 0h17m2 0h8m5 0h34m1 0h3m-332 1h2m64 0h1m12 0h1m1 0h2m2 0h2m8 0h1m2 0h4m9 0h2m1 0h10m2 0h13m2 0h2m1 0h1m1 0h102m1 0h12m47 0h20m-263 1h1m12 0h1m2 0h1m2 0h2m11 0h4m2 0h5m3 0h1m1 0h10m2 0h8m1 0h4m2 0h4m1 0h102m2 0h11m30 0h3m15 0h5m2 0h13m-265 1h2m15 0h1m3 0h1m11 0h4m2 0h5m3 0h1m1 0h3m1 0h5m3 0h1m1 0h6m2 0h2m1 0h1m1 0h4m1 0h103m1 0h12m33 0h14m7 0h14m-271 1h1m4 0h2m31 0h4m2 0h4m6 0h9m1 0h1m1 0h8m2 0h2m1 0h1m1 0h3m1 0h118m29 0h1m3 0h13m-250 1h2m3 0h2m31 0h2m1 0h1m3 0h3m2 0h2m2 0h4m1 0h6m1 0h6m1 0h1m2 0h2m1 0h1m2 0h2m1 0h1m1 0h116m1 0h1m17 0h10m1 0h2m2 0h9m5 0h6m-348 1h1m89 0h2m3 0h2m31 0h2m1 0h1m3 0h1m1 0h1m2 0h2m2 0h4m1 0h5m1 0h3m1 0h3m1 0h1m2 0h3m3 0h4m1 0h105m1 0h11m19 0h13m2 0h8m6 0h24m-277 1h2m3 0h2m31 0h2m7 0h1m1 0h3m2 0h4m1 0h5m1 0h3m1 0h3m1 0h2m1 0h3m1 0h1m1 0h4m1 0h105m2 0h10m5 0h2m1 0h23m18 0h20m1 0h8m-374 1h1m90 0h2m3 0h2m31 0h2m9 0h3m2 0h4m1 0h5m1 0h3m1 0h6m2 0h2m1 0h1m1 0h7m1 0h103m13 0h1m5 0h24m18 0h19m-376 1h2m105 0h2m31 0h2m9 0h3m3 0h3m1 0h5m2 0h2m1 0h6m2 0h4m2 0h4m1 0h106m14 0h2m-205 1h1m31 0h2m9 0h3m3 0h3m1 0h5m2 0h1m2 0h6m2 0h4m2 0h4m1 0h106m2 0h10m1 0h1m1 0h1m1 0h2m-317 1h1m125 0h2m14 0h1m10 0h2m2 0h5m1 0h4m6 0h5m2 0h5m1 0h112m1 0h11m1 0h3m1 0h1m-273 1h1m81 0h2m25 0h1m3 0h5m1 0h5m2 0h1m2 0h3m1 0h2m1 0h3m1 0h1m127 0h5m-213 1h1m20 0h2m29 0h5m1 0h2m1 0h2m2 0h2m2 0h2m1 0h2m1 0h3m-79 1h1m20 0h2m14 0h3m12 0h5m2 0h1m1 0h2m2 0h2m2 0h9m4 0h125m-208 1h2m19 0h2m8 0h1m20 0h5m2 0h1m1 0h2m2 0h2m2 0h9m2 0h1m128 0h27m1 0h4m12 0h22m3 0h10m-311 1h2m20 0h1m21 0h1m8 0h2m19 0h5m4 0h2m3 0h1m3 0h8m2 0h1m128 0h16m1 0h11m5 0h10m1 0h23m-277 1h1m21 0h1m8 0h2m6 0h2m8 0h1m2 0h5m4 0h2m3 0h1m3 0h9m4 0h2m1 0h4m1 0h117m2 0h15m2 0h10m-238 1h1m21 0h1m8 0h2m1 0h2m4 0h1m6 0h1m1 0h1m2 0h7m11 0h2m2 0h5m2 0h1m2 0h1m1 0h123m18 0h11m40 0h2m-259 1h2m7 0h2m7 0h1m6 0h4m2 0h8m9 0h2m3 0h4m2 0h1m2 0h4m1 0h121m-268 1h3m76 0h2m7 0h2m15 0h3m2 0h5m1 0h8m3 0h3m2 0h5m1 0h1m2 0h4m1 0h2m1 0h118m2 0h15m14 0h3m-223 1h2m7 0h2m15 0h3m2 0h5m1 0h6m1 0h1m3 0h4m2 0h4m1 0h1m2 0h7m1 0h119m1 0h16m-207 1h2m7 0h2m16 0h2m2 0h5m1 0h4m1 0h1m1 0h1m4 0h3m3 0h5m3 0h1m1 0h4m1 0h137m-291 1h1m82 0h2m7 0h2m16 0h2m2 0h5m1 0h4m1 0h1m1 0h2m3 0h3m2 0h6m2 0h7m1 0h138m1 0h10m7 0h10m-237 1h2m7 0h2m2 0h1m13 0h2m2 0h5m1 0h5m2 0h2m3 0h3m2 0h1m1 0h5m2 0h6m2 0h137m14 0h3m2 0h33m-261 1h2m8 0h1m16 0h2m2 0h5m2 0h4m2 0h2m3 0h4m1 0h7m2 0h7m1 0h138m-210 1h2m8 0h1m17 0h1m2 0h5m2 0h4m2 0h2m1 0h1m1 0h4m1 0h8m2 0h1m1 0h4m1 0h151m-223 1h2m26 0h1m2 0h5m3 0h3m2 0h2m1 0h2m1 0h3m2 0h1m1 0h6m1 0h1m1 0h4m-71 1h2m30 0h4m4 0h2m3 0h1m1 0h6m2 0h1m1 0h7m2 0h4m-71 1h2m23 0h1m6 0h5m3 0h2m5 0h7m1 0h1m2 0h6m2 0h5m1 0h258m-330 1h1m23 0h1m6 0h5m3 0h2m6 0h6m1 0h1m3 0h5m3 0h6m-73 1h1m30 0h5m3 0h3m4 0h3m2 0h2m5 0h5m3 0h1m1 0h5m-43 1h3m1 0h1m4 0h2m4 0h3m2 0h2m6 0h4m3 0h1m1 0h3m1 0h1m1 0h258m-302 1h3m1 0h1m5 0h1m4 0h4m10 0h1m1 0h1m3 0h1m2 0h1m2 0h1m1 0h259m-303 1h3m7 0h1m4 0h4m10 0h1m1 0h1m3 0h2m1 0h1m4 0h260m-457 1h2m1 0h1m5 0h2m14 0h1m8 0h1m5 0h5m9 0h1m4 0h3m2 0h2m3 0h1m9 0h1m10 0h1m3 0h2m4 0h3m7 0h1m6 0h3m2 0h2m3 0h4m8 0h1m14 0h1m5 0h3m2 0h1m1 0h2m3 0h1m1 0h5m3 0h1m3 0h3m4 0h2m2 0h2m7 0h11m1 0h2m1 0h2m6 0h1m2 0h1m2 0h1m2 0h1m5 0h4m1 0h1m3 0h1m4 0h1m3 0h1m2 0h8m1 0h4m2 0h5m1 0h1m2 0h1m1 0h3m1 0h1m1 0h3m1 0h3m2 0h5m3 0h1m1 0h2m1 0h3m5 0h4m2 0h2m1 0h1m2 0h1m1 0h7m1 0h2m1 0h3m3 0h3m3 0h2m1 0h4m2 0h3m1 0h1m5 0h4m2 0h1m1 0h1m1 0h1m2 0h7m1 0h3m1 0h3m2 0h9m3 0h2m1 0h1m2 0h2m1 0h3m1 0h1m1 0h2m1 0h2m1 0h1m2 0h8"/><path fill="none" stroke="#50b0e8" stroke-width="2" d="M480 73h9m-12 2h15m-17 2h6m8 0h5m-108 2h1m29 0h1m50 0h1m6 0h4m14 0h4m-2 2h4m-3 2h3m-2 2h4m-43 2h1m39 0h3m-2 2h3m-31 2h1m28 0h2m-2 2h3m-2 2h2m-2 2h3m-413 1h1m408 29h2m-3 2h3m-3 2h2m-3 2h3m-4 2h4m-6 2h3m1 0h2m-7 2h7m-176 18h29m143 4h4m-4 3h4m-356 8h1m351 2h4m-5 2h5m-6 6h6m-234 1h3m232 34h1m-340 10h1m328 2h9m-9 2h1m1 0h7m-10 5h10m-160 2h20m9 3h1m1 9h1m-6 4h3m-258 8h1m380 0h2m-9 2h9m-126 9h1m3 0h1m-119 2h8m88 0h5m131 0h2m-122 1h1m3 0h1m110 0h1m-119 4h1m-30 4h14m128 3h1m-7 4h1m-136 1h8m32 3h1m98 1h1m-101 1h1m-99 1h35m61 2h2m-5 1h1m125 0h6m-128 2h3m-1 3h1m4 0h1m83 2h1m-103 3h12m-13 2h12m7 2h1m-10 1h1m3 0h1m-6 2h1m3 0h1m84 0h1m-121 1h29m10 0h1m-6 1h1m-6 1h2m-33 1h29m1 1h1m-44 2h5m39 0h1m-4 1h1m14 0h1m-44 1h21m1 0h4m8 1h4m9 2h1m72 0h1m-101 1h10m1 1h5m10 0h1m76 0h1m-105 1h10m86 1h1m-98 1h8m1 0h1m17 0h1m-29 2h8m1 0h1m1 0h11m2 0h1m2 0h1m74 0h2m-298 2h1m203 0h11m5 0h1m75 0h1m-75 1h1m-178 1h1m170 0h1m2 0h1m-2 2h1m-33 1h3m1 0h8m1 0h14m78 0h1m-114 1h6m111 1h2m-81 1h4m74 1h2m-127 1h5m46 0h1m69 0h1m6 0h12m-79 1h1m59 1h2m5 0h11m-74 1h1m-41 1h18m19 0h1m57 1h7m-66 1h1m2 0h1m-170 1h3m160 1h1m61 0h1m19 0h31m-117 1h2m7 0h3m-130 1h60m1 0h23m113 0h39m-119 1h2m64 0h7m-215 1h3m82 0h54m20 0h1m62 0h38m-52 1h11m-136 2h10m1 0h44m20 0h1m51 0h9m-111 4h33m1 0h9m58 0h11m-227 1h3m1 0h4m18 0h71m16 3h30m1 1h15m1 0h1m-32 1h13m50 0h1m-18 1h1m18 0h1m-97 1h23m1 0h5m16 0h17m-32 1h13m33 0h2m32 0h6m-96 1h2m44 0h1m26 0h1m-65 1h33m14 0h1m22 0h1m-5 1h1m-68 1h33m4 0h1m9 1h1m5 1h2m1 0h1m2 0h1m19 0h7m-40 1h2m-63 1h2m49 0h1m17 0h1m-43 1h5m1 0h5m16 0h1m10 0h1m-67 1h2m59 0h2m5 0h2m7 0h1m-44 1h4m43 0h5m1 1h1m-71 1h8m28 0h1m6 0h2m-36 1h11m39 0h1m1 0h1m1 0h6m-16 1h1m1 1h5m1 0h7m-19 1h4m-4 2h2m1 0h1m-166 1h139m-168 1h2m199 2h1m1 0h6m-173 1h140m3 0h9m13 1h24m-47 1h10m3 0h8m-189 1h5m23 1h4m1 1h114m-157 1h5m181 0h1m-11 1h9m5 0h13m-28 2h9m3 0h1m16 0h3m1 0h1m1 1h17m-28 1h3m-45 2h1m40 0h4m-59 1h11m5 0h1m1 1h25m-299 1h1m272 1h25m2 0h9m-213 1h2m43 0h124m1 1h32m-203 2h2m42 0h125m30 1h3m-182 2h3m146 0h16m13 0h4m-16 1h10m-11 2h11m13 0h3m25 2h63m-301 1h1m184 0h11m1 1h4m1 0h34m-192 2h192m-220 2h1m27 1h257m-234 6h1m17 0h2m8 0h2m6 0h2m12 0h1m9 0h2m1 0h2m10 0h2m1 0h1m6 0h1m1 0h2m4 0h3m14 0h1m41 0h2m21 0h1m2 0h1m13 0h3m-295 4h2m48 2h1m79 2h2"/><path fill="#70f8e0" d="M497 90h2v4h-2zm2 8h2v4h-2zm1 4h1v4h-1zm0 4h2v6h-2zm0 6h1v4h-1zm-1 4h2v6h-2zm-1 6h2v4h-2zm-9 18h11v3h-11zm-2 4h13v8h-13zm1 8h12v4h-12zm0 5h12v3h-12zm-1 10h9v3h-9zm-1 20h8v3h-8zm-1 4h9v4h-9zm9 6h1v4h-1zm-11 5h9v3h-9zm12 5h1v4h-1zm0 4h2v5h-2zm1 5h1v5h-1zm-20 2h16v3h-16zm21 4h1v3h-1zm-26 8h1v3h-1zm3 0h17v3h-17zm-2 9h19v6h-19zm15 6h4v9h-4zm-18 2h17v3h-17zm24 3h1v11h-1zm-50 1h1v3h-1zm48 3h1v9h-1zm-30 5h1v3h-1zm27 1h1v3h-1zm6 1h1v11h-1zm-9 8h1v7h-1zm-3 1h1v7h-1zm13 2h1v6h-1zm-7 2h1v8h-1zm3 0h2v8h-2zm0 9h1v3h-1zm2 0h1v3h-1zm-15 5h1v21h-1zm14 0h1v7h-1zm-17 5h1v4h-1zm18 3h1v3h-1zm1 4h1v5h-1zm-23 3h2v6h-2zm-6 8h2v5h-2zm-6 15h3v3h-3zm17 6h1v8h-1zm-18 1h2v3h-2zm11 5h1v12h-1zm4 1h1v6h-1zm-16 3h1v5h-1zm-65 4h58v3h-58zm80 0h1v10h-1zm-16 2h1v8h-1zm-4 2h1v3h-1zm16 1h1v7h-1zm-8 2h2v3h-2zm-5 3h1v5h-1zm4 1h1v5h-1zm2 0h1v5h-1zm-15 2h2v4h-2zm-60 2h1v3h-1zm73 1h2v3h-2zm1 3h1v4h-1zm-15 2h2v3h-2zm3 0h1v7h-1zm-19 3h8v3h-8zm-37 1h1v3h-1zm48 4h1v3h-1zm7 0h1v4h-1zm-54 2h1v3h-1zm5 0h9v3h-9zm10 1h6v3h-6zm29 0h1v5h-1zm2 0h1v4h-1zm6 0h1v6h-1zm-48 2h9v3h-9zm51 0h1v5h-1zm-41 1h5v3h-5zm17 0h1v3h-1zm3 1h1v3h-1zm17 2h2v5h-2zm-68 1h1v3h-1zm37 1h1v3h-1zm8 0h1v3h-1zm2 0h1v3h-1zm13 1h1v3h-1zm-7 1h1v4h-1zm18 0h1v8h-1zm-3 1h1v8h-1zm-24 1h1v4h-1zm-15 1h2v4h-2zm-18 2h1v3h-1zm21 0h1v3h-1zm11 1h1v4h-1zm-6 1h1v3h-1zm-6 2h1v3h-1zm20 0h1v4h-1zm19 0h1v10h-1zm-28 1h1v4h-1zm25 1h1v6h-1zm-37 2h1v3h-1zm-13 3h2v3h-2zm14 1h1v4h-1zm-4 1h1v3h-1zm39 0h1v4h-1zm-21 1h1v3h-1zm24 0h1v6h-1zm-18 2h1v3h-1zm-7 2h1v4h-1zm-44 2h1v3h-1zm39 0h1v4h-1zm35 0h1v9h-1zm-72 1h1v3h-1zm62 0h1v7h-1zm-21 1h1v3h-1zm-5 3h1v4h-1zm-11 1h1v3h-1zm36 2h1v4h-1zm-37 1h1v4h-1zm11 0h1v5h-1zm-4 1h1v3h-1zm40 0h1v6h-1zm-13 1h1v6h-1zm-35 2h1v4h-1zm-17 1h1v3h-1zm28 0h1v3h-1zm23 4h1v4h-1z"/><path fill="none" stroke="#70f8e0" stroke-width="1" d="M117 83.5h3m336 0h1m-329 1h2m327 0h1m7 0h1m-9 1h2m6 0h2m-12 1h2m1 0h1m7 0h1m-11 1h1m1 0h2m1 0h1m1 0h1m1 0h3m-17 1h1m2 0h9m1 0h3m-136 1h4m58 0h3m56 0h1m2 0h1m1 0h2m1 0h9m-276 1h2m139 0h8m53 0h1m5 0h3m12 0h1m31 0h1m1 0h4m2 0h14m-275 1h3m143 0h3m57 0h1m1 0h1m6 0h5m3 0h4m1 0h2m5 0h1m4 0h1m13 0h1m1 0h19m-334 1h3m266 0h3m3 0h7m1 0h9m9 0h1m10 0h1m1 0h1m1 0h20m-338 1h3m270 0h5m1 0h18m3 0h5m1 0h2m2 0h1m1 0h26m-69 1h42m2 0h25m-182 1h6m110 0h66m-323 1h1m146 0h5m94 0h3m6 0h2m3 0h40m1 0h21m-383 1h2m58 0h2m249 0h5m1 0h41m5 0h20m-172 1h3m100 0h45m6 0h18m-70 1h3m1 0h28m1 0h5m1 0h2m1 0h1m1 0h1m1 0h1m3 0h1m6 0h11m1 0h1m-82 1h3m10 0h31m5 0h1m1 0h1m18 0h10m-78 1h5m1 0h1m1 0h1m5 0h29m7 0h1m20 0h7m-261 1h2m176 0h7m2 0h3m3 0h29m2 0h1m1 0h3m26 0h5m-78 1h5m9 0h24m37 0h4m-72 1h32m39 0h1m-80 1h2m2 0h1m4 0h1m2 0h31m-40 1h40m-349 1h3m236 0h7m66 0h33m-342 1h3m239 0h6m63 0h29m-337 1h1m210 0h8m85 0h1m4 0h29m1 0h1m1 0h1m-330 1h2m29 0h2m258 0h35m4 0h1m-121 1h5m70 0h36m-367 1h2m253 0h10m71 0h33m-34 1h36m-40 1h42m-37 1h34m-31 1h29m-25 1h30m-33 1h33m-316 1h3m274 0h1m2 0h33m-311 1h2m273 0h39m-346 1h2m216 0h13m71 0h40m-134 1h11m82 0h2m4 0h2m2 0h28m-215 1h1m186 0h29m-156 1h8m110 0h38m-253 1h3m211 0h41m-253 1h3m206 0h41m-248 1h2m56 0h3m147 0h41m-189 1h8m137 0h45m-280 1h3m139 0h4m87 0h46m-258 1h2m20 0h4m102 0h13m17 0h10m45 0h44m-262 1h6m149 0h9m51 0h1m2 0h42m-47 1h3m3 0h41m-231 1h1m10 0h5m173 0h1m1 0h42m-218 1h2m171 0h43m-46 1h43m-46 1h2m4 0h39m-41 1h45m-47 1h45m-50 1h4m3 0h41m-52 1h1m9 0h41m2 0h1m-46 1h44m-47 1h45m3 0h1m-51 1h51m71 0h12m-137 1h1m1 0h1m3 0h49m-101 1h3m46 0h50m2 0h2m1 0h1m-60 1h52m1 0h5m-286 1h1m151 0h5m69 0h52m1 0h6m-286 1h2m148 0h3m72 0h60m-105 1h1m42 0h61m-110 1h7m39 0h62m-360 1h2m192 0h1m52 0h7m50 0h56m2 0h2m-363 1h13m166 0h1m12 0h2m32 0h4m12 0h5m56 0h54m1 0h3m-349 1h8m158 0h2m41 0h6m11 0h5m57 0h3m3 0h54m-154 1h8m2 0h6m11 0h6m11 0h6m47 0h55m-159 1h8m93 0h57m1 0h1m-164 1h5m97 0h58m1 0h2m1 0h1m3 0h1m67 0h13m-147 1h61m2 0h1m1 0h1m-69 1h63m1 0h3m-69 1h68m1 0h1m-32 1h2m2 0h1m1 0h25m-157 1h3m127 0h26m1 0h1m-249 1h2m84 0h6m126 0h31m70 0h9m-245 1h3m130 0h30m-336 1h1m302 0h32m-369 1h5m29 0h4m297 0h3m2 0h29m74 0h7m1 0h1m-448 1h7m26 0h1m36 0h3m50 0h8m197 0h4m2 0h2m1 0h6m1 0h18m1 0h1m1 0h1m73 0h8m-325 1h2m45 0h7m150 0h3m3 0h2m1 0h3m1 0h29m-45 1h4m7 0h1m3 0h2m1 0h25m1 0h1m-108 1h2m60 0h2m12 0h2m1 0h26m1 0h1m-112 1h7m73 0h1m1 0h29m1 0h1m71 0h7m-191 1h3m3 0h8m64 0h1m2 0h29m1 0h1m1 0h2m68 0h10m-355 1h2m11 0h7m156 0h8m54 0h1m2 0h35m69 0h8m-355 1h3m182 0h1m56 0h35m-307 1h3m27 0h1m240 0h35m-309 1h3m256 0h2m12 0h35m73 0h7m-388 1h1m184 0h4m8 0h2m59 0h2m11 0h3m1 0h33m9 0h1m62 0h8m-206 1h4m9 0h3m72 0h2m1 0h35m8 0h2m-290 1h2m148 0h4m87 0h1m1 0h36m8 0h2m-293 1h5m146 0h4m88 0h1m6 0h32m2 0h2m4 0h2m63 0h10m-217 1h4m46 0h3m41 0h1m2 0h1m3 0h2m1 0h33m1 0h1m2 0h2m64 0h9m-219 1h4m47 0h3m44 0h1m4 0h1m2 0h36m1 0h2m-149 1h4m49 0h3m53 0h36m1 0h3m-152 1h4m49 0h4m54 0h36m1 0h3m66 0h9m-228 1h3m50 0h3m50 0h3m3 0h41m65 0h9m-432 1h1m255 0h3m51 0h2m4 0h3m1 0h37m67 0h9m-437 1h5m252 0h4m51 0h3m4 0h3m1 0h37m69 0h7m-437 1h2m254 0h3m53 0h2m5 0h3m1 0h37m-106 1h3m54 0h2m4 0h2m3 0h38m2 0h1m-112 1h3m62 0h2m3 0h1m1 0h37m1 0h1m-242 1h5m53 0h1m71 0h2m62 0h2m3 0h1m1 0h37m2 0h1m69 0h8m-265 1h6m134 0h2m5 0h38m1 0h1m-192 1h6m131 0h1m1 0h2m10 0h38m1 0h4m6 0h1m-206 1h6m135 0h4m10 0h43m6 0h1m-210 1h6m138 0h4m4 0h1m6 0h43m1 0h1m4 0h1m-211 1h3m142 0h4m4 0h2m4 0h46m1 0h1m2 0h1m61 0h10m-137 1h3m4 0h2m6 0h45m4 0h2m2 0h1m-71 1h3m5 0h2m6 0h47m2 0h2m2 0h1m-71 1h3m13 0h6m1 0h44m1 0h1m-70 1h2m14 0h5m2 0h45m2 0h1m-55 1h1m1 0h2m1 0h46m2 0h1m1 0h1m-61 1h2m2 0h1m1 0h2m1 0h46m1 0h3m3 0h1m-64 1h2m4 0h2m1 0h50m1 0h2m-75 1h2m9 0h2m8 0h2m1 0h50m1 0h1m-77 1h2m9 0h2m5 0h1m2 0h1m2 0h44m1 0h2m2 0h3m-77 1h2m8 0h2m6 0h1m2 0h56m3 0h1m53 0h11m-218 1h3m5 0h1m5 0h1m67 0h2m1 0h1m9 0h54m-152 1h4m4 0h5m2 0h3m66 0h5m8 0h55m3 0h1m-157 1h2m5 0h3m2 0h4m70 0h2m9 0h55m2 0h2m-150 1h2m4 0h2m71 0h2m9 0h56m1 0h3m-72 1h2m9 0h57m1 0h2m1 0h1m-88 1h1m13 0h2m11 0h59m-88 1h2m26 0h59m57 0h10m-155 1h2m25 0h57m1 0h3m-323 1h1m181 0h3m77 0h1m1 0h1m1 0h56m1 0h1m54 0h1m-380 1h2m179 0h3m82 0h53m1 0h5m1 0h1m48 0h1m3 0h13m-212 1h2m78 0h1m4 0h53m1 0h6m54 0h12m-213 1h2m64 0h2m13 0h1m3 0h5m1 0h57m51 0h1m1 0h13m-216 1h3m12 0h2m50 0h2m5 0h2m10 0h5m1 0h57m3 0h1m-155 1h3m12 0h3m49 0h3m5 0h2m11 0h62m-151 1h2m13 0h2m5 0h2m42 0h3m6 0h2m11 0h3m1 0h58m4 0h1m-212 1h2m75 0h3m42 0h2m20 0h3m112 0h17m3 0h2m-205 1h2m42 0h2m21 0h2m65 0h1m48 0h16m-292 1h1m90 0h2m42 0h3m21 0h1m4 0h59m51 0h1m1 0h15m-292 1h2m88 0h3m42 0h2m22 0h1m2 0h64m1 0h2m-140 1h2m42 0h2m23 0h1m2 0h62m1 0h2m3 0h1m1 0h1m60 0h1m-206 1h2m43 0h2m23 0h1m2 0h65m1 0h4m46 0h17m-331 1h1m122 0h3m72 0h62m1 0h2m1 0h5m46 0h16m-333 1h3m112 0h2m7 0h2m15 0h1m57 0h1m1 0h3m1 0h59m1 0h3m2 0h1m1 0h1m-273 1h1m112 0h3m23 0h2m57 0h1m1 0h3m1 0h2m1 0h54m1 0h8m1 0h1m1 0h1m-264 1h7m94 0h3m24 0h2m42 0h2m13 0h1m1 0h3m1 0h2m1 0h62m1 0h1m-261 1h2m98 0h3m24 0h3m42 0h2m15 0h2m2 0h2m2 0h63m-162 1h3m25 0h2m43 0h2m15 0h2m2 0h2m2 0h3m1 0h2m1 0h55m1 0h1m3 0h1m-168 1h3m25 0h3m43 0h2m15 0h1m3 0h2m2 0h3m2 0h1m1 0h57m1 0h2m-183 1h1m14 0h3m26 0h2m44 0h2m19 0h1m4 0h2m2 0h1m1 0h62m5 0h1m-327 1h1m131 0h6m13 0h2m27 0h2m51 0h1m13 0h1m4 0h2m2 0h1m1 0h62m-321 1h2m126 0h6m90 0h2m7 0h1m18 0h2m2 0h1m1 0h64m-323 1h2m127 0h1m94 0h2m5 0h1m20 0h2m2 0h1m1 0h63m-103 1h2m2 0h3m5 0h2m20 0h1m2 0h1m1 0h60m1 0h5m2 0h1m-180 1h2m69 0h2m2 0h2m6 0h2m2 0h1m16 0h2m4 0h67m-179 1h3m69 0h2m2 0h2m5 0h2m3 0h1m17 0h1m5 0h5m66 0h1m34 0h1m-220 1h2m70 0h2m2 0h2m5 0h2m3 0h1m17 0h1m5 0h6m100 0h2m-149 1h2m2 0h2m5 0h2m28 0h5m1 0h61m1 0h1m1 0h2m35 0h1m-172 1h1m21 0h2m9 0h2m28 0h2m1 0h2m1 0h61m1 0h2m2 0h1m34 0h2m-174 1h3m31 0h2m29 0h4m1 0h62m1 0h5m7 0h1m-147 1h2m32 0h2m22 0h1m6 0h2m1 0h1m67 0h2m38 0h14m-192 1h3m32 0h2m16 0h1m12 0h1m1 0h2m69 0h1m11 0h1m24 0h16m-193 1h3m49 0h3m11 0h4m2 0h69m6 0h2m-296 1h1m119 0h1m25 0h3m49 0h2m12 0h1m1 0h2m2 0h66m1 0h2m1 0h1m3 0h1m2 0h1m-298 1h3m117 0h3m23 0h3m34 0h1m15 0h2m7 0h2m5 0h2m3 0h7m1 0h59m1 0h4m26 0h1m-339 1h2m18 0h1m118 0h2m24 0h3m33 0h2m15 0h2m7 0h2m6 0h1m3 0h1m1 0h4m1 0h1m1 0h57m1 0h3m1 0h1m4 0h2m2 0h2m16 0h1m6 0h18m-221 1h2m21 0h3m33 0h2m15 0h2m7 0h2m10 0h1m1 0h4m1 0h1m1 0h58m1 0h2m1 0h1m6 0h2m-178 1h2m20 0h4m33 0h2m5 0h1m9 0h2m7 0h2m10 0h1m1 0h4m3 0h65m2 0h2m1 0h1m18 0h1m-402 1h1m57 0h1m145 0h3m20 0h3m34 0h2m5 0h1m9 0h2m7 0h2m10 0h1m75 0h1m1 0h2m25 0h21m-430 1h3m56 0h2m144 0h2m21 0h3m34 0h2m5 0h1m19 0h1m87 0h5m1 0h2m20 0h22m1 0h2m-374 1h1m143 0h3m21 0h3m34 0h3m4 0h1m19 0h1m14 0h3m3 0h3m1 0h63m1 0h2m1 0h2m5 0h3m16 0h23m-230 1h2m22 0h2m37 0h2m17 0h1m20 0h2m4 0h3m1 0h65m1 0h3m21 0h1m2 0h23m-231 1h2m23 0h2m37 0h2m17 0h1m21 0h1m4 0h67m1 0h6m1 0h2m3 0h1m17 0h21m1 0h1m1 0h1m-234 1h2m23 0h2m37 0h2m17 0h1m27 0h3m1 0h64m1 0h5m46 0h2m-382 1h2m145 0h2m63 0h2m17 0h1m1 0h1m19 0h1m5 0h3m1 0h71m3 0h1m1 0h3m38 0h1m-235 1h2m63 0h1m20 0h1m19 0h1m6 0h2m1 0h71m1 0h2m1 0h5m-378 1h1m39 0h1m205 0h1m20 0h1m19 0h1m7 0h1m1 0h72m1 0h3m-374 1h1m24 0h3m12 0h2m169 0h2m74 0h1m7 0h1m2 0h76m13 0h1m1 0h1m1 0h27m-395 1h3m12 0h3m169 0h2m82 0h1m2 0h3m1 0h71m1 0h1m1 0h4m2 0h1m5 0h29m-380 1h3m135 0h1m11 0h1m22 0h2m86 0h72m1 0h9m1 0h2m3 0h1m2 0h1m1 0h26m-244 1h3m9 0h2m21 0h2m71 0h1m15 0h81m1 0h1m1 0h1m1 0h1m1 0h2m4 0h3m1 0h23m-246 1h2m10 0h2m18 0h1m2 0h2m78 0h2m7 0h79m1 0h2m1 0h3m1 0h2m1 0h1m4 0h2m-223 1h3m9 0h2m19 0h4m11 0h2m66 0h2m7 0h7m1 0h71m1 0h4m2 0h1m2 0h1m2 0h3m2 0h1m-336 1h1m111 0h2m9 0h3m19 0h4m11 0h2m66 0h2m9 0h1m1 0h3m1 0h80m1 0h1m1 0h1m1 0h28m1 0h2m-363 1h3m109 0h2m10 0h2m19 0h5m10 0h3m77 0h1m1 0h3m1 0h78m1 0h2m1 0h29m1 0h2m-362 1h3m110 0h2m9 0h3m19 0h4m11 0h2m78 0h3m1 0h1m1 0h6m1 0h74m1 0h1m-332 1h3m122 0h2m20 0h4m11 0h2m68 0h2m8 0h2m2 0h1m2 0h83m-401 1h1m192 0h2m21 0h2m11 0h2m2 0h2m65 0h2m11 0h1m86 0h30m-431 1h2m213 0h3m11 0h2m2 0h2m65 0h2m5 0h2m4 0h1m87 0h7m1 0h20m13 0h1m-229 1h2m12 0h2m2 0h2m34 0h1m30 0h2m5 0h2m9 0h1m1 0h3m1 0h77m1 0h1m1 0h26m-216 1h2m16 0h2m34 0h2m29 0h3m5 0h1m9 0h1m113 0h2m-221 1h2m17 0h2m34 0h2m12 0h2m15 0h3m5 0h2m8 0h2m114 0h1m-222 1h2m53 0h2m12 0h2m16 0h2m5 0h2m9 0h1m1 0h3m1 0h2m1 0h75m-191 1h2m54 0h2m12 0h2m16 0h2m5 0h2m9 0h1m1 0h3m1 0h79m-192 1h2m23 0h1m2 0h2m26 0h2m12 0h2m23 0h2m15 0h10m1 0h99m-351 1h1m126 0h3m23 0h2m1 0h1m28 0h1m13 0h1m3 0h2m19 0h1m18 0h1m1 0h106m-354 1h4m78 0h2m45 0h2m23 0h5m28 0h1m12 0h2m4 0h1m19 0h1m7 0h1m2 0h1m1 0h3m3 0h8m1 0h98m1 0h1m-355 1h1m81 0h2m44 0h2m24 0h2m1 0h2m42 0h1m3 0h2m19 0h2m6 0h2m1 0h1m2 0h2m4 0h7m1 0h70m44 0h3m-291 1h2m45 0h2m24 0h2m1 0h2m42 0h1m3 0h2m19 0h3m5 0h2m4 0h1m1 0h1m3 0h1m1 0h77m-377 1h3m176 0h2m24 0h2m1 0h2m47 0h1m20 0h2m6 0h1m4 0h1m1 0h1m3 0h8m1 0h103m-417 1h2m210 0h2m50 0h1m5 0h1m14 0h3m5 0h1m11 0h112m-418 1h1m195 0h1m89 0h2m8 0h1m8 0h110m15 0h3m-239 1h2m27 0h1m52 0h1m9 0h1m11 0h1m1 0h1m3 0h6m1 0h1m1 0h102m16 0h2m-240 1h2m26 0h2m52 0h2m8 0h1m13 0h1m4 0h3m2 0h76m1 0h29m-316 1h2m91 0h2m26 0h2m52 0h2m8 0h1m9 0h1m3 0h1m11 0h1m1 0h103m-317 1h2m91 0h2m26 0h2m52 0h2m8 0h2m24 0h1m1 0h98m-252 1h2m58 0h3m36 0h2m15 0h1m8 0h2m13 0h1m4 0h3m2 0h1m1 0h2m1 0h4m1 0h92m-317 1h1m62 0h2m59 0h2m37 0h2m25 0h1m13 0h1m4 0h3m4 0h1m1 0h105m-325 1h3m61 0h2m50 0h2m7 0h2m38 0h1m25 0h1m19 0h1m1 0h1m5 0h104m-325 1h3m61 0h2m51 0h2m1 0h1m5 0h2m36 0h3m17 0h1m7 0h3m24 0h2m1 0h4m1 0h97m-324 1h1m63 0h1m40 0h1m10 0h2m1 0h2m3 0h2m38 0h2m11 0h1m5 0h1m7 0h4m6 0h2m15 0h1m1 0h6m1 0h98m-221 1h2m9 0h2m1 0h2m3 0h2m38 0h2m11 0h2m4 0h2m6 0h4m7 0h1m9 0h1m6 0h7m1 0h3m1 0h95m-243 1h2m19 0h2m12 0h2m3 0h2m2 0h1m35 0h2m11 0h2m5 0h1m6 0h4m7 0h1m9 0h2m5 0h8m-144 1h2m33 0h2m3 0h2m2 0h2m35 0h1m12 0h1m5 0h1m7 0h1m1 0h1m18 0h1m7 0h4m1 0h1m-144 1h2m33 0h1m3 0h3m2 0h1m21 0h2m13 0h1m12 0h1m13 0h4m17 0h1m8 0h5m2 0h3m1 0h96m19 0h2m-233 1h2m3 0h2m2 0h2m21 0h2m26 0h2m12 0h4m17 0h2m7 0h3m1 0h2m2 0h1m1 0h7m1 0h89m-307 1h2m93 0h2m3 0h2m2 0h2m21 0h2m26 0h2m12 0h4m13 0h1m4 0h1m7 0h4m1 0h1m2 0h2m2 0h96m-308 1h2m36 0h2m55 0h2m3 0h2m2 0h2m21 0h2m27 0h1m12 0h4m13 0h1m13 0h2m9 0h1m1 0h4m1 0h86m1 0h3m-271 1h2m55 0h2m2 0h2m3 0h2m21 0h2m27 0h1m13 0h1m1 0h1m13 0h2m12 0h3m2 0h1m6 0h93m-211 1h2m2 0h2m3 0h2m21 0h2m41 0h3m14 0h1m13 0h2m2 0h1m6 0h1m1 0h4m1 0h86m-377 1h8m149 0h1m8 0h2m2 0h2m2 0h2m22 0h2m41 0h2m15 0h1m21 0h1m-274 1h8m141 0h2m7 0h2m1 0h3m2 0h2m22 0h2m41 0h2m-238 1h2m149 0h2m10 0h2m3 0h2m22 0h2m42 0h1m43 0h3m-286 1h4m148 0h2m11 0h2m3 0h2m22 0h2m42 0h1m5 0h1m32 0h1m3 0h6m-288 1h1m151 0h2m11 0h2m3 0h2m22 0h2m25 0h1m16 0h2m4 0h2m24 0h2m11 0h6m1 0h88m-227 1h2m11 0h1m4 0h2m22 0h2m42 0h2m5 0h1m38 0h4m1 0h90m-319 1h1m90 0h2m10 0h2m8 0h1m19 0h2m42 0h2m1 0h1m13 0h1m29 0h8m1 0h81m-315 1h2m89 0h2m10 0h2m7 0h2m15 0h1m3 0h2m43 0h1m1 0h2m12 0h2m14 0h2m12 0h2m1 0h1m1 0h86m-315 1h1m101 0h2m7 0h2m14 0h2m3 0h2m43 0h1m2 0h1m13 0h1m14 0h1m1 0h1m12 0h8m1 0h82m-214 1h2m7 0h2m14 0h2m3 0h2m43 0h2m1 0h2m12 0h2m29 0h1m1 0h1m2 0h2m-122 1h2m14 0h2m4 0h1m43 0h2m1 0h2m8 0h2m2 0h2m33 0h4m-154 1h3m28 0h2m14 0h2m3 0h2m43 0h2m1 0h2m9 0h1m1 0h1m1 0h1m27 0h2m5 0h87m-323 1h1m84 0h2m29 0h2m14 0h2m4 0h1m37 0h2m5 0h1m2 0h1m9 0h4m29 0h1m5 0h2m1 0h1m1 0h79m-321 1h2m84 0h2m29 0h2m14 0h2m3 0h2m38 0h1m5 0h1m2 0h1m9 0h2m1 0h1m29 0h2m5 0h3m1 0h80m-322 1h2m84 0h2m29 0h2m14 0h2m4 0h1m38 0h2m4 0h2m12 0h1m1 0h2m29 0h1m5 0h2m1 0h1m1 0h84m-328 1h2m84 0h3m29 0h2m14 0h2m3 0h2m38 0h2m4 0h2m12 0h1m1 0h2m29 0h1m6 0h3m1 0h81m1 0h3m-309 1h1m65 0h2m30 0h2m14 0h2m4 0h1m38 0h2m4 0h2m15 0h1m29 0h2m2 0h2m2 0h1m1 0h1m2 0h84m-310 1h2m64 0h2m30 0h2m14 0h2m4 0h1m39 0h1m5 0h1m15 0h2m29 0h1m1 0h4m1 0h1m1 0h1m1 0h5m1 0h80m-245 1h2m30 0h2m14 0h2m4 0h1m39 0h1m5 0h1m15 0h2m29 0h2m1 0h1m1 0h1m1 0h2m3 0h86m-246 1h2m30 0h1m15 0h2m4 0h1m45 0h2m4 0h1m5 0h2m3 0h1m30 0h1m1 0h1m1 0h1m2 0h1m1 0h1m2 0h4m1 0h81m-248 1h3m26 0h2m2 0h1m15 0h2m4 0h1m45 0h2m4 0h2m5 0h1m3 0h2m29 0h1m1 0h2m1 0h4m3 0h4m1 0h82m-249 1h2m47 0h2m4 0h1m46 0h1m1 0h2m2 0h1m5 0h1m3 0h2m2 0h1m26 0h2m1 0h1m1 0h1m1 0h2m4 0h2m1 0h1m1 0h77m-245 1h2m47 0h1m4 0h1m47 0h1m2 0h1m2 0h2m9 0h1m2 0h2m26 0h1m3 0h4m4 0h10m1 0h72m-246 1h2m46 0h2m4 0h1m50 0h1m2 0h2m13 0h1m31 0h1m1 0h2m4 0h2m1 0h1m1 0h78m-303 1h1m55 0h2m8 0h1m37 0h2m4 0h1m54 0h1m47 0h2m4 0h10m-290 1h1m59 0h1m98 0h1m4 0h2m59 0h2m35 0h1m10 0h2m5 0h2m1 0h1m1 0h5m-293 1h4m58 0h1m98 0h2m3 0h2m59 0h2m35 0h2m10 0h1m-278 1h2m60 0h1m59 0h2m37 0h2m3 0h2m59 0h2m36 0h1m10 0h2m8 0h1m-226 1h1m59 0h2m37 0h2m3 0h2m60 0h1m36 0h2m10 0h1m11 0h74m-302 1h1m59 0h2m37 0h1m4 0h2m60 0h1m1 0h1m35 0h1m10 0h2m8 0h1m7 0h69m-243 1h2m37 0h1m4 0h2m60 0h4m34 0h2m10 0h1m17 0h11m1 0h62m-248 1h1m42 0h2m60 0h2m1 0h1m35 0h1m104 0h1m-251 1h1m42 0h2m61 0h1m1 0h1m35 0h2m104 0h2m-253 1h2m41 0h2m61 0h2m30 0h1m6 0h1m8 0h1m1 0h1m15 0h1m1 0h12m1 0h62m1 0h2m-301 1h2m46 0h2m41 0h2m61 0h2m30 0h2m5 0h2m7 0h4m14 0h2m1 0h1m1 0h8m1 0h64m1 0h1m-302 1h3m47 0h1m41 0h1m63 0h1m31 0h1m6 0h1m8 0h1m1 0h1m17 0h2m1 0h9m1 0h66m-303 1h1m87 0h1m2 0h1m16 0h1m46 0h1m27 0h1m10 0h2m7 0h2m19 0h6m1 0h2m2 0h67m-215 1h2m18 0h1m74 0h2m6 0h1m3 0h1m8 0h1m17 0h1m1 0h2m1 0h74m-245 1h1m30 0h1m19 0h1m75 0h1m6 0h1m30 0h2m1 0h1m1 0h7m1 0h2m1 0h59m-341 1h1m99 0h2m29 0h1m95 0h1m6 0h2m30 0h1m10 0h2m1 0h61m-342 1h2m98 0h1m120 0h1m5 0h2m6 0h1m12 0h1m17 0h2m1 0h1m9 0h2m1 0h60m21 0h2m-328 1h1m60 0h2m120 0h1m6 0h1m19 0h2m17 0h1m9 0h2m2 0h1m61 0h1m-308 1h2m60 0h2m120 0h2m5 0h1m11 0h1m8 0h1m17 0h2m11 0h4m61 0h2m2 0h2m-315 1h2m60 0h2m108 0h1m12 0h1m5 0h2m10 0h2m7 0h2m14 0h1m2 0h1m2 0h1m3 0h1m5 0h3m61 0h3m-312 1h2m60 0h2m108 0h2m11 0h2m5 0h1m11 0h1m8 0h1m19 0h1m5 0h2m2 0h2m1 0h2m1 0h1m1 0h2m1 0h1m1 0h52m1 0h2m-312 1h2m60 0h2m108 0h2m12 0h1m17 0h2m7 0h1m15 0h1m2 0h2m1 0h1m1 0h1m7 0h2m1 0h1m1 0h59m18 0h2m-330 1h2m115 0h2m54 0h1m12 0h1m18 0h1m7 0h2m19 0h1m5 0h1m3 0h1m2 0h1m2 0h4m1 0h55m-400 1h3m86 0h2m116 0h1m54 0h1m12 0h2m2 0h1m23 0h1m18 0h4m1 0h1m8 0h3m3 0h2m1 0h1m1 0h52m11 0h1m-411 1h1m86 0h3m116 0h1m68 0h1m2 0h2m22 0h2m18 0h2m5 0h1m3 0h1m1 0h3m4 0h1m2 0h54m-313 1h2m116 0h2m72 0h1m21 0h3m31 0h1m1 0h1m7 0h7m1 0h47m-314 1h2m117 0h1m72 0h1m22 0h2m34 0h2m6 0h1m1 0h53m2 0h1m-318 1h2m117 0h1m72 0h2m21 0h3m34 0h1m1 0h4m2 0h55m10 0h3m-328 1h1m191 0h1m58 0h2m3 0h2m3 0h5m1 0h48m-185 1h1m116 0h2m2 0h1m5 0h1m3 0h54m2 0h1m-208 1h1m18 0h2m84 0h1m30 0h2m2 0h1m4 0h1m4 0h51m-202 1h2m17 0h2m60 0h1m54 0h3m2 0h2m9 0h4m-156 1h1m17 0h2m60 0h2m59 0h1m9 0h5m-157 1h1m17 0h2m61 0h1m69 0h37m1 0h14m-186 1h2m61 0h1m55 0h3m13 0h4m1 0h49m-199 1h2m6 0h3m61 0h2m55 0h2m13 0h5m1 0h39m-190 1h2m6 0h3m62 0h1m10 0h2m48 0h1m9 0h3m1 0h5m1 0h36m11 0h2m-204 1h2m6 0h3m74 0h1m2 0h2m11 0h1m45 0h1m4 0h30m1 0h8m1 0h3m1 0h1m1 0h5m-204 1h2m5 0h4m74 0h1m3 0h1m55 0h4m3 0h12m1 0h18m1 0h12m-197 1h2m5 0h4m74 0h2m59 0h3m1 0h5m1 0h28m1 0h5m1 0h4m1 0h2m-199 1h2m5 0h4m75 0h1m62 0h1m4 0h28m1 0h17m-200 1h1m5 0h4m75 0h1m3 0h1m1 0h1m41 0h1m2 0h1m11 0h2m3 0h12m2 0h10m1 0h6m10 0h6m2 0h1m-204 1h1m5 0h4m75 0h2m2 0h4m9 0h1m30 0h2m18 0h3m1 0h9m1 0h18m10 0h5m-194 1h1m1 0h1m76 0h1m5 0h1m9 0h2m30 0h1m20 0h12m1 0h6m1 0h11m10 0h3m-193 1h1m1 0h1m93 0h1m16 0h1m13 0h2m19 0h13m1 0h15m1 0h2m1 0h5m1 0h6m-198 1h2m85 0h2m28 0h2m29 0h1m3 0h3m11 0h16m1 0h1m1 0h6m6 0h2m5 0h2m-207 1h2m86 0h1m62 0h2m1 0h2m11 0h6m1 0h11m1 0h7m7 0h1m-201 1h1m86 0h2m43 0h2m17 0h5m1 0h8m2 0h17m2 0h6m-193 1h1m86 0h2m20 0h1m2 0h2m4 0h2m13 0h1m34 0h6m1 0h3m2 0h3m4 0h7m-107 1h1m24 0h1m5 0h1m55 0h4m1 0h4m4 0h2m1 0h5m-78 1h2m67 0h3m1 0h1m2 0h2m13 0h1m-279 1h2m185 0h1m68 0h5m1 0h1m1 0h1m-266 1h2m185 0h2m35 0h2m17 0h1m1 0h3m2 0h3m4 0h6m-264 1h2m186 0h1m-190 1h2m159 0h1m26 0h2m13 0h1m25 0h8m31 0h2m-244 1h1m133 0h1m17 0h2m8 0h1m13 0h2m21 0h2m1 0h9m2 0h6m5 0h6m6 0h1m3 0h1m-242 1h2m132 0h2m13 0h2m2 0h1m23 0h1m23 0h1m4 0h6m7 0h1m6 0h5m4 0h3m-239 1h2m133 0h1m14 0h1m2 0h2m22 0h2m56 0h1m-237 1h2m148 0h2m2 0h1m35 0h2m13 0h1m12 0h2m-241 1h1m19 0h2m149 0h1m2 0h2m29 0h2m21 0h5m6 0h3m3 0h1m-247 1h2m18 0h2m153 0h1m30 0h1m37 0h3m4 0h3m3 0h1m-259 1h2m18 0h2m44 0h1m123 0h2m20 0h2m32 0h2m-229 1h2m44 0h1m3 0h1m120 0h1m8 0h2m11 0h1m16 0h5m6 0h2m-224 1h2m44 0h1m3 0h2m129 0h1m20 0h1m5 0h1m13 0h3m17 0h2m-245 1h2m44 0h2m2 0h2m1 0h1m191 0h1m-247 1h1m45 0h2m2 0h2m1 0h2m152 0h1m-209 1h1m45 0h2m2 0h5m183 0h1m13 0h1m-251 1h2m41 0h2m2 0h5m158 0h3m1 0h1m7 0h2m37 0h2m-263 1h1m41 0h2m2 0h5m154 0h1m4 0h5m-174 1h2m2 0h5m160 0h4m13 0h2m-372 1h2m181 0h2m3 0h1m1 0h2m160 0h5m4 0h1m6 0h1m1 0h1m-372 1h1m182 0h2m3 0h4m173 0h2m1 0h2m-187 1h1m3 0h2m1 0h1m176 0h2m-187 1h1m3 0h2m165 0h2m21 0h2m-193 1h2m165 0h3m-217 1h2m44 0h2m14 0h1m13 0h1m149 0h2m1 0h2m-232 1h2m44 0h2m14 0h1m13 0h2m119 0h2m27 0h2m36 0h2m-220 1h1m14 0h2m13 0h1m120 0h1m-153 1h1m14 0h2m13 0h2m107 0h1m12 0h2m-264 1h2m122 0h2m8 0h1m4 0h2m107 0h2m64 0h2m-317 1h2m122 0h2m8 0h2m4 0h1m108 0h1m30 0h1m9 0h3m-294 1h2m123 0h1m8 0h2m4 0h1m122 0h2m15 0h2m11 0h1m15 0h2m-312 1h2m123 0h1m8 0h2m4 0h2m121 0h1m1 0h1m40 0h1m-308 1h2m132 0h2m4 0h2m110 0h1m11 0h3m39 0h2m-340 1h2m29 0h2m104 0h1m28 0h1m5 0h1m110 0h2m10 0h3m4 0h1m61 0h1m-365 1h1m29 0h2m104 0h2m27 0h2m4 0h1m123 0h1m1 0h1m-312 1h1m43 0h1m104 0h2m27 0h2m4 0h2m123 0h2m-312 1h2m42 0h1m104 0h2m27 0h2m4 0h2m111 0h2m12 0h1m-312 1h1m147 0h2m27 0h2m5 0h1m112 0h1m54 0h2m-206 1h1m28 0h1m3 0h1m1 0h1m124 0h2m-163 1h1m28 0h1m3 0h4m-38 1h2m31 0h4m-38 1h2m31 0h2m1 0h1m125 0h2m-165 1h2m31 0h2m1 0h2m125 0h1m16 0h1m62 0h2m-313 1h2m65 0h2m32 0h4m125 0h2m15 0h2m10 0h2m37 0h2m-234 1h2m26 0h1m5 0h2m1 0h1m155 0h1m-206 1h2m10 0h1m26 0h2m4 0h2m1 0h1m-50 1h2m10 0h1m26 0h2m5 0h1m129 0h2m15 0h2m22 0h2m-312 1h3m89 0h2m38 0h1m5 0h1m130 0h1m-273 1h3m91 0h2m38 0h2m-137 1h1m94 0h1m38 0h2m-3 1h2m171 0h2m33 0h2m-268 1h2m27 0h1m28 0h1m-59 1h1m27 0h2m27 0h1m-60 1h2m27 0h2m27 0h2m-60 1h1m28 0h1m27 0h2m-60 1h1m57 0h1m-2 1h1m-2 1h2m-3 1h2m-2 1h1m-2 1h1m-176 1h1m149 0h2m19 0h1m56 0h2m1 0h2m17 0h1m4 0h1m5 0h2m8 0h1m11 0h1m1 0h2m7 0h1m16 0h1m1 0h1m2 0h1m12 0h2m33 0h1m5 0h1m5 0h3m6 0h2m3 0h1m1 0h2m15 0h2m16 0h2m6 0h1m4 0h1m2 0h1"/><path fill="none" stroke="#70f8e0" stroke-width="2" d="M481 77h8m-11 2h14m-16 2h4m10 0h4m-19 2h3m14 0h3m-22 2h3m18 0h2m-24 2h3m20 0h2m-25 2h2m22 0h2m-27 2h2m-41 2h1m65 2h2m-1 2h1m-51 1h1m47 29h2m-3 2h2m-3 2h3m-4 2h3m-4 2h3m-5 2h3m-6 2h5m-77 16h1m71 6h8m-8 3h8m-81 1h2m71 9h8m-9 4h9m-10 4h8m-10 15h8m-9 2h9m-8 2h9m-11 6h10m-10 2h11m-11 2h1m1 0h9m-67 2h1m55 1h11m-67 7h1m-62 1h59m1 1h1m50 2h14m-15 4h16m1 2h1m-64 1h1m43 2h18m-18 2h17m-17 2h18m-121 3h60m2 0h1m3 3h1m33 1h1m-105 1h65m4 1h1m8 1h1m20 4h1m1 0h19m-123 2h3m3 0h65m8 2h1m1 0h1m15 2h1m-20 1h1m16 0h1m4 0h22m-30 1h1m1 1h2m4 0h24m-42 1h2m-97 2h1m11 1h1m93 1h2m4 1h24m-134 3h2m98 1h2m1 0h25m-113 2h1m1 0h3m1 0h76m30 1h1m-113 2h3m1 0h107m-29 2h29m-116 2h1m1 0h3m81 3h31m-146 1h1m25 0h1m2 2h1m114 1h2m-115 3h3m104 1h5m-143 2h2m26 2h2m12 3h99m-102 5h1m-10 3h2m9 0h1m1 0h4m1 0h88m-156 2h1m48 0h2m16 0h84m1 0h4m-109 3h2m8 4h1m10 0h83m-92 1h3m-4 2h3m86 0h3m-93 2h3m-15 7h1m-137 1h1m134 1h1m27 1h72m1 0h4m-89 2h2m3 0h5m1 0h76m1 0h1m-9 2h4m-94 1h1m13 0h5m-36 2h1m15 0h1m1 0h1m11 0h2m1 0h2m1 0h74m-81 2h2m-3 2h2m1 0h2m-6 2h2m-26 1h1m8 0h1m93 0h4m-83 1h1m7 0h4m-37 1h1m104 0h2m-83 1h1m7 0h3m-4 2h1m10 4h1m-2 2h1m1 0h2m-11 2h1m67 0h2m-103 1h2m37 0h1m-64 1h1m61 1h1m12 1h45m-66 1h2m-48 2h1m49 0h1m65 0h1m-65 1h1m53 0h9m-52 2h1m-50 1h1m33 0h1m-48 1h3m9 1h1m48 0h1m-65 3h2m61 0h1m50 1h1m-71 1h1m23 0h9m28 0h3m-85 1h1m5 0h1m76 1h2m-44 1h2m28 0h1m-77 1h2m44 1h1m19 0h11m-78 1h2m42 0h1m-46 2h2m65 0h1m1 0h2m1 0h4m7 0h4m-91 1h1m70 1h3m-35 1h1m13 0h2m8 0h3m1 0h1m-12 1h5m11 0h2m2 0h1m9 0h3m-63 1h1m23 0h1m12 0h2m-49 1h1m21 0h1m49 0h1m-64 1h1m26 0h1m1 0h6m2 0h3m1 0h1m-18 1h1m25 0h1m3 0h1m-11 1h1m1 0h1m-19 1h6m11 1h2m13 0h1m-33 1h5m3 1h2m5 0h1m-26 1h1m56 1h2m-25 2h1m-27 1h3m11 2h1m8 1h1m8 1h1m-22 2h1m-14 1h2m-20 1h3m29 1h1m18 0h1m-24 1h1m-12 1h1m13 0h2m-4 2h3m-46 1h1m43 1h2m-35 1h1m3 0h1m1 1h1m25 0h2m-35 2h1m27 2h1m38 0h1m-70 3h1m16 0h1m10 1h2m-2 2h1m11 0h1m-14 2h2m-14 1h1m11 1h1m4 0h1"/><path fill="#60f080" d="M471 96h1v4h-1zm27 2h1v4h-1zm0 4h2v4h-2zm1 4h1v8h-1zm-1 10h1v4h-1zm-12 29h1v3h-1zm-1 3h2v3h-2zm0 4h3v3h-3zm-3 11h6v3h-6zm-2 4h7v3h-7zm-8 63h2v3h-2zm-1 10h1v6h-1zm-31 17h1v3h-1zm19 2h2v3h-2zm3 0h1v3h-1zm-4 5h1v3h-1zm-9 8h1v3h-1z"/><path fill="none" stroke="#60f080" stroke-width="1" d="M449 96.5h1m-4 1h3m1 0h1m-4 1h2m1 0h3m-20 1h1m8 0h1m1 0h1m1 0h1m1 0h3m1 0h6m11 0h1m-37 1h5m3 0h18m-25 1h7m1 0h20m-32 1h2m1 0h1m3 0h26m5 0h3m-43 1h37m-36 1h39m-40 3h43m-45 1h45m-44 1h1m1 0h1m1 0h40m-44 1h4m1 0h34m4 0h1m-49 1h38m-36 1h34m-32 1h29m-27 1h28m-31 1h30m-32 1h31m-26 1h25m-25 1h23m-26 1h26m-23 1h22m-26 1h26m-29 1h27m-26 1h27m-27 1h26m-24 1h23m-26 1h24m-23 1h24m-23 1h22m-23 1h21m-22 1h23m1 1h1m-25 2h23m-25 1h23m1 0h1m-28 1h26m-27 1h26m42 0h1m-65 1h21m1 0h1m-25 1h25m42 0h4m-73 1h26m44 0h3m-74 1h2m1 0h24m-26 1h25m-27 1h3m1 0h23m48 0h1m-72 1h22m-21 1h22m-24 1h2m2 0h1m1 0h17m1 0h1m-27 1h1m5 0h21m-29 1h1m6 0h17m1 0h2m-21 1h21m-22 1h21m-23 1h22m-22 1h2m2 0h18m47 0h3m-74 1h1m3 0h19m1 0h1m-22 1h21m-23 1h2m1 0h22m-26 1h1m1 0h1m1 0h21m14 0h1m31 0h4m-77 1h1m2 0h1m1 0h3m1 0h15m1 0h2m7 0h1m5 0h2m32 0h2m-73 1h2m1 0h1m1 0h18m1 0h2m2 0h1m1 0h2m3 0h3m2 0h1m-42 1h1m3 0h28m1 0h5m5 0h1m-41 1h1m1 0h33m1 0h1m30 0h5m-71 1h36m2 0h1m-40 1h1m1 0h39m-39 1h37m27 0h1m1 0h4m-73 1h43m1 0h1m-43 1h41m-41 1h42m21 0h1m-70 1h1m1 0h1m1 0h44m1 0h1m19 0h8m-71 1h42m-44 1h1m1 0h41m1 0h1m-46 1h1m1 0h42m-43 1h1m1 0h42m21 0h8m-74 1h1m1 0h1m2 0h40m4 0h1m14 0h1m1 0h7m-69 1h41m19 0h9m-70 1h42m1 0h1m-45 1h44m2 0h1m-48 1h43m1 0h2m17 0h10m-73 1h9m1 0h35m1 0h1m-47 1h8m2 0h37m-48 1h8m2 0h33m1 0h6m12 0h11m-74 1h2m2 0h4m2 0h41m11 0h11m-70 1h1m1 0h2m2 0h39m8 0h1m-52 1h1m2 0h42m4 0h1m-51 1h1m3 0h46m1 0h2m2 0h1m1 0h1m1 0h10m-70 1h1m3 0h46m1 0h3m4 0h12m-66 1h42m1 0h6m5 0h11m-66 1h51m4 0h12m-68 1h51m1 0h2m1 0h14m-70 1h55m1 0h13m-69 1h2m1 0h66m-69 1h1m1 0h67m-71 1h2m1 0h52m1 0h16m-72 1h1m1 0h68m-71 1h1m4 0h6m1 0h59m-67 1h6m1 0h60m-68 1h1m1 0h4m1 0h61m-67 1h1m1 0h2m1 0h61m-67 1h4m2 0h2m1 0h58m-66 1h2m2 0h2m1 0h59m-63 1h1m1 0h60m-62 1h2m1 0h59m-63 1h2m1 0h1m1 0h59m-65 1h1m3 0h3m1 0h57m-62 1h1m2 0h58m-59 1h1m1 0h57m-66 1h1m2 0h2m3 0h58m-58 1h3m1 0h53m-58 1h58m-58 1h3m1 0h54m-59 1h2m1 2h1m1 0h54m-56 1h56m-61 2h1m2 1h1m1 0h54m1 0h1m-62 1h1m5 0h1m1 0h48m1 0h3m-61 1h1m6 0h54m-53 1h51m1 0h1m-54 1h3m1 0h46m-51 1h51m-49 1h1m1 0h47m-49 1h49m-52 1h1m1 0h1m1 0h48m-53 1h2m1 0h48m1 0h1m-51 1h1m2 0h48m-54 1h1m2 0h3m1 0h1m1 0h45m-47 1h46m-54 1h1m8 0h46m-53 1h1m3 0h2m1 0h1m1 0h43m-55 1h1m8 0h1m1 0h1m1 0h42m-48 1h1m1 0h42m-41 1h41m-45 1h1m3 0h1m1 0h39m-44 1h1m2 0h43m-42 1h5m1 0h36m-43 1h43m-42 1h42m-44 1h44m-48 1h1m5 0h2m1 0h39m-42 1h41m-39 1h2m1 0h34m-37 1h36m-39 1h1m1 0h1m2 0h35m-38 1h2m3 0h32m-32 1h5m1 0h27m-39 1h1m2 0h36m-39 1h2m3 0h9m1 0h24m-34 1h4m-10 1h1m2 0h1m1 0h3m1 0h2m-10 1h1m4 0h26m1 0h6m-36 1h1m1 0h4m2 0h2m2 0h16m1 0h6m-36 1h1m1 0h6m2 0h1m1 0h21m-30 1h2m2 0h1m1 0h2m1 0h15m1 0h5m-28 1h1m2 0h3m1 0h21m-21 1h20m-29 1h1m2 0h1m6 0h1m3 0h16m-29 1h1m3 0h2m3 0h16m1 0h2m-31 1h1m9 0h3m1 0h13m1 0h3m-30 1h1m7 0h16m1 0h1m1 0h2m-19 1h1m11 0h2m-2 1h1m-10 1h10m-10 1h9m1 0h1m1 0h1m-19 1h1m1 0h1m4 0h2m1 0h5m-18 1h1m12 0h3m1 0h2m-5 1h1m9 0h1m-20 1h1m9 0h1m-12 1h1m4 0h2m1 0h2m1 0h2m3 0h2m-8 1h1m1 0h1m-8 1h1m1 1h1m7 3h1m-7 1h1m-6 14h1m-215 153h1m46 0h2m18 0h1m119 0h1"/><path fill="none" stroke="#60f080" stroke-width="2" d="M480 81h10m-12 2h3m8 0h3m-16 2h2m13 0h3m-19 2h2m16 0h2m-21 2h2m18 0h2m-23 2h2m20 0h2m-25 2h2m22 0h1m-25 2h1m24 0h1m-1 2h2m-60 3h1m29 1h3m-3 3h2m-39 2h39m27 9h2m-3 6h2m-2 2h1m-2 2h2m-3 2h2m-2 2h1m-3 2h2m-76 1h25m48 1h2m-4 2h3m-7 2h5m-7 21h4m-6 3h6m-74 4h1m64 9h9m-12 3h1m1 0h9m-22 2h1m-2 2h2m8 0h12m-59 28h55m-59 1h1m59 1h1m-59 2h1m1 0h55m-58 8h2m-2 6h1m3 5h1m1 9h2m-3 3h1m5 0h1m-2 3h1m7 1h2m1 0h24m-40 3h1m36 1h1m-33 2h2m5 1h1m1 1h1m-2 4h1m5 0h7m-16 1h1m3 1h2m3 3h1m-3 1h1m3 0h1m4 0h1m5 1h1m-12 2h1m0 2h1m2 0h1m-7 7h1m-2 5h1"/><path fill="#58f020" d="M472 98h1v4h-1zm25 2h1v6h-1zm-26 4h1v7h-1zm26 2h2v8h-2zm0 8h1v4h-1z"/><path fill="none" stroke="#58f020" stroke-width="1" d="M466 110.5h4m-10 1h12m-14 1h14m-17 1h17m-16 1h15m1 0h1m-18 1h16m-17 1h16m-17 1h16m-19 3h18m-18 1h16m-18 1h18m-17 1h16m-17 1h17m-18 1h18m-20 1h19m-18 1h19m-20 1h18m-20 1h20m-19 1h19m-19 1h1m1 0h16m-18 1h18m16 1h1m-37 1h1m39 0h8m-48 1h18m23 0h7m-49 1h19m17 0h2m2 0h2m1 0h2m-46 1h1m1 0h18m16 0h10m-44 1h17m1 0h1m14 0h9m-10 1h11m-11 1h15m-49 1h19m14 0h16m-49 1h20m13 0h15m-49 1h20m12 0h17m-48 1h18m13 0h16m-48 1h1m1 0h16m1 0h2m10 0h16m-45 1h18m10 0h17m-50 1h1m2 0h20m9 0h18m-47 1h19m10 0h17m-47 1h20m2 0h1m6 0h18m-48 1h22m3 0h1m3 0h19m-48 1h25m4 0h18m-48 1h1m1 0h25m1 0h21m-48 1h48m-46 1h46m-47 1h14m1 0h31m-49 1h1m2 0h7m1 0h5m2 0h32m-48 1h1m2 0h2m1 0h1m2 0h3m3 0h2m1 0h29m-39 1h1m5 0h5m1 0h27m-33 1h1m1 0h30m-30 1h2m1 0h26m-25 1h25m-27 1h27m1 0h1m-26 1h1m1 0h22m-24 1h24m-23 1h21m1 0h1m-23 1h1m1 0h19m-21 1h21m-22 1h1m1 0h20m-22 1h22m-21 1h21m-21 1h4m1 0h14m1 0h1m-21 1h19m-19 1h1m1 0h18m-19 1h2m1 0h16m-21 1h1m2 0h17m-18 1h1m-4 2h1m8 0h10m-10 1h9m-14 1h3m2 0h3m1 0h4m-11 1h1m2 0h1m1 0h6m-7 1h1m2 0h2m1 0h1m1 0h1m-10 1h1m3 0h4m-12 1h1m6 0h5m-4 1h4m-5 1h1m0 4h1m-238 251h1m103 0h1m76 0h1"/><path fill="none" stroke="#58f020" stroke-width="2" d="M481 83h8m-11 2h4m6 0h3m-14 2h2m12 0h2m-17 2h1m15 0h2m-19 2h1m17 0h2m-21 2h1m19 0h2m-23 2h1m21 0h2m-25 2h2m22 0h1m-1 2h2m-27 4h2m-22 16h17m28 0h2m-2 2h1m-2 2h2m-2 2h1m-2 2h1m-2 2h2m-4 2h2m-4 2h3m-48 1h17m-20 6h19m2 37h14m1 0h1m-14 2h1m7 8h1"/><path fill="#68e800" d="M474 94h1v4h-1zm21 2h1v4h-1zm-22 2h1v4h-1zm23 2h1v6h-1zm-24 4h1v10h-1zm24 10h1v4h-1zm-31 9h7v3h-7z"/><path fill="none" stroke="#68e800" stroke-width="1" d="M471 114.5h1m-1 1h2m-3 1h4m-5 1h5m-6 3h5m-9 6h7m-6 1h6m-8 1h8m-9 3h10m8 0h1m-19 1h11m4 0h7m-23 1h13m2 0h2m1 0h5m-23 1h21m-22 1h23m-23 1h17m2 0h2m-21 1h16m-17 1h1m1 0h14m-16 3h14m-13 1h13m-14 1h12m-13 1h13m-14 1h1m2 0h10m-11 1h10m-10 1h9m-10 1h10m-10 1h2m1 0h6m-8 1h3m1 0h3m-4 1h4m-3 1h1m-230 289h1m171 0h1"/><path fill="none" stroke="#68e800" stroke-width="2" d="M482 85h6m-9 2h2m8 0h2m-14 2h2m12 0h1m-16 2h1m15 0h1m-18 2h1m17 0h1m0 2h1m-27 24h6m21 2h1m-30 1h7m21 3h1m-2 2h1m-3 2h2m-30 1h9m6 1h1m11 0h1m-5 2h3m-29 7h14"/><path fill="#88f000" d="M494 96h1v4h-1zm-20 2h1v4h-1zm21 2h1v6h-1zm-22 2h1v14h-1zm23 4h1v8h-1zm-1 8h1v6h-1zm-21 2h1v4h-1zm-1 4h3v3h-3z"/><path fill="none" stroke="#88f000" stroke-width="1" d="M472 125.5h6m-7 1h7m-7 1h8m-8 1h9m-8 1h8m-1 1h5m-5 1h1m1 0h3m-11 1h4m-3 1h2"/><path fill="none" stroke="#88f000" stroke-width="2" d="M481 87h8m-10 2h2m8 0h2m-14 2h2m12 0h1m-16 2h2m14 0h1m-18 2h2m16 0h1m-19 2h1m18 24h1m-2 2h2m-23 1h5m15 1h2m-3 2h2m-3 2h1m-19 2h6m8 0h4m-6 2h2"/><path fill="#a8f010" d="M493 100h2v6h-2zm-19 4h2v12h-2zm20 2h2v8h-2zm-1 8h2v4h-2zm-18 2h2v4h-2z"/><path fill="none" stroke="#a8f010" stroke-width="1" d="M476 122.5h3m-2 1h2m-2 1h4m-3 1h3m-3 1h6m-5 1h5"/><path fill="none" stroke="#a8f010" stroke-width="2" d="M481 89h8m-10 2h12m-13 2h3m7 0h4m-15 2h3m10 0h3m-17 2h2m13 0h3m-19 2h3m14 0h2m-19 2h2m-3 2h3m15 16h3m-19 2h2m14 0h2m-3 2h2m-4 2h3m-6 2h5m-11 2h10m-6 2h2"/><path fill="#d0f820" d="M489 100h4v4h-4zm1 6h4v4h-4zm-14 2h4v8h-4z"/><path fill="none" stroke="#d0f820" stroke-width="2" d="M481 93h7m-8 2h10m-12 2h13m-13 2h14m-15 2h7m-7 2h6m-7 2h6m8 0h3m-17 2h5m8 4h5m-6 2h6m-7 2h6m-16 2h4m5 0h7m-16 2h5m3 0h7m-14 2h14m-13 2h12m-10 2h8m-5 2h2"/><path fill="#f0f838" d="M488 104h2v6h-2zm-8 6h1v4h-1z"/><path fill="none" stroke="#f0f838" stroke-width="2" d="M484 101h5m-6 2h2m3 0h1m-7 2h2m-3 2h2m-3 2h2m5 2h2m-3 2h2m-8 2h2m3 0h2m-6 2h5m-4 2h3"/><path fill="#ffb820" d="M481 110h1v4h-1z"/><path fill="none" stroke="#ffb820" stroke-width="2" d="M485 103h3m-4 2h1m2 0h1m-6 4h1m4 0h1m-6 6h1m1 0h1"/><path fill="#ff7820" d="M482 110h1v4h-1z"/><path fill="none" stroke="#ff7820" stroke-width="2" d="M485 105h2m-4 2h1m3 0h1m-2 4h1m-2 2h1m-3 2h1"/><path fill="#ff2e2e" d="M486 106h1v4h-1z"/><path fill="none" stroke="#ff2e2e" stroke-width="2" d="M484 107h1m-2 2h1m1 2h1m-3 2h2"/><path fill="none" stroke="#ff1a1a" stroke-width="2" d="M485 107h1m-3 4h1"/><path fill="none" stroke="#d00800" stroke-width="2" d="M484 109h2m-2 2h1"/></g>
<g fill="none" stroke="#0a0a0a">
<rect x="919.8" y="183.7" width="1973.6" height="866.5" stroke-width="1.8"/>
<path d="M1000.2 261.8H2696.6V321.3L2755.6 380.3H2813.5V972.7H1000.2Z" stroke-width="2.2"/>
<path d="M2704.2 329.8L2758.2 275.7L2799.5 317.2L2745.3 371.5" stroke-width="4" stroke-linejoin="miter"/>
<path d="M2720.5 317.7 L2735.6 333.3 L2730.6 338.1 L2715.5 322.5Z" stroke-width="1.8"/>
<path d="M2742.4 339.4 L2758.1 355.1 L2753.1 360.1 L2737.4 344.4Z" stroke-width="1.8"/>
<path d="M1397.5 420H1538M1777 420H1882M2119 420H2635" stroke-width="5.6"/>
<path d="M2635 420Q2652 419 2669.5 404.2L2741 336" stroke-width="3.6"/>
<path d="M2635 421H2708M2672 404V421M2708 417V424" stroke-width="1.6"/>
<path d="M1539 410.5H1777M1539 418H1777M1539 421.8H1777M1539 428.9H1777" stroke-width="1.6"/>
<path d="M1539 412V428M1777 412V428" stroke-width="2.4"/>
<path d="M1882 410.5H2119M1882 418H2119M1882 421.8H2119M1882 428.9H2119" stroke-width="1.6"/>
<path d="M1882 412V428M2119 412V428" stroke-width="2.4"/>
</g>
<path d="M2738.2 332.2L2746.9 322.4L2753.9 328.4L2744.7 337.6Z" fill="#a00000" stroke="#0a0a0a" stroke-width="1.8"/>
<g fill="#0a0a0a">
<rect x="840.2" y="99.2" width="5.6" height="1033.4"/>
<rect x="2969.2" y="99.2" width="4.8" height="1031"/>
<rect x="840.2" y="99.2" width="2133.8" height="5.4"/>
<rect x="840.2" y="1127.9" width="2131.8" height="4.8"/>
<rect x="1001.2" y="1113.6" width="4.4" height="15"/>
<rect x="1395.7" y="1113.6" width="4.4" height="15"/>
<rect x="1790.2" y="1113.6" width="4.4" height="15"/>
<rect x="2185.1" y="1113.6" width="4.4" height="15"/>
<rect x="2579.8" y="1113.6" width="4.4" height="15"/>
<rect x="845" y="260.2" width="14.5" height="4.4"/><rect x="859" y="261.4" width="9" height="2"/>
<rect x="845" y="418.1" width="14.5" height="4.4"/><rect x="859" y="419.3" width="9" height="2"/>
<rect x="845" y="575.7" width="14.5" height="4.4"/><rect x="859" y="576.9" width="9" height="2"/>
<rect x="845" y="733.3" width="14.5" height="4.4"/><rect x="859" y="734.5" width="9" height="2"/>
<rect x="845" y="890.8" width="14.5" height="4.4"/><rect x="859" y="892.0" width="9" height="2"/>
<rect x="845" y="1048.4" width="14.5" height="4.4"/><rect x="859" y="1049.6" width="9" height="2"/>
</g>
<text x="1902.5" y="61" text-anchor="middle" font-size="66.5">front end of waste beam barrel, scaling factor: 0.990 11</text>
<text transform="translate(720.60,119.60) scale(1,1.04)" font-size="66">400</text>
<text transform="translate(720.60,277.75) scale(1,1.04)" font-size="66">200</text>
<text transform="translate(786.60,435.90) scale(1,1.04)" font-size="66">0</text>
<text transform="translate(720.60,594.05) scale(1,1.04)" font-size="66">200</text>
<rect x="682.60" y="569.90" width="35.30" height="3.1" fill="#0a0a0a"/>
<text transform="translate(720.60,752.20) scale(1,1.04)" font-size="66">400</text>
<rect x="682.60" y="728.05" width="35.30" height="3.1" fill="#0a0a0a"/>
<text transform="translate(720.60,910.35) scale(1,1.04)" font-size="66">600</text>
<rect x="682.60" y="886.20" width="35.30" height="3.1" fill="#0a0a0a"/>
<text transform="translate(720.60,1068.50) scale(1,1.04)" font-size="66">800</text>
<rect x="682.60" y="1044.35" width="35.30" height="3.1" fill="#0a0a0a"/>
<text transform="translate(972.25,1200.60) scale(1,1.04)" font-size="66">500</text>
<rect x="934.80" y="1176.25" width="35.20" height="3.1" fill="#0a0a0a"/>
<text transform="translate(1380.95,1200.60) scale(1,1.04)" font-size="66">0</text>
<text transform="translate(1741.95,1200.60) scale(1,1.04)" font-size="66">500</text>
<text transform="translate(2120.90,1200.60) scale(1,1.04)" font-size="66">1000</text>
<text transform="translate(2516.30,1200.60) scale(1,1.04)" font-size="66">1500</text>
<text transform="translate(2904.05,1200.60) scale(1,1.04)" font-size="66">2000</text>
<text x="1906" y="1272.6" text-anchor="middle" font-size="66"><tspan font-style="italic">z</tspan>/cm</text>
<text transform="translate(658.8,615) rotate(-90)" text-anchor="middle" font-size="66"><tspan font-style="italic">x</tspan>/cm</text>
<text transform="translate(3393,616) rotate(-90)" text-anchor="middle" font-size="66">dose equivalent/(μSv·h<tspan font-size="41" dy="-24">−1</tspan><tspan dy="24">)</tspan></text>
<text transform="translate(3145.40,119.00) scale(1,1.04)" font-size="66">1E+10</text>
<text transform="translate(3145.40,249.40) scale(1,1.04)" font-size="66">1E+08</text>
<text transform="translate(3145.40,379.80) scale(1,1.04)" font-size="66">1E+06</text>
<text transform="translate(3145.40,510.20) scale(1,1.04)" font-size="66">1E+04</text>
<text transform="translate(3145.40,640.60) scale(1,1.04)" font-size="66">1E+02</text>
<text transform="translate(3145.40,771.00) scale(1,1.04)" font-size="66">1E+00</text>
<text transform="translate(3145.90,901.40) scale(1,1.04)" font-size="66">1E</text>
<rect x="3219.20" y="877.15" width="34.30" height="3.1" fill="#0a0a0a"/>
<text transform="translate(3254.20,901.40) scale(1,1.04)" font-size="66">02</text>
<text transform="translate(3145.90,1031.80) scale(1,1.04)" font-size="66">1E</text>
<rect x="3219.20" y="1007.55" width="34.30" height="3.1" fill="#0a0a0a"/>
<text transform="translate(3254.20,1031.80) scale(1,1.04)" font-size="66">04</text>
<text transform="translate(3145.90,1162.20) scale(1,1.04)" font-size="66">1E</text>
<rect x="3219.20" y="1137.95" width="34.30" height="3.1" fill="#0a0a0a"/>
<text transform="translate(3254.20,1162.20) scale(1,1.04)" font-size="66">06</text>
<rect x="3014" y="101" width="106" height="35.5" fill="#0a0c0c"/>
<rect x="3014" y="136" width="106" height="32.8" fill="#200c10"/>
<rect x="3014" y="168.3" width="106" height="32.5" fill="#550000"/>
<rect x="3014" y="200.3" width="106" height="39.8" fill="#960000"/>
<rect x="3014" y="239.6" width="106" height="33.4" fill="#d00800"/>
<rect x="3014" y="272.5" width="106" height="32.0" fill="#ff1a1a"/>
<rect x="3014" y="304" width="106" height="33.5" fill="#ff2e2e"/>
<rect x="3014" y="337" width="106" height="40.5" fill="#ff7820"/>
<rect x="3014" y="377" width="106" height="31.8" fill="#ffb820"/>
<rect x="3014" y="408.3" width="106" height="33.2" fill="#f0f838"/>
<rect x="3014" y="441" width="106" height="37.5" fill="#d0f820"/>
<rect x="3014" y="478" width="106" height="35.0" fill="#a8f010"/>
<rect x="3014" y="512.5" width="106" height="32.5" fill="#88f000"/>
<rect x="3014" y="544.5" width="106" height="33.0" fill="#68e800"/>
<rect x="3014" y="577" width="106" height="39.9" fill="#58f020"/>
<rect x="3014" y="616.4" width="106" height="32.4" fill="#60f080"/>
<rect x="3014" y="648.3" width="106" height="33.8" fill="#70f8e0"/>
<rect x="3014" y="681.6" width="106" height="31.8" fill="#50b0e8"/>
<rect x="3014" y="712.9" width="106" height="40.6" fill="#0838f8"/>
<rect x="3014" y="753" width="106" height="32.5" fill="#0828e0"/>
<rect x="3014" y="785" width="106" height="32.5" fill="#0820c8"/>
<rect x="3014" y="817" width="106" height="33.1" fill="#1810f8"/>
<rect x="3014" y="849.6" width="106" height="39.9" fill="#3a20f8"/>
<rect x="3014" y="889" width="106" height="33.2" fill="#5a20f8"/>
<rect x="3014" y="921.7" width="106" height="32.2" fill="#8028f8"/>
<rect x="3014" y="953.4" width="106" height="37.4" fill="#b858f8"/>
<rect x="3014" y="990.3" width="106" height="36.2" fill="#c880f8"/>
<rect x="3014" y="1026" width="106" height="32.9" fill="#dca8f8"/>
<rect x="3014" y="1058.4" width="106" height="31.4" fill="#dcdfdc"/>
<rect x="3014" y="1089.3" width="106" height="42.2" fill="#ffffff"/>
<g fill="#0a0a0a">
<rect x="3012.2" y="101" width="110.4" height="4.6"/>
<rect x="3012.2" y="1126.6" width="110.4" height="4.6"/>
<rect x="3012.2" y="101" width="4.6" height="1030.2"/>
<rect x="3118" y="101" width="4.6" height="1030.2"/>
<rect x="3016" y="105.4" width="5" height="2.2"/><rect x="3113.6" y="105.4" width="5" height="2.2"/>
<rect x="3016" y="109.1" width="5" height="2.2"/><rect x="3113.6" y="109.1" width="5" height="2.2"/>
<rect x="3016" y="113.4" width="5" height="2.2"/><rect x="3113.6" y="113.4" width="5" height="2.2"/>
<rect x="3016" y="118.4" width="5" height="2.2"/><rect x="3113.6" y="118.4" width="5" height="2.2"/>
<rect x="3016" y="124.5" width="5" height="2.2"/><rect x="3113.6" y="124.5" width="5" height="2.2"/>
<rect x="3016" y="132.3" width="5" height="2.2"/><rect x="3113.6" y="132.3" width="5" height="2.2"/>
<rect x="3016" y="143.2" width="5" height="2.2"/><rect x="3113.6" y="143.2" width="5" height="2.2"/>
<rect x="3016" y="161.3" width="5" height="2.2"/><rect x="3113.6" y="161.3" width="5" height="2.2"/>
<rect x="3016" y="230.5" width="10" height="2.2"/><rect x="3108.6" y="230.5" width="10" height="2.2"/>
<rect x="3016" y="233.8" width="5" height="2.2"/><rect x="3113.6" y="233.8" width="5" height="2.2"/>
<rect x="3016" y="237.5" width="5" height="2.2"/><rect x="3113.6" y="237.5" width="5" height="2.2"/>
<rect x="3016" y="241.7" width="5" height="2.2"/><rect x="3113.6" y="241.7" width="5" height="2.2"/>
<rect x="3016" y="246.7" width="5" height="2.2"/><rect x="3113.6" y="246.7" width="5" height="2.2"/>
<rect x="3016" y="252.8" width="5" height="2.2"/><rect x="3113.6" y="252.8" width="5" height="2.2"/>
<rect x="3016" y="260.6" width="5" height="2.2"/><rect x="3113.6" y="260.6" width="5" height="2.2"/>
<rect x="3016" y="271.5" width="5" height="2.2"/><rect x="3113.6" y="271.5" width="5" height="2.2"/>
<rect x="3016" y="289.6" width="5" height="2.2"/><rect x="3113.6" y="289.6" width="5" height="2.2"/>
<rect x="3016" y="358.9" width="10" height="2.2"/><rect x="3108.6" y="358.9" width="10" height="2.2"/>
<rect x="3016" y="362.1" width="5" height="2.2"/><rect x="3113.6" y="362.1" width="5" height="2.2"/>
<rect x="3016" y="365.8" width="5" height="2.2"/><rect x="3113.6" y="365.8" width="5" height="2.2"/>
<rect x="3016" y="370.1" width="5" height="2.2"/><rect x="3113.6" y="370.1" width="5" height="2.2"/>
<rect x="3016" y="375.1" width="5" height="2.2"/><rect x="3113.6" y="375.1" width="5" height="2.2"/>
<rect x="3016" y="381.2" width="5" height="2.2"/><rect x="3113.6" y="381.2" width="5" height="2.2"/>
<rect x="3016" y="389.0" width="5" height="2.2"/><rect x="3113.6" y="389.0" width="5" height="2.2"/>
<rect x="3016" y="399.9" width="5" height="2.2"/><rect x="3113.6" y="399.9" width="5" height="2.2"/>
<rect x="3016" y="418.0" width="5" height="2.2"/><rect x="3113.6" y="418.0" width="5" height="2.2"/>
<rect x="3016" y="487.2" width="10" height="2.2"/><rect x="3108.6" y="487.2" width="10" height="2.2"/>
<rect x="3016" y="490.5" width="5" height="2.2"/><rect x="3113.6" y="490.5" width="5" height="2.2"/>
<rect x="3016" y="494.2" width="5" height="2.2"/><rect x="3113.6" y="494.2" width="5" height="2.2"/>
<rect x="3016" y="498.4" width="5" height="2.2"/><rect x="3113.6" y="498.4" width="5" height="2.2"/>
<rect x="3016" y="503.4" width="5" height="2.2"/><rect x="3113.6" y="503.4" width="5" height="2.2"/>
<rect x="3016" y="509.5" width="5" height="2.2"/><rect x="3113.6" y="509.5" width="5" height="2.2"/>
<rect x="3016" y="517.3" width="5" height="2.2"/><rect x="3113.6" y="517.3" width="5" height="2.2"/>
<rect x="3016" y="528.2" width="5" height="2.2"/><rect x="3113.6" y="528.2" width="5" height="2.2"/>
<rect x="3016" y="546.3" width="5" height="2.2"/><rect x="3113.6" y="546.3" width="5" height="2.2"/>
<rect x="3016" y="615.6" width="10" height="2.2"/><rect x="3108.6" y="615.6" width="10" height="2.2"/>
<rect x="3016" y="618.8" width="5" height="2.2"/><rect x="3113.6" y="618.8" width="5" height="2.2"/>
<rect x="3016" y="622.5" width="5" height="2.2"/><rect x="3113.6" y="622.5" width="5" height="2.2"/>
<rect x="3016" y="626.8" width="5" height="2.2"/><rect x="3113.6" y="626.8" width="5" height="2.2"/>
<rect x="3016" y="631.8" width="5" height="2.2"/><rect x="3113.6" y="631.8" width="5" height="2.2"/>
<rect x="3016" y="637.9" width="5" height="2.2"/><rect x="3113.6" y="637.9" width="5" height="2.2"/>
<rect x="3016" y="645.7" width="5" height="2.2"/><rect x="3113.6" y="645.7" width="5" height="2.2"/>
<rect x="3016" y="656.6" width="5" height="2.2"/><rect x="3113.6" y="656.6" width="5" height="2.2"/>
<rect x="3016" y="674.7" width="5" height="2.2"/><rect x="3113.6" y="674.7" width="5" height="2.2"/>
<rect x="3016" y="743.9" width="10" height="2.2"/><rect x="3108.6" y="743.9" width="10" height="2.2"/>
<rect x="3016" y="747.2" width="5" height="2.2"/><rect x="3113.6" y="747.2" width="5" height="2.2"/>
<rect x="3016" y="750.9" width="5" height="2.2"/><rect x="3113.6" y="750.9" width="5" height="2.2"/>
<rect x="3016" y="755.1" width="5" height="2.2"/><rect x="3113.6" y="755.1" width="5" height="2.2"/>
<rect x="3016" y="760.1" width="5" height="2.2"/><rect x="3113.6" y="760.1" width="5" height="2.2"/>
<rect x="3016" y="766.2" width="5" height="2.2"/><rect x="3113.6" y="766.2" width="5" height="2.2"/>
<rect x="3016" y="774.0" width="5" height="2.2"/><rect x="3113.6" y="774.0" width="5" height="2.2"/>
<rect x="3016" y="784.9" width="5" height="2.2"/><rect x="3113.6" y="784.9" width="5" height="2.2"/>
<rect x="3016" y="803.0" width="5" height="2.2"/><rect x="3113.6" y="803.0" width="5" height="2.2"/>
<rect x="3016" y="872.3" width="10" height="2.2"/><rect x="3108.6" y="872.3" width="10" height="2.2"/>
<rect x="3016" y="875.5" width="5" height="2.2"/><rect x="3113.6" y="875.5" width="5" height="2.2"/>
<rect x="3016" y="879.2" width="5" height="2.2"/><rect x="3113.6" y="879.2" width="5" height="2.2"/>
<rect x="3016" y="883.5" width="5" height="2.2"/><rect x="3113.6" y="883.5" width="5" height="2.2"/>
<rect x="3016" y="888.5" width="5" height="2.2"/><rect x="3113.6" y="888.5" width="5" height="2.2"/>
<rect x="3016" y="894.6" width="5" height="2.2"/><rect x="3113.6" y="894.6" width="5" height="2.2"/>
<rect x="3016" y="902.4" width="5" height="2.2"/><rect x="3113.6" y="902.4" width="5" height="2.2"/>
<rect x="3016" y="913.3" width="5" height="2.2"/><rect x="3113.6" y="913.3" width="5" height="2.2"/>
<rect x="3016" y="931.4" width="5" height="2.2"/><rect x="3113.6" y="931.4" width="5" height="2.2"/>
<rect x="3016" y="1000.6" width="10" height="2.2"/><rect x="3108.6" y="1000.6" width="10" height="2.2"/>
<rect x="3016" y="1003.9" width="5" height="2.2"/><rect x="3113.6" y="1003.9" width="5" height="2.2"/>
<rect x="3016" y="1007.6" width="5" height="2.2"/><rect x="3113.6" y="1007.6" width="5" height="2.2"/>
<rect x="3016" y="1011.8" width="5" height="2.2"/><rect x="3113.6" y="1011.8" width="5" height="2.2"/>
<rect x="3016" y="1016.8" width="5" height="2.2"/><rect x="3113.6" y="1016.8" width="5" height="2.2"/>
<rect x="3016" y="1022.9" width="5" height="2.2"/><rect x="3113.6" y="1022.9" width="5" height="2.2"/>
<rect x="3016" y="1030.7" width="5" height="2.2"/><rect x="3113.6" y="1030.7" width="5" height="2.2"/>
<rect x="3016" y="1041.6" width="5" height="2.2"/><rect x="3113.6" y="1041.6" width="5" height="2.2"/>
<rect x="3016" y="1059.7" width="5" height="2.2"/><rect x="3113.6" y="1059.7" width="5" height="2.2"/>
</g>
</svg></body></html>
